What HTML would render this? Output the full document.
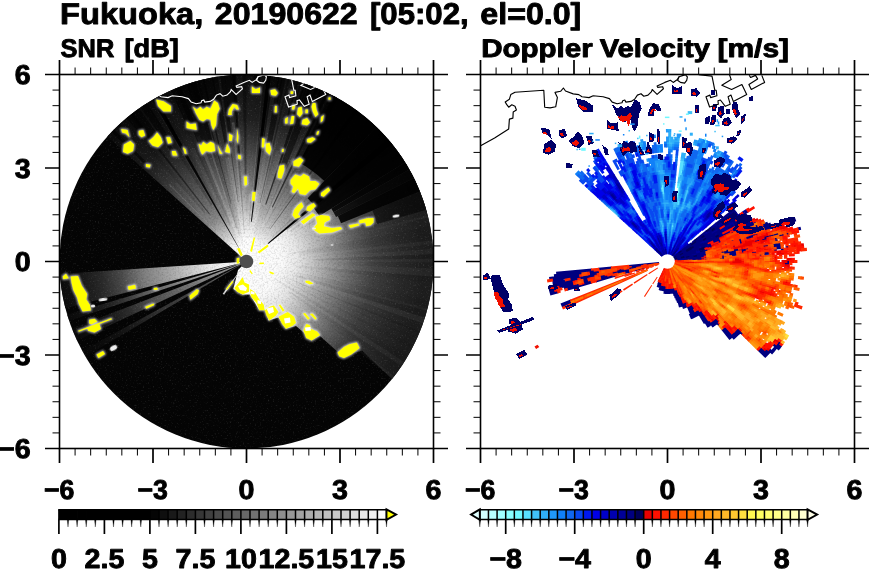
<!DOCTYPE html>
<html><head><meta charset="utf-8"><title>Fukuoka radar</title>
<style>
html,body{margin:0;padding:0;background:#fff;}
svg{display:block;will-change:transform}
text{font-family:"Liberation Sans",sans-serif;font-weight:bold;fill:#000;stroke:#000;stroke-width:0.9px;stroke-linejoin:round;text-rendering:geometricPrecision}
</style></head><body>
<svg width="870" height="570" viewBox="0 0 870 570">
<rect width="870" height="570" fill="#fff"/>
<defs>
<clipPath id="disc"><circle cx="246.5" cy="261.5" r="187.0"/></clipPath>
<radialGradient id="gN" gradientUnits="userSpaceOnUse" cx="246.5" cy="261.5" r="187.0">
<stop offset="0" stop-color="#fff"/><stop offset="0.12" stop-color="#fcfcfc"/><stop offset="0.2" stop-color="#e2e2e2"/><stop offset="0.28" stop-color="#c0c0c0"/><stop offset="0.36" stop-color="#9e9e9e"/><stop offset="0.44" stop-color="#808080"/><stop offset="0.52" stop-color="#666"/><stop offset="0.6" stop-color="#4c4c4c"/><stop offset="0.68" stop-color="#363636"/><stop offset="0.76" stop-color="#242424"/><stop offset="1" stop-color="#101010"/></radialGradient>
<radialGradient id="gE" gradientUnits="userSpaceOnUse" cx="246.5" cy="261.5" r="187.0">
<stop offset="0" stop-color="#fff"/><stop offset="0.19" stop-color="#fafafa"/><stop offset="0.27" stop-color="#e8e8e8"/><stop offset="0.37" stop-color="#bcbcbc"/><stop offset="0.475" stop-color="#8c8c8c"/><stop offset="0.58" stop-color="#606060"/><stop offset="0.68" stop-color="#404040"/><stop offset="0.82" stop-color="#2a2a2a"/><stop offset="0.95" stop-color="#1e1e1e"/></radialGradient>
<radialGradient id="gW" gradientUnits="userSpaceOnUse" cx="246.5" cy="261.5" r="187.0">
<stop offset="0" stop-color="#fff"/><stop offset="0.2" stop-color="#e8e8e8"/><stop offset="0.42" stop-color="#a4a4a4"/><stop offset="0.55" stop-color="#808080"/><stop offset="0.68" stop-color="#484848"/><stop offset="0.78" stop-color="#2a2a2a"/><stop offset="0.9" stop-color="#161616"/><stop offset="1" stop-color="#0c0c0c"/></radialGradient>
<radialGradient id="gD" gradientUnits="userSpaceOnUse" cx="246.5" cy="261.5" r="187.0">
<stop offset="0.15" stop-color="#000" stop-opacity="0"/><stop offset="0.45" stop-color="#000" stop-opacity="0.06"/><stop offset="1" stop-color="#000" stop-opacity="0.06"/></radialGradient>
<radialGradient id="gD2" gradientUnits="userSpaceOnUse" cx="246.5" cy="261.5" r="187.0">
<stop offset="0.08" stop-color="#000" stop-opacity="0"/><stop offset="0.28" stop-color="#000" stop-opacity="1"/><stop offset="1" stop-color="#000" stop-opacity="1"/></radialGradient>
<filter id="halo" x="-10%" y="-10%" width="120%" height="120%"><feGaussianBlur stdDeviation="0.9"/></filter>
<filter id="noise" x="0" y="0" width="100%" height="100%"><feTurbulence type="fractalNoise" baseFrequency="0.55" numOctaves="2" seed="4" result="t"/><feColorMatrix type="matrix" values="0 0 0 0 0  0 0 0 0 0  0 0 0 0 0  0 0 0 -2.4 1.35"/></filter>
<filter id="noisew" x="0" y="0" width="100%" height="100%"><feTurbulence type="fractalNoise" baseFrequency="0.6" numOctaves="2" seed="11" result="t"/><feColorMatrix type="matrix" values="0 0 0 0 1  0 0 0 0 1  0 0 0 0 1  0 0 0 3.2 -1.9"/></filter>
<filter id="blur1"><feGaussianBlur stdDeviation="0.7"/></filter>
</defs>
<g clip-path="url(#disc)">
<circle cx="246.5" cy="261.5" r="188.0" fill="#050505"/>
<polygon points="105.3,134.4 114.8,124.6 124.9,115.5 135.6,107.2 146.9,99.7 158.8,93.0 171.0,87.1 183.7,82.2 196.7,78.1 209.9,75.1 223.3,72.9 236.9,71.7 250.5,71.5 264.1,72.3 277.5,74.1 290.9,76.7 304.0,80.4 316.8,85.0 329.2,90.4 341.2,96.8 352.7,104.0 363.7,112.0 374.1,120.7 383.9,130.2 392.9,140.4 401.2,151.2 408.7,162.5 415.3,174.4 421.1,186.7 426.0,199.3 430.0,212.3 246.5,261.5" fill="url(#gN)"/>
<polygon points="246.5,261.5 392.0,139.4 400.2,149.8 407.6,160.8 414.3,172.3 420.1,184.2 425.0,196.5 429.1,209.1 432.3,222.0 434.7,235.1 436.0,248.2 436.5,261.5 436.0,274.8 434.7,287.9 432.3,301.0 429.1,313.9 425.0,326.5 420.1,338.8 414.3,350.7 407.6,362.2 400.2,373.2 396.2,378.5 397.0,384.0 362.0,350.5 351.0,354.0 343.9,358.1 338.4,352.6 320.0,336.0 310.8,340.6 303.4,332.3 296.0,325.9 285.9,328.7 278.5,317.6 268.4,320.4 266.6,310.2 258.3,308.4 250.0,294.6 242.6,294.6 233.4,289.1 238.0,270.0" fill="url(#gE)"/>
<polygon points="62.6,309.1 58.9,291.7 56.9,274.1 246.5,261.5" fill="url(#gW)" opacity="1"/>
<polygon points="66.3,321.8 64.3,315.5 246.5,261.5" fill="url(#gW)" opacity="0.75"/>
<polygon points="74.3,341.8 69.1,329.6 246.5,261.5" fill="url(#gW)" opacity="0.6"/>
<polygon points="82.8,357.9 79.5,352.2 246.5,261.5" fill="url(#gW)" opacity="0.35"/>
<polygon points="224.1,294.7 222.7,293.7 246.5,261.5" fill="#ddd"/>
<polygon points="105.3,134.4 115.3,124.1 126.1,114.5 137.5,105.9 149.6,98.1 162.2,91.2 175.3,85.3 246.5,261.5" fill="url(#gD2)" opacity="0.3"/><polygon points="175.3,85.3 187.8,80.8 200.5,77.1 213.5,74.4 246.5,261.5" fill="url(#gD2)" opacity="0.15"/><polygon points="292.5,77.1 305.2,80.8 317.7,85.3 329.8,90.7 341.5,97.0 352.7,104.0 363.5,111.8 373.6,120.3 383.2,129.5 392.0,139.4 246.5,261.5" fill="url(#gD2)" opacity="0.12"/>
<polygon points="105.3,134.4 107.5,132.0 208.3,225.9 207.7,226.6" fill="#000" opacity="0.08"/>
<polygon points="168.6,184.7 169.5,183.8 220.7,235.4 220.4,235.8" fill="#fff" opacity="0.12"/>
<polygon points="174.8,183.4 176.7,181.7 211.1,221.0 210.2,221.9" fill="#fff" opacity="0.04"/>
<polygon points="121.4,118.5 125.5,115.0 205.7,212.1 204.3,213.3" fill="#000" opacity="0.09"/>
<polygon points="129.2,112.0 131.1,110.6 210.6,214.5 210.0,215.0" fill="#000" opacity="0.13"/>
<polygon points="144.3,101.3 149.3,98.3 212.5,204.4 210.8,205.5" fill="#000" opacity="0.18"/>
<polygon points="152.8,96.2 158.9,92.9 216.7,204.2 214.7,205.3" fill="#000" opacity="0.09"/>
<polygon points="190.3,149.8 194.5,147.7 228.0,220.9 226.4,221.6" fill="#fff" opacity="0.03"/>
<polygon points="167.5,88.7 170.8,87.2 230.3,224.1 229.5,224.4" fill="#000" opacity="0.09"/>
<polygon points="196.3,137.0 199.7,135.7 223.2,198.9 221.5,199.5" fill="#fff" opacity="0.08"/>
<polygon points="180.3,83.4 187.1,81.0 229.2,209.1 227.3,209.8" fill="#000" opacity="0.08"/>
<polygon points="208.1,144.9 209.9,144.3 226.9,198.8 226.0,199.1" fill="#fff" opacity="0.10"/>
<polygon points="189.8,80.1 195.4,78.5 237.2,228.3 236.2,228.6" fill="#000" opacity="0.18"/>
<polygon points="195.4,78.5 201.6,76.9 239.9,234.4 239.0,234.7" fill="#000" opacity="0.07"/>
<polygon points="225.0,157.7 228.9,156.9 239.3,218.6 237.7,218.9" fill="#fff" opacity="0.10"/>
<polygon points="224.2,128.5 226.6,128.1 237.7,202.6 236.6,202.7" fill="#fff" opacity="0.06"/>
<polygon points="231.8,122.3 234.5,122.1 242.4,213.9 241.5,214.0" fill="#fff" opacity="0.13"/>
<polygon points="230.2,72.2 233.9,71.9 244.6,233.1 244.1,233.1" fill="#000" opacity="0.17"/>
<polygon points="238.2,137.4 241.6,137.2 244.8,218.2 243.6,218.2" fill="#fff" opacity="0.04"/>
<polygon points="243.2,125.7 244.7,125.6 245.6,193.4 244.8,193.4" fill="#fff" opacity="0.04"/>
<polygon points="244.1,71.5 248.0,71.5 246.9,215.8 245.9,215.8" fill="#000" opacity="0.06"/>
<polygon points="248.0,71.5 252.8,71.6 248.2,211.4 246.9,211.3" fill="#000" opacity="0.07"/>
<polygon points="252.8,71.6 258.1,71.9 250.6,194.3 248.7,194.2" fill="#000" opacity="0.10"/>
<polygon points="258.1,71.9 262.7,72.2 249.5,225.9 248.7,225.9" fill="#000" opacity="0.13"/>
<polygon points="256.8,141.1 259.1,141.3 253.7,192.9 252.4,192.8" fill="#fff" opacity="0.04"/>
<polygon points="257.0,161.2 259.6,161.6 253.1,210.8 251.8,210.7" fill="#fff" opacity="0.07"/>
<polygon points="266.5,135.9 270.0,136.5 255.0,216.3 253.7,216.1" fill="#fff" opacity="0.08"/>
<polygon points="270.5,134.2 273.0,134.7 258.1,205.9 257.0,205.7" fill="#fff" opacity="0.03"/>
<polygon points="269.0,153.8 270.2,154.0 261.2,194.8 260.5,194.6" fill="#fff" opacity="0.09"/>
<polygon points="270.8,151.4 273.4,151.9 258.8,211.3 257.6,211.0" fill="#fff" opacity="0.04"/>
<polygon points="276.2,150.3 279.2,151.2 257.5,224.6 256.4,224.3" fill="#fff" opacity="0.06"/>
<polygon points="278.5,153.7 281.9,154.8 264.8,206.4 263.0,205.8" fill="#fff" opacity="0.08"/>
<polygon points="284.1,164.5 286.3,165.3 268.1,209.4 266.9,208.9" fill="#fff" opacity="0.04"/>
<polygon points="319.2,86.0 322.6,87.4 264.4,220.5 263.6,220.2" fill="#000" opacity="0.09"/>
<polygon points="291.9,157.5 295.5,159.2 260.6,232.1 259.6,231.6" fill="#fff" opacity="0.10"/>
<polygon points="291.8,166.9 294.5,168.3 262.6,230.3 261.7,229.8" fill="#fff" opacity="0.05"/>
<polygon points="333.4,92.5 337.7,94.8 262.6,232.0 261.9,231.6" fill="#000" opacity="0.07"/>
<polygon points="343.1,97.9 346.1,99.7 278.6,209.3 277.7,208.7" fill="#000" opacity="0.05"/>
<polygon points="350.6,102.6 352.9,104.1 267.8,229.9 267.4,229.6" fill="#000" opacity="0.08"/>
<polygon points="314.8,167.2 316.8,168.8 273.0,226.5 272.2,226.0" fill="#fff" opacity="0.06"/>
<polygon points="337.1,158.6 340.6,161.8 293.0,212.2 291.3,210.6" fill="#fff" opacity="0.07"/>
<polygon points="324.4,181.7 326.9,184.2 281.4,228.0 280.3,226.9" fill="#fff" opacity="0.05"/>
<polygon points="383.4,129.8 386.0,132.6 272.4,237.6 271.9,237.1" fill="#000" opacity="0.11"/>
<polygon points="386.0,132.6 387.6,134.3 292.2,220.4 291.6,219.8" fill="#000" opacity="0.06"/>
<polygon points="389.1,136.0 393.5,141.1 297.1,220.1 295.5,218.3" fill="#000" opacity="0.07"/>
<polygon points="393.5,141.1 397.7,146.4 287.1,230.6 285.9,229.2" fill="#000" opacity="0.19"/>
<polygon points="398.9,148.1 401.0,151.0 291.1,229.6 290.5,228.8" fill="#000" opacity="0.03"/>
<polygon points="401.0,151.0 403.8,154.9 290.0,232.0 289.2,230.9" fill="#000" opacity="0.09"/>
<polygon points="357.8,186.1 359.3,188.3 277.0,241.7 276.6,241.1" fill="#fff" opacity="0.04"/>
<polygon points="408.3,161.9 409.9,164.5 288.7,236.4 288.3,235.8" fill="#000" opacity="0.04"/>
<polygon points="360.2,194.0 362.4,197.8 304.8,229.5 303.7,227.6" fill="#fff" opacity="0.03"/>
<polygon points="356.2,201.2 358.1,204.9 269.1,250.0 268.7,249.3" fill="#fff" opacity="0.05"/>
<polygon points="354.5,206.7 356.3,210.5 280.1,245.9 279.6,244.7" fill="#fff" opacity="0.02"/>
<polygon points="353.2,225.6 354.4,229.2 284.1,250.3 283.7,249.0" fill="#fff" opacity="0.03"/>
<polygon points="364.8,226.1 365.5,228.5 298.6,247.0 298.3,246.0" fill="#fff" opacity="0.02"/>
<polygon points="430.6,214.5 431.2,217.1 295.1,249.8 294.9,249.1" fill="#fff" opacity="0.03"/>
<polygon points="433.1,225.6 433.8,229.5 288.0,254.4 287.9,253.5" fill="#000" opacity="0.06"/>
<polygon points="433.8,229.5 434.7,235.7 299.0,254.3 298.8,252.6" fill="#000" opacity="0.05"/>
<polygon points="434.7,235.7 435.3,239.9 302.8,255.1 302.6,253.8" fill="#000" opacity="0.04"/>
<polygon points="435.3,239.9 435.7,244.1 302.5,256.4 302.4,255.1" fill="#fff" opacity="0.03"/>
<polygon points="436.1,248.6 436.4,254.2 274.7,260.4 274.7,259.6" fill="#fff" opacity="0.04"/>
<polygon points="436.4,254.2 436.5,258.5 313.6,260.4 313.6,258.9" fill="#000" opacity="0.08"/>
<polygon points="436.5,258.5 436.5,262.5 311.9,261.8 311.9,260.5" fill="#fff" opacity="0.03"/>
<polygon points="436.4,268.6 436.2,271.3 308.0,264.7 308.1,263.8" fill="#fff" opacity="0.04"/>
<polygon points="436.2,271.3 435.9,276.8 301.4,265.9 301.5,264.3" fill="#fff" opacity="0.04"/>
<polygon points="435.9,276.8 435.3,282.6 296.6,267.1 296.7,265.5" fill="#000" opacity="0.05"/>
<polygon points="430.4,309.2 429.7,311.7 306.9,278.1 307.1,277.2" fill="#fff" opacity="0.03"/>
<polygon points="429.7,311.7 427.8,318.5 295.2,276.8 295.7,275.0" fill="#000" opacity="0.06"/>
<polygon points="427.8,318.5 425.8,324.4 291.8,277.4 292.3,275.9" fill="#fff" opacity="0.05"/>
<polygon points="422.9,332.2 422.0,334.3 283.1,276.7 283.2,276.2" fill="#000" opacity="0.11"/>
<polygon points="420.0,338.9 418.8,341.6 279.4,276.8 279.6,276.3" fill="#000" opacity="0.03"/>
<polygon points="416.5,346.3 414.7,349.8 284.4,281.4 284.8,280.6" fill="#000" opacity="0.05"/>
<polygon points="410.6,357.3 406.9,363.4 273.7,278.8 274.3,277.7" fill="#000" opacity="0.06"/>
<polygon points="406.9,363.4 403.8,368.1 295.4,294.6 296.3,293.1" fill="#fff" opacity="0.03"/>
<polygon points="403.8,368.1 400.6,372.7 290.2,293.1 291.1,291.8" fill="#000" opacity="0.05"/>
<polygon points="396.5,378.1 394.8,380.2 298.2,302.9 298.8,302.1" fill="#fff" opacity="0.04"/>
<rect x="59.5" y="74.5" width="374.0" height="374.0" filter="url(#noise)" opacity="0.13"/>
<rect x="59.5" y="74.5" width="374.0" height="374.0" filter="url(#noisew)" opacity="0.12"/>
<polygon points="335.7,93.7 347.2,100.4 358.2,107.8 368.6,116.0 378.5,124.8 324.3,180.9 318.5,175.7 312.3,170.9 305.9,166.5 299.1,162.6" fill="#000" opacity="0.93"/>
<polygon points="378.5,124.8 393.1,140.6 314.4,205.5 307.6,198.2" fill="#000" opacity="0.93"/>
<polygon points="390.3,137.4 394.2,141.9 268.3,243.9 267.7,243.2" fill="#000" opacity="1"/>
<polygon points="393.1,140.6 407.6,160.8 319.4,215.9 312.9,206.8" fill="#000" opacity="0.93"/>
<polygon points="407.6,160.8 411.9,167.9 333.5,212.3 331.3,208.5" fill="#000" opacity="0.9"/>
<polygon points="411.9,167.9 416.5,176.7 336.0,216.9 333.5,212.3" fill="#000" opacity="0.82"/>
<polygon points="416.5,176.7 422.7,190.3 341.1,223.3 337.8,216.0" fill="#000" opacity="0.9"/>
<polygon points="422.7,190.3 429.1,209.1 377.2,224.0 372.6,210.6" fill="#000" opacity="0.55"/>
<polygon points="432.3,301.0 428.7,315.5 423.9,329.6 418.0,343.3 411.0,356.5 403.1,369.1 394.2,381.1 246.5,261.5" fill="url(#gD)"/>
<polygon points="150.8,97.4 154.5,95.2 242.1,253.6 242.0,253.7" fill="#000" opacity="0.9"/>
<polygon points="267.2,72.6 271.5,73.1 251.8,221.8 250.9,221.7" fill="#000" opacity="0.9"/>
<polygon points="305.8,81.0 309.0,82.1 266.2,204.8 265.2,204.5" fill="#000" opacity="0.6"/>
<polygon points="326.8,89.3 329.8,90.7 272.8,207.6 271.9,207.1" fill="#000" opacity="0.6"/>
<polygon points="196.4,78.2 198.3,77.7 231.3,203.5 230.7,203.6" fill="#000" opacity="0.4"/>
<polygon points="219.2,73.5 220.9,73.2 238.4,202.0 237.9,202.1" fill="#000" opacity="0.35"/>
<polygon points="288.3,76.1 290.2,76.6 260.3,203.1 259.7,203.0" fill="#000" opacity="0.35"/>
<polygon points="357.1,107.0 359.2,108.6 270.2,229.3 269.8,229.0" fill="#000" opacity="0.4"/>
<polygon points="128.5,112.6 130.6,111.0 209.9,214.0 209.2,214.5" fill="#000" opacity="0.4"/>
<polygon points="153.7,95.7 158.0,93.4 162.3,91.2 165.6,97.9 161.5,100.0 157.4,102.2" fill="#000" opacity="0.55"/>
<polygon points="185.6,81.5 198.9,77.6 212.4,74.6 217.5,102.8 206.1,105.3 194.8,108.7" fill="#000" opacity="0.55"/>
<polygon points="169.9,87.6 174.8,85.6 179.7,83.6 194.1,121.8 190.2,123.3 186.3,124.9" fill="#000" opacity="0.55"/>
<polygon points="224.0,72.8 229.9,72.2 235.9,71.8 237.8,106.7 233.0,107.0 228.1,107.5" fill="#000" opacity="0.55"/>
<polygon points="253.7,71.6 257.1,71.8 260.4,72.0 259.1,90.0 256.1,89.8 253.0,89.6" fill="#000" opacity="0.55"/>
<polygon points="115.5,123.9 116.8,122.6 118.2,121.4 125.3,129.2 124.1,130.3 122.8,131.5" fill="#000" opacity="0.55"/>
<polygon points="124.6,115.8 126.4,114.3 128.2,112.8 142.9,131.2 141.3,132.5 139.7,133.8" fill="#000" opacity="0.55"/>
<polygon points="127.9,113.1 132.7,109.4 137.5,105.9 158.3,135.5 154.3,138.3 150.5,141.3" fill="#000" opacity="0.55"/>
<polygon points="142.4,102.6 144.1,101.5 145.8,100.4 169.7,138.6 168.4,139.4 167.1,140.3" fill="#000" opacity="0.55"/>
<polygon points="139.0,104.9 140.8,103.6 142.7,102.4 175.3,152.3 174.0,153.2 172.7,154.0" fill="#000" opacity="0.55"/>
<polygon points="153.1,96.0 154.0,95.6 154.8,95.1 184.9,149.7 184.3,150.0 183.7,150.3" fill="#000" opacity="0.55"/>
<polygon points="109.2,130.1 110.5,128.8 111.8,127.5 149.3,164.9 148.4,165.8 147.5,166.7" fill="#000" opacity="0.55"/>
<polygon points="174.5,85.7 184.6,81.9 195.0,78.6 212.8,141.9 206.0,144.0 199.4,146.5" fill="#000" opacity="0.55"/>
<polygon points="201.9,76.8 202.9,76.6 203.8,76.4 220.3,148.0 219.8,148.1 219.2,148.3" fill="#000" opacity="0.55"/>
<polygon points="211.6,74.7 214.4,74.2 217.3,73.8 228.6,146.5 226.9,146.7 225.1,147.1" fill="#000" opacity="0.55"/>
<polygon points="220.4,73.3 222.4,73.0 224.4,72.8 231.8,136.2 230.5,136.4 229.2,136.5" fill="#000" opacity="0.55"/>
<polygon points="232.5,72.0 232.8,72.0 233.0,72.0 237.3,131.9 237.1,131.9 236.9,132.0" fill="#000" opacity="0.55"/>
<polygon points="232.4,72.0 233.8,71.9 235.1,71.8 240.3,157.6 239.5,157.6 238.8,157.7" fill="#000" opacity="0.55"/>
<polygon points="274.1,73.5 277.0,74.0 279.8,74.4 276.6,92.7 274.0,92.2 271.4,91.8" fill="#000" opacity="0.55"/>
<polygon points="282.0,74.9 282.5,75.0 283.1,75.1 276.4,108.9 276.0,108.8 275.6,108.7" fill="#000" opacity="0.55"/>
<polygon points="297.4,78.4 298.4,78.7 299.3,79.0 287.5,120.0 286.7,119.8 286.0,119.5" fill="#000" opacity="0.55"/>
<polygon points="304.0,80.4 305.2,80.8 306.4,81.2 293.8,119.0 292.9,118.7 291.9,118.4" fill="#000" opacity="0.55"/>
<polygon points="301.3,79.6 301.8,79.7 302.3,79.9 293.8,107.7 293.3,107.5 292.9,107.4" fill="#000" opacity="0.55"/>
<polygon points="308.1,81.8 310.3,82.5 312.5,83.3 302.5,110.3 300.7,109.6 298.8,109.0" fill="#000" opacity="0.55"/>
<polygon points="317.7,85.3 320.9,86.7 324.2,88.1 309.1,122.0 306.4,120.8 303.8,119.7" fill="#000" opacity="0.55"/>
<polygon points="321.0,86.7 324.8,88.4 328.5,90.1 319.8,108.4 316.5,106.9 313.1,105.4" fill="#000" opacity="0.55"/>
<polygon points="334.8,93.2 335.3,93.5 335.9,93.8 323.0,118.1 322.5,117.8 322.0,117.6" fill="#000" opacity="0.55"/>
<polygon points="332.6,92.1 332.8,92.2 333.0,92.3 329.2,99.9 329.0,99.8 328.8,99.7" fill="#000" opacity="0.55"/>
<polygon points="332.1,91.9 335.4,93.6 338.6,95.3 313.3,141.0 311.0,139.7 308.6,138.4" fill="#000" opacity="0.55"/>
<polygon points="338.3,95.2 338.6,95.3 338.8,95.4 317.7,133.4 317.5,133.3 317.3,133.2" fill="#000" opacity="0.55"/>
<polygon points="271.7,73.2 272.8,73.3 273.9,73.5 264.0,141.4 263.3,141.3 262.6,141.2" fill="#000" opacity="0.55"/>
<polygon points="278.5,74.2 282.3,74.9 286.2,75.7 271.1,146.1 268.8,145.7 266.4,145.2" fill="#000" opacity="0.55"/>
<polygon points="305.0,80.7 305.5,80.9 306.0,81.1 282.7,151.6 282.4,151.5 282.1,151.4" fill="#000" opacity="0.55"/>
<polygon points="328.2,89.9 333.4,92.5 338.6,95.3 301.7,161.9 298.6,160.2 295.5,158.7" fill="#000" opacity="0.55"/>
<polygon points="309.8,82.4 314.5,84.1 319.1,85.9 285.0,168.4 282.6,167.4 280.1,166.5" fill="#000" opacity="0.55"/>
<polygon points="295.5,77.9 295.8,78.0 296.1,78.1 291.8,93.9 291.5,93.8 291.2,93.7" fill="#000" opacity="0.55"/>
<polygon points="316.4,84.8 317.1,85.1 317.9,85.4 306.9,112.3 306.3,112.1 305.7,111.9" fill="#000" opacity="0.55"/>
<polygon points="242.4,71.5 244.4,71.5 246.4,71.5 246.5,179.4 245.6,179.4 244.7,179.4" fill="#000" opacity="0.35"/>
<polygon points="264.2,72.3 267.6,72.7 270.9,73.1 255.1,195.1 253.9,194.9 252.8,194.8" fill="#000" opacity="0.35"/>
<path d="M156.2 99.5L163.5 101.3L170.9 105.9L170.9 111.4L163.5 111.4L158.0 105.9ZM193.0 106.8L196.7 109.6L200.4 106.8L203.1 109.6L206.8 106.8L210.5 108.7L214.2 100.4L217.9 103.1L219.7 108.7L216.9 114.2L216.0 125.2L213.3 129.9L211.4 125.2L210.5 119.7L206.8 118.8L203.1 121.6L199.4 119.7L195.8 113.3ZM186.6 121.6L190.2 124.3L195.8 123.4L196.7 129.9L191.2 128.9L186.6 128.0ZM228.9 109.6L232.6 104.1L237.2 105.0L239.0 109.6L236.3 109.6L234.4 106.8L231.7 111.4L231.7 115.1L228.0 115.1ZM251.9 86.6L255.6 89.3L260.0 87.5L260.0 93.0L251.9 93.0ZM121.2 128.9L127.6 129.9L129.5 137.2L125.8 133.5L122.1 132.6ZM123.9 144.6L130.4 140.9L134.1 144.6L133.1 151.0L127.6 153.8L123.0 152.0ZM138.7 130.8L143.3 129.9L145.1 135.4L141.4 137.2L138.7 134.5ZM148.8 140.9L153.4 137.2L157.1 132.6L160.8 137.2L162.6 142.7L158.0 147.3L152.5 145.5ZM166.3 137.2L170.0 137.2L171.8 142.7L168.1 143.7ZM171.8 151.0L175.5 151.0L177.3 155.6L172.7 155.6ZM182.9 147.3L185.6 149.2L186.6 153.8L184.7 153.8ZM146.0 163.9L150.6 164.8L149.7 167.6L146.0 166.7ZM198.5 143.7L201.3 145.5L203.1 141.8L206.8 144.6L210.5 141.8L214.2 143.7L215.1 151.0L210.5 152.0L205.9 151.0L202.2 154.7L200.4 151.0ZM217.9 145.5L220.6 151.0L222.5 153.8L219.7 153.8ZM227.1 143.7L229.8 149.2L229.8 152.9L225.2 152.0ZM228.9 133.5L232.6 135.4L231.7 140.9L228.9 140.9ZM237.2 128.9L238.5 136.3L238.1 143.7L236.6 140.0ZM238.1 154.7L240.9 155.6L240.9 159.3L238.1 158.4ZM270.4 90.3L275.0 89.3L277.8 93.0L275.9 95.8L271.3 94.9ZM275.0 105.9L276.8 105.9L276.8 112.4L274.6 112.4ZM285.1 118.8L287.9 117.0L287.5 123.4L285.1 123.4ZM291.6 116.0L294.3 116.0L293.4 123.4L290.1 124.3ZM292.5 105.0L295.2 105.0L294.3 109.6L291.9 109.6ZM298.0 107.8L301.7 106.8L302.6 113.3L299.9 117.0L297.1 114.2ZM302.6 119.7L307.2 117.9L310.0 122.5L307.2 125.2L301.7 124.3ZM312.7 103.1L315.5 103.1L316.4 109.6L318.3 114.2L315.5 117.0L312.7 111.4L311.5 106.8ZM321.0 117.0L323.8 115.1L322.9 120.6L320.7 122.5ZM328.4 97.6L330.6 97.3L330.6 99.8L328.4 99.8ZM307.2 139.1L312.7 137.2L315.5 139.1L310.9 142.7L307.2 142.2ZM317.0 131.7L319.2 130.8L318.3 134.5L316.4 134.8ZM262.1 138.1L264.9 139.1L263.9 147.3L261.7 147.3ZM265.8 143.7L269.5 142.7L271.3 149.2L269.5 154.7L265.8 151.0ZM282.0 149.2L283.8 148.8L283.5 152.0L281.8 152.0ZM293.4 161.2L299.9 157.5L303.5 160.2L298.9 166.7L293.4 165.8ZM279.6 165.8L284.2 164.8L284.2 170.4L282.7 175.0L281.4 178.7L277.8 177.7L277.8 173.1ZM290.6 91.2L293.4 91.2L293.0 93.9L290.6 93.9ZM305.4 109.6L308.1 109.6L307.8 113.3L305.4 113.3ZM244.1 176.4L247.0 176.4L247.0 184.7L244.6 185.7ZM252.5 192.1L255.7 192.1L254.7 201.3L252.0 200.4ZM290.6 180.1L295.2 174.6L300.8 176.4L303.5 173.7L309.1 176.4L310.0 181.0L315.5 181.0L319.2 183.8L315.5 189.3L310.0 190.3L305.4 194.9L299.9 193.9L298.0 188.4L294.3 193.0L291.6 192.1L293.4 186.6L290.6 183.8ZM321.0 193.0L328.4 187.5L330.2 190.3L323.8 196.7L321.0 195.8ZM298.0 205.0L301.7 202.2L303.5 206.8L300.8 209.6L298.0 214.2L300.8 217.0L295.2 218.8L292.5 215.1L294.3 209.6ZM307.2 206.8L313.7 203.1L315.9 205.9L310.0 211.4L306.3 210.5ZM300.8 221.6L312.7 213.3L315.5 215.1L303.5 224.3ZM315.5 217.0L321.0 215.1L329.3 216.0L330.2 219.7L324.7 222.5L323.8 226.2L332.1 228.0L340.4 227.1L342.2 228.9L332.1 232.6L319.2 233.5L312.7 228.9L317.3 223.4ZM348.7 225.2L357.9 223.4L359.7 225.2L350.5 228.0ZM358.8 220.6L367.1 218.3L373.5 217.9L373.5 222.5L370.8 225.2L366.2 226.2L365.2 222.5L359.7 223.4ZM250.1 251.0L253.8 237.2L255.1 237.8L252.0 252.0ZM257.5 252.0L267.6 244.6L268.5 246.4L259.3 253.2ZM259.3 263.0L263.9 262.6L263.9 263.9L259.3 264.3ZM269.5 271.3L274.1 273.1L273.1 274.6L269.5 273.1ZM62.7 276.4L66.0 273.7L68.8 278.3L63.3 279.2ZM70.7 276.4L78.0 275.9L81.7 285.6L87.2 293.9L86.3 299.5L90.0 305.0L90.9 310.5L82.6 311.4L78.9 304.1L77.1 297.6L73.4 290.2L71.6 282.9ZM89.1 319.7L94.6 318.8L97.4 321.6L91.8 324.3L89.1 323.4ZM87.2 327.1L99.2 323.4L101.0 328.9L94.6 332.6L88.1 330.8ZM78.0 330.8L111.2 318.2L112.1 319.3L78.9 331.7ZM127.7 286.6L135.1 284.7L136.0 288.4L128.7 289.9ZM153.5 288.0L157.2 287.5L157.8 289.7L154.1 289.9ZM145.2 306.8L153.5 303.5L154.4 305.0L146.2 308.7ZM189.4 295.8L196.8 289.3L199.0 290.2L197.7 293.9L190.4 299.8ZM96.5 354.5L103.0 351.0L105.0 354.0L98.5 358.0ZM234.3 288.1L238.9 282.6L242.6 277.1L244.5 282.6L249.1 284.5L249.1 291.8L242.6 294.6L237.1 291.8ZM250.0 289.1L254.6 291.8L259.2 299.2L263.8 304.7L264.7 310.2L259.2 310.2L256.4 302.9L250.9 296.4ZM264.7 310.2L270.2 306.6L273.9 305.6L278.5 312.1L275.8 315.8L269.3 320.4L266.6 315.8ZM278.5 316.7L287.7 312.1L294.2 316.7L296.0 323.1L292.3 325.9L285.9 328.7L282.2 324.1ZM278.5 304.7L280.4 304.7L284.6 310.2L282.8 311.7ZM303.4 330.5L306.2 324.1L309.8 325.0L310.8 328.7L317.2 331.4L320.0 335.1L311.7 340.6L306.2 337.9ZM303.0 313.6L305.2 313.0L309.8 318.5L308.0 319.8ZM309.8 313.9L312.6 313.6L316.7 318.5L315.4 319.8ZM305.2 280.8L308.9 280.8L313.5 283.5L309.8 284.5L305.6 282.6ZM337.5 352.6L343.9 347.1L349.4 344.3L356.8 342.5L359.6 348.0L351.3 354.4L343.9 358.1L339.3 356.3ZM226.0 289.1L232.5 280.8L233.4 281.7L227.0 290.0ZM270.2 271.9L273.9 273.0L273.6 274.2L270.2 273.0ZM259.6 262.4L263.8 262.7L263.8 263.8L259.6 263.5ZM236.7 258.3L239.3 257.8L239.3 263.3L236.7 263.8ZM237.0 248.5L239.5 248.0L242.8 255.0L240.8 256.5ZM250.0 269.7L252.8 273.4L251.8 274.3L249.6 271.6Z" fill="#fff" stroke="#fff" stroke-width="1.7" stroke-linejoin="round" filter="url(#halo)" opacity="0.75"/>
<path d="M156.2 99.5L163.5 101.3L170.9 105.9L170.9 111.4L163.5 111.4L158.0 105.9ZM193.0 106.8L196.7 109.6L200.4 106.8L203.1 109.6L206.8 106.8L210.5 108.7L214.2 100.4L217.9 103.1L219.7 108.7L216.9 114.2L216.0 125.2L213.3 129.9L211.4 125.2L210.5 119.7L206.8 118.8L203.1 121.6L199.4 119.7L195.8 113.3ZM186.6 121.6L190.2 124.3L195.8 123.4L196.7 129.9L191.2 128.9L186.6 128.0ZM228.9 109.6L232.6 104.1L237.2 105.0L239.0 109.6L236.3 109.6L234.4 106.8L231.7 111.4L231.7 115.1L228.0 115.1ZM251.9 86.6L255.6 89.3L260.0 87.5L260.0 93.0L251.9 93.0ZM121.2 128.9L127.6 129.9L129.5 137.2L125.8 133.5L122.1 132.6ZM123.9 144.6L130.4 140.9L134.1 144.6L133.1 151.0L127.6 153.8L123.0 152.0ZM138.7 130.8L143.3 129.9L145.1 135.4L141.4 137.2L138.7 134.5ZM148.8 140.9L153.4 137.2L157.1 132.6L160.8 137.2L162.6 142.7L158.0 147.3L152.5 145.5ZM166.3 137.2L170.0 137.2L171.8 142.7L168.1 143.7ZM171.8 151.0L175.5 151.0L177.3 155.6L172.7 155.6ZM182.9 147.3L185.6 149.2L186.6 153.8L184.7 153.8ZM146.0 163.9L150.6 164.8L149.7 167.6L146.0 166.7ZM198.5 143.7L201.3 145.5L203.1 141.8L206.8 144.6L210.5 141.8L214.2 143.7L215.1 151.0L210.5 152.0L205.9 151.0L202.2 154.7L200.4 151.0ZM217.9 145.5L220.6 151.0L222.5 153.8L219.7 153.8ZM227.1 143.7L229.8 149.2L229.8 152.9L225.2 152.0ZM228.9 133.5L232.6 135.4L231.7 140.9L228.9 140.9ZM237.2 128.9L238.5 136.3L238.1 143.7L236.6 140.0ZM238.1 154.7L240.9 155.6L240.9 159.3L238.1 158.4ZM270.4 90.3L275.0 89.3L277.8 93.0L275.9 95.8L271.3 94.9ZM275.0 105.9L276.8 105.9L276.8 112.4L274.6 112.4ZM285.1 118.8L287.9 117.0L287.5 123.4L285.1 123.4ZM291.6 116.0L294.3 116.0L293.4 123.4L290.1 124.3ZM292.5 105.0L295.2 105.0L294.3 109.6L291.9 109.6ZM298.0 107.8L301.7 106.8L302.6 113.3L299.9 117.0L297.1 114.2ZM302.6 119.7L307.2 117.9L310.0 122.5L307.2 125.2L301.7 124.3ZM312.7 103.1L315.5 103.1L316.4 109.6L318.3 114.2L315.5 117.0L312.7 111.4L311.5 106.8ZM321.0 117.0L323.8 115.1L322.9 120.6L320.7 122.5ZM328.4 97.6L330.6 97.3L330.6 99.8L328.4 99.8ZM307.2 139.1L312.7 137.2L315.5 139.1L310.9 142.7L307.2 142.2ZM317.0 131.7L319.2 130.8L318.3 134.5L316.4 134.8ZM262.1 138.1L264.9 139.1L263.9 147.3L261.7 147.3ZM265.8 143.7L269.5 142.7L271.3 149.2L269.5 154.7L265.8 151.0ZM282.0 149.2L283.8 148.8L283.5 152.0L281.8 152.0ZM293.4 161.2L299.9 157.5L303.5 160.2L298.9 166.7L293.4 165.8ZM279.6 165.8L284.2 164.8L284.2 170.4L282.7 175.0L281.4 178.7L277.8 177.7L277.8 173.1ZM290.6 91.2L293.4 91.2L293.0 93.9L290.6 93.9ZM305.4 109.6L308.1 109.6L307.8 113.3L305.4 113.3ZM244.1 176.4L247.0 176.4L247.0 184.7L244.6 185.7ZM252.5 192.1L255.7 192.1L254.7 201.3L252.0 200.4ZM290.6 180.1L295.2 174.6L300.8 176.4L303.5 173.7L309.1 176.4L310.0 181.0L315.5 181.0L319.2 183.8L315.5 189.3L310.0 190.3L305.4 194.9L299.9 193.9L298.0 188.4L294.3 193.0L291.6 192.1L293.4 186.6L290.6 183.8ZM321.0 193.0L328.4 187.5L330.2 190.3L323.8 196.7L321.0 195.8ZM298.0 205.0L301.7 202.2L303.5 206.8L300.8 209.6L298.0 214.2L300.8 217.0L295.2 218.8L292.5 215.1L294.3 209.6ZM307.2 206.8L313.7 203.1L315.9 205.9L310.0 211.4L306.3 210.5ZM300.8 221.6L312.7 213.3L315.5 215.1L303.5 224.3ZM315.5 217.0L321.0 215.1L329.3 216.0L330.2 219.7L324.7 222.5L323.8 226.2L332.1 228.0L340.4 227.1L342.2 228.9L332.1 232.6L319.2 233.5L312.7 228.9L317.3 223.4ZM348.7 225.2L357.9 223.4L359.7 225.2L350.5 228.0ZM358.8 220.6L367.1 218.3L373.5 217.9L373.5 222.5L370.8 225.2L366.2 226.2L365.2 222.5L359.7 223.4ZM250.1 251.0L253.8 237.2L255.1 237.8L252.0 252.0ZM257.5 252.0L267.6 244.6L268.5 246.4L259.3 253.2ZM259.3 263.0L263.9 262.6L263.9 263.9L259.3 264.3ZM269.5 271.3L274.1 273.1L273.1 274.6L269.5 273.1ZM62.7 276.4L66.0 273.7L68.8 278.3L63.3 279.2ZM70.7 276.4L78.0 275.9L81.7 285.6L87.2 293.9L86.3 299.5L90.0 305.0L90.9 310.5L82.6 311.4L78.9 304.1L77.1 297.6L73.4 290.2L71.6 282.9ZM89.1 319.7L94.6 318.8L97.4 321.6L91.8 324.3L89.1 323.4ZM87.2 327.1L99.2 323.4L101.0 328.9L94.6 332.6L88.1 330.8ZM78.0 330.8L111.2 318.2L112.1 319.3L78.9 331.7ZM127.7 286.6L135.1 284.7L136.0 288.4L128.7 289.9ZM153.5 288.0L157.2 287.5L157.8 289.7L154.1 289.9ZM145.2 306.8L153.5 303.5L154.4 305.0L146.2 308.7ZM189.4 295.8L196.8 289.3L199.0 290.2L197.7 293.9L190.4 299.8ZM96.5 354.5L103.0 351.0L105.0 354.0L98.5 358.0ZM234.3 288.1L238.9 282.6L242.6 277.1L244.5 282.6L249.1 284.5L249.1 291.8L242.6 294.6L237.1 291.8ZM250.0 289.1L254.6 291.8L259.2 299.2L263.8 304.7L264.7 310.2L259.2 310.2L256.4 302.9L250.9 296.4ZM264.7 310.2L270.2 306.6L273.9 305.6L278.5 312.1L275.8 315.8L269.3 320.4L266.6 315.8ZM278.5 316.7L287.7 312.1L294.2 316.7L296.0 323.1L292.3 325.9L285.9 328.7L282.2 324.1ZM278.5 304.7L280.4 304.7L284.6 310.2L282.8 311.7ZM303.4 330.5L306.2 324.1L309.8 325.0L310.8 328.7L317.2 331.4L320.0 335.1L311.7 340.6L306.2 337.9ZM303.0 313.6L305.2 313.0L309.8 318.5L308.0 319.8ZM309.8 313.9L312.6 313.6L316.7 318.5L315.4 319.8ZM305.2 280.8L308.9 280.8L313.5 283.5L309.8 284.5L305.6 282.6ZM337.5 352.6L343.9 347.1L349.4 344.3L356.8 342.5L359.6 348.0L351.3 354.4L343.9 358.1L339.3 356.3ZM226.0 289.1L232.5 280.8L233.4 281.7L227.0 290.0ZM270.2 271.9L273.9 273.0L273.6 274.2L270.2 273.0ZM259.6 262.4L263.8 262.7L263.8 263.8L259.6 263.5ZM236.7 258.3L239.3 257.8L239.3 263.3L236.7 263.8ZM237.0 248.5L239.5 248.0L242.8 255.0L240.8 256.5ZM250.0 269.7L252.8 273.4L251.8 274.3L249.6 271.6Z" fill="#ffff00"/>
<path d="M238.0 286.0L243.0 284.5L247.0 288.0L246.0 291.0L240.0 290.0ZM251.0 291.0L254.5 292.0L254.5 294.5L251.0 294.0ZM257.5 300.0L261.0 301.0L261.0 304.0L257.5 303.5ZM266.5 308.5L273.0 307.0L274.0 312.0L269.0 314.0ZM284.0 318.5L290.0 317.5L290.5 322.5L285.0 323.5ZM305.0 327.5L310.5 327.0L311.0 330.5L305.5 331.0Z" fill="#fff" filter="url(#blur1)"/>
<ellipse cx="103" cy="299.5" rx="4.5" ry="1.5" transform="rotate(-8 103 299.5)" fill="#eee" filter="url(#blur1)"/>
<ellipse cx="93" cy="306" rx="2.25" ry="1.5" transform="rotate(-5 93 306)" fill="#eee" filter="url(#blur1)"/>
<ellipse cx="113.5" cy="348" rx="4.0" ry="2.5" transform="rotate(-30 113.5 348)" fill="#eee" filter="url(#blur1)"/>
<ellipse cx="396" cy="216" rx="3.5" ry="1.5" transform="rotate(-10 396 216)" fill="#eee" filter="url(#blur1)"/>
<ellipse cx="314" cy="228.5" rx="2.0" ry="1.0" transform="rotate(0 314 228.5)" fill="#eee" filter="url(#blur1)"/>
<ellipse cx="332" cy="245" rx="1.5" ry="0.8" transform="rotate(-15 332 245)" fill="#eee" filter="url(#blur1)"/>
<circle cx="246.5" cy="261.5" r="6.8" fill="#4c4c4c"/>
<polyline points="59.6,145.8 73.6,138.1 87.7,128.9 88.4,119.1 91.9,118.1 92.2,112.1 95.4,110.0 94.0,106.2 90.8,104.8 87.7,107.2 85.6,104.4 84.2,102.0 88.4,99.2 89.8,94.6 94.0,92.2 122.8,90.3 123.7,107.2 129.1,107.9 134.7,106.8 136.4,97.4 134.0,92.4 139.6,91.3 142.4,88.0 144.5,91.0 152.2,93.9 157.8,94.6 161.0,96.8 168.0,97.6 172.2,95.8 182.1,96.8 188.4,98.6 191.2,102.1 196.1,103.8 201.0,102.8 201.7,100.7 203.8,100.0 204.8,102.1 210.1,101.4 213.6,99.3 216.4,95.1 220.0,93.7 222.8,96.2 227.0,95.1 230.5,91.6 231.2,89.5 233.3,91.6 236.1,94.4 242.4,88.8 241.7,86.7 236.8,87.4 236.1,86.0 243.8,82.4 249.4,80.3 252.2,82.4 256.4,79.6 258.0,76.8 262.2,75.4 264.0,75.0" fill="none" stroke="#fff" stroke-width="1.1"/>
<polyline points="258.0,76.8 256.6,80.3 259.4,82.4 263.6,83.1 265.7,80.3 266.4,76.8 264.5,75.0" fill="none" stroke="#fff" stroke-width="1.1"/>
<polyline points="277.7,74.7 291.0,76.1 293.8,90.2 295.2,90.2 295.9,95.8 289.6,97.6 288.9,95.1 285.0,96.8 288.6,107.0 297.3,104.2 297.0,100.7 299.4,100.0 304.3,106.3 309.2,104.2 307.1,96.8 310.0,95.1 312.3,101.4 325.7,94.4 320.9,84.6 310.6,89.5 300.8,85.3 310.2,79.6 308.5,74.7" fill="none" stroke="#fff" stroke-width="1.1"/>
<polyline points="328.2,75.2 329.6,77.5 334.5,75.4 336.6,78.9 327.9,84.6 330.3,89.5 343.6,82.4 340.8,75.4" fill="none" stroke="#fff" stroke-width="1.1"/>
</g>
<path fill="#88ffff" d="M661.7 192.7L661.2 186.8L663.3 186.7L663.7 192.6Z"/>
<path fill="#70f8ff" d="M661.9 195.2L661.6 191.8L663.6 191.7L663.8 195.1ZM661.3 187.7L661.0 184.3L663.2 184.2L663.4 187.6ZM671.6 227.7L672.0 224.3L673.4 224.5L672.9 227.9ZM676.8 188.0L677.2 184.7L679.3 185.0L678.8 188.3ZM676.6 198.1L679.3 179.9L681.5 180.2L678.5 198.4ZM680.3 173.4L680.8 170.0L683.2 170.4L682.6 173.7Z"/>
<path fill="#58e0ff" d="M662.3 232.9L661.3 227.1L662.7 226.9L663.6 232.7ZM660.2 190.3L659.9 186.9L662.0 186.8L662.3 190.1ZM661.1 185.2L660.8 181.8L663.0 181.7L663.2 185.1ZM663.0 195.1L662.4 184.2L664.5 184.1L665.0 195.0ZM671.0 227.6L671.3 224.2L672.8 224.4L672.3 227.8ZM670.6 235.1L671.0 231.8L672.3 231.9L671.8 235.3ZM671.2 230.2L671.7 226.8L673.1 227.0L672.6 230.4ZM671.9 225.2L672.3 221.8L673.8 222.1L673.3 225.4ZM677.1 185.6L677.5 182.2L679.7 182.5L679.2 185.9ZM678.1 178.1L680.5 159.9L683.0 160.2L680.3 178.4ZM672.1 227.8L672.6 224.4L674.1 224.6L673.5 228.0ZM676.2 200.6L676.7 197.2L678.6 197.5L678.1 200.9ZM679.9 175.8L680.4 172.5L682.7 172.9L682.2 176.2ZM680.6 170.9L682.2 160.1L684.8 160.5L683.0 171.3ZM676.4 205.7L677.4 199.8L679.3 200.2L678.2 206.0ZM677.4 205.8L678.5 200.0L680.3 200.4L679.2 206.2ZM683.6 202.1L687.1 189.2L689.2 189.8L685.4 202.6Z"/>
<path fill="#40c0f8" d="M618.2 216.8L610.1 209.5L611.6 207.9L619.5 215.4ZM639.9 148.3L639.1 145.0L641.9 144.3L642.7 147.6ZM660.0 223.2L659.4 219.8L660.9 219.6L661.4 222.9ZM662.7 235.4L662.2 232.0L663.5 231.8L664.0 235.2ZM661.5 228.0L659.7 217.2L661.3 217.0L662.9 227.8ZM659.4 215.7L658.9 212.3L660.5 212.0L661.0 215.4ZM663.2 235.3L660.8 219.6L662.4 219.4L664.4 235.1ZM662.7 227.8L662.2 224.4L663.7 224.2L664.0 227.6ZM663.3 227.7L662.9 224.3L664.3 224.2L664.6 227.6ZM660.5 192.8L660.2 189.4L662.2 189.2L662.5 192.6ZM658.6 172.9L658.2 169.5L660.6 169.3L660.9 172.7ZM662.1 197.7L661.8 194.3L663.8 194.2L664.0 197.5ZM663.2 197.6L663.0 194.2L665.0 194.1L665.1 197.5ZM662.4 185.1L662.2 181.7L664.4 181.6L664.6 185.0ZM666.1 222.5L666.0 219.1L667.5 219.1L667.6 222.5ZM666.8 227.5L666.8 224.1L668.2 224.1L668.2 227.5ZM667.4 227.5L667.4 224.1L668.9 224.1L668.8 227.5ZM668.1 145.0L668.2 136.6L671.2 136.6L670.9 145.0ZM670.2 145.0L670.2 141.6L673.1 141.7L673.0 145.1ZM668.8 222.5L669.3 211.6L671.0 211.7L670.3 222.5ZM669.5 222.5L670.1 211.6L671.8 211.7L671.0 222.6ZM672.0 210.2L673.1 199.3L675.0 199.5L673.7 210.3ZM670.1 235.1L670.5 231.7L671.8 231.9L671.4 235.2ZM670.7 230.1L671.1 226.7L672.5 226.9L672.0 230.3ZM671.2 225.1L671.6 221.8L673.1 221.9L672.7 225.3ZM673.2 207.8L674.2 199.4L676.1 199.6L674.9 208.0ZM670.2 237.6L670.7 234.2L672.0 234.4L671.4 237.8ZM670.9 232.6L671.3 229.3L672.7 229.5L672.2 232.8ZM674.2 207.9L675.3 199.5L677.1 199.8L675.9 208.1ZM677.4 183.1L678.2 177.2L680.5 177.5L679.6 183.4ZM680.4 160.8L680.8 157.4L683.4 157.8L682.9 161.1ZM671.8 230.2L672.3 226.9L673.7 227.1L673.1 230.5ZM672.5 225.3L673.0 221.9L674.5 222.2L673.9 225.5ZM675.5 205.5L676.3 199.7L678.2 200.0L677.2 205.8ZM679.2 180.8L679.7 177.4L681.9 177.8L681.4 181.1ZM682.1 161.0L682.6 157.6L685.2 158.1L684.7 161.4ZM672.7 227.9L673.3 224.5L674.7 224.8L674.1 228.1ZM677.3 200.7L678.2 194.9L680.2 195.3L679.1 201.1ZM678.5 193.3L679.5 187.5L681.6 187.9L680.5 193.7ZM683.0 166.2L683.6 162.9L686.1 163.3L685.5 166.6ZM678.3 200.9L678.9 197.6L680.8 197.9L680.2 201.3ZM675.4 220.7L676.6 214.9L678.2 215.3L676.9 221.0ZM674.5 228.2L676.3 220.0L677.8 220.3L675.8 228.5ZM677.2 216.0L678.5 210.2L680.1 210.6L678.8 216.3ZM680.0 211.5L686.5 186.4L688.6 187.0L681.7 211.9ZM680.9 211.7L682.5 206.0L684.2 206.5L682.5 212.2ZM682.9 204.5L683.8 201.2L685.6 201.7L684.7 205.0ZM685.1 207.7L686.1 204.5L687.9 205.1L686.8 208.3ZM686.8 205.7L688.0 202.5L689.7 203.1L688.6 206.3ZM696.8 196.2L698.2 193.1L700.1 194.0L698.7 197.1Z"/>
<path fill="#30b0f8" d="M610.8 210.1L608.3 207.8L609.8 206.2L612.2 208.5ZM615.3 212.5L612.9 210.2L614.3 208.7L616.7 211.1ZM637.9 148.8L637.1 145.5L639.9 144.8L640.7 148.1ZM640.5 150.7L639.7 147.4L642.5 146.7L643.2 150.1ZM639.3 145.8L638.5 142.5L641.4 141.9L642.1 145.2ZM660.3 230.8L659.5 227.5L660.9 227.2L661.6 230.5ZM641.3 145.4L640.6 142.0L643.5 141.4L644.2 144.8ZM659.3 223.3L658.6 220.0L660.2 219.7L660.8 223.0ZM661.8 233.0L660.7 227.2L662.1 227.0L663.1 232.8ZM660.5 225.6L659.8 222.3L661.3 222.0L661.9 225.4ZM663.1 237.8L662.6 234.5L663.8 234.3L664.3 237.7ZM659.8 218.1L659.3 214.8L660.9 214.5L661.4 217.9ZM659.0 213.2L658.0 207.4L659.8 207.1L660.6 212.9ZM663.6 237.8L663.0 234.4L664.3 234.2L664.8 237.6ZM663.0 230.3L662.5 226.9L663.9 226.7L664.3 230.1ZM662.3 225.3L661.9 221.9L663.4 221.8L663.8 225.1ZM665.8 250.1L665.4 246.7L666.5 246.6L666.8 250.0ZM663.0 225.2L662.6 221.9L664.1 221.7L664.4 225.1ZM657.0 173.1L656.6 169.7L659.0 169.4L659.4 172.8ZM656.5 168.1L655.8 162.2L658.3 162.0L658.9 167.8ZM660.0 187.8L659.2 179.5L661.4 179.3L662.1 187.6ZM658.8 175.4L658.5 172.0L660.8 171.8L661.1 175.2ZM663.6 217.6L663.2 211.7L664.9 211.6L665.2 217.5ZM662.7 205.2L662.4 201.8L664.2 201.6L664.4 205.0ZM662.3 200.2L662.0 196.8L663.9 196.6L664.1 200.0ZM660.9 182.7L660.6 179.3L662.9 179.2L663.1 182.6ZM660.3 175.2L659.5 164.4L662.0 164.2L662.6 175.1ZM659.1 160.3L658.9 156.9L661.5 156.7L661.7 160.1ZM664.4 217.6L663.1 196.7L665.1 196.6L666.0 217.5ZM662.3 182.6L662.1 179.2L664.3 179.1L664.4 182.5ZM661.8 175.1L661.5 169.2L663.9 169.1L664.1 175.0ZM661.2 165.2L661.0 161.8L663.5 161.6L663.7 165.0ZM664.9 210.0L664.5 201.6L666.3 201.6L666.5 210.0ZM663.3 175.1L663.2 171.7L665.5 171.6L665.6 175.0ZM666.3 232.5L666.2 226.6L667.6 226.6L667.6 232.5ZM666.1 225.0L666.0 221.6L667.6 221.6L667.6 225.0ZM665.6 205.0L665.5 201.6L667.4 201.6L667.4 205.0ZM664.9 177.5L664.8 174.1L667.1 174.1L667.2 177.5ZM666.9 235.0L666.8 226.6L668.2 226.6L668.1 235.0ZM666.8 225.0L666.7 221.6L668.3 221.6L668.2 225.0ZM666.6 205.0L666.6 201.6L668.4 201.6L668.4 205.0ZM666.1 145.0L666.1 141.6L668.9 141.6L668.9 145.0ZM667.3 237.5L667.4 231.6L668.7 231.6L668.5 237.5ZM667.4 230.0L667.4 226.6L668.8 226.6L668.7 230.0ZM667.4 225.0L667.4 221.6L669.0 221.6L668.9 225.0ZM667.6 205.0L667.6 201.6L669.5 201.6L669.4 205.0ZM668.1 147.5L668.1 144.1L671.0 144.1L670.9 147.5ZM668.2 137.5L668.3 129.1L671.4 129.1L671.1 137.5ZM668.0 227.5L668.2 219.1L669.8 219.1L669.4 227.5ZM670.1 147.5L670.2 144.1L673.0 144.2L672.9 147.6ZM670.2 142.5L670.4 136.6L673.4 136.7L673.1 142.6ZM668.7 225.0L668.8 221.6L670.3 221.7L670.1 225.0ZM669.2 212.5L669.5 206.6L671.3 206.7L670.9 212.6ZM672.2 145.0L672.4 139.1L675.4 139.3L675.0 145.2ZM669.3 225.0L669.5 221.6L671.0 221.7L670.8 225.1ZM670.1 212.5L670.5 206.6L672.2 206.8L671.7 212.6ZM674.4 142.6L674.6 139.3L677.5 139.5L677.2 142.8ZM670.2 222.5L670.4 219.2L672.0 219.3L671.6 222.7ZM670.8 215.1L671.2 209.2L672.9 209.3L672.4 215.2ZM671.5 205.1L672.4 194.2L674.4 194.4L673.3 205.2ZM676.4 142.8L676.9 136.9L679.9 137.2L679.3 143.0ZM669.7 235.0L670.7 224.2L672.1 224.3L670.9 235.2ZM671.3 217.6L672.1 209.3L673.8 209.4L672.9 217.8ZM669.8 237.6L670.2 234.2L671.5 234.3L671.0 237.7ZM670.4 232.6L670.8 229.2L672.1 229.4L671.7 232.8ZM672.9 210.2L673.3 206.9L675.1 207.1L674.6 210.4ZM669.9 240.1L670.4 236.7L671.6 236.9L671.1 240.2ZM672.2 222.7L672.6 219.4L674.2 219.6L673.7 222.9ZM673.8 210.3L674.3 207.0L676.0 207.2L675.5 210.6ZM680.7 158.3L681.5 152.4L684.1 152.8L683.3 158.7ZM670.3 240.1L671.9 229.3L673.3 229.6L671.4 240.3ZM674.7 210.5L675.6 204.6L677.4 204.9L676.4 210.7ZM679.5 178.3L680.0 175.0L682.3 175.3L681.8 178.7ZM682.5 158.5L683.4 152.7L686.0 153.1L685.1 158.9ZM672.3 230.3L672.9 227.0L674.3 227.2L673.6 230.6ZM676.0 208.1L676.6 204.8L678.4 205.1L677.7 208.4ZM678.1 195.8L678.6 192.4L680.6 192.8L680.0 196.1ZM679.3 188.4L681.9 172.7L684.3 173.1L681.4 188.8ZM682.2 171.1L683.2 165.3L685.7 165.8L684.6 171.6ZM683.5 163.7L684.0 160.4L686.6 160.8L685.9 164.2ZM677.0 208.3L677.6 204.9L679.3 205.3L678.7 208.6ZM678.8 198.5L679.4 195.1L681.3 195.5L680.7 198.8ZM673.9 228.1L675.6 219.8L677.1 220.1L675.3 228.3ZM676.4 215.8L677.1 212.5L678.7 212.8L678.0 216.1ZM678.4 206.0L679.6 200.2L681.4 200.6L680.1 206.4ZM679.9 198.7L681.1 192.9L683.0 193.3L681.8 199.1ZM673.9 230.6L674.7 227.3L676.1 227.6L675.2 230.9ZM676.1 220.9L676.8 217.5L678.4 217.9L677.6 221.2ZM678.3 211.1L679.0 207.8L680.7 208.2L679.9 211.5ZM692.9 145.2L693.6 141.9L696.5 142.5L695.7 145.8ZM678.6 213.7L680.5 205.5L682.3 206.0L680.2 214.1ZM686.3 187.3L687.1 184.0L689.3 184.6L688.3 187.8ZM682.2 206.9L683.1 203.6L684.9 204.1L683.9 207.4ZM686.9 190.0L689.1 181.9L691.3 182.6L688.9 190.6ZM682.5 209.6L684.1 203.9L685.9 204.4L684.1 210.1ZM689.6 185.6L691.2 179.9L693.4 180.6L691.6 186.2ZM693.8 171.2L694.8 167.9L697.2 168.7L696.2 171.9ZM685.9 205.4L686.9 202.2L688.7 202.8L687.6 206.0ZM686.0 208.1L687.1 204.9L688.9 205.5L687.7 208.7ZM687.7 203.3L688.8 200.1L690.6 200.8L689.4 204.0ZM686.9 208.4L689.9 200.5L691.7 201.2L688.6 209.0ZM687.9 208.7L690.0 203.2L691.8 204.0L689.5 209.4ZM688.8 209.1L690.1 206.0L691.8 206.7L690.4 209.8ZM681.3 230.4L682.7 227.3L684.0 227.9L682.5 230.9ZM692.7 205.3L697.2 195.4L699.1 196.3L694.4 206.1ZM697.8 194.0L700.3 188.6L702.3 189.5L699.7 194.8ZM715.5 155.3L716.9 152.2L719.5 153.4L718.0 156.5ZM695.8 201.3L697.3 198.2L699.1 199.1L697.5 202.1ZM699.0 194.5L700.5 191.4L702.4 192.4L700.9 195.4ZM717.3 156.1L719.9 150.8L722.5 152.1L719.9 157.4ZM715.7 195.7L717.7 193.0L719.5 194.4L717.5 197.0Z"/>
<path fill="#2098f8" d="M609.0 208.4L606.4 206.1L608.0 204.5L610.4 206.8ZM617.1 214.3L614.7 211.9L616.1 210.4L618.5 212.8ZM613.5 210.8L611.0 208.5L612.5 206.9L615.0 209.3ZM640.7 197.9L638.4 192.4L640.4 191.6L642.6 197.1ZM641.8 197.4L640.6 194.2L642.5 193.5L643.7 196.7ZM641.1 173.8L639.4 168.2L641.8 167.5L643.4 173.2ZM638.6 151.2L637.7 147.9L640.5 147.2L641.3 150.5ZM641.1 153.1L640.3 149.8L643.0 149.2L643.7 152.5ZM660.8 233.2L660.1 229.9L661.4 229.6L662.1 233.0ZM659.7 228.3L658.5 222.6L659.9 222.3L661.1 228.1ZM647.3 172.2L646.0 166.4L648.5 165.9L649.6 171.7ZM641.9 147.8L641.1 144.5L644.0 143.9L644.7 147.2ZM640.8 142.9L640.1 139.6L643.0 139.0L643.7 142.3ZM661.3 233.1L659.1 222.4L660.6 222.1L662.6 232.9ZM646.9 162.1L646.2 158.7L648.8 158.2L649.4 161.6ZM645.4 154.7L644.2 148.9L646.9 148.4L648.0 154.2ZM662.3 235.5L661.6 232.1L663.0 231.9L663.5 235.3ZM660.9 228.1L660.3 224.8L661.7 224.5L662.3 227.9ZM659.5 220.7L658.9 217.4L660.5 217.1L661.0 220.5ZM663.9 240.2L663.4 236.9L664.6 236.7L665.1 240.1ZM661.0 220.5L660.5 217.1L662.0 216.9L662.5 220.3ZM659.5 210.6L659.0 207.2L660.7 207.0L661.2 210.3ZM665.6 250.1L664.8 244.3L665.9 244.1L666.6 250.0ZM663.6 235.2L662.9 229.4L664.2 229.2L664.9 235.1ZM662.0 222.8L661.6 219.5L663.1 219.3L663.5 222.7ZM655.5 173.3L653.7 160.0L656.3 159.7L657.8 173.0ZM666.1 252.6L665.7 249.2L666.7 249.1L667.0 252.5ZM665.5 247.6L665.1 244.2L666.2 244.1L666.5 247.5ZM663.5 230.2L663.1 226.8L664.6 226.7L664.9 230.1ZM662.7 222.7L662.3 219.4L663.8 219.2L664.2 222.6ZM660.7 205.4L660.0 199.5L661.9 199.3L662.5 205.2ZM657.3 175.6L656.9 172.2L659.3 171.9L659.6 175.3ZM656.7 170.6L656.4 167.2L658.8 166.9L659.1 170.3ZM655.9 163.1L655.5 159.8L658.1 159.5L658.4 162.9ZM661.7 205.2L661.4 201.9L663.2 201.7L663.5 205.1ZM659.3 180.4L658.7 174.5L661.0 174.3L661.5 180.2ZM658.3 170.4L657.3 159.6L659.9 159.3L660.7 170.2ZM663.8 220.1L663.6 216.7L665.2 216.6L665.4 220.0ZM663.3 212.6L662.6 204.3L664.4 204.1L664.9 212.5ZM662.5 202.7L662.2 199.3L664.1 199.1L664.3 202.5ZM660.7 180.2L660.2 174.4L662.6 174.2L662.9 180.1ZM659.5 165.3L659.1 159.4L661.6 159.2L662.0 165.1ZM658.9 157.8L658.7 154.4L661.3 154.2L661.5 157.6ZM658.5 152.8L658.1 146.9L660.9 146.7L661.2 152.6ZM664.6 220.1L664.4 216.7L665.9 216.6L666.1 220.0ZM662.1 180.1L661.8 174.2L664.1 174.1L664.3 180.0ZM661.5 170.1L661.1 164.3L663.7 164.1L663.9 170.0ZM661.1 162.7L660.7 156.8L663.3 156.6L663.6 162.5ZM665.2 217.5L664.8 209.1L666.5 209.1L666.7 217.5ZM664.5 202.5L664.0 191.6L666.1 191.6L666.4 202.5ZM663.9 187.5L663.3 174.2L665.6 174.1L666.0 187.5ZM663.2 172.6L663.1 169.2L665.5 169.1L665.6 172.5ZM662.9 165.1L662.7 161.7L665.3 161.6L665.4 165.0ZM666.2 227.5L666.1 224.1L667.6 224.1L667.6 227.5ZM666.0 220.0L665.9 216.6L667.5 216.6L667.5 220.0ZM665.9 215.0L665.7 209.1L667.4 209.1L667.5 215.0ZM665.7 207.5L665.6 204.1L667.4 204.1L667.4 207.5ZM665.6 202.5L665.5 199.1L667.4 199.1L667.4 202.5ZM665.0 182.5L664.9 176.6L667.2 176.6L667.2 182.5ZM666.9 240.0L666.9 234.1L668.1 234.1L668.1 240.0ZM666.8 222.5L666.7 219.1L668.3 219.1L668.2 222.5ZM666.6 207.5L666.6 204.1L668.4 204.1L668.4 207.5ZM666.6 202.5L666.6 199.1L668.4 199.1L668.4 202.5ZM666.4 185.0L666.3 174.1L668.7 174.1L668.6 185.0ZM666.1 147.5L666.1 144.1L668.9 144.1L668.9 147.5ZM666.1 142.5L666.0 136.6L669.0 136.6L668.9 142.5ZM666.0 132.5L665.9 129.1L669.1 129.1L669.0 132.5ZM667.3 245.0L667.3 236.6L668.6 236.6L668.3 245.0ZM667.4 232.5L667.4 229.1L668.8 229.1L668.7 232.5ZM667.6 207.5L667.6 204.1L669.4 204.1L669.3 207.5ZM667.6 202.5L667.7 194.1L669.7 194.1L669.4 202.5ZM667.7 187.5L667.9 174.1L670.2 174.1L669.8 187.5ZM668.1 150.0L668.1 146.6L670.9 146.6L670.8 150.0ZM667.7 240.0L668.0 226.6L669.4 226.6L668.8 240.0ZM668.2 220.0L668.3 216.6L669.9 216.6L669.7 220.0ZM668.5 210.0L668.7 201.6L670.5 201.6L670.1 210.0ZM668.8 195.0L668.9 191.6L671.0 191.6L670.8 195.0ZM669.2 182.5L669.3 179.1L671.5 179.1L671.3 182.5ZM670.0 150.0L670.1 146.6L672.9 146.7L672.8 150.1ZM668.2 237.5L668.7 224.1L670.2 224.1L669.4 237.5ZM669.5 207.5L669.7 201.6L671.6 201.7L671.2 207.6ZM672.1 147.5L672.2 144.1L675.1 144.3L674.9 147.7ZM669.0 230.0L669.4 224.1L670.8 224.2L670.4 230.1ZM670.4 207.5L670.9 199.1L672.8 199.3L672.1 207.6ZM674.2 145.1L674.4 141.7L677.3 142.0L677.0 145.3ZM674.5 140.2L674.7 136.8L677.7 137.0L677.4 140.4ZM670.0 225.0L670.2 221.6L671.7 221.8L671.4 225.2ZM670.4 220.0L670.8 214.2L672.4 214.3L671.9 220.2ZM671.1 210.1L671.6 204.2L673.4 204.4L672.8 210.2ZM672.3 195.1L673.2 184.3L675.3 184.4L674.3 195.3ZM676.2 145.3L676.5 141.9L679.4 142.1L679.1 145.5ZM676.8 137.8L677.1 134.4L680.1 134.7L679.8 138.1ZM669.2 240.0L669.7 234.1L671.0 234.3L670.3 240.1ZM670.6 225.1L670.9 221.7L672.4 221.9L672.0 225.2ZM671.1 220.1L671.4 216.7L673.0 216.9L672.6 220.3ZM669.5 240.0L669.9 236.7L671.2 236.8L670.7 240.2ZM671.5 222.7L673.0 209.3L674.7 209.6L673.0 222.8ZM669.6 242.6L670.0 239.2L671.2 239.4L670.7 242.7ZM672.5 220.3L673.0 216.9L674.5 217.1L674.0 220.5ZM669.9 242.6L670.4 239.2L671.6 239.4L671.0 242.8ZM672.9 222.8L673.4 219.5L674.9 219.7L674.3 223.1ZM671.9 232.8L672.5 229.4L673.8 229.7L673.2 233.0ZM673.1 225.4L673.7 222.0L675.2 222.3L674.5 225.6ZM681.8 173.6L682.4 170.3L684.7 170.7L684.1 174.0ZM672.9 230.4L674.4 222.1L675.9 222.4L674.2 230.7ZM679.2 196.0L680.8 187.7L682.8 188.1L681.2 196.4ZM682.0 181.2L683.0 175.4L685.3 175.9L684.1 181.7ZM673.4 230.5L674.1 227.2L675.5 227.5L674.7 230.8ZM676.9 213.4L678.6 205.1L680.3 205.5L678.5 213.7ZM679.4 201.1L680.1 197.8L682.0 198.2L681.2 201.5ZM676.6 218.4L677.4 215.1L679.0 215.5L678.2 218.8ZM678.8 208.6L679.5 205.3L681.3 205.7L680.5 209.0ZM693.4 142.7L694.2 139.4L697.1 140.1L696.3 143.4ZM676.2 223.4L678.8 212.8L680.4 213.2L677.7 223.8ZM680.3 206.4L681.7 200.7L683.5 201.1L682.0 206.9ZM682.1 199.1L684.6 188.5L686.7 189.0L683.9 199.6ZM685.6 184.5L687.5 176.4L689.8 176.9L687.7 185.1ZM694.9 145.6L696.3 139.9L699.2 140.6L697.7 146.3ZM679.4 213.9L680.2 210.6L681.9 211.1L681.0 214.3ZM686.9 184.9L689.0 176.7L691.3 177.3L689.0 185.4ZM698.2 141.3L699.0 138.0L701.9 138.8L701.0 142.1ZM680.2 214.1L681.1 210.9L682.8 211.3L681.8 214.6ZM688.9 182.8L695.8 157.9L698.4 158.6L691.0 183.4ZM696.3 156.3L697.2 153.0L699.8 153.8L698.9 157.1ZM700.3 141.9L701.2 138.6L704.1 139.4L703.1 142.7ZM681.8 212.0L682.7 208.7L684.4 209.2L683.4 212.5ZM683.9 204.8L684.9 201.5L686.7 202.1L685.6 205.3ZM686.7 195.2L688.4 189.5L690.4 190.1L688.6 195.8ZM688.9 188.0L689.8 184.7L691.9 185.4L690.9 188.6ZM691.0 180.8L692.7 175.1L694.9 175.8L693.2 181.5ZM693.1 173.6L694.1 170.3L696.4 171.1L695.4 174.3ZM694.5 168.8L696.2 163.2L698.7 163.9L696.9 169.5ZM699.5 152.0L702.6 141.6L705.5 142.5L702.2 152.8ZM683.4 209.8L685.1 204.2L686.9 204.8L685.0 210.4ZM690.9 186.0L693.4 178.0L695.6 178.7L693.0 186.7ZM695.4 171.7L697.9 163.7L700.4 164.5L697.7 172.4ZM701.4 152.6L704.7 142.2L707.5 143.1L704.1 153.5ZM676.3 233.8L679.0 225.9L680.4 226.3L677.6 234.3ZM684.3 210.1L685.3 206.9L687.1 207.5L685.9 210.7ZM686.1 210.7L687.2 207.5L688.9 208.2L687.7 211.4ZM686.9 211.1L688.2 207.9L689.9 208.6L688.5 211.7ZM689.7 204.1L690.9 200.9L692.7 201.6L691.4 204.8ZM687.8 211.4L689.1 208.3L690.8 209.0L689.4 212.1ZM689.7 206.8L691.0 203.7L692.8 204.4L691.4 207.5ZM680.7 230.1L683.1 224.7L684.4 225.3L682.0 230.7ZM690.7 207.2L693.0 201.8L694.8 202.6L692.3 207.9ZM694.7 198.0L698.0 190.3L700.0 191.2L696.5 198.8ZM713.6 154.5L715.0 151.3L717.6 152.5L716.2 155.6ZM682.3 228.1L684.7 222.7L686.1 223.4L683.6 228.7ZM691.6 207.6L693.0 204.5L694.7 205.3L693.3 208.4ZM699.9 189.4L701.3 186.3L703.4 187.3L701.9 190.3ZM703.0 182.6L707.5 172.7L709.8 173.7L705.1 183.6ZM714.4 157.6L715.8 154.5L718.4 155.7L717.0 158.7ZM716.5 153.0L717.9 149.9L720.6 151.2L719.1 154.2ZM693.6 205.8L696.2 200.4L698.0 201.3L695.3 206.6ZM696.9 199.0L699.4 193.7L701.3 194.6L698.7 199.9ZM700.1 192.2L702.6 186.9L704.6 187.9L702.0 193.2ZM708.7 174.2L710.2 171.1L712.5 172.2L710.9 175.3ZM716.2 158.4L717.7 155.3L720.3 156.6L718.7 159.6ZM705.8 183.9L708.4 178.6L710.5 179.7L707.8 184.9ZM719.1 157.0L720.7 154.0L723.2 155.3L721.7 158.3ZM698.4 214.1L700.3 211.3L701.8 212.3L699.9 215.1ZM719.1 182.9L721.0 180.0L723.0 181.4L721.1 184.2ZM699.2 214.7L702.5 209.8L704.1 210.9L700.7 215.7ZM713.1 196.9L720.9 186.0L722.8 187.4L714.8 198.2ZM714.2 197.7L716.2 195.0L718.0 196.3L715.9 199.0ZM717.2 193.7L719.2 191.0L721.1 192.4L719.0 195.1ZM721.6 187.7L725.1 182.9L727.1 184.4L723.5 189.1ZM730.6 175.6L734.1 170.9L736.3 172.5L732.7 177.2ZM715.3 198.5L718.9 193.9L720.7 195.3L717.0 199.9ZM717.3 213.7L721.6 209.6L723.0 211.2L718.7 215.1Z"/>
<path fill="#1080f8" d="M620.0 218.5L617.5 216.2L618.9 214.8L621.3 217.1ZM607.1 206.7L604.6 204.4L606.2 202.7L608.6 205.1ZM619.0 216.0L616.5 213.6L617.9 212.2L620.3 214.6ZM611.7 209.1L609.2 206.8L610.8 205.2L613.2 207.6ZM577.2 176.4L574.8 174.1L576.9 171.9L579.3 174.3ZM580.5 176.6L576.3 172.5L578.5 170.3L582.6 174.5ZM649.5 238.7L647.4 236.0L648.5 235.2L650.5 237.9ZM632.9 213.7L629.5 208.9L631.0 207.7L634.4 212.6ZM630.6 191.6L626.8 184.1L628.8 183.1L632.6 190.6ZM630.8 188.7L627.0 181.2L629.1 180.1L632.8 187.7ZM639.6 198.3L636.2 190.6L638.2 189.8L641.4 197.6ZM630.6 177.7L627.3 170.0L629.6 169.0L632.8 176.8ZM641.7 200.2L640.4 197.0L642.2 196.3L643.5 199.4ZM638.8 193.2L637.5 190.1L639.5 189.3L640.7 192.5ZM630.2 172.5L628.9 169.3L631.2 168.4L632.5 171.5ZM651.0 220.7L649.7 217.5L651.3 216.9L652.4 220.1ZM648.2 213.7L647.0 210.5L648.6 209.9L649.8 213.1ZM642.7 199.7L641.5 196.6L643.4 195.8L644.6 199.0ZM640.9 195.1L639.7 191.9L641.6 191.2L642.8 194.3ZM643.8 199.3L640.9 191.4L642.9 190.7L645.7 198.6ZM640.7 187.1L639.6 183.9L641.7 183.2L642.8 186.4ZM625.7 144.7L624.6 141.5L627.4 140.5L628.5 143.7ZM642.0 186.7L639.4 178.7L641.6 178.0L644.1 186.0ZM658.9 233.8L656.5 225.7L657.9 225.3L660.1 233.4ZM654.6 219.4L653.6 216.1L655.2 215.7L656.1 218.9ZM652.5 212.2L651.5 208.9L653.2 208.4L654.1 211.7ZM650.3 205.0L648.7 199.3L650.5 198.8L652.1 204.5ZM639.7 169.0L638.7 165.8L641.2 165.1L642.1 168.4ZM658.0 228.8L657.1 225.5L658.5 225.1L659.4 228.4ZM655.3 219.2L654.4 215.9L656.0 215.5L656.9 218.8ZM642.0 171.0L639.7 162.9L642.2 162.2L644.3 170.3ZM639.2 153.6L638.3 150.3L641.1 149.6L641.8 152.9ZM660.3 233.3L658.9 227.6L660.3 227.3L661.6 233.1ZM648.1 182.3L646.7 176.6L649.0 176.0L650.2 181.8ZM641.7 155.6L640.9 152.3L643.6 151.6L644.3 154.9ZM661.4 235.7L660.6 232.4L661.9 232.1L662.6 235.4ZM658.7 223.5L656.8 215.3L658.4 214.9L660.1 223.2ZM653.8 201.5L653.0 198.2L654.9 197.8L655.6 201.1ZM648.9 179.5L647.6 173.8L650.0 173.3L651.1 179.1ZM642.4 150.2L641.7 146.9L644.5 146.3L645.2 149.7ZM661.8 235.6L661.1 232.2L662.4 232.0L663.0 235.3ZM658.8 220.9L658.1 217.5L659.7 217.2L660.3 220.6ZM654.8 201.3L654.2 197.9L656.1 197.6L656.7 200.9ZM653.3 193.9L652.2 188.1L654.2 187.7L655.3 193.5ZM649.4 174.3L647.7 166.1L650.1 165.6L651.7 173.9ZM644.4 149.8L642.7 141.6L645.6 141.0L647.1 149.3ZM662.7 237.9L662.1 234.6L663.4 234.4L663.9 237.7ZM659.1 218.3L657.1 207.5L658.8 207.2L660.6 218.0ZM650.9 174.0L649.3 165.8L651.8 165.3L653.2 173.6ZM649.1 164.2L648.0 158.4L650.6 157.9L651.5 163.7ZM647.2 154.3L646.2 148.5L648.9 148.1L649.9 153.9ZM663.6 240.3L663.0 237.0L664.2 236.8L664.7 240.1ZM658.2 208.3L657.6 204.9L659.4 204.6L659.9 208.0ZM652.4 173.7L651.8 170.4L654.2 170.0L654.7 173.4ZM651.6 168.8L649.8 158.1L652.4 157.6L654.0 168.4ZM664.3 242.7L663.8 239.4L665.0 239.2L665.4 242.6ZM660.6 218.0L659.3 209.7L661.1 209.4L662.1 217.8ZM659.1 208.1L658.6 204.7L660.4 204.5L660.8 207.9ZM653.9 173.5L651.6 157.8L654.2 157.4L656.3 173.2ZM665.0 245.1L664.5 241.8L665.6 241.6L666.0 245.0ZM664.0 237.7L663.5 234.3L664.8 234.2L665.2 237.6ZM661.7 220.4L661.2 217.0L662.8 216.8L663.2 220.2ZM659.4 203.0L658.6 197.2L660.5 196.9L661.2 202.8ZM655.8 175.7L655.4 172.4L657.7 172.1L658.1 175.5ZM653.9 160.9L653.4 157.5L656.0 157.2L656.4 160.6ZM650.9 138.6L650.5 135.2L653.5 134.8L653.9 138.2ZM665.2 245.1L664.8 241.7L666.0 241.6L666.3 245.0ZM663.8 232.7L663.4 229.3L664.8 229.2L665.1 232.5ZM661.0 207.8L660.6 204.5L662.4 204.3L662.7 207.7ZM660.1 200.4L659.7 197.0L661.7 196.8L662.0 200.2ZM659.3 192.9L657.2 174.7L659.5 174.4L661.3 192.7ZM655.6 160.6L655.2 157.3L657.8 157.0L658.2 160.4ZM653.1 138.3L652.7 134.9L655.7 134.6L656.0 138.0ZM664.1 230.1L663.3 221.8L664.8 221.6L665.4 230.0ZM663.1 220.2L662.8 216.8L664.4 216.7L664.6 220.0ZM662.6 215.2L662.1 209.3L663.8 209.2L664.2 215.1ZM661.9 207.7L661.6 204.4L663.4 204.2L663.7 207.6ZM661.4 202.8L660.4 191.9L662.4 191.7L663.3 202.6ZM656.7 153.0L655.8 144.6L658.7 144.4L659.3 152.8ZM664.0 222.6L663.8 219.2L665.3 219.1L665.5 222.5ZM658.2 147.8L657.9 144.4L660.7 144.2L660.9 147.6ZM664.7 222.5L664.5 219.2L666.1 219.1L666.2 222.5ZM660.4 152.7L659.9 144.3L662.8 144.1L663.1 152.5ZM665.7 230.0L665.1 216.6L666.7 216.6L667.1 230.0ZM664.1 192.5L663.8 186.6L665.9 186.6L666.1 192.5ZM662.8 162.6L662.6 159.2L665.2 159.1L665.3 162.5ZM666.5 237.5L666.3 231.6L667.6 231.6L667.7 237.5ZM666.0 217.5L665.9 214.1L667.5 214.1L667.5 217.5ZM665.8 210.0L665.7 206.6L667.4 206.6L667.4 210.0ZM665.5 200.0L665.0 181.6L667.2 181.6L667.4 200.0ZM664.8 175.0L664.7 171.6L667.1 171.6L667.1 175.0ZM664.7 170.0L664.5 161.6L667.0 161.6L667.1 170.0ZM664.1 145.0L664.0 141.6L666.9 141.6L666.9 145.0ZM667.0 247.5L666.9 239.1L668.1 239.1L668.0 247.5ZM666.7 212.5L666.6 206.6L668.4 206.6L668.3 212.5ZM666.6 200.0L666.4 184.1L668.6 184.1L668.4 200.0ZM666.3 175.0L666.3 171.6L668.7 171.6L668.7 175.0ZM667.2 247.5L667.2 244.1L668.4 244.1L668.3 247.5ZM667.4 222.5L667.5 219.1L669.0 219.1L668.9 222.5ZM667.6 210.0L667.6 206.6L669.3 206.6L669.2 210.0ZM667.7 195.0L667.8 186.6L669.9 186.6L669.6 195.0ZM667.9 175.0L667.9 171.6L670.3 171.6L670.2 175.0ZM668.1 152.5L668.1 149.1L670.8 149.1L670.8 152.5ZM667.5 247.5L667.7 239.1L668.9 239.1L668.5 247.5ZM668.3 217.5L668.5 209.1L670.2 209.1L669.8 217.5ZM668.6 202.5L668.9 194.1L670.8 194.1L670.5 202.5ZM668.9 192.5L669.1 186.6L671.2 186.6L670.9 192.5ZM669.1 185.0L669.2 181.6L671.4 181.6L671.2 185.0ZM669.2 180.0L669.5 171.6L671.8 171.7L671.5 180.0ZM669.8 160.0L669.8 156.6L672.5 156.7L672.3 160.1ZM670.0 152.5L670.0 149.1L672.8 149.2L672.7 152.6ZM667.4 255.0L668.0 241.6L669.1 241.6L668.3 255.0ZM669.7 202.5L669.9 196.6L671.9 196.7L671.5 202.6ZM672.0 150.0L672.1 146.6L674.9 146.8L674.7 150.2ZM668.0 247.5L668.2 244.1L669.3 244.1L669.0 247.5ZM668.7 235.0L669.1 229.1L670.5 229.2L670.0 235.1ZM670.9 200.0L671.2 194.2L673.2 194.3L672.7 200.2ZM671.3 192.6L671.7 186.7L673.8 186.8L673.3 192.7ZM674.1 147.6L674.3 144.2L677.1 144.4L676.8 147.8ZM668.6 242.5L669.1 236.6L670.3 236.7L669.7 242.6ZM669.4 232.5L670.0 224.1L671.5 224.3L670.7 232.6ZM673.1 185.2L673.4 181.8L675.6 182.0L675.2 185.3ZM675.1 160.2L675.3 156.8L678.0 157.1L677.6 160.5ZM676.1 147.8L676.3 144.4L679.2 144.6L678.8 148.0ZM668.9 242.5L669.2 239.1L670.4 239.2L670.0 242.6ZM670.8 222.6L671.2 219.2L672.7 219.4L672.3 222.7ZM669.0 245.0L669.6 239.2L670.8 239.3L670.0 245.1ZM669.3 245.0L669.7 241.7L670.9 241.8L670.3 245.2ZM672.9 217.8L673.9 209.4L675.7 209.7L674.4 218.0ZM673.2 220.3L674.9 209.6L676.6 209.8L674.7 220.6ZM671.1 237.7L672.0 231.9L673.4 232.1L672.3 237.9ZM673.6 222.9L674.1 219.6L675.6 219.8L675.0 223.2ZM675.2 213.1L676.2 207.2L677.9 207.5L676.8 213.3ZM683.9 161.3L684.4 157.9L687.0 158.4L686.4 161.7ZM672.0 235.3L673.0 229.5L674.4 229.8L673.2 235.6ZM674.2 223.0L677.1 207.4L678.9 207.7L675.7 223.3ZM680.6 188.6L682.1 180.4L684.3 180.8L682.7 189.0ZM682.9 176.3L685.8 160.7L688.3 161.2L685.1 176.8ZM672.9 233.0L673.6 229.6L674.9 229.9L674.2 233.2ZM680.9 193.8L682.0 188.0L684.1 188.4L682.8 194.2ZM682.4 186.4L684.5 175.7L686.8 176.2L684.5 186.9ZM687.4 161.9L688.0 158.6L690.6 159.1L689.9 162.4ZM673.4 233.1L674.1 229.7L675.5 230.0L674.7 233.3ZM679.4 206.2L680.1 202.9L681.9 203.3L681.1 206.6ZM681.0 198.9L682.2 193.1L684.2 193.6L682.8 199.3ZM684.2 184.2L686.6 173.6L688.9 174.1L686.3 184.7ZM691.3 152.5L692.0 149.2L694.7 149.8L693.9 153.1ZM674.5 230.7L676.4 222.6L677.9 222.9L675.8 231.1ZM681.5 201.6L682.3 198.3L684.2 198.7L683.3 202.0ZM684.4 189.4L685.8 183.7L687.9 184.2L686.4 189.9ZM687.3 177.2L688.1 173.9L690.4 174.5L689.6 177.8ZM677.5 221.2L679.6 213.0L681.2 213.5L679.0 221.6ZM688.8 177.6L690.3 171.9L692.6 172.5L691.0 178.2ZM692.5 163.1L694.0 157.4L696.6 158.1L695.0 163.8ZM697.5 143.7L698.4 140.4L701.3 141.2L700.4 144.5ZM673.5 238.2L676.4 227.7L677.8 228.1L674.7 238.6ZM678.2 221.4L680.5 213.3L682.1 213.7L679.7 221.8ZM695.6 158.7L696.5 155.4L699.1 156.2L698.1 159.5ZM696.9 153.9L700.5 141.0L703.4 141.8L699.6 154.7ZM669.7 252.7L671.3 247.1L672.4 247.4L670.6 253.0ZM679.6 219.2L680.6 215.9L682.2 216.4L681.1 219.6ZM681.1 214.4L682.0 211.1L683.7 211.6L682.6 214.8ZM684.6 202.4L687.0 194.3L688.9 194.9L686.4 202.9ZM688.1 190.4L689.1 187.1L691.2 187.8L690.1 191.0ZM692.4 176.0L693.4 172.7L695.7 173.5L694.7 176.7ZM696.0 164.0L699.8 151.2L702.4 152.0L698.4 164.8ZM702.3 142.4L703.3 139.2L706.2 140.1L705.2 143.3ZM669.9 252.8L671.6 247.1L672.6 247.5L670.7 253.0ZM675.9 233.7L679.1 223.3L680.6 223.7L677.1 234.1ZM679.6 221.8L681.4 216.1L682.9 216.6L681.1 222.2ZM682.6 212.2L683.6 209.0L685.3 209.5L684.2 212.7ZM684.9 205.1L685.9 201.8L687.7 202.4L686.6 205.6ZM690.1 188.4L691.2 185.1L693.2 185.8L692.2 189.0ZM693.1 178.8L695.7 170.8L698.0 171.6L695.3 179.5ZM697.7 164.5L701.7 151.8L704.4 152.6L700.1 165.3ZM704.4 143.1L705.4 139.8L708.3 140.8L707.2 144.0ZM678.7 226.7L682.2 216.4L683.7 216.9L680.1 227.2ZM686.7 203.0L688.5 197.4L690.4 198.1L688.4 203.6ZM692.2 186.4L694.1 180.8L696.2 181.6L694.3 187.1ZM697.8 169.8L699.6 164.2L702.1 165.1L700.1 170.6ZM703.3 153.2L707.6 140.5L710.4 141.5L705.9 154.1ZM676.8 234.0L678.8 228.4L680.1 228.9L678.0 234.4ZM682.7 217.5L684.6 211.9L686.2 212.5L684.2 218.0ZM685.2 210.4L686.3 207.2L688.0 207.8L686.8 211.0ZM688.5 201.0L689.6 197.8L691.5 198.5L690.3 201.6ZM675.6 238.8L677.6 233.3L678.9 233.8L676.7 239.3ZM684.3 215.4L686.4 209.9L688.0 210.5L685.8 216.0ZM689.6 201.4L690.7 198.2L692.6 198.9L691.3 202.1ZM675.9 239.0L678.1 233.5L679.3 234.0L677.1 239.4ZM681.4 225.0L682.7 221.9L684.1 222.4L682.8 225.6ZM686.0 213.4L687.3 210.2L688.9 210.9L687.6 214.0ZM690.6 201.8L691.8 198.6L693.7 199.3L692.4 202.5ZM686.9 213.7L688.2 210.6L689.8 211.3L688.4 214.4ZM712.7 151.4L714.0 148.2L716.7 149.4L715.3 152.5ZM682.7 225.5L684.1 222.4L685.5 223.0L684.1 226.1ZM688.7 211.8L691.0 206.4L692.7 207.1L690.3 212.5ZM692.7 202.6L695.0 197.2L696.9 198.0L694.4 203.4ZM697.7 191.1L706.0 172.0L708.3 173.0L699.6 192.0ZM712.6 156.8L714.0 153.6L716.6 154.8L715.2 157.9ZM680.2 232.6L681.6 229.5L682.9 230.1L681.4 233.2ZM684.4 223.5L685.8 220.4L687.2 221.1L685.7 224.2ZM689.6 212.2L692.0 206.8L693.7 207.6L691.1 212.9ZM701.0 187.1L703.4 181.8L705.5 182.7L703.0 188.1ZM707.2 173.5L708.6 170.4L710.9 171.5L709.4 174.5ZM681.8 230.6L684.3 225.3L685.7 225.9L683.0 231.2ZM702.2 187.7L703.7 184.7L705.8 185.7L704.2 188.7ZM704.4 183.2L709.1 173.4L711.3 174.5L706.5 184.2ZM709.8 171.9L711.2 168.9L713.6 170.0L712.1 173.0ZM686.8 221.9L690.5 214.4L692.1 215.2L688.2 222.6ZM696.8 201.8L700.6 194.2L702.5 195.2L698.6 202.7ZM702.4 190.6L706.2 183.1L708.2 184.1L704.4 191.6ZM708.0 179.4L711.7 171.9L714.0 173.0L710.1 180.5ZM718.0 159.3L719.5 156.2L722.1 157.5L720.5 160.5ZM720.3 154.8L721.8 151.7L724.4 153.1L722.8 156.1ZM688.6 220.0L690.2 217.0L691.7 217.8L690.1 220.8ZM697.9 202.3L701.8 194.8L703.6 195.8L699.6 203.2ZM702.5 193.4L707.5 183.7L709.6 184.8L704.4 194.4ZM709.4 180.1L714.4 170.4L716.7 171.7L711.5 181.2ZM719.8 160.2L722.5 154.9L725.1 156.3L722.3 161.5ZM706.1 189.6L708.9 184.5L710.9 185.6L708.0 190.7ZM710.8 180.9L714.8 173.5L717.1 174.7L712.9 182.0ZM695.0 212.1L696.7 209.1L698.3 210.1L696.5 213.0ZM712.2 181.6L715.1 176.5L717.3 177.7L714.3 182.8ZM715.9 175.1L718.8 170.0L721.1 171.3L718.1 176.4ZM718.7 173.8L720.4 170.9L722.7 172.2L720.9 175.1ZM687.6 228.0L689.3 225.1L690.6 225.9L688.8 228.8ZM691.5 221.6L694.6 216.6L696.0 217.5L692.8 222.5ZM717.6 179.0L722.0 171.8L724.2 173.2L719.7 180.3ZM693.5 219.9L695.3 217.0L696.8 218.0L694.9 220.8ZM719.0 179.9L722.2 174.9L724.4 176.3L721.1 181.2ZM724.4 171.4L726.2 168.6L728.5 170.0L726.6 172.9ZM697.0 216.2L698.9 213.4L700.4 214.4L698.4 217.2ZM699.8 212.0L701.6 209.2L703.2 210.3L701.3 213.1ZM717.7 184.9L719.6 182.1L721.6 183.5L719.7 186.3ZM720.5 180.8L722.3 177.9L724.4 179.4L722.5 182.2ZM702.0 210.6L704.0 207.7L705.5 208.9L703.6 211.6ZM711.9 196.1L726.6 174.8L728.8 176.3L713.7 197.4ZM702.9 211.2L704.9 208.4L706.5 209.5L704.4 212.3ZM720.3 186.7L728.1 175.8L730.2 177.4L722.3 188.1ZM693.4 225.9L698.4 219.1L699.7 220.1L694.6 226.8ZM712.7 199.7L714.7 197.0L716.5 198.3L714.4 201.0ZM718.7 191.7L722.2 186.9L724.1 188.4L720.5 193.1ZM729.1 177.6L731.1 174.9L733.2 176.5L731.2 179.2ZM733.5 171.6L735.6 168.9L737.8 170.5L735.7 173.2ZM718.4 194.6L721.9 189.9L723.8 191.4L720.1 196.0ZM686.8 236.6L693.6 228.0L694.8 229.0L687.9 237.4ZM716.4 199.4L721.6 192.8L723.4 194.3L718.1 200.8ZM685.7 238.8L689.4 234.3L690.5 235.2L686.7 239.7ZM719.1 198.3L722.8 193.8L724.6 195.3L720.8 199.7ZM694.2 229.6L699.6 223.3L700.9 224.4L695.3 230.6ZM723.4 195.4L725.6 192.8L727.4 194.4L725.1 196.9ZM696.4 228.2L700.3 223.8L701.5 224.9L697.6 229.3ZM719.6 202.0L725.1 195.7L726.9 197.3L721.2 203.5ZM727.9 192.7L731.8 188.2L733.6 189.9L729.6 194.3ZM714.7 214.6L722.5 206.9L724.0 208.5L716.0 216.0ZM715.5 215.4L718.0 213.1L719.3 214.5L716.8 216.8ZM720.9 210.2L723.4 207.9L724.9 209.5L722.4 211.8Z"/>
<path fill="#1068f0" d="M605.3 205.0L600.9 201.0L602.5 199.3L606.8 203.4ZM588.7 189.8L586.2 187.5L588.0 185.5L590.5 187.9ZM620.8 217.7L618.3 215.4L619.7 213.9L622.1 216.3ZM609.9 207.4L607.4 205.0L609.0 203.4L611.4 205.8ZM582.7 181.6L576.6 175.8L578.7 173.6L584.7 179.5ZM642.9 237.9L638.7 233.8L639.8 232.7L643.9 236.9ZM616.2 211.6L613.8 209.3L615.3 207.8L617.6 210.2ZM584.1 180.1L579.9 176.0L582.0 173.9L586.1 178.1ZM645.1 239.3L639.2 233.3L640.3 232.2L646.1 238.3ZM589.0 182.2L586.6 179.8L588.7 177.8L591.0 180.3ZM583.8 176.9L579.6 172.7L581.8 170.6L585.8 174.9ZM590.4 180.9L588.1 178.4L590.1 176.5L592.4 179.0ZM591.8 179.5L589.5 177.0L591.6 175.1L593.9 177.7ZM621.4 210.0L617.5 205.6L619.1 204.2L623.0 208.7ZM643.5 234.0L639.6 229.5L640.8 228.5L644.6 233.0ZM624.0 211.2L618.5 204.8L620.1 203.4L625.5 209.9ZM645.5 235.5L640.2 229.0L641.4 228.0L646.6 234.6ZM628.0 214.3L625.9 211.6L627.4 210.4L629.5 213.1ZM649.1 239.0L645.4 234.4L646.5 233.5L650.1 238.2ZM635.1 221.4L633.0 218.7L634.4 217.7L636.4 220.4ZM630.4 215.5L626.8 210.9L628.3 209.7L631.9 214.4ZM651.0 240.7L648.9 238.0L650.0 237.2L652.0 239.9ZM631.2 214.9L627.6 210.2L629.2 209.1L632.7 213.8ZM597.8 171.3L594.2 166.6L596.5 164.8L600.0 169.6ZM655.9 246.4L650.8 239.7L651.9 238.9L656.8 245.8ZM632.1 214.3L628.5 209.5L630.1 208.4L633.5 213.2ZM656.1 246.2L649.8 237.4L650.9 236.6L657.0 245.6ZM634.3 215.7L632.4 212.9L633.9 211.9L635.8 214.7ZM612.6 185.2L610.6 182.4L612.6 181.0L614.6 183.8ZM635.1 215.1L629.0 206.1L630.6 205.0L636.6 214.1ZM629.1 204.1L627.2 201.3L628.9 200.2L630.7 203.1ZM644.1 224.1L642.4 221.3L643.8 220.4L645.5 223.3ZM649.9 232.4L648.1 229.4L649.4 228.7L651.1 231.7ZM651.4 231.5L649.8 228.5L651.2 227.8L652.7 230.9ZM638.7 207.1L634.8 199.6L636.6 198.7L640.4 206.2ZM631.8 193.8L630.2 190.8L632.2 189.8L633.7 192.8ZM627.2 184.9L625.6 181.9L627.7 180.8L629.2 183.9ZM641.9 211.1L639.3 205.8L641.0 205.0L643.5 210.3ZM631.9 190.9L630.4 187.9L632.4 186.9L633.8 190.0ZM627.4 182.0L625.9 178.9L628.1 177.9L629.5 181.0ZM624.1 175.3L621.4 170.0L623.8 168.9L626.3 174.2ZM633.1 190.3L627.3 178.2L629.5 177.2L635.1 189.4ZM615.9 154.2L613.3 148.9L616.0 147.6L618.5 153.0ZM639.5 201.1L636.1 193.5L638.0 192.6L641.3 200.3ZM631.2 182.9L625.7 170.7L628.0 169.7L633.4 182.0ZM620.9 160.2L619.5 157.1L622.0 155.9L623.4 159.0ZM617.8 153.3L615.3 148.0L618.0 146.8L620.4 152.2ZM640.6 200.6L639.2 197.5L641.1 196.7L642.4 199.9ZM636.6 191.5L635.3 188.3L637.3 187.5L638.6 190.6ZM632.6 182.3L630.3 176.9L632.5 175.9L634.7 181.4ZM627.6 170.8L626.3 167.7L628.7 166.7L630.0 169.8ZM625.6 166.2L617.3 147.1L620.1 145.9L628.1 165.2ZM652.2 225.6L649.0 217.8L650.5 217.2L653.6 225.0ZM642.6 202.5L641.3 199.3L643.2 198.6L644.4 201.8ZM629.2 170.1L627.9 167.0L630.3 166.0L631.6 169.2ZM623.5 156.3L619.3 146.2L622.1 145.1L626.1 155.2ZM652.8 225.3L650.7 219.8L652.1 219.3L654.2 224.8ZM650.1 218.3L647.9 212.8L649.5 212.2L651.6 217.8ZM647.3 211.4L646.1 208.2L647.8 207.5L648.9 210.7ZM644.6 204.4L642.4 198.9L644.3 198.2L646.3 203.7ZM640.0 192.7L638.7 189.6L640.8 188.8L641.9 192.0ZM625.3 155.5L621.3 145.4L624.1 144.3L627.9 154.5ZM651.7 220.4L647.0 207.8L648.7 207.2L653.2 219.8ZM645.6 204.0L643.5 198.5L645.4 197.8L647.3 203.3ZM641.2 192.3L640.0 189.1L642.0 188.4L643.2 191.6ZM628.9 159.5L625.1 149.3L627.8 148.3L631.5 158.6ZM656.6 231.9L655.5 228.7L656.8 228.2L657.9 231.5ZM648.2 208.3L645.4 200.4L647.3 199.8L649.9 207.7ZM642.4 191.8L640.4 186.3L642.5 185.6L644.4 191.2ZM639.9 184.8L638.8 181.6L640.9 180.8L642.0 184.0ZM638.2 180.0L636.3 174.5L638.5 173.7L640.4 179.3ZM630.7 158.8L628.8 153.3L631.4 152.4L633.3 158.0ZM656.3 229.3L655.2 226.1L656.6 225.7L657.6 228.9ZM650.0 210.4L647.3 202.4L649.1 201.8L651.6 209.8ZM657.6 231.5L655.9 225.9L657.3 225.5L658.9 231.1ZM654.6 222.0L652.8 216.4L654.4 215.9L656.1 221.6ZM651.6 212.5L646.1 194.9L648.0 194.3L653.2 212.0ZM642.6 183.8L640.8 178.2L643.0 177.5L644.7 183.2ZM639.6 174.3L637.1 166.3L639.5 165.6L641.9 173.6ZM656.7 226.6L654.3 218.5L655.9 218.1L658.1 226.2ZM653.9 217.0L652.2 211.3L653.9 210.9L655.4 216.5ZM651.8 209.8L650.1 204.1L651.9 203.6L653.4 209.3ZM648.9 200.2L648.0 196.9L649.9 196.4L650.8 199.7ZM641.8 176.2L640.9 173.0L643.2 172.3L644.1 175.6ZM639.0 166.6L637.3 161.0L639.8 160.3L641.4 165.9ZM634.0 149.9L632.3 144.2L635.2 143.4L636.7 149.1ZM658.7 231.2L657.8 227.9L659.1 227.6L660.0 230.9ZM657.4 226.4L655.1 218.3L656.6 217.9L658.7 226.0ZM654.7 216.8L653.1 211.1L654.8 210.6L656.2 216.3ZM652.7 209.5L649.8 199.0L651.6 198.5L654.4 209.1ZM642.7 173.4L641.7 170.1L644.1 169.5L645.0 172.8ZM637.3 154.1L635.1 146.0L637.9 145.3L640.0 153.4ZM659.2 231.1L657.7 225.3L659.2 225.0L660.5 230.7ZM653.0 206.9L651.5 201.1L653.3 200.7L654.7 206.4ZM647.9 187.5L644.6 174.5L646.9 173.9L650.0 187.0ZM644.2 173.0L641.5 162.4L644.0 161.8L646.5 172.4ZM639.8 156.0L639.0 152.7L641.6 152.1L642.4 155.4ZM659.2 228.5L657.8 222.8L659.2 222.4L660.5 228.2ZM653.9 206.6L652.5 200.9L654.4 200.4L655.6 206.2ZM649.8 189.6L647.9 181.4L650.0 180.9L651.9 189.1ZM646.9 177.4L643.8 164.4L646.3 163.8L649.2 176.9ZM661.9 238.1L661.2 234.8L662.4 234.5L663.1 237.9ZM657.0 216.1L656.3 212.8L657.9 212.5L658.6 215.8ZM656.0 211.3L654.7 205.5L656.4 205.1L657.6 210.9ZM654.3 203.9L653.6 200.6L655.4 200.2L656.1 203.6ZM653.2 199.1L650.9 188.4L653.0 188.0L655.1 198.7ZM649.5 182.0L648.7 178.7L651.0 178.2L651.6 181.5ZM647.8 174.6L647.1 171.3L649.5 170.8L650.1 174.2ZM662.3 238.0L661.6 234.7L662.9 234.4L663.5 237.8ZM658.3 218.4L655.7 205.3L657.4 204.9L659.9 218.1ZM655.3 203.7L654.7 200.4L656.5 200.0L657.1 203.4ZM654.3 198.8L653.2 193.0L655.1 192.6L656.2 198.5ZM651.8 186.6L649.2 173.4L651.5 173.0L653.9 186.2ZM647.9 167.0L647.2 163.6L649.7 163.2L650.3 166.5ZM657.3 208.4L655.3 197.7L657.2 197.4L659.0 208.1ZM654.5 193.7L653.4 187.9L655.5 187.5L656.5 193.3ZM652.7 183.8L652.1 180.5L654.3 180.1L654.8 183.5ZM651.3 176.5L650.7 173.1L653.1 172.7L653.6 176.1ZM664.0 242.8L663.4 239.4L664.6 239.2L665.1 242.6ZM657.8 205.8L656.8 200.0L658.7 199.7L659.5 205.5ZM652.0 171.3L651.4 167.9L653.9 167.5L654.4 170.9ZM664.7 245.2L664.1 241.8L665.3 241.7L665.7 245.0ZM658.4 203.2L657.5 197.3L659.4 197.1L660.2 202.9ZM654.3 176.0L653.8 172.6L656.2 172.3L656.6 175.6ZM650.6 151.2L650.1 147.9L652.9 147.5L653.3 150.9ZM665.9 252.6L665.5 249.2L666.5 249.1L666.9 252.5ZM664.6 242.7L663.8 236.8L665.1 236.7L665.7 242.5ZM660.4 210.4L659.3 202.1L661.1 201.9L662.1 210.2ZM658.7 198.1L655.7 174.9L658.0 174.6L660.6 197.8ZM653.5 158.4L653.1 155.0L655.7 154.7L656.1 158.1ZM652.9 153.4L651.8 145.1L654.6 144.8L655.6 153.1ZM666.4 255.0L666.0 251.7L667.0 251.6L667.2 255.0ZM664.1 235.2L663.7 231.8L665.0 231.7L665.3 235.0ZM662.4 220.3L662.0 216.9L663.6 216.7L663.9 220.1ZM661.3 210.3L660.9 207.0L662.6 206.8L663.0 210.2ZM659.9 197.9L659.2 192.0L661.2 191.8L661.8 197.7ZM655.3 158.2L654.9 154.8L657.6 154.5L657.9 157.9ZM654.8 153.2L653.5 142.4L656.4 142.1L657.4 152.9ZM666.0 250.0L665.4 244.2L666.5 244.1L667.0 250.0ZM664.3 232.6L664.0 229.2L665.4 229.1L665.6 232.5ZM663.4 222.7L663.0 219.3L664.6 219.2L664.8 222.5ZM662.9 217.7L662.6 214.3L664.2 214.2L664.4 217.6ZM662.2 210.2L661.8 206.8L663.6 206.7L663.9 210.1ZM664.4 227.6L664.0 221.7L665.5 221.6L665.8 227.5ZM665.0 227.5L664.7 221.7L666.2 221.6L666.4 227.5ZM666.1 237.5L665.7 229.1L667.1 229.1L667.3 237.5ZM663.1 170.1L662.8 164.2L665.4 164.1L665.5 170.0ZM666.7 247.5L666.4 236.6L667.7 236.6L667.8 247.5ZM664.8 172.5L664.7 169.1L667.1 169.1L667.1 172.5ZM664.1 147.5L664.0 144.1L666.9 144.1L666.9 147.5ZM667.1 255.0L667.0 246.6L668.0 246.6L667.9 255.0ZM666.7 220.0L666.7 216.6L668.3 216.6L668.3 220.0ZM666.7 215.0L666.7 211.6L668.3 211.6L668.3 215.0ZM666.3 172.5L666.3 166.6L668.7 166.6L668.7 172.5ZM667.2 255.0L667.2 246.6L668.3 246.6L668.0 255.0ZM667.5 212.5L667.6 209.1L669.3 209.1L669.2 212.5ZM667.9 172.5L667.9 169.1L670.3 169.1L670.2 172.5ZM668.0 157.5L668.1 151.6L670.8 151.6L670.6 157.5ZM667.3 255.0L667.5 246.6L668.6 246.6L668.2 255.0ZM669.0 187.5L669.1 184.1L671.3 184.1L671.1 187.5ZM669.4 172.5L669.5 169.1L671.9 169.2L671.8 172.6ZM669.6 165.0L669.8 159.1L672.4 159.2L672.1 165.1ZM669.8 157.5L669.9 154.1L672.6 154.2L672.4 157.6ZM667.9 242.5L668.2 236.6L669.4 236.6L669.1 242.5ZM669.9 197.5L670.4 186.6L672.5 186.7L671.8 197.6ZM670.6 182.5L670.7 179.1L672.9 179.2L672.7 182.6ZM667.5 255.0L668.0 246.6L669.1 246.6L668.4 255.0ZM668.1 245.0L668.8 234.1L670.1 234.2L669.2 245.0ZM671.2 195.1L671.4 191.7L673.4 191.8L673.1 195.2ZM671.6 187.6L672.1 179.2L674.4 179.3L673.7 187.7ZM673.9 150.1L674.1 146.7L676.9 146.9L676.6 150.3ZM668.4 245.0L668.7 241.6L669.8 241.7L669.5 245.1ZM669.0 237.5L669.4 231.6L670.8 231.7L670.2 237.6ZM673.3 182.7L674.0 174.3L676.3 174.5L675.5 182.9ZM674.7 165.2L675.1 159.3L677.7 159.6L677.2 165.4ZM675.3 157.7L675.5 154.4L678.2 154.6L677.9 158.0ZM675.9 150.3L676.1 146.9L678.9 147.1L678.6 150.5ZM667.8 255.0L668.0 251.6L669.0 251.7L668.6 255.0ZM668.7 245.0L669.0 241.6L670.2 241.7L669.8 245.1ZM668.7 247.5L669.1 244.1L670.2 244.3L669.7 247.6ZM668.6 250.0L669.4 244.2L670.5 244.3L669.6 250.1ZM669.6 245.1L670.0 241.7L671.2 241.9L670.6 245.2ZM670.7 240.2L671.2 236.8L672.4 237.0L671.8 240.4ZM674.0 220.5L675.3 212.2L677.0 212.5L675.5 220.7ZM671.5 237.8L672.1 234.4L673.4 234.7L672.7 238.0ZM685.6 161.6L686.7 155.8L689.3 156.3L688.1 162.1ZM672.4 235.4L673.1 232.1L674.4 232.4L673.6 235.7ZM681.9 188.9L682.5 185.5L684.7 186.0L683.9 189.3ZM684.4 176.6L686.5 165.9L689.0 166.4L686.6 177.1ZM686.9 164.4L687.5 161.0L690.1 161.6L689.3 164.9ZM687.9 159.5L690.0 148.8L692.8 149.4L690.4 160.0ZM679.9 203.8L680.6 200.4L682.5 200.9L681.7 204.2ZM682.1 194.0L684.4 183.4L686.6 183.9L684.0 194.5ZM686.4 174.5L688.2 166.3L690.6 166.8L688.7 175.0ZM688.5 164.7L691.4 151.6L694.1 152.3L691.0 165.3ZM673.9 233.2L674.7 229.9L676.0 230.2L675.2 233.5ZM687.9 174.8L689.9 166.6L692.3 167.3L690.2 175.4ZM690.2 165.1L693.9 149.6L696.7 150.3L692.7 165.7ZM671.9 243.0L673.4 237.2L674.6 237.6L673.0 243.3ZM674.4 233.3L675.2 230.0L676.6 230.3L675.6 233.6ZM676.9 223.6L677.7 220.3L679.2 220.7L678.3 224.0ZM690.0 172.8L692.8 162.2L695.3 162.9L692.3 173.4ZM693.8 158.2L695.9 150.1L698.6 150.8L696.4 158.9ZM696.9 146.1L697.8 142.9L700.6 143.6L699.7 146.9ZM668.9 255.1L670.4 249.4L671.4 249.7L669.7 255.3ZM670.9 247.9L673.8 237.4L675.0 237.7L671.9 248.1ZM676.2 228.6L678.5 220.5L679.9 220.9L677.5 229.0ZM669.0 255.1L669.9 251.8L670.9 252.1L669.8 255.4ZM671.1 247.9L672.1 244.7L673.1 245.0L672.1 248.2ZM674.7 235.9L679.9 218.3L681.4 218.8L675.9 236.3ZM680.3 216.8L681.3 213.5L682.9 214.0L681.9 217.2ZM669.1 255.2L670.1 251.9L671.1 252.2L669.9 255.4ZM671.4 248.0L672.4 244.7L673.4 245.1L672.3 248.3ZM675.1 236.1L676.1 232.8L677.4 233.2L676.3 236.4ZM678.9 224.1L679.9 220.9L681.4 221.4L680.3 224.6ZM681.1 217.0L682.9 211.4L684.5 211.9L682.6 217.5ZM685.6 202.7L690.4 187.5L692.5 188.2L687.4 203.3ZM670.0 252.8L672.6 244.8L673.7 245.2L670.9 253.1ZM673.2 243.3L676.6 233.0L677.9 233.4L674.2 243.7ZM681.9 217.2L684.6 209.3L686.2 209.8L683.4 217.8ZM688.2 198.3L690.1 192.7L692.1 193.3L690.1 198.9ZM691.4 188.8L692.5 185.6L694.6 186.3L693.4 189.5ZM693.8 181.7L696.5 173.7L698.7 174.5L695.9 182.4ZM699.3 165.1L701.2 159.5L703.7 160.3L701.8 165.9ZM671.0 250.5L673.8 242.6L674.9 243.0L671.9 250.8ZM674.3 241.1L677.1 233.1L678.4 233.6L675.4 241.5ZM678.5 229.3L683.0 216.6L684.5 217.2L679.8 229.7ZM684.3 212.8L685.5 209.6L687.1 210.2L685.9 213.4ZM689.3 198.6L690.5 195.4L692.4 196.1L691.2 199.3ZM695.2 182.1L696.3 178.9L698.5 179.7L697.3 182.9ZM708.5 144.4L709.7 141.2L712.5 142.3L711.3 145.4ZM672.9 245.9L674.1 242.7L675.2 243.1L673.9 246.2ZM677.3 234.2L684.6 214.6L686.2 215.2L678.5 234.6ZM690.4 199.0L691.6 195.8L693.5 196.6L692.3 199.7ZM696.6 182.6L697.7 179.4L699.9 180.3L698.7 183.4ZM710.6 145.2L711.8 142.0L714.6 143.1L713.3 146.2ZM673.2 246.0L676.3 238.1L677.4 238.6L674.2 246.4ZM680.5 227.4L681.8 224.2L683.2 224.7L681.9 227.9ZM682.4 222.7L683.6 219.5L685.1 220.1L683.8 223.3ZM684.2 218.0L686.3 212.6L687.9 213.2L685.7 218.6ZM691.5 199.4L692.8 196.3L694.6 197.0L693.3 200.2ZM697.9 183.2L699.2 180.0L701.3 180.9L700.0 184.0ZM705.3 164.5L707.4 159.1L709.9 160.1L707.7 165.5ZM711.7 148.3L712.9 145.1L715.7 146.2L714.4 149.4ZM675.4 241.4L676.7 238.3L677.8 238.8L676.5 241.9ZM678.3 234.5L683.4 222.1L684.8 222.7L679.4 235.0ZM690.7 204.5L698.7 185.2L700.7 186.0L692.4 205.2ZM706.0 167.5L711.1 155.1L713.7 156.2L708.4 168.5ZM679.7 232.4L681.1 229.3L682.4 229.9L680.9 233.0ZM683.7 223.2L686.0 217.8L687.5 218.5L685.1 223.9ZM687.7 214.1L689.0 210.9L690.7 211.7L689.2 214.8ZM705.6 172.8L707.0 169.7L709.3 170.7L707.9 173.8ZM685.4 221.3L689.9 211.3L691.5 212.1L686.8 221.9ZM708.2 171.2L709.6 168.1L712.0 169.2L710.5 172.3ZM684.0 226.1L686.5 220.8L687.9 221.5L685.3 226.7ZM687.2 219.3L690.8 211.7L692.4 212.5L688.6 220.0ZM692.6 208.0L694.0 205.0L695.7 205.8L694.2 208.8ZM703.3 185.5L704.8 182.4L706.9 183.4L705.4 186.5ZM710.9 169.7L712.3 166.6L714.7 167.8L713.2 170.8ZM685.7 224.1L687.2 221.1L688.6 221.8L687.0 224.8ZM690.1 215.2L691.7 212.1L693.2 212.9L691.7 216.0ZM695.7 204.0L697.2 201.0L699.0 201.9L697.4 204.9ZM700.2 195.1L702.8 189.8L704.8 190.8L702.0 196.0ZM711.3 172.7L712.9 169.6L715.2 170.8L713.6 173.8ZM714.7 166.0L716.2 162.9L718.6 164.2L717.1 167.2ZM687.5 222.2L689.1 219.2L690.5 220.0L688.9 223.0ZM689.8 217.8L691.4 214.8L692.9 215.6L691.3 218.6ZM696.7 204.5L698.3 201.5L700.0 202.4L698.4 205.4ZM701.3 195.6L702.9 192.6L704.8 193.6L703.2 196.6ZM707.1 184.5L709.8 179.3L712.0 180.4L709.1 185.6ZM714.0 171.2L717.9 163.8L720.3 165.1L716.3 172.4ZM722.1 155.7L723.7 152.7L726.3 154.1L724.7 157.1ZM697.7 205.0L699.3 202.0L701.1 203.0L699.4 206.0ZM702.5 196.2L706.5 188.9L708.4 189.9L704.3 197.2ZM708.4 185.2L710.1 182.3L712.1 183.4L710.5 186.4ZM714.4 174.3L719.6 164.7L722.0 166.0L716.6 175.5ZM721.6 161.1L724.4 155.9L726.9 157.3L724.0 162.4ZM696.2 209.9L697.9 206.9L699.5 207.9L697.8 210.8ZM709.8 186.0L712.7 180.8L714.8 182.0L711.8 187.1ZM714.7 177.3L716.4 174.3L718.6 175.6L716.8 178.5ZM718.4 170.7L720.1 167.8L722.4 169.1L720.7 172.1ZM722.1 164.2L723.8 161.3L726.2 162.7L724.5 165.6ZM725.8 157.7L727.4 154.7L730.0 156.2L728.3 159.1ZM695.9 212.6L700.1 205.3L701.8 206.3L697.4 213.5ZM709.8 188.9L714.1 181.6L716.1 182.9L711.8 190.0ZM714.9 180.3L719.2 173.0L721.4 174.4L717.0 181.5ZM720.0 171.6L721.7 168.7L724.0 170.1L722.2 173.0ZM685.0 232.3L688.0 227.2L689.3 228.0L686.1 233.0ZM688.9 225.9L691.9 220.8L693.3 221.7L690.2 226.7ZM694.1 217.3L695.9 214.4L697.4 215.4L695.5 218.2ZM716.3 181.1L718.1 178.2L720.2 179.5L718.4 182.4ZM721.5 172.6L723.3 169.7L725.6 171.1L723.7 174.0ZM726.8 164.0L728.5 161.1L730.9 162.7L729.1 165.5ZM686.8 230.5L691.3 223.4L692.6 224.2L688.0 231.2ZM692.2 222.0L694.0 219.2L695.4 220.1L693.5 222.9ZM694.9 217.8L699.4 210.7L700.9 211.7L696.3 218.7ZM717.7 182.0L719.5 179.1L721.6 180.5L719.7 183.3ZM723.1 173.5L724.9 170.7L727.1 172.1L725.3 175.0ZM725.8 169.3L731.6 160.1L734.0 161.7L728.0 170.8ZM695.6 218.3L697.5 215.5L699.0 216.4L697.0 219.2ZM712.2 193.3L718.2 184.2L720.2 185.5L714.0 194.5ZM721.8 178.7L723.7 175.8L725.9 177.3L723.9 180.1ZM724.6 174.5L727.9 169.6L730.1 171.1L726.8 176.0ZM697.8 216.7L699.7 213.9L701.2 215.0L699.2 217.7ZM703.5 208.5L706.8 203.6L708.4 204.8L705.0 209.6ZM710.5 198.2L712.5 195.4L714.3 196.6L712.3 199.4ZM700.0 215.2L703.4 210.4L705.0 211.5L701.5 216.3ZM704.4 209.1L707.8 204.3L709.4 205.5L705.9 210.3ZM711.6 198.9L713.6 196.2L715.4 197.5L713.4 200.2ZM727.6 176.6L729.6 173.8L731.7 175.4L729.7 178.1ZM730.5 172.5L733.9 167.7L736.2 169.3L732.7 174.1ZM684.5 237.9L688.0 233.2L689.1 234.0L685.5 238.7ZM688.9 231.9L690.9 229.1L692.1 230.1L690.1 232.7ZM691.9 227.9L693.9 225.1L695.2 226.1L693.1 228.8ZM724.6 183.7L728.1 178.9L730.2 180.5L726.6 185.1ZM738.0 165.6L740.0 162.8L742.4 164.6L740.3 167.3ZM686.4 236.2L696.1 223.6L697.4 224.6L687.4 237.1ZM713.8 200.5L715.9 197.8L717.6 199.2L715.5 201.8ZM721.4 190.6L726.5 183.9L728.5 185.5L723.2 192.1ZM733.6 174.7L737.2 170.1L739.4 171.8L735.7 176.4ZM685.3 238.5L687.4 235.9L688.5 236.7L686.3 239.3ZM693.1 228.7L696.7 224.1L698.0 225.1L694.2 229.7ZM680.9 244.6L683.1 242.0L684.0 242.8L681.8 245.4ZM684.1 240.8L686.2 238.1L687.3 239.0L685.0 241.6ZM688.9 235.0L697.4 224.6L698.6 225.7L689.9 235.9ZM717.5 200.3L719.6 197.6L721.4 199.1L719.1 201.6ZM681.2 244.9L685.0 240.4L686.0 241.2L682.1 245.6ZM692.6 231.6L694.8 229.0L695.9 230.0L693.7 232.5ZM699.1 223.9L701.3 221.4L702.6 222.5L700.3 225.0ZM715.3 204.9L719.1 200.4L720.8 201.9L716.9 206.3ZM720.2 199.2L724.0 194.7L725.7 196.3L721.8 200.7ZM725.0 193.5L730.5 187.1L732.4 188.8L726.8 195.1ZM681.5 245.1L685.4 240.7L686.3 241.5L682.3 245.9ZM694.7 230.1L697.0 227.6L698.2 228.6L695.9 231.1ZM699.7 224.5L702.0 222.0L703.2 223.1L700.9 225.6ZM713.0 209.5L720.2 201.4L721.8 202.8L714.4 210.9ZM724.6 196.4L728.5 192.0L730.3 193.6L726.3 198.0ZM731.2 188.9L733.4 186.4L735.3 188.1L733.0 190.6ZM697.0 228.8L700.9 224.4L702.2 225.5L698.1 229.8ZM720.6 203.0L724.6 198.6L726.3 200.2L722.2 204.4ZM729.1 193.7L733.0 189.4L734.9 191.1L730.8 195.4ZM697.5 229.3L703.3 223.2L704.5 224.4L698.7 230.4ZM712.9 216.3L715.3 213.9L716.7 215.4L714.2 217.7ZM721.8 207.6L724.2 205.2L725.8 206.8L723.3 209.1ZM722.8 208.5L727.0 204.5L728.6 206.1L724.2 210.1Z"/>
<path fill="#0848f0" d="M651.3 247.2L648.8 244.9L649.7 244.0L652.1 246.4ZM632.9 230.3L628.6 226.4L629.7 225.1L634.0 229.2ZM601.6 201.6L599.1 199.3L600.7 197.6L603.2 199.9ZM590.5 191.5L588.0 189.2L589.8 187.2L592.3 189.6ZM583.1 184.7L578.8 180.8L580.8 178.6L585.0 182.7ZM649.8 245.2L645.5 241.2L646.4 240.2L650.6 244.4ZM642.5 238.3L632.8 229.1L633.9 228.0L643.5 237.4ZM622.6 219.4L620.1 217.1L621.5 215.7L623.9 218.1ZM608.1 205.7L602.0 199.9L603.6 198.2L609.6 204.1ZM591.8 190.2L585.7 184.4L587.6 182.4L593.6 188.3ZM584.5 183.3L582.0 180.9L584.0 178.9L586.4 181.3ZM650.1 244.9L642.3 237.3L643.3 236.3L650.9 244.1ZM639.4 234.4L633.4 228.5L634.5 227.4L640.4 233.4ZM618.0 213.4L615.5 211.0L617.0 209.5L619.4 212.0ZM614.4 209.9L610.2 205.7L611.7 204.2L615.9 208.4ZM591.2 187.1L583.4 179.5L585.5 177.4L593.1 185.2ZM646.9 241.1L644.5 238.6L645.5 237.7L647.8 240.2ZM639.8 233.9L637.5 231.5L638.6 230.4L640.9 232.9ZM592.5 185.8L588.4 181.6L590.4 179.7L594.4 183.9ZM587.3 180.4L583.1 176.2L585.2 174.2L589.3 178.5ZM647.2 240.7L641.4 234.6L642.5 233.6L648.2 239.8ZM628.3 220.8L613.9 205.6L615.5 204.1L629.6 219.5ZM592.1 182.7L589.8 180.2L591.8 178.3L594.1 180.8ZM644.2 236.7L641.9 234.2L643.0 233.2L645.2 235.7ZM629.0 220.1L625.0 215.7L626.4 214.5L630.3 218.9ZM623.9 214.5L608.1 197.3L609.9 195.7L625.4 213.3ZM593.5 181.4L591.2 178.9L593.3 177.0L595.5 179.6ZM590.2 177.7L586.2 173.3L588.3 171.4L592.2 175.8ZM644.6 236.3L640.7 231.8L641.9 230.9L645.7 235.4ZM623.1 211.9L620.8 209.4L622.4 208.0L624.6 210.6ZM618.1 206.3L615.9 203.8L617.5 202.3L619.7 204.9ZM594.9 180.1L592.7 177.5L594.8 175.7L597.0 178.3ZM646.7 237.8L642.9 233.3L644.0 232.3L647.7 236.9ZM633.7 222.6L631.5 220.0L632.9 218.8L635.0 221.5ZM625.6 213.1L623.4 210.5L624.9 209.2L627.1 211.8ZM601.2 184.5L595.8 178.2L597.9 176.4L603.2 182.9ZM648.7 239.3L645.0 234.8L646.1 233.9L649.7 238.5ZM636.0 223.9L630.6 217.4L632.1 216.3L637.3 222.9ZM629.6 216.2L627.5 213.6L628.9 212.4L631.1 215.0ZM626.5 212.3L619.5 203.9L621.2 202.6L627.9 211.1ZM602.6 183.4L595.7 175.0L597.8 173.2L604.6 181.8ZM652.2 242.9L648.5 238.3L649.6 237.5L653.2 242.2ZM646.0 235.1L634.5 220.7L635.9 219.6L647.1 234.2ZM633.5 219.4L629.9 214.8L631.3 213.7L634.9 218.4ZM627.3 211.6L625.2 209.0L626.8 207.7L628.8 210.4ZM604.0 182.3L592.5 167.9L594.8 166.1L606.0 180.7ZM654.1 244.6L650.5 240.0L651.5 239.2L655.0 243.9ZM648.0 236.7L645.9 234.0L647.0 233.2L649.1 235.9ZM634.3 218.9L630.7 214.2L632.2 213.1L635.7 217.8ZM628.2 210.9L626.1 208.2L627.7 207.0L629.7 209.8ZM657.3 248.4L655.3 245.7L656.3 245.0L658.2 247.8ZM651.4 240.4L647.9 235.7L649.0 234.8L652.4 239.7ZM636.5 220.3L631.5 213.5L633.0 212.5L637.9 219.3ZM629.1 210.3L627.1 207.5L628.7 206.4L630.6 209.1ZM612.7 188.1L607.7 181.4L609.8 179.9L614.7 186.7ZM594.9 164.0L592.9 161.3L595.3 159.5L597.2 162.3ZM657.6 248.3L655.6 245.5L656.5 244.8L658.4 247.6ZM650.3 238.1L648.3 235.3L649.5 234.5L651.4 237.3ZM635.8 217.7L633.8 215.0L635.3 213.9L637.2 216.7ZM630.0 209.6L628.0 206.8L629.6 205.7L631.5 208.5ZM614.0 187.2L612.0 184.4L614.1 183.0L616.0 185.8ZM611.1 183.1L609.1 180.4L611.2 178.9L613.1 181.7ZM595.1 160.7L593.2 158.0L595.6 156.2L597.6 159.0ZM655.0 244.0L648.8 235.0L649.9 234.2L655.9 243.3ZM636.6 217.2L634.6 214.4L636.1 213.4L638.0 216.2ZM629.5 206.9L624.7 200.0L626.5 198.8L631.1 205.8ZM595.5 157.4L593.6 154.6L596.1 152.9L598.0 155.8ZM636.0 214.6L632.7 209.6L634.3 208.6L637.5 213.6ZM631.8 208.3L628.6 203.4L630.3 202.3L633.4 207.3ZM627.7 202.1L625.8 199.2L627.6 198.1L629.4 200.9ZM598.7 158.3L595.4 153.4L598.0 151.7L601.2 156.7ZM643.5 224.6L641.7 221.7L643.1 220.8L644.8 223.7ZM645.5 226.3L643.7 223.4L645.0 222.6L646.8 225.5ZM651.1 234.5L649.4 231.6L650.6 230.9L652.3 233.8ZM648.6 230.2L643.1 220.8L644.5 220.0L649.8 229.5ZM650.4 232.1L645.0 222.6L646.4 221.8L651.6 231.4ZM655.7 240.6L652.9 235.4L654.0 234.7L656.7 240.0ZM652.1 234.0L648.1 226.6L649.4 225.9L653.3 233.3ZM647.3 225.2L644.5 220.0L645.9 219.2L648.7 224.5ZM621.1 176.8L618.3 171.7L620.6 170.4L623.3 175.7ZM617.5 170.2L612.3 160.7L614.8 159.4L619.8 169.0ZM656.0 240.4L651.0 230.7L652.3 230.0L657.1 239.8ZM650.3 229.3L648.7 226.3L650.0 225.6L651.5 228.6ZM648.0 224.8L645.2 219.6L646.7 218.9L649.3 224.1ZM643.3 216.0L638.3 206.3L640.0 205.4L644.9 215.2ZM635.3 200.4L631.4 193.0L633.3 192.0L637.0 199.5ZM626.0 182.7L624.5 179.7L626.6 178.6L628.1 181.6ZM622.6 176.0L619.8 170.8L622.1 169.6L624.8 174.9ZM615.6 162.7L614.1 159.7L616.6 158.4L618.1 161.5ZM654.2 235.7L650.4 228.2L651.7 227.5L655.4 235.1ZM643.0 213.3L641.5 210.3L643.1 209.5L644.6 212.5ZM639.7 206.6L637.0 201.3L638.8 200.4L641.4 205.8ZM633.0 193.2L631.5 190.1L633.4 189.2L634.9 192.2ZM626.3 179.7L623.7 174.5L625.9 173.4L628.4 178.7ZM619.6 166.3L618.1 163.3L620.5 162.1L622.0 165.2ZM627.7 179.0L624.1 171.5L626.4 170.4L629.9 178.0ZM619.1 161.0L615.5 153.4L618.1 152.2L621.6 159.8ZM640.6 203.4L639.2 200.3L641.0 199.5L642.3 202.6ZM636.4 194.3L630.9 182.1L633.0 181.1L638.3 193.4ZM626.1 171.5L622.6 163.9L625.0 162.8L628.4 170.5ZM621.9 162.4L620.5 159.3L623.0 158.2L624.4 161.3ZM619.8 157.9L617.4 152.5L620.0 151.3L622.4 156.8ZM641.6 202.9L640.2 199.8L642.1 199.0L643.4 202.2ZM634.6 186.9L632.3 181.5L634.4 180.6L636.7 186.0ZM626.6 168.5L625.3 165.4L627.7 164.4L629.0 167.5ZM654.1 230.2L651.8 224.7L653.2 224.2L655.4 229.7ZM649.3 218.6L644.2 206.3L645.9 205.6L650.8 218.0ZM637.8 190.9L636.5 187.8L638.6 187.0L639.8 190.1ZM633.1 179.4L629.8 171.6L632.2 170.7L635.2 178.5ZM628.3 167.8L625.1 160.1L627.6 159.1L630.7 166.9ZM655.6 232.3L652.5 224.5L653.9 223.9L656.8 231.8ZM646.4 209.0L644.2 203.5L646.0 202.9L648.1 208.4ZM631.7 171.8L629.6 166.3L632.0 165.4L634.1 170.9ZM629.0 164.8L625.0 154.7L627.6 153.7L631.4 163.9ZM657.0 234.4L651.4 219.5L652.9 219.0L658.2 234.0ZM647.3 208.7L645.3 203.1L647.0 202.5L649.0 208.1ZM640.3 189.9L639.1 186.8L641.2 186.0L642.3 189.2ZM630.7 164.2L628.6 158.7L631.2 157.7L633.1 163.3ZM657.4 234.3L656.3 231.0L657.6 230.6L658.7 233.8ZM655.8 229.5L654.6 226.3L656.0 225.9L657.1 229.1ZM653.3 222.5L647.9 207.5L649.7 206.9L654.7 222.0ZM645.7 201.3L644.6 198.1L646.5 197.4L647.6 200.6ZM643.2 194.2L642.1 191.0L644.1 190.3L645.2 193.5ZM639.1 182.4L637.9 179.2L640.1 178.4L641.2 181.7ZM636.6 175.3L635.4 172.1L637.8 171.3L638.8 174.6ZM633.2 165.9L630.4 158.0L633.0 157.1L635.7 165.1ZM657.9 234.1L656.0 228.5L657.4 228.0L659.1 233.7ZM655.5 227.0L654.4 223.7L655.9 223.3L656.9 226.5ZM653.9 222.2L649.7 209.5L651.4 209.0L655.4 221.8ZM647.6 203.3L644.9 195.3L646.8 194.7L649.4 202.7ZM642.8 189.0L641.8 185.8L643.8 185.1L644.9 188.4ZM639.7 179.5L638.6 176.3L640.8 175.6L641.9 178.8ZM638.1 174.8L634.6 164.5L637.1 163.7L640.4 174.1ZM632.5 158.2L631.4 155.0L634.1 154.1L635.1 157.4ZM658.4 233.9L657.4 230.7L658.7 230.3L659.6 233.5ZM656.1 226.8L654.4 221.1L655.8 220.7L657.5 226.3ZM653.1 217.2L651.3 211.6L653.0 211.1L654.7 216.8ZM644.1 188.6L642.3 183.0L644.5 182.3L646.1 188.0ZM641.1 179.1L639.3 173.5L641.6 172.7L643.3 178.4ZM637.3 167.2L635.6 161.5L638.1 160.8L639.8 166.4ZM631.3 148.1L629.5 142.5L632.4 141.6L634.1 147.2ZM648.2 197.8L647.2 194.5L649.2 194.0L650.1 197.3ZM642.5 178.6L641.6 175.4L643.8 174.7L644.8 178.0ZM637.6 161.8L636.6 158.6L639.2 157.9L640.1 161.1ZM635.4 154.7L633.8 149.0L636.5 148.2L638.1 153.9ZM632.6 145.1L631.6 141.8L634.5 141.0L635.4 144.3ZM659.4 233.6L658.4 230.3L659.8 230.0L660.6 233.3ZM653.3 211.9L652.4 208.7L654.1 208.2L655.0 211.5ZM650.0 199.9L649.1 196.6L651.0 196.1L651.8 199.4ZM648.7 195.1L647.1 189.4L649.1 188.8L650.6 194.6ZM646.0 185.4L642.4 172.5L644.7 171.9L648.1 184.9ZM640.0 163.8L637.1 153.2L639.7 152.5L642.5 163.1ZM664.2 250.4L663.4 247.1L664.4 246.9L665.2 250.2ZM659.8 233.5L659.0 230.2L660.3 229.9L661.1 233.2ZM658.0 226.2L652.7 206.0L654.5 205.5L659.4 225.9ZM651.7 202.0L650.2 196.3L652.1 195.8L653.5 201.6ZM648.6 189.9L647.7 186.6L649.8 186.1L650.6 189.4ZM644.8 175.4L644.0 172.1L646.3 171.5L647.1 174.8ZM641.7 163.3L640.8 160.0L643.4 159.4L644.2 162.7ZM664.4 250.4L663.0 244.6L664.1 244.4L665.4 250.1ZM660.9 235.8L660.1 232.5L661.4 232.2L662.1 235.5ZM658.0 223.6L653.7 205.7L655.5 205.3L659.4 223.3ZM652.7 201.7L650.8 193.6L652.8 193.1L654.6 201.3ZM662.5 240.5L661.7 237.2L662.9 237.0L663.6 240.3ZM656.5 213.7L655.8 210.4L657.4 210.0L658.1 213.4ZM654.9 206.4L654.1 203.1L655.9 202.7L656.6 206.0ZM651.1 189.3L649.3 181.1L651.5 180.6L653.1 188.9ZM646.2 167.3L645.5 164.0L648.0 163.5L648.6 166.8ZM655.8 206.2L655.2 202.8L657.0 202.5L657.6 205.8ZM652.3 189.0L651.7 185.7L653.8 185.3L654.4 188.6ZM664.1 245.3L662.6 237.0L663.8 236.8L665.2 245.1ZM655.4 198.6L654.4 192.8L656.4 192.4L657.3 198.3ZM653.6 188.8L652.5 183.0L654.7 182.6L655.7 188.4ZM652.2 181.4L651.2 175.6L653.5 175.2L654.4 181.0ZM664.4 245.2L663.8 241.9L665.0 241.7L665.4 245.1ZM656.9 200.9L656.4 197.5L658.3 197.2L658.8 200.6ZM655.7 193.5L653.9 182.7L656.1 182.4L657.7 193.2ZM652.8 176.2L652.3 172.9L654.6 172.5L655.1 175.8ZM665.0 247.7L664.5 244.3L665.6 244.2L666.1 247.5ZM658.7 205.6L658.2 202.3L660.1 202.0L660.5 205.4ZM657.6 198.2L655.3 182.5L657.5 182.2L659.5 197.9ZM651.7 158.7L651.2 155.3L653.9 154.9L654.3 158.3ZM651.0 153.7L650.5 150.3L653.2 150.0L653.7 153.3ZM661.4 217.9L660.3 209.6L662.0 209.3L662.9 217.7ZM665.0 242.6L664.0 234.3L665.3 234.1L666.1 242.5ZM662.1 217.8L661.2 209.4L662.9 209.3L663.7 217.6ZM666.3 252.5L665.9 249.2L666.9 249.1L667.2 252.5ZM665.5 245.1L665.2 241.7L666.3 241.6L666.6 245.0ZM664.6 230.1L664.4 226.7L665.8 226.6L666.0 230.0ZM665.2 230.0L665.0 226.6L666.4 226.6L666.5 230.0ZM666.2 240.0L666.0 236.6L667.3 236.6L667.3 240.0ZM667.0 255.0L666.7 246.6L667.8 246.6L667.8 255.0ZM664.5 162.5L664.4 159.1L667.0 159.1L667.0 162.5ZM666.7 217.5L666.7 214.1L668.3 214.1L668.3 217.5ZM666.3 167.5L666.2 159.1L668.8 159.1L668.7 167.5ZM666.2 157.5L666.2 154.1L668.8 154.1L668.8 157.5ZM667.5 220.0L667.5 216.6L669.1 216.6L669.0 220.0ZM667.5 215.0L667.5 211.6L669.2 211.6L669.1 215.0ZM667.9 170.0L667.9 166.6L670.4 166.6L670.3 170.0ZM668.0 162.5L668.0 156.6L670.6 156.6L670.5 162.5ZM669.5 170.0L669.6 164.1L672.2 164.2L671.9 170.1ZM670.3 187.5L670.6 181.6L672.8 181.7L672.4 187.6ZM670.7 180.0L670.8 176.6L673.1 176.7L672.9 180.1ZM670.9 175.0L671.3 164.1L673.9 164.3L673.2 175.1ZM672.1 180.1L672.3 176.7L674.6 176.8L674.3 180.2ZM672.4 175.1L672.7 169.2L675.2 169.4L674.7 175.2ZM667.6 255.0L667.9 251.6L668.9 251.6L668.5 255.0ZM668.0 250.0L668.5 244.1L669.6 244.2L669.0 250.0ZM673.9 175.2L674.7 164.3L677.2 164.5L676.2 175.4ZM675.5 155.2L675.9 149.4L678.7 149.6L678.1 155.5ZM668.0 252.5L668.3 249.1L669.3 249.2L668.9 252.6ZM668.5 247.5L668.8 244.1L669.9 244.2L669.5 247.6ZM667.9 255.0L668.8 246.6L669.9 246.7L668.7 255.1ZM668.3 252.5L668.7 249.1L669.7 249.3L669.2 252.6ZM668.8 250.0L669.7 244.2L670.8 244.4L669.8 250.2ZM669.8 245.1L670.8 239.3L672.0 239.5L670.9 245.3ZM671.0 240.2L671.6 236.9L672.9 237.1L672.2 240.5ZM671.9 237.9L672.6 234.5L673.8 234.8L673.1 238.1ZM686.4 166.8L687.0 163.5L689.5 164.0L688.8 167.3ZM672.9 235.5L673.6 232.2L674.9 232.5L674.1 235.8ZM680.4 201.3L681.2 198.0L683.1 198.4L682.3 201.7ZM688.0 167.2L688.7 163.8L691.2 164.4L690.4 167.7ZM689.7 167.5L690.4 164.2L692.9 164.8L692.1 168.1ZM670.6 247.8L672.1 242.1L673.2 242.4L671.6 248.1ZM673.1 238.1L674.6 232.4L675.9 232.8L674.3 238.4ZM675.0 230.9L677.1 222.7L678.6 223.1L676.3 231.2ZM670.2 250.3L671.1 247.0L672.1 247.3L671.1 250.5ZM671.8 245.5L673.5 239.9L674.6 240.2L672.8 245.8ZM674.0 238.3L674.9 235.1L676.1 235.4L675.1 238.7ZM672.1 245.6L673.9 240.0L675.0 240.3L673.1 245.9ZM674.4 238.4L675.4 235.2L676.6 235.6L675.5 238.8ZM669.2 255.2L670.3 251.9L671.2 252.3L670.0 255.5ZM672.4 245.7L673.4 242.5L674.5 242.8L673.4 246.0ZM689.8 193.5L691.7 187.9L693.7 188.6L691.8 194.2ZM700.9 160.3L702.0 157.1L704.6 158.0L703.4 161.2ZM673.5 243.4L674.6 240.2L675.7 240.6L674.5 243.8ZM690.2 196.3L691.3 193.1L693.2 193.8L692.1 197.0ZM692.7 189.2L695.5 181.3L697.6 182.1L694.7 189.9ZM696.0 179.8L697.1 176.6L699.4 177.4L698.2 180.6ZM702.7 160.9L703.8 157.7L706.4 158.7L705.2 161.8ZM707.7 146.8L708.8 143.6L711.6 144.6L710.4 147.8ZM672.1 248.2L673.2 245.0L674.3 245.4L673.0 248.6ZM673.8 243.5L675.9 238.0L677.0 238.4L674.8 243.9ZM691.3 196.7L696.9 181.8L699.0 182.6L693.2 197.4ZM697.4 180.3L698.6 177.1L700.8 178.0L699.6 181.1ZM703.6 163.9L705.6 158.4L708.2 159.3L706.0 164.8ZM672.3 248.3L673.5 245.1L674.6 245.5L673.2 248.7ZM677.8 234.3L680.8 226.5L682.2 227.1L679.0 234.8ZM683.3 220.4L684.5 217.2L686.0 217.8L684.7 221.0ZM692.4 197.1L698.3 182.3L700.4 183.2L694.3 197.9ZM698.9 180.8L701.0 175.3L703.3 176.2L701.0 181.7ZM703.4 169.2L705.6 163.7L708.0 164.7L705.8 170.1ZM707.1 159.9L708.3 156.7L710.9 157.8L709.6 160.9ZM671.6 250.7L673.8 245.2L674.8 245.7L672.5 251.1ZM674.4 243.8L675.7 240.6L676.8 241.1L675.5 244.2ZM676.3 239.1L678.6 233.7L679.8 234.2L677.4 239.6ZM683.0 223.0L684.3 219.8L685.8 220.4L684.4 223.6ZM684.9 218.3L687.2 212.9L688.8 213.6L686.4 219.0ZM698.3 186.0L701.6 178.2L703.7 179.2L700.4 186.9ZM704.1 172.1L706.3 166.7L708.7 167.7L706.4 173.1ZM678.7 234.7L680.1 231.6L681.3 232.1L679.9 235.2ZM685.7 218.7L688.0 213.2L689.6 213.9L687.2 219.3ZM709.6 163.6L711.0 160.5L713.5 161.6L712.0 164.7ZM680.7 232.9L682.2 229.8L683.5 230.4L681.9 233.4ZM686.1 221.6L687.6 218.5L689.0 219.2L687.5 222.3ZM690.4 212.5L692.9 207.2L694.6 208.0L692.0 213.3ZM675.6 244.3L680.5 234.5L681.7 235.1L676.6 244.8ZM684.6 226.4L686.1 223.3L687.5 224.0L685.9 227.0ZM691.3 213.0L692.8 209.9L694.4 210.7L692.8 213.7ZM694.6 206.2L696.1 203.2L697.8 204.1L696.3 207.1ZM686.3 224.5L687.9 221.4L689.3 222.2L687.7 225.2ZM691.0 215.6L692.5 212.6L694.1 213.4L692.4 216.4ZM695.6 206.7L697.1 203.7L698.8 204.6L697.2 207.6ZM723.3 153.5L724.8 150.5L727.5 151.9L725.8 154.9ZM689.4 220.4L692.2 215.2L693.7 216.0L690.8 221.2ZM692.9 213.8L698.1 204.2L699.8 205.2L694.5 214.7ZM698.9 202.8L702.9 195.4L704.8 196.5L700.6 203.8ZM709.6 183.1L711.3 180.1L713.4 181.2L711.7 184.2ZM719.2 165.5L720.8 162.5L723.2 163.8L721.5 166.8ZM724.0 156.7L725.6 153.7L728.1 155.1L726.5 158.1ZM693.8 214.3L695.4 211.3L697.0 212.2L695.3 215.1ZM697.5 207.7L699.1 204.8L700.8 205.7L699.1 208.7ZM703.6 196.9L706.5 191.7L708.4 192.8L705.4 197.9ZM707.3 190.3L710.2 185.2L712.2 186.4L709.2 191.4ZM720.9 166.4L722.5 163.4L724.9 164.8L723.2 167.7ZM723.3 162.0L726.2 156.9L728.7 158.4L725.7 163.4ZM685.7 229.8L690.0 222.6L691.3 223.4L686.9 230.5ZM690.8 221.2L696.3 211.8L697.9 212.7L692.2 222.0ZM704.7 197.5L706.5 194.6L708.3 195.7L706.5 198.6ZM708.5 191.0L710.3 188.1L712.2 189.3L710.4 192.2ZM713.6 182.4L715.3 179.5L717.5 180.8L715.7 183.6ZM725.0 163.0L728.0 157.9L730.5 159.4L727.4 164.5ZM683.6 234.4L685.4 231.5L686.6 232.2L684.8 235.1ZM695.4 215.2L703.7 201.6L705.4 202.7L696.9 216.1ZM713.7 185.4L716.8 180.3L718.9 181.6L715.7 186.6ZM728.1 161.9L729.8 159.0L732.3 160.6L730.5 163.4ZM685.5 232.6L687.3 229.7L688.5 230.5L686.6 233.3ZM690.8 224.1L692.7 221.3L694.0 222.2L692.1 225.0ZM698.9 211.5L704.7 202.3L706.4 203.4L700.4 212.5ZM715.0 186.2L718.2 181.2L720.2 182.5L717.0 187.5ZM694.2 220.4L696.1 217.5L697.5 218.5L695.6 221.3ZM701.1 210.0L705.8 202.9L707.5 204.1L702.7 211.0ZM709.4 197.4L712.7 192.5L714.5 193.8L711.2 198.6ZM727.4 170.3L729.2 167.5L731.5 169.1L729.6 171.9ZM696.4 218.8L698.3 216.0L699.7 217.0L697.8 219.8ZM706.3 204.4L708.2 201.6L709.9 202.8L707.9 205.5ZM709.1 200.2L711.0 197.4L712.8 198.7L710.8 201.4ZM726.1 175.5L728.0 172.7L730.2 174.3L728.2 177.0ZM728.9 171.4L732.3 166.5L734.6 168.2L731.1 173.0ZM684.0 237.6L687.5 232.8L688.6 233.6L685.1 238.4ZM688.4 231.5L697.6 218.6L699.0 219.6L689.6 232.4ZM698.6 217.3L700.5 214.5L702.0 215.6L700.0 218.3ZM707.3 205.1L712.1 198.2L713.9 199.5L708.9 206.2ZM733.4 168.4L736.8 163.6L739.2 165.3L735.7 170.1ZM687.4 233.9L689.4 231.2L690.6 232.0L688.5 234.7ZM690.4 229.9L692.4 227.1L693.7 228.1L691.6 230.8ZM702.3 213.8L713.2 199.0L715.0 200.3L703.8 214.9ZM684.9 238.2L686.9 235.5L688.0 236.4L685.9 239.0ZM695.5 224.3L700.6 217.7L702.0 218.7L696.8 225.3ZM706.2 210.4L711.3 203.8L712.9 205.1L707.7 211.6ZM726.0 184.7L729.5 180.0L731.6 181.6L727.9 186.2ZM732.0 176.7L734.1 174.0L736.3 175.7L734.1 178.4ZM736.6 170.8L740.2 166.1L742.5 167.9L738.8 172.5ZM680.6 244.4L685.8 237.8L686.9 238.7L681.5 245.1ZM699.3 220.9L701.4 218.2L702.8 219.4L700.6 222.0ZM714.8 201.3L717.0 198.7L718.7 200.1L716.5 202.7ZM721.1 193.5L723.2 190.9L725.0 192.3L722.9 195.0ZM682.5 242.7L684.6 240.1L685.6 240.9L683.4 243.5ZM696.8 225.3L702.1 218.8L703.5 220.0L698.0 226.4ZM712.7 206.0L718.0 199.6L719.7 201.0L714.3 207.4ZM722.2 194.5L724.4 191.8L726.2 193.4L724.0 195.9ZM679.6 246.8L681.8 244.2L682.7 245.0L680.4 247.5ZM684.4 241.1L689.9 234.7L691.0 235.6L685.4 241.9ZM690.9 233.5L693.1 230.9L694.3 231.8L692.0 234.4ZM710.4 210.6L715.9 204.2L717.5 205.6L711.9 211.9ZM718.5 201.1L720.7 198.5L722.4 200.0L720.2 202.6ZM679.8 247.0L682.1 244.4L683.0 245.2L680.7 247.7ZM684.8 241.4L688.7 236.9L689.7 237.9L685.7 242.2ZM693.1 232.0L695.3 229.4L696.5 230.5L694.2 233.0ZM695.3 230.6L697.6 228.1L698.7 229.2L696.4 231.6ZM700.3 225.1L702.6 222.6L703.9 223.7L701.6 226.2ZM715.5 208.5L717.8 206.0L719.4 207.4L717.0 209.9ZM718.9 204.8L721.2 202.3L722.8 203.8L720.5 206.2ZM724.0 199.3L726.3 196.8L728.0 198.3L725.6 200.8ZM695.8 231.1L698.1 228.6L699.3 229.7L696.9 232.1ZM702.7 223.8L708.5 217.7L709.8 219.0L703.9 225.0ZM730.2 194.8L734.3 190.5L736.1 192.3L732.0 196.5ZM687.9 240.9L692.1 236.7L693.1 237.7L688.8 241.8ZM723.6 205.8L726.0 203.4L727.6 205.0L725.1 207.4ZM690.1 239.5L698.0 232.0L699.1 233.1L691.0 240.5ZM713.7 217.1L716.1 214.8L717.5 216.2L715.0 218.5ZM720.0 212.9L722.5 210.6L723.9 212.1L721.4 214.4ZM725.5 207.8L728.0 205.5L729.5 207.2L727.0 209.4Z"/>
<path fill="#0018f0" d="M655.0 250.6L650.7 246.6L651.5 245.8L655.8 249.8ZM649.5 245.5L635.9 233.1L637.0 232.0L650.3 244.7ZM629.2 227.0L623.0 221.3L624.3 219.9L630.4 225.7ZM621.9 220.2L619.3 217.9L620.7 216.5L623.1 218.8ZM599.7 199.9L597.2 197.6L598.9 195.8L601.4 198.2ZM592.4 193.2L589.9 190.9L591.6 189.0L594.1 191.3ZM586.8 188.1L584.3 185.8L586.2 183.8L588.7 186.1ZM651.6 247.0L649.1 244.6L650.0 243.7L652.4 246.1ZM646.2 241.8L641.9 237.7L642.9 236.7L647.1 240.9ZM633.5 229.7L629.2 225.7L630.4 224.5L634.6 228.6ZM624.4 221.1L621.9 218.8L623.2 217.4L625.7 219.8ZM602.6 200.5L600.2 198.2L601.8 196.4L604.3 198.8ZM595.4 193.6L591.1 189.5L592.9 187.7L597.1 191.8ZM651.9 246.7L649.4 244.3L650.3 243.4L652.7 245.9ZM634.0 229.2L629.8 225.0L631.0 223.8L635.2 228.0ZM625.1 220.4L617.3 212.8L618.8 211.3L626.4 219.1ZM594.8 190.6L590.6 186.5L592.5 184.6L596.6 188.8ZM652.1 246.4L646.2 240.4L647.2 239.5L653.0 245.6ZM638.1 232.1L635.7 229.7L636.9 228.6L639.2 231.1ZM631.1 225.0L621.7 215.5L623.1 214.1L632.3 223.8ZM618.8 212.5L611.2 204.8L612.8 203.2L620.3 211.1ZM642.1 235.3L639.7 232.8L640.8 231.8L643.1 234.3ZM630.0 222.6L627.7 220.1L629.0 218.9L631.3 221.4ZM614.5 206.2L612.2 203.8L613.8 202.3L616.1 204.8ZM611.1 202.6L605.3 196.5L607.0 194.9L612.7 201.1ZM600.8 191.7L595.0 185.6L596.9 183.9L602.6 190.0ZM647.6 240.4L643.6 236.0L644.6 235.1L648.5 239.5ZM642.5 234.8L640.2 232.3L641.3 231.3L643.6 233.9ZM630.7 221.9L628.4 219.4L629.7 218.2L632.0 220.8ZM625.6 216.4L623.3 213.9L624.8 212.6L627.0 215.1ZM608.7 198.0L606.4 195.5L608.2 193.9L610.4 196.4ZM602.0 190.6L596.3 184.4L598.3 182.6L603.8 188.9ZM648.0 240.0L644.0 235.6L645.1 234.7L648.9 239.2ZM641.3 232.5L639.1 230.0L640.2 229.0L642.4 231.6ZM631.4 221.3L622.5 211.3L624.0 210.0L632.7 220.1ZM616.5 204.4L612.6 200.0L614.3 198.5L618.1 203.0ZM603.2 189.5L596.0 181.3L598.0 179.5L605.1 187.8ZM593.3 178.2L591.0 175.7L593.2 173.8L595.4 176.4ZM588.3 172.6L586.1 170.1L588.3 168.1L590.5 170.7ZM635.3 224.5L633.1 221.9L634.5 220.8L636.6 223.4ZM632.1 220.7L629.9 218.1L631.3 216.9L633.4 219.5ZM627.2 215.0L625.0 212.4L626.5 211.1L628.7 213.8ZM619.1 205.5L616.9 202.9L618.5 201.5L620.7 204.1ZM607.7 192.1L600.7 183.9L602.6 182.2L609.6 190.6ZM596.4 178.8L594.2 176.3L596.3 174.5L598.4 177.1ZM640.8 229.7L635.4 223.2L636.7 222.2L641.9 228.7ZM631.2 218.1L629.1 215.5L630.5 214.3L632.6 217.0ZM604.2 185.3L602.0 182.7L604.0 181.1L606.2 183.7ZM596.2 175.7L594.1 173.1L596.3 171.3L598.4 174.0ZM653.8 244.9L651.7 242.2L652.6 241.5L654.7 244.2ZM625.8 209.7L623.6 207.0L625.2 205.8L627.3 208.5ZM611.8 192.1L609.6 189.4L611.5 187.9L613.6 190.6ZM605.5 184.2L603.4 181.6L605.5 180.0L607.5 182.7ZM655.6 246.6L653.5 243.9L654.5 243.2L656.5 246.0ZM641.9 228.8L633.7 218.2L635.1 217.1L643.1 227.9ZM626.7 208.9L624.6 206.3L626.2 205.0L628.2 207.8ZM614.5 193.1L610.9 188.4L612.8 186.9L616.3 191.7ZM605.4 181.2L601.8 176.5L603.9 174.9L607.4 179.6ZM648.4 236.4L646.4 233.6L647.5 232.8L649.5 235.6ZM639.5 224.3L636.0 219.6L637.4 218.6L640.8 223.4ZM627.6 208.2L625.6 205.5L627.2 204.3L629.2 207.1ZM623.1 202.2L619.6 197.5L621.4 196.2L624.8 201.0ZM618.7 196.2L612.2 187.4L614.1 186.0L620.5 194.9ZM608.3 182.1L606.2 179.4L608.3 177.9L610.3 180.6ZM602.3 174.1L594.3 163.3L596.7 161.6L604.5 172.5ZM659.0 250.3L657.0 247.5L658.0 246.9L659.9 249.7ZM648.9 236.0L646.9 233.3L648.0 232.5L650.0 235.3ZM637.2 219.8L635.3 217.0L636.7 216.0L638.6 218.8ZM628.5 207.6L623.6 200.7L625.4 199.5L630.1 206.4ZM615.5 189.2L613.5 186.5L615.5 185.1L617.4 187.9ZM609.7 181.1L607.7 178.3L609.8 176.8L611.7 179.6ZM599.5 166.8L597.5 164.1L599.9 162.4L601.8 165.2ZM596.6 162.8L594.6 160.0L597.1 158.3L599.0 161.1ZM656.4 246.0L654.4 243.2L655.5 242.6L657.3 245.4ZM649.3 235.7L647.4 232.9L648.5 232.1L650.4 235.0ZM615.3 186.3L610.6 179.4L612.7 177.9L617.3 184.9ZM602.6 167.7L599.2 162.9L601.6 161.3L604.9 166.2ZM598.3 161.6L595.0 156.7L597.5 155.0L600.7 159.9ZM638.7 218.7L635.5 213.8L637.0 212.8L640.1 217.8ZM633.2 210.4L631.3 207.6L632.9 206.5L634.8 209.4ZM602.8 164.5L598.2 157.5L600.7 155.9L605.2 163.0ZM595.9 154.1L594.1 151.3L596.7 149.6L598.5 152.4ZM644.8 226.7L643.0 223.8L644.4 223.0L646.1 225.9ZM628.7 201.4L625.5 196.4L627.4 195.3L630.5 200.3ZM605.9 165.5L602.7 160.6L605.2 159.0L608.2 164.0ZM597.8 152.9L596.0 150.0L598.6 148.4L600.4 151.3ZM649.4 232.7L645.0 225.5L646.3 224.7L650.6 232.0ZM661.3 251.7L659.6 248.8L660.5 248.3L662.2 251.3ZM651.6 234.2L649.9 231.3L651.2 230.6L652.8 233.6ZM645.5 223.4L643.8 220.4L645.2 219.6L646.8 222.6ZM653.3 236.2L651.7 233.2L652.9 232.5L654.4 235.6ZM648.5 227.4L646.9 224.4L648.3 223.7L649.8 226.7ZM660.7 249.2L655.6 239.6L656.7 239.0L661.6 248.8ZM649.1 227.0L647.5 224.0L648.9 223.3L650.4 226.4ZM624.9 180.5L622.1 175.2L624.4 174.1L627.0 179.4ZM659.8 246.9L657.1 241.6L658.2 241.1L660.7 246.4ZM650.8 229.0L649.3 225.9L650.7 225.3L652.1 228.3ZM647.5 222.3L642.6 212.5L644.2 211.7L648.9 221.6ZM637.5 202.1L632.6 192.4L634.5 191.4L639.2 201.3ZM621.8 170.8L619.2 165.5L621.6 164.3L624.1 169.7ZM618.5 164.1L617.0 161.0L619.5 159.8L620.9 162.9ZM657.9 242.2L653.2 232.4L654.4 231.8L658.9 241.7ZM652.5 230.9L648.9 223.4L650.3 222.7L653.7 230.4ZM647.1 219.7L635.9 196.3L637.8 195.4L648.6 219.0ZM634.2 192.6L632.7 189.5L634.7 188.6L636.1 191.7ZM624.5 172.3L622.0 166.9L624.3 165.8L626.8 171.2ZM620.2 163.2L618.7 160.2L621.2 159.0L622.6 162.1ZM653.0 230.7L649.5 223.0L650.9 222.4L654.3 230.1ZM647.8 219.3L644.3 211.7L646.0 210.9L649.3 218.7ZM641.6 205.7L640.2 202.6L642.0 201.8L643.3 204.9ZM623.0 164.7L621.5 161.6L624.0 160.5L625.4 163.6ZM653.6 230.4L648.2 218.1L649.7 217.5L654.8 229.9ZM642.6 205.2L641.2 202.1L643.0 201.3L644.3 204.5ZM635.6 189.2L634.3 186.0L636.3 185.2L637.6 188.3ZM655.1 232.5L653.8 229.4L655.1 228.8L656.3 232.0ZM644.5 207.1L642.3 201.6L644.1 200.9L646.2 206.4ZM634.0 181.7L632.7 178.6L634.9 177.7L636.1 180.8ZM656.5 234.6L655.2 231.5L656.5 231.0L657.7 234.2ZM639.1 190.4L637.8 187.3L639.9 186.5L641.1 189.7ZM629.9 167.2L628.7 164.0L631.1 163.1L632.3 166.2ZM639.4 187.6L634.7 175.0L637.0 174.2L641.5 186.9ZM633.3 171.2L630.4 163.3L632.8 162.4L635.6 170.4ZM658.3 236.6L657.1 233.4L658.4 233.0L659.4 236.2ZM654.9 227.2L652.9 221.6L654.4 221.1L656.3 226.7ZM644.9 198.9L642.9 193.3L644.9 192.7L646.8 198.3ZM635.7 173.0L632.9 165.1L635.4 164.2L638.0 172.2ZM654.7 224.6L653.6 221.4L655.1 220.9L656.1 224.1ZM645.2 196.1L642.5 188.2L644.6 187.5L647.1 195.5ZM638.9 177.2L637.8 174.0L640.1 173.2L641.1 176.5ZM646.4 195.8L643.8 187.8L645.9 187.1L648.3 195.2ZM659.6 236.2L658.6 232.9L659.9 232.5L660.8 235.8ZM647.5 195.4L642.3 177.8L644.5 177.1L649.4 194.9ZM636.1 157.1L635.2 153.8L637.8 153.0L638.7 156.3ZM664.0 250.5L663.1 247.2L664.2 246.9L665.0 250.2ZM660.0 236.0L659.1 232.8L660.4 232.4L661.2 235.7ZM649.3 197.5L648.4 194.2L650.4 193.7L651.2 197.0ZM647.3 190.3L645.7 184.6L647.9 184.0L649.3 189.7ZM664.9 252.8L664.0 249.6L665.0 249.3L665.8 252.6ZM663.6 248.0L662.7 244.7L663.8 244.4L664.6 247.8ZM660.5 235.9L659.6 232.6L660.9 232.3L661.7 235.6ZM650.5 197.2L648.3 189.0L650.4 188.5L652.4 196.7ZM665.0 252.8L664.2 249.5L665.2 249.3L665.9 252.6ZM663.3 245.5L660.7 234.9L662.0 234.6L664.3 245.3ZM651.0 194.5L649.6 188.7L651.7 188.2L652.9 194.0ZM664.6 250.3L662.2 239.7L663.4 239.4L665.6 250.1ZM663.8 245.4L662.1 237.1L663.4 236.9L664.9 245.2ZM656.5 198.4L656.0 195.0L657.9 194.7L658.4 198.1ZM654.1 183.6L652.7 175.3L655.0 175.0L656.2 183.3ZM665.4 250.1L664.9 246.8L666.0 246.6L666.4 250.0ZM655.4 183.4L654.2 175.1L656.5 174.7L657.6 183.1ZM666.3 255.1L665.8 251.7L666.8 251.6L667.1 255.0ZM666.5 255.0L666.1 251.6L667.1 251.6L667.4 255.0ZM665.3 242.6L664.7 236.7L665.9 236.6L666.4 242.5ZM664.6 235.1L664.2 231.7L665.6 231.6L665.8 235.0ZM666.2 250.0L665.9 246.6L667.0 246.6L667.2 250.0ZM664.8 232.6L664.5 229.2L665.9 229.1L666.1 232.5ZM665.3 232.5L665.1 229.1L666.5 229.1L666.6 232.5ZM666.8 255.0L666.1 239.1L667.3 239.1L667.7 255.0ZM664.4 160.0L664.4 156.6L667.0 156.6L667.0 160.0ZM666.2 160.0L666.2 156.6L668.8 156.6L668.8 160.0ZM667.5 217.5L667.5 214.1L669.1 214.1L669.0 217.5ZM667.9 167.5L668.0 161.6L670.5 161.6L670.4 167.5ZM670.8 177.5L670.9 174.1L673.2 174.2L673.0 177.6ZM672.2 177.6L672.4 174.2L674.8 174.4L674.5 177.7ZM672.7 170.1L673.2 161.7L675.7 161.9L675.1 170.3ZM667.8 252.5L668.1 249.1L669.1 249.2L668.7 252.5ZM668.2 250.0L668.5 246.6L669.6 246.7L669.2 250.1ZM668.0 255.0L668.4 251.6L669.4 251.7L668.8 255.1ZM668.5 252.5L668.9 249.1L670.0 249.3L669.4 252.6ZM669.4 247.6L670.0 244.2L671.1 244.4L670.4 247.8ZM670.6 242.7L671.2 239.4L672.4 239.6L671.7 242.9ZM671.4 240.3L672.1 237.0L673.3 237.2L672.5 240.5ZM671.0 245.3L674.1 232.3L675.4 232.6L672.0 245.6ZM669.4 252.7L670.8 246.9L671.9 247.2L670.3 252.9ZM673.2 240.7L674.2 237.5L675.4 237.8L674.4 241.1ZM673.6 240.8L674.6 237.6L675.8 238.0L674.7 241.2ZM696.2 174.6L698.0 169.0L700.4 169.8L698.4 175.3ZM670.2 252.8L671.3 249.6L672.2 250.0L671.0 253.2ZM691.0 193.9L693.0 188.4L695.0 189.1L692.9 194.6ZM696.9 177.4L698.0 174.2L700.3 175.0L699.1 178.2ZM701.0 165.6L703.0 160.1L705.5 161.0L703.4 166.5ZM671.2 250.6L672.3 247.4L673.4 247.7L672.1 250.9ZM698.3 178.0L699.5 174.8L701.8 175.6L700.5 178.8ZM702.7 166.2L703.9 163.1L706.3 164.0L705.1 167.2ZM671.4 250.6L672.6 247.4L673.6 247.9L672.3 251.0ZM700.7 176.2L703.8 168.4L706.1 169.3L702.9 177.1ZM670.6 253.0L671.9 249.8L672.8 250.3L671.5 253.4ZM673.5 246.1L674.8 242.9L675.8 243.4L674.5 246.5ZM684.0 220.7L685.3 217.5L686.8 218.1L685.4 221.3ZM701.2 179.1L704.4 171.3L706.7 172.3L703.4 180.0ZM677.7 237.0L679.1 233.9L680.3 234.4L678.9 237.5ZM679.2 234.9L680.6 231.8L681.8 232.4L680.4 235.5ZM671.2 253.2L676.0 243.5L677.1 244.0L672.0 253.7ZM680.1 235.3L682.7 230.0L684.0 230.7L681.3 235.9ZM683.5 228.6L685.0 225.6L686.3 226.3L684.7 229.3ZM692.4 210.7L695.0 205.4L696.7 206.3L694.0 211.5ZM671.3 253.3L683.3 230.3L684.5 231.0L672.1 253.7ZM684.0 228.9L686.7 223.7L688.1 224.4L685.3 229.6ZM692.1 213.4L696.0 205.9L697.7 206.8L693.6 214.2ZM671.5 253.4L675.5 246.0L676.4 246.5L672.3 253.8ZM687.0 224.8L689.8 219.6L691.2 220.4L688.3 225.5ZM691.7 216.0L693.4 213.0L694.9 213.9L693.2 216.8ZM672.8 251.3L677.0 243.9L678.0 244.5L673.7 251.7ZM691.3 218.6L694.2 213.5L695.7 214.4L692.7 219.4ZM698.7 205.6L701.6 200.4L703.3 201.4L700.3 206.5ZM706.1 192.5L707.7 189.5L709.7 190.7L708.0 193.6ZM681.9 236.3L686.2 229.0L687.4 229.8L683.0 236.9ZM689.5 223.3L691.2 220.4L692.6 221.3L690.9 224.1ZM699.7 206.1L705.2 196.7L707.0 197.8L701.3 207.1ZM706.0 195.3L709.0 190.3L710.9 191.4L707.8 196.4ZM679.7 240.8L684.1 233.6L685.3 234.4L680.8 241.4ZM703.2 202.4L707.6 195.3L709.5 196.4L704.9 203.5ZM711.1 189.6L714.2 184.6L716.2 185.9L713.0 190.8ZM680.1 241.0L685.9 231.8L687.1 232.6L681.1 241.7ZM704.3 203.1L706.1 200.2L707.8 201.3L705.9 204.1ZM713.7 188.3L715.5 185.4L717.5 186.7L715.6 189.5ZM683.2 237.1L689.2 228.0L690.5 228.8L684.3 237.8ZM690.1 226.6L694.7 219.6L696.1 220.6L691.4 227.5ZM705.3 203.7L707.2 200.9L708.9 202.0L706.9 204.8ZM708.0 199.5L709.9 196.7L711.7 197.9L709.8 200.7ZM683.6 237.3L687.0 232.5L688.1 233.3L684.7 238.1ZM695.0 220.9L696.9 218.0L698.3 219.0L696.3 221.8ZM707.7 202.3L709.6 199.5L711.4 200.7L709.4 203.5ZM737.4 159.0L739.4 156.2L741.8 158.0L739.9 160.7ZM687.0 233.6L688.9 230.8L690.1 231.6L688.1 234.4ZM697.1 219.3L699.1 216.5L700.5 217.6L698.5 220.3ZM739.2 160.3L741.2 157.5L743.6 159.3L741.6 162.0ZM697.8 219.8L699.9 217.1L701.3 218.2L699.2 220.8ZM700.8 215.8L702.8 213.1L704.3 214.2L702.2 216.9ZM683.3 240.2L685.4 237.5L686.5 238.3L684.3 241.0ZM700.1 218.4L702.2 215.7L703.6 216.8L701.5 219.4ZM710.7 204.5L714.3 199.8L716.0 201.1L712.4 205.8ZM679.1 246.4L681.2 243.7L682.1 244.4L679.9 247.1ZM696.2 224.8L699.8 220.2L701.2 221.3L697.4 225.8ZM700.8 219.0L702.9 216.3L704.4 217.4L702.2 220.0ZM708.6 209.2L715.4 200.6L717.1 202.0L710.1 210.4ZM722.6 191.6L724.7 188.9L726.6 190.4L724.4 193.0ZM735.1 175.9L740.3 169.3L742.5 171.1L737.2 177.6ZM679.3 246.6L681.5 243.9L682.4 244.7L680.2 247.3ZM701.6 219.5L703.7 216.9L705.1 218.1L702.9 220.7ZM711.1 208.0L713.3 205.3L714.9 206.7L712.6 209.3ZM689.3 235.4L691.5 232.8L692.6 233.7L690.4 236.3ZM700.7 222.0L702.9 219.5L704.2 220.6L702.0 223.2ZM678.2 248.9L680.4 246.3L681.3 247.1L679.0 249.6ZM688.1 237.6L693.7 231.3L694.8 232.3L689.1 238.5ZM701.4 222.6L703.6 220.1L704.9 221.3L702.6 223.8ZM711.3 211.4L713.5 208.8L715.1 210.2L712.8 212.7ZM676.7 250.9L690.8 235.5L691.9 236.4L677.4 251.6ZM691.9 234.3L695.9 229.9L697.0 231.0L692.9 235.3ZM702.0 223.2L704.3 220.7L705.6 221.9L703.3 224.4ZM713.9 210.3L716.1 207.8L717.7 209.2L715.3 211.7ZM717.2 206.6L719.5 204.1L721.1 205.6L718.8 208.1ZM725.7 197.4L729.7 193.1L731.4 194.7L727.4 199.0ZM732.4 190.0L734.7 187.5L736.6 189.3L734.2 191.7ZM673.4 254.7L677.5 250.4L678.3 251.1L674.1 255.3ZM694.1 232.9L696.4 230.4L697.5 231.5L695.2 233.9ZM707.9 218.4L710.2 215.9L711.6 217.2L709.2 219.7ZM718.2 207.5L722.2 203.2L723.8 204.8L719.7 209.0ZM671.8 256.6L679.4 248.8L680.2 249.6L672.4 257.2ZM687.6 240.5L691.7 236.3L692.7 237.3L688.5 241.4ZM696.3 231.6L709.2 218.5L710.5 219.8L697.4 232.7ZM712.1 215.5L716.2 211.3L717.7 212.8L713.5 216.9ZM719.1 208.4L723.3 204.2L724.8 205.7L720.6 209.9ZM686.2 242.6L688.6 240.2L689.5 241.2L687.0 243.5ZM691.5 237.4L695.7 233.2L696.8 234.3L692.5 238.3ZM711.1 218.1L713.5 215.7L714.9 217.1L712.4 219.4ZM725.4 204.1L727.8 201.7L729.4 203.3L726.9 205.7ZM677.4 251.6L681.7 247.5L682.5 248.3L678.1 252.3ZM697.4 232.6L699.8 230.3L700.9 231.4L698.4 233.7ZM726.4 205.1L728.8 202.7L730.4 204.4L727.9 206.7ZM718.1 214.6L720.6 212.3L722.0 213.8L719.5 216.0ZM721.8 211.2L726.2 207.2L727.6 208.8L723.2 212.7ZM727.4 206.1L729.9 203.8L731.4 205.5L728.8 207.8Z"/>
<path fill="#0000e8" d="M662.4 257.4L659.9 255.1L660.6 254.4L663.0 256.7ZM656.9 252.3L654.4 250.0L655.1 249.2L657.6 251.6ZM636.6 233.7L632.2 229.7L633.4 228.5L637.6 232.6ZM623.7 221.9L621.2 219.6L622.5 218.2L624.9 220.6ZM597.9 198.3L591.7 192.6L593.5 190.7L599.6 196.5ZM655.2 250.4L650.9 246.3L651.8 245.5L656.0 249.6ZM629.8 226.3L623.7 220.5L625.0 219.2L631.0 225.1ZM600.8 198.8L594.7 193.0L596.5 191.2L602.5 197.0ZM653.6 248.4L651.2 246.1L652.1 245.2L654.4 247.6ZM630.5 225.7L624.5 219.8L625.8 218.5L631.7 224.5ZM610.8 206.4L603.1 198.7L604.7 197.1L612.4 204.8ZM601.9 197.6L594.1 190.0L596.0 188.1L603.6 195.9ZM653.9 248.2L651.5 245.8L652.3 244.9L654.7 247.4ZM636.3 230.4L630.5 224.4L631.7 223.2L637.5 229.3ZM622.3 216.1L618.2 211.9L619.6 210.5L623.7 214.8ZM611.8 205.4L605.9 199.4L607.6 197.8L613.4 203.9ZM603.0 196.5L595.4 188.7L597.3 186.9L604.8 194.8ZM648.9 242.5L646.6 240.1L647.6 239.1L649.9 241.7ZM640.3 233.4L638.0 231.0L639.1 229.9L641.4 232.4ZM612.8 204.4L610.5 202.0L612.1 200.4L614.4 203.0ZM605.9 197.2L600.1 191.1L602.0 189.4L607.6 195.6ZM649.3 242.2L647.0 239.7L648.0 238.8L650.2 241.4ZM640.8 233.0L638.5 230.5L639.7 229.4L641.9 232.0ZM607.0 196.1L604.7 193.6L606.5 192.0L608.8 194.5ZM649.6 241.9L647.4 239.3L648.4 238.5L650.6 241.1ZM639.7 230.6L635.8 226.2L637.0 225.2L640.8 229.6ZM633.0 223.2L630.8 220.6L632.1 219.5L634.3 222.0ZM613.2 200.7L607.6 194.4L609.4 192.8L614.8 199.2ZM606.5 193.2L602.6 188.8L604.5 187.1L608.3 191.6ZM648.3 239.7L646.1 237.1L647.2 236.2L649.3 238.8ZM640.2 230.2L638.0 227.6L639.2 226.6L641.4 229.2ZM637.0 226.4L634.8 223.8L636.0 222.7L638.2 225.3ZM630.5 218.8L626.6 214.3L628.1 213.1L631.8 217.6ZM650.3 241.3L648.1 238.7L649.2 237.8L651.3 240.5ZM620.1 204.6L617.9 202.0L619.6 200.6L621.7 203.3ZM616.9 200.8L614.7 198.1L616.5 196.7L618.6 199.4ZM610.6 193.0L603.6 184.6L605.6 183.0L612.4 191.6ZM658.5 250.7L653.2 244.2L654.2 243.4L659.3 250.1ZM624.2 207.7L620.5 203.1L622.2 201.8L625.8 206.5ZM619.5 201.8L611.2 191.4L613.1 189.9L621.2 200.5ZM610.2 190.1L605.0 183.5L607.0 182.0L612.1 188.6ZM660.2 252.6L655.0 245.9L656.0 245.2L660.9 252.0ZM646.5 234.7L641.3 228.1L642.6 227.1L647.6 233.9ZM625.2 207.0L623.1 204.3L624.7 203.0L626.7 205.8ZM619.1 199.0L613.9 192.4L615.8 191.0L620.8 197.7ZM611.5 189.1L607.9 184.4L609.9 182.9L613.4 187.7ZM658.8 250.4L656.8 247.7L657.7 247.1L659.7 249.8ZM646.9 234.4L640.4 225.6L641.7 224.7L648.0 233.6ZM626.1 206.2L622.6 201.5L624.3 200.2L627.7 205.1ZM620.2 198.2L618.1 195.5L619.9 194.1L621.9 196.9ZM606.8 180.1L604.8 177.4L606.9 175.8L608.9 178.6ZM660.5 252.3L658.5 249.6L659.4 249.0L661.3 251.8ZM644.5 229.9L642.5 227.2L643.8 226.3L645.7 229.1ZM638.7 221.8L636.7 219.0L638.1 218.0L640.0 220.9ZM624.2 201.4L620.7 196.6L622.5 195.4L625.9 200.2ZM619.8 195.3L614.9 188.5L616.9 187.1L621.6 194.1ZM608.2 179.1L606.2 176.3L608.4 174.8L610.3 177.6ZM602.4 170.9L599.0 166.1L601.3 164.5L604.6 169.3ZM660.6 252.2L655.9 245.3L656.8 244.6L661.4 251.7ZM646.5 231.6L640.3 222.6L641.6 221.7L647.7 230.8ZM638.0 219.2L636.0 216.4L637.5 215.5L639.4 218.3ZM625.2 200.7L623.3 197.9L625.1 196.7L627.0 199.5ZM616.7 188.3L614.8 185.5L616.8 184.2L618.7 187.0ZM611.1 180.1L609.1 177.3L611.3 175.8L613.2 178.7ZM604.0 169.8L602.1 167.0L604.4 165.4L606.3 168.3ZM599.7 163.6L597.8 160.8L600.3 159.2L602.1 162.0ZM655.3 243.7L649.3 234.7L650.4 233.9L656.3 243.1ZM642.9 225.0L638.2 218.0L639.7 217.0L644.2 224.1ZM626.3 200.0L623.0 195.1L624.9 193.9L628.0 198.8ZM609.7 175.0L606.5 170.0L608.8 168.6L611.9 173.5ZM604.2 166.6L602.3 163.8L604.7 162.2L606.6 165.1ZM663.7 256.2L661.8 253.3L662.7 252.8L664.4 255.7ZM655.6 243.5L652.4 238.6L653.5 237.9L656.6 242.9ZM648.9 233.0L644.4 225.9L645.7 225.1L650.0 232.3ZM626.0 197.2L622.9 192.2L624.8 191.0L627.8 196.0ZM607.2 167.6L605.4 164.8L607.8 163.3L609.6 166.2ZM603.2 161.3L597.3 152.1L599.9 150.5L605.6 159.8ZM663.8 256.1L659.3 249.0L660.3 248.4L664.5 255.7ZM650.7 234.8L648.9 231.9L650.1 231.2L651.8 234.1ZM663.9 256.1L660.8 251.0L661.7 250.5L664.6 255.6ZM660.0 249.6L658.3 246.7L659.3 246.1L660.9 249.1ZM652.4 236.7L650.7 233.7L651.9 233.1L653.5 236.0ZM662.7 253.8L661.0 250.9L661.9 250.4L663.5 253.4ZM655.3 240.8L651.2 233.5L652.4 232.8L656.4 240.2ZM661.7 251.5L655.2 239.8L656.3 239.2L662.5 251.1ZM661.8 251.4L660.2 248.4L661.2 247.9L662.7 251.0ZM660.9 249.1L659.3 246.1L660.4 245.6L661.8 248.7ZM657.5 242.4L653.8 234.9L655.0 234.3L658.6 241.9ZM649.7 226.7L647.1 221.5L648.5 220.8L651.0 226.1ZM660.0 246.7L657.5 241.4L658.6 240.9L661.0 246.3ZM653.6 233.2L652.1 230.1L653.4 229.5L654.8 232.6ZM649.3 224.2L646.7 218.8L648.2 218.2L650.6 223.5ZM636.3 197.1L633.8 191.8L635.7 190.9L638.2 196.2ZM657.2 239.8L652.6 229.9L653.9 229.3L658.3 239.3ZM649.9 223.9L647.5 218.5L649.0 217.8L651.3 223.2ZM644.7 212.5L641.2 204.8L643.0 204.1L646.3 211.8ZM662.5 251.1L661.2 248.0L662.2 247.5L663.4 250.7ZM656.6 237.3L653.2 229.6L654.5 229.1L657.7 236.8ZM648.6 219.0L642.2 204.4L644.0 203.7L650.1 218.3ZM656.0 234.8L654.7 231.7L656.0 231.2L657.2 234.3ZM636.9 188.6L633.7 180.9L635.8 180.0L638.9 187.8ZM657.4 236.9L656.1 233.8L657.4 233.3L658.6 236.5ZM638.2 188.1L636.9 184.9L639.0 184.1L640.2 187.3ZM636.3 183.4L631.4 171.0L633.7 170.1L638.4 182.6ZM661.3 246.1L660.1 243.0L661.2 242.6L662.3 245.8ZM659.6 241.5L656.6 233.6L657.9 233.1L660.7 241.1ZM635.1 175.9L633.0 170.4L635.3 169.5L637.3 175.1ZM659.9 241.3L658.0 235.8L659.2 235.3L661.0 240.9ZM659.1 236.3L658.1 233.1L659.4 232.7L660.3 235.9ZM663.9 250.5L662.9 247.3L663.9 247.0L664.8 250.3ZM665.4 255.3L663.8 249.6L664.8 249.3L666.2 255.1ZM663.4 248.1L662.4 244.8L663.5 244.5L664.4 247.8ZM660.7 238.4L659.8 235.2L661.0 234.8L661.9 238.1ZM665.5 255.3L664.6 252.0L665.6 251.7L666.3 255.1ZM663.0 245.6L660.2 235.0L661.5 234.7L664.0 245.3ZM665.6 255.2L664.8 251.9L665.8 251.7L666.4 255.0ZM664.3 247.8L663.6 244.5L664.7 244.3L665.3 247.6ZM664.6 247.8L663.9 244.4L665.0 244.2L665.6 247.6ZM664.8 247.7L664.2 244.4L665.3 244.2L665.8 247.6ZM656.1 195.9L655.6 192.6L657.6 192.3L658.1 195.6ZM664.8 237.6L664.5 234.2L665.8 234.1L666.0 237.5ZM666.6 255.0L666.1 249.1L667.2 249.1L667.5 255.0ZM666.0 247.5L665.5 241.6L666.7 241.6L667.0 247.5ZM666.7 255.0L665.9 241.6L667.0 241.6L667.6 255.0ZM665.5 235.0L665.3 231.6L666.6 231.6L666.7 235.0ZM668.1 255.0L668.6 251.6L669.6 251.8L668.9 255.1ZM669.0 250.1L669.6 246.7L670.6 246.9L670.0 250.2ZM670.1 245.2L670.7 241.8L671.9 242.0L671.2 245.4ZM670.9 242.8L671.6 239.4L672.8 239.7L672.0 243.0ZM670.7 245.3L673.0 234.6L674.3 234.9L671.7 245.5ZM669.2 252.6L670.0 249.3L671.0 249.6L670.1 252.8ZM670.4 247.8L671.2 244.4L672.3 244.7L671.4 248.0ZM668.8 255.1L669.6 251.8L670.6 252.0L669.6 255.3ZM697.7 175.1L699.7 169.5L702.0 170.4L699.9 175.9ZM700.2 168.0L701.3 164.8L703.8 165.7L702.6 168.9ZM670.3 252.9L671.5 249.7L672.4 250.1L671.2 253.2ZM699.2 175.6L703.0 165.4L705.4 166.3L701.4 176.5ZM669.5 255.3L671.7 249.8L672.6 250.2L670.3 255.6ZM669.7 255.3L670.9 252.2L671.8 252.6L670.5 255.7ZM669.8 255.4L671.1 252.2L672.0 252.6L670.6 255.7ZM673.7 246.2L678.1 236.2L679.3 236.7L674.7 246.6ZM678.2 237.2L679.5 234.1L680.8 234.6L679.3 237.7ZM670.0 255.4L673.6 247.8L674.5 248.3L670.8 255.8ZM678.6 237.4L681.1 232.0L682.3 232.6L679.7 237.9ZM670.1 255.5L671.6 252.4L672.5 252.9L670.9 255.9ZM682.3 230.9L683.8 227.8L685.2 228.5L683.6 231.5ZM670.2 255.5L671.7 252.5L672.6 253.0L670.9 255.9ZM682.9 231.1L684.4 228.1L685.7 228.8L684.1 231.8ZM670.3 255.6L671.9 252.6L672.8 253.1L671.0 256.0ZM675.1 246.8L677.9 241.6L678.9 242.2L676.0 247.3ZM681.0 235.8L687.4 224.0L688.8 224.8L682.1 236.4ZM671.6 253.4L673.3 250.5L674.2 251.0L672.4 253.9ZM676.5 244.7L678.2 241.8L679.2 242.4L677.5 245.3ZM686.4 227.3L691.7 217.8L693.2 218.7L687.7 228.1ZM701.2 201.2L704.1 196.1L705.9 197.1L702.9 202.2ZM674.3 249.2L677.3 244.1L678.3 244.7L675.2 249.7ZM679.4 240.6L682.3 235.5L683.5 236.2L680.4 241.2ZM678.4 242.9L680.2 240.0L681.2 240.7L679.4 243.5ZM707.2 196.0L708.9 193.1L710.8 194.3L709.0 197.2ZM709.8 191.8L711.5 188.9L713.5 190.1L711.7 192.9ZM678.7 243.1L680.6 240.2L681.6 240.9L679.7 243.7ZM705.6 200.9L710.1 193.9L712.0 195.1L707.3 202.1ZM712.3 190.4L714.1 187.5L716.1 188.8L714.2 191.6ZM681.8 239.1L683.7 236.3L684.8 237.0L682.9 239.8ZM688.7 228.7L690.6 225.9L691.9 226.7L689.9 229.5ZM706.7 201.6L708.5 198.8L710.3 200.0L708.4 202.8ZM686.5 233.2L695.5 220.1L696.8 221.1L687.6 234.0ZM683.0 239.9L685.0 237.2L686.1 238.0L684.0 240.7ZM699.3 217.8L701.3 215.1L702.8 216.2L700.7 218.9ZM678.8 246.2L683.9 239.5L684.9 240.3L679.7 246.8ZM701.6 216.4L706.7 209.7L708.2 210.9L703.0 217.5ZM707.1 211.1L709.2 208.5L710.7 209.7L708.5 212.3ZM724.2 189.6L726.3 186.9L728.2 188.5L726.0 191.1ZM727.3 185.7L729.4 183.0L731.4 184.6L729.2 187.3ZM703.2 217.6L705.3 215.0L706.7 216.2L704.5 218.8ZM709.5 209.9L711.7 207.3L713.2 208.6L711.0 211.2ZM723.8 192.5L726.0 189.9L727.8 191.5L725.6 194.0ZM728.6 186.7L735.5 178.3L737.6 180.1L730.5 188.3ZM677.9 248.7L680.1 246.1L681.0 246.8L678.8 249.4ZM702.3 220.1L704.5 217.6L705.9 218.7L703.6 221.3ZM708.8 212.5L711.0 210.0L712.5 211.3L710.2 213.8ZM676.5 250.7L678.8 248.2L679.6 248.9L677.3 251.4ZM675.0 252.7L677.3 250.2L678.1 250.9L675.7 253.4ZM690.2 236.1L692.5 233.6L693.6 234.6L691.2 237.1ZM703.7 221.4L706.0 218.9L707.3 220.1L705.0 222.6ZM708.8 215.9L711.1 213.3L712.5 214.7L710.2 217.1ZM671.7 256.5L674.0 254.0L674.8 254.7L672.4 257.1ZM676.9 251.0L691.3 235.9L692.3 236.9L677.6 251.8ZM692.4 234.7L694.7 232.2L695.8 233.3L693.4 235.7ZM709.6 216.6L713.6 212.3L715.1 213.7L710.9 217.9ZM721.6 203.9L725.7 199.6L727.3 201.2L723.2 205.4ZM678.8 249.4L684.7 243.4L685.6 244.3L679.6 250.2ZM685.8 242.3L688.2 239.9L689.1 240.8L686.7 243.2ZM691.1 236.9L697.0 230.9L698.1 232.0L692.1 237.9ZM708.6 219.1L712.7 214.9L714.1 216.3L709.9 220.4ZM715.6 212.0L718.0 209.5L719.5 211.0L717.0 213.4ZM722.6 204.8L728.5 198.8L730.2 200.5L724.2 206.4ZM671.9 256.6L686.8 242.0L687.7 242.9L672.5 257.3ZM695.1 233.8L711.8 217.4L713.1 218.8L696.1 234.9ZM672.0 256.7L678.1 250.9L678.8 251.7L672.6 257.4ZM681.0 248.1L683.5 245.8L684.3 246.6L681.8 248.9ZM684.7 244.7L687.1 242.3L688.0 243.3L685.5 245.5ZM699.2 230.9L714.3 216.5L715.7 217.9L700.2 232.0ZM731.8 199.9L736.1 195.8L737.8 197.6L733.4 201.6ZM672.1 256.8L680.1 249.4L680.8 250.2L672.6 257.4ZM701.6 229.8L705.9 225.8L707.0 227.0L702.6 231.0ZM708.9 223.0L715.1 217.3L716.4 218.8L710.1 224.3ZM716.3 216.2L718.8 213.9L720.2 215.5L717.6 217.7ZM729.2 204.4L735.4 198.7L737.0 200.5L730.7 206.1ZM674.0 255.2L682.2 248.0L682.9 248.9L674.6 255.9ZM728.3 207.2L732.7 203.3L734.3 205.0L729.8 208.8ZM679.8 250.5L682.4 248.2L683.2 249.1L680.5 251.3ZM681.9 249.1L686.5 245.3L687.3 246.3L682.6 249.9Z"/>
<path fill="#0000c8" d="M660.6 255.7L656.2 251.7L656.9 250.9L661.2 255.0ZM662.5 257.3L658.2 253.2L658.9 252.5L663.1 256.6ZM657.0 252.1L654.6 249.8L655.3 249.0L657.8 251.4ZM655.4 250.2L653.0 247.8L653.8 247.0L656.2 249.4ZM603.7 199.4L601.3 197.0L603.0 195.3L605.4 197.7ZM655.6 250.0L653.2 247.6L654.1 246.8L656.4 249.2ZM606.6 200.0L602.4 195.8L604.2 194.2L608.2 198.4ZM654.1 248.0L648.3 241.9L649.3 241.0L654.9 247.2ZM638.6 231.6L634.5 227.4L635.7 226.2L639.7 230.6ZM631.7 224.4L629.4 221.9L630.7 220.7L633.0 223.2ZM651.0 244.0L648.7 241.5L649.6 240.7L651.9 243.2ZM639.1 231.1L636.8 228.6L638.0 227.6L640.3 230.1ZM632.4 223.8L630.1 221.3L631.4 220.1L633.6 222.6ZM605.4 194.3L601.4 189.9L603.2 188.2L607.1 192.7ZM651.3 243.8L649.0 241.2L650.0 240.4L652.2 243.0ZM636.4 226.9L632.4 222.5L633.7 221.4L637.6 225.8ZM608.2 195.1L605.9 192.5L607.8 190.9L610.0 193.5ZM653.2 245.4L651.0 242.8L651.9 242.0L654.1 244.6ZM650.0 241.6L647.7 239.0L648.8 238.1L650.9 240.8ZM638.6 228.3L636.4 225.7L637.6 224.6L639.8 227.3ZM617.5 203.5L615.3 201.0L617.0 199.6L619.1 202.2ZM609.4 194.0L607.2 191.5L609.0 189.9L611.2 192.5ZM656.7 249.0L649.7 240.6L650.7 239.8L657.5 248.3ZM618.5 202.7L616.3 200.1L618.0 198.7L620.2 201.3ZM612.1 195.0L610.0 192.3L611.8 190.9L613.9 193.5ZM660.0 252.7L657.9 250.1L658.7 249.4L660.8 252.1ZM621.1 203.8L619.0 201.1L620.7 199.8L622.7 202.5ZM661.7 254.6L659.6 251.9L660.4 251.3L662.4 254.0ZM623.6 205.0L618.5 198.3L620.3 197.0L625.3 203.7ZM661.8 254.5L658.3 249.7L659.2 249.1L662.6 253.9ZM641.0 226.3L639.0 223.6L640.3 222.6L642.2 225.4ZM663.4 256.4L659.9 251.6L660.8 251.0L664.1 255.9ZM647.4 234.0L644.0 229.2L645.2 228.3L648.5 233.2ZM643.1 227.9L638.2 221.1L639.5 220.1L644.3 227.0ZM621.3 197.4L619.3 194.6L621.1 193.3L623.1 196.1ZM663.5 256.3L660.1 251.5L661.0 250.9L664.2 255.8ZM647.9 233.7L646.0 230.9L647.2 230.0L649.0 232.9ZM640.8 223.4L637.5 218.5L638.9 217.5L642.1 222.5ZM623.8 198.6L616.2 187.6L618.2 186.3L625.6 197.4ZM609.7 178.0L607.7 175.2L609.9 173.8L611.8 176.6ZM660.8 252.1L658.9 249.3L659.8 248.7L661.6 251.6ZM656.7 245.8L654.8 243.0L655.8 242.3L657.6 245.2ZM649.8 235.4L642.4 224.2L643.7 223.4L650.9 234.7ZM623.5 195.8L621.7 193.0L623.5 191.7L625.4 194.6ZM615.3 183.3L609.2 174.2L611.4 172.8L617.3 182.0ZM607.0 170.8L605.1 168.0L607.4 166.4L609.2 169.3ZM662.3 254.1L659.1 249.1L660.0 248.5L663.1 253.6ZM656.9 245.6L655.1 242.8L656.1 242.1L657.9 245.1ZM652.9 239.3L648.4 232.2L649.6 231.5L654.0 238.7ZM623.3 192.9L621.5 190.1L623.5 188.9L625.2 191.8ZM618.0 184.5L616.1 181.6L618.2 180.3L620.0 183.2ZM612.6 176.1L606.7 166.9L609.1 165.4L614.8 174.7ZM659.8 249.7L658.0 246.8L659.0 246.3L660.7 249.2ZM655.9 243.3L650.2 234.0L651.4 233.3L656.9 242.7ZM655.0 241.0L652.0 235.9L653.1 235.2L656.0 240.4ZM664.0 256.0L662.2 253.1L663.1 252.6L664.7 255.6ZM661.5 251.6L658.6 246.5L659.5 246.0L662.3 251.2ZM657.8 245.1L654.9 240.0L656.0 239.4L658.8 244.6ZM662.9 253.7L661.2 250.8L662.1 250.3L663.7 253.3ZM663.0 253.7L661.4 250.7L662.3 250.2L663.8 253.2ZM661.1 249.0L659.6 245.9L660.6 245.5L662.0 248.6ZM662.4 251.2L659.9 245.8L660.9 245.3L663.3 250.8ZM659.2 244.3L656.8 239.0L657.9 238.5L660.3 243.9ZM663.5 253.4L662.2 250.3L663.1 249.8L664.4 253.0ZM661.5 248.8L660.2 245.7L661.2 245.2L662.5 248.4ZM658.5 241.9L656.2 236.5L657.4 236.0L659.6 241.4ZM657.0 237.1L655.7 234.0L656.9 233.5L658.1 236.7ZM663.8 253.2L657.1 236.1L658.3 235.6L664.7 252.9ZM637.2 185.8L636.0 182.6L638.1 181.8L639.3 185.0ZM664.9 255.5L661.0 245.3L662.1 244.9L665.7 255.2ZM660.5 243.8L659.3 240.6L660.4 240.2L661.5 243.4ZM665.0 255.5L663.8 252.3L664.7 251.9L665.8 255.2ZM663.3 250.7L662.1 247.6L663.1 247.2L664.2 250.4ZM660.8 243.7L659.6 240.5L660.8 240.1L661.8 243.3ZM661.9 245.9L660.8 242.7L661.9 242.4L662.9 245.6ZM658.7 236.4L657.6 233.2L658.9 232.8L659.9 236.1ZM663.7 250.6L661.1 242.6L662.2 242.3L664.6 250.3ZM665.3 255.3L663.6 249.7L664.6 249.4L666.1 255.1ZM663.1 248.1L659.3 235.3L660.6 234.9L664.1 247.9ZM662.7 245.7L660.4 237.6L661.6 237.2L663.7 245.4ZM665.2 252.8L664.4 249.4L665.4 249.2L666.1 252.6ZM664.8 250.3L664.1 246.9L665.2 246.7L665.8 250.1ZM665.6 242.5L665.3 239.2L666.5 239.1L666.7 242.5ZM665.0 235.1L664.7 231.7L666.1 231.6L666.3 235.0ZM665.9 242.5L665.4 234.1L666.7 234.1L667.1 242.5ZM668.6 252.5L669.1 249.2L670.2 249.3L669.5 252.7ZM669.2 250.1L670.3 244.3L671.4 244.5L670.2 250.3ZM669.4 250.1L671.1 241.9L672.2 242.1L670.4 250.3ZM668.6 255.0L670.9 244.4L672.0 244.6L669.4 255.2ZM668.7 255.1L669.4 251.7L670.4 252.0L669.5 255.3ZM669.8 250.2L670.6 246.9L671.6 247.1L670.8 250.4ZM669.3 255.2L670.4 252.0L671.4 252.3L670.1 255.5ZM699.4 170.4L700.5 167.1L702.9 168.0L701.7 171.2ZM669.4 255.2L670.6 252.0L671.5 252.4L670.2 255.6ZM670.8 253.1L674.1 245.3L675.1 245.8L671.6 253.4ZM669.9 255.4L671.2 252.3L672.2 252.7L670.7 255.8ZM673.2 248.7L675.7 243.3L676.8 243.8L674.1 249.1ZM677.5 239.6L678.9 236.6L680.1 237.1L678.6 240.2ZM677.4 242.4L681.4 235.0L682.6 235.6L678.5 242.9ZM670.4 255.6L672.0 252.6L672.9 253.1L671.1 256.1ZM677.8 242.6L686.8 226.5L688.1 227.3L678.8 243.1ZM670.5 255.7L674.7 248.4L675.7 249.0L671.2 256.1ZM676.8 244.9L679.8 239.8L680.9 240.4L677.8 245.5ZM675.8 247.2L678.9 242.1L679.9 242.8L676.7 247.8ZM708.5 193.9L710.2 191.0L712.1 192.2L710.3 195.0ZM670.7 255.8L672.5 252.9L673.3 253.4L671.4 256.3ZM677.4 245.2L679.2 242.3L680.2 243.0L678.3 245.8ZM709.6 194.6L712.8 189.6L714.7 190.9L711.5 195.8ZM680.4 241.2L682.3 238.4L683.4 239.1L681.4 241.9ZM672.3 253.8L677.0 246.9L678.0 247.5L673.1 254.4ZM682.2 239.4L684.1 236.6L685.2 237.4L683.2 240.1ZM673.9 251.9L675.8 249.1L676.7 249.7L674.7 252.4ZM682.6 239.7L684.6 236.9L685.6 237.7L683.6 240.4ZM674.1 252.0L676.1 249.2L676.9 249.9L674.8 252.6ZM680.0 243.9L682.0 241.2L683.0 242.0L680.9 244.6ZM677.3 248.1L679.3 245.4L680.2 246.1L678.1 248.8ZM677.5 248.3L679.6 245.6L680.5 246.4L678.3 249.0ZM702.4 217.0L707.6 210.4L709.1 211.6L703.8 218.1ZM677.7 248.5L679.9 245.8L680.8 246.6L678.5 249.2ZM704.8 215.7L710.1 209.2L711.6 210.5L706.2 216.9ZM703.9 218.2L706.1 215.7L707.5 216.9L705.3 219.4ZM674.9 252.6L677.1 250.0L677.9 250.8L675.6 253.2ZM703.0 220.8L705.3 218.2L706.6 219.4L704.3 221.9ZM709.6 213.3L711.9 210.7L713.4 212.0L711.1 214.5ZM673.3 254.6L675.6 252.0L676.4 252.8L674.0 255.2ZM705.4 219.5L709.4 215.2L710.8 216.5L706.7 220.8ZM710.5 214.0L714.5 209.7L715.9 211.0L711.9 215.3ZM690.7 236.5L693.0 234.1L694.0 235.1L691.6 237.5ZM713.0 213.0L718.8 206.9L720.3 208.3L714.4 214.3ZM684.1 244.1L686.4 241.6L687.4 242.6L684.9 244.9ZM682.9 246.4L685.3 244.0L686.2 244.9L683.7 247.2ZM735.4 196.5L737.9 194.1L739.6 196.0L737.1 198.3ZM679.4 250.0L683.8 246.0L684.6 246.9L680.1 250.8ZM685.0 245.0L687.5 242.7L688.3 243.6L685.8 245.9ZM705.2 226.4L709.6 222.4L710.8 223.7L706.4 227.6ZM714.5 217.9L717.0 215.6L718.3 217.1L715.7 219.4ZM672.1 256.9L674.7 254.6L675.3 255.4L672.7 257.5ZM685.2 245.3L687.8 243.0L688.6 244.0L686.0 246.2ZM732.1 203.9L734.6 201.6L736.2 203.4L733.6 205.6ZM672.2 257.0L680.5 249.9L681.2 250.7L672.8 257.6ZM681.7 248.8L684.3 246.6L685.1 247.5L682.4 249.7ZM685.5 245.6L688.1 243.4L688.9 244.4L686.3 246.5ZM680.0 250.7L682.6 248.5L683.4 249.4L680.7 251.5Z"/>
<path fill="#0000b0" d="M658.9 253.8L656.4 251.5L657.1 250.7L659.5 253.1ZM655.8 249.8L653.5 247.3L654.3 246.5L656.6 249.0ZM635.2 228.0L631.1 223.7L632.4 222.6L636.3 226.9ZM656.0 249.6L653.7 247.1L654.6 246.3L656.8 248.9ZM652.7 245.9L650.3 243.4L651.3 242.5L653.5 245.1ZM637.4 229.3L635.1 226.8L636.4 225.7L638.6 228.2ZM656.2 249.4L654.0 246.8L654.9 246.1L657.1 248.7ZM656.5 249.2L652.6 244.7L653.5 243.9L657.3 248.5ZM651.6 243.5L649.4 240.9L650.4 240.1L652.5 242.7ZM615.9 201.6L613.6 199.1L615.4 197.6L617.5 200.3ZM611.0 195.9L608.8 193.4L610.6 191.8L612.8 194.5ZM659.9 252.8L656.1 248.3L657.0 247.6L660.6 252.2ZM615.3 198.8L611.6 194.3L613.4 192.8L617.0 197.4ZM661.6 254.7L659.4 252.0L660.3 251.4L662.3 254.1ZM663.2 256.5L661.1 253.9L661.9 253.3L663.9 256.0ZM663.3 256.5L661.3 253.8L662.1 253.2L664.0 256.0ZM663.6 256.3L660.3 251.4L661.2 250.8L664.3 255.8ZM659.4 250.0L656.1 245.1L657.1 244.5L660.3 249.4ZM622.2 193.7L618.9 188.8L620.9 187.5L624.0 192.5ZM616.6 185.4L614.8 182.5L616.8 181.2L618.6 184.1ZM659.6 249.9L656.4 244.9L657.4 244.3L660.5 249.3ZM622.0 190.8L617.5 183.7L619.5 182.5L623.9 189.6ZM616.6 182.4L612.1 175.3L614.3 173.9L618.7 181.1ZM658.5 247.6L655.4 242.6L656.5 242.0L659.4 247.0ZM658.8 247.4L654.5 240.2L655.6 239.6L659.7 246.9ZM659.0 247.3L657.3 244.3L658.3 243.8L659.9 246.8ZM664.1 255.9L662.4 253.0L663.3 252.5L664.8 255.5ZM664.1 255.9L662.5 252.9L663.4 252.4L664.9 255.5ZM663.1 253.6L660.5 248.3L661.4 247.8L664.0 253.2ZM662.2 251.2L660.7 248.2L661.7 247.7L663.1 250.8ZM663.4 253.4L662.0 250.3L662.9 249.9L664.2 253.1ZM660.3 246.6L658.9 243.5L659.9 243.0L661.3 246.2ZM664.5 255.7L663.2 252.6L664.1 252.2L665.3 255.3ZM660.5 246.5L658.2 241.1L659.3 240.6L661.5 246.1ZM664.7 255.6L659.5 243.2L660.6 242.8L665.5 255.3ZM657.9 239.4L656.6 236.3L657.8 235.8L659.1 239.0ZM664.8 255.6L663.5 252.4L664.4 252.0L665.6 255.2ZM664.1 253.1L663.0 249.9L663.9 249.6L665.0 252.8ZM662.4 248.4L661.3 245.2L662.4 244.8L663.4 248.1ZM665.1 255.4L663.9 252.2L664.9 251.9L665.9 255.2ZM663.5 250.7L661.6 245.1L662.6 244.7L664.4 250.4ZM661.1 243.6L658.4 235.6L659.6 235.2L662.1 243.2ZM665.2 255.4L663.4 249.8L664.4 249.5L666.0 255.1ZM661.4 243.5L658.9 235.4L660.1 235.1L662.5 243.1ZM665.7 255.2L664.9 251.9L665.9 251.7L666.6 255.0ZM665.8 255.2L664.6 249.4L665.6 249.2L666.7 255.0ZM665.5 252.7L664.4 246.9L665.4 246.7L666.4 252.5ZM665.2 250.2L664.6 246.8L665.7 246.7L666.2 250.0ZM665.8 252.6L665.3 249.3L666.3 249.1L666.7 252.5ZM665.4 240.1L664.9 234.2L666.2 234.1L666.6 240.0ZM668.2 255.0L668.7 251.6L669.7 251.8L669.1 255.1ZM668.8 252.5L669.4 249.2L670.4 249.4L669.7 252.7ZM668.9 252.6L669.6 249.2L670.6 249.4L669.8 252.8ZM674.0 246.3L678.5 236.4L679.7 236.9L675.0 246.7ZM675.3 244.1L677.9 238.8L679.0 239.4L676.3 244.6ZM670.6 255.7L676.3 246.4L677.2 247.0L671.3 256.2ZM672.0 253.7L677.9 244.5L678.9 245.1L672.8 254.2ZM670.8 255.8L680.9 240.5L682.0 241.2L671.5 256.3ZM670.9 255.9L672.8 253.1L673.6 253.6L671.6 256.4ZM676.6 247.6L682.7 238.6L683.8 239.4L677.4 248.3ZM672.4 253.9L674.4 251.1L675.2 251.7L673.2 254.5ZM675.3 249.8L683.1 238.9L684.2 239.7L676.2 250.4ZM675.5 250.0L680.5 243.2L681.5 243.9L676.4 250.6ZM681.5 241.9L683.5 239.2L684.5 240.0L682.5 242.7ZM674.2 252.1L677.8 247.4L678.7 248.1L675.0 252.7ZM676.3 250.6L678.5 248.0L679.4 248.7L677.1 251.2ZM705.5 216.3L707.8 213.8L709.2 215.0L706.9 217.5ZM704.7 218.9L706.9 216.3L708.3 217.6L706.0 220.1ZM708.0 215.1L710.2 212.6L711.7 213.9L709.4 216.4ZM671.6 256.4L673.9 253.9L674.6 254.6L672.3 257.0ZM683.1 246.7L685.6 244.3L686.5 245.3L683.9 247.5ZM681.5 248.6L685.9 244.7L686.7 245.6L682.2 249.4ZM683.6 247.2L686.2 245.0L687.0 245.9L684.4 248.1ZM674.2 255.5L676.8 253.3L677.5 254.1L674.8 256.2ZM678.1 252.3L680.7 250.1L681.4 251.0L678.7 253.1ZM685.8 245.9L688.4 243.7L689.2 244.7L686.6 246.8ZM682.2 249.3L686.8 245.7L687.5 246.6L682.8 250.2ZM704.2 232.8L706.9 230.8L707.9 232.1L705.2 234.1ZM704.7 233.5L707.4 231.5L708.4 232.8L705.6 234.8ZM698.6 247.6L701.7 246.2L702.3 247.5L699.1 248.8ZM704.6 249.4L707.9 248.4L708.3 249.8L705.1 250.8ZM681.3 258.8L684.6 258.2L684.8 259.3L681.4 259.8Z"/>
<path fill="#000098" d="M662.6 257.2L660.1 254.8L660.8 254.1L663.2 256.6ZM657.2 251.9L654.8 249.6L655.6 248.8L657.9 251.2ZM659.3 253.4L655.2 249.1L656.0 248.4L660.0 252.7ZM659.4 253.2L655.4 248.9L656.2 248.2L660.1 252.6ZM654.3 247.7L652.0 245.2L652.9 244.4L655.2 247.0ZM635.8 227.4L631.8 223.1L633.0 222.0L637.0 226.4ZM657.9 251.2L655.6 248.7L656.5 248.0L658.7 250.6ZM654.6 247.5L650.7 243.1L651.6 242.3L655.4 246.8ZM659.7 253.0L655.9 248.5L656.7 247.8L660.5 252.3ZM614.2 199.7L610.4 195.3L612.2 193.8L615.9 198.3ZM619.4 189.5L616.1 184.6L618.2 183.3L621.3 188.3ZM664.2 255.8L662.7 252.8L663.6 252.3L665.0 255.4ZM664.3 255.8L661.8 250.4L662.7 250.0L665.1 255.4ZM664.4 255.7L663.0 252.6L663.9 252.2L665.2 255.4ZM659.9 244.1L657.6 238.6L658.7 238.1L660.9 243.6ZM661.6 246.0L660.5 242.8L661.6 242.5L662.6 245.7ZM664.3 253.0L663.2 249.8L664.2 249.5L665.1 252.8ZM665.9 255.1L665.3 251.8L666.3 251.6L666.8 255.0ZM666.2 255.1L665.6 251.7L666.6 251.6L667.0 255.0ZM668.3 255.0L668.9 251.6L669.9 251.8L669.2 255.2ZM668.4 255.0L669.1 251.7L670.1 251.9L669.3 255.2ZM670.9 253.1L674.4 245.5L675.4 245.9L671.7 253.5ZM671.0 256.0L672.9 253.2L673.7 253.8L671.7 256.5ZM671.1 256.0L674.6 251.3L675.4 251.9L671.8 256.5ZM671.2 256.1L674.7 251.4L675.6 252.0L671.9 256.6ZM675.9 250.3L678.0 247.6L678.9 248.3L676.7 250.9ZM676.1 250.4L678.3 247.8L679.1 248.5L676.9 251.1ZM674.7 252.5L676.9 249.9L677.7 250.6L675.4 253.1ZM707.2 214.4L709.4 211.9L710.8 213.1L708.6 215.7ZM673.2 254.5L675.4 251.9L676.2 252.6L673.9 255.1ZM706.3 217.0L708.6 214.5L710.0 215.7L707.7 218.2ZM672.3 257.1L674.9 254.9L675.5 255.6L672.9 257.7ZM676.2 253.9L678.8 251.7L679.5 252.5L676.8 254.6ZM676.3 254.0L682.9 248.8L683.6 249.7L676.9 254.8ZM686.1 246.2L688.7 244.1L689.5 245.1L686.8 247.2ZM684.1 247.8L688.7 244.1L689.5 245.1L684.8 248.7ZM691.9 241.6L694.6 239.4L695.5 240.5L692.8 242.6ZM709.6 227.5L716.1 222.3L717.3 223.8L710.6 228.9ZM682.4 249.6L685.1 247.5L685.8 248.5L683.0 250.5ZM700.2 235.9L704.9 232.3L705.9 233.6L701.1 237.1ZM712.1 226.8L716.8 223.2L717.9 224.7L713.2 228.2ZM720.1 220.7L724.7 217.1L726.0 218.7L721.2 222.2ZM680.6 251.3L685.3 247.8L686.0 248.8L681.2 252.2ZM702.7 235.0L705.4 233.0L706.4 234.3L703.6 236.2ZM706.7 232.0L709.4 230.0L710.4 231.4L707.7 233.3ZM714.7 226.1L717.5 224.0L718.6 225.6L715.8 227.5ZM718.7 223.1L725.5 218.1L726.7 219.8L719.9 224.6ZM678.7 253.0L683.5 249.6L684.2 250.5L679.3 253.9ZM684.8 248.7L689.6 245.2L690.4 246.3L685.5 249.6ZM705.2 234.1L710.0 230.7L711.0 232.1L706.1 235.5ZM717.4 225.4L726.2 219.1L727.4 220.8L718.4 227.0ZM733.7 213.8L736.4 211.8L737.7 213.7L734.9 215.6ZM693.3 243.3L698.1 240.0L699.0 241.2L694.0 244.4ZM718.0 226.3L722.9 223.0L724.0 224.6L719.0 227.9ZM724.2 222.1L733.2 215.9L734.4 217.7L725.3 223.7ZM734.5 215.0L737.3 213.1L738.6 214.9L735.7 216.8ZM672.7 257.6L675.6 255.7L676.1 256.5L673.2 258.3ZM710.3 232.7L717.3 228.1L718.3 229.6L711.2 234.1ZM726.9 221.7L731.9 218.4L733.0 220.2L728.1 223.4ZM735.3 216.2L740.2 212.9L741.5 214.9L736.5 218.0ZM741.5 212.0L746.5 208.8L747.8 210.8L742.8 214.0ZM672.8 257.7L675.7 255.8L676.2 256.7L673.3 258.4ZM708.7 234.8L717.8 228.9L718.8 230.5L709.5 236.2ZM727.6 222.7L730.5 220.9L731.6 222.7L728.7 224.5ZM736.1 217.3L741.0 214.2L742.3 216.2L737.2 219.2ZM742.4 213.3L745.3 211.5L746.5 213.5L743.6 215.3ZM683.5 251.2L686.4 249.4L687.0 250.5L684.1 252.2ZM689.9 247.3L692.8 245.5L693.5 246.7L690.6 248.4ZM707.0 236.8L709.9 235.1L710.7 236.5L707.8 238.2ZM719.8 229.0L733.3 220.7L734.4 222.5L720.7 230.6ZM675.1 256.6L682.3 252.3L682.9 253.3L675.6 257.4ZM694.5 245.1L697.4 243.4L698.1 244.6L695.2 246.3ZM698.8 242.6L703.9 239.6L704.6 240.9L699.5 243.8ZM713.9 233.7L716.8 232.0L717.7 233.6L714.7 235.2ZM720.3 229.9L734.0 221.8L735.1 223.7L721.3 231.5ZM675.2 256.7L680.3 253.8L680.8 254.7L675.6 257.5ZM699.1 243.2L706.4 239.0L707.2 240.4L699.8 244.4ZM714.3 234.5L717.3 232.9L718.2 234.4L715.2 236.1ZM720.9 230.8L728.2 226.7L729.2 228.5L721.8 232.5ZM731.8 224.7L734.7 223.0L735.8 224.9L732.8 226.5ZM675.3 256.9L680.4 254.0L680.9 255.0L675.7 257.7ZM684.1 252.1L687.0 250.4L687.6 251.5L684.6 253.1ZM699.4 243.7L709.0 238.5L709.8 239.9L700.1 245.0ZM710.4 237.7L713.4 236.1L714.2 237.6L711.2 239.2ZM719.2 233.0L722.2 231.3L723.1 233.0L720.1 234.6ZM723.6 230.6L728.8 227.8L729.7 229.6L724.5 232.3ZM732.4 225.8L735.4 224.2L736.4 226.1L733.4 227.7ZM673.1 258.1L676.1 256.5L676.6 257.4L673.5 258.9ZM702.0 243.1L709.4 239.2L710.1 240.7L702.6 244.4ZM719.7 233.9L722.7 232.3L723.6 234.0L720.5 235.5ZM746.3 220.0L751.5 217.3L752.7 219.5L747.4 222.1ZM673.2 258.2L676.2 256.7L676.7 257.6L673.6 259.0ZM684.4 252.7L687.4 251.1L687.9 252.2L684.9 253.7ZM691.1 249.3L694.1 247.8L694.7 249.0L691.6 250.4ZM704.5 242.6L707.5 241.1L708.2 242.5L705.2 244.0ZM724.6 232.6L734.4 227.7L735.3 229.6L725.5 234.3ZM747.0 221.4L750.1 219.9L751.1 222.1L748.0 223.5ZM684.5 252.9L687.6 251.5L688.1 252.6L685.0 254.0ZM691.3 249.7L694.4 248.2L694.9 249.5L691.8 250.8ZM698.1 246.5L701.1 245.0L701.7 246.3L698.6 247.7ZM722.9 234.6L730.5 231.0L731.3 232.9L723.7 236.3ZM731.9 230.3L735.0 228.9L735.9 230.8L732.8 232.2ZM675.6 257.4L685.5 252.9L686.0 253.9L675.9 258.2ZM698.3 247.0L701.4 245.6L702.0 246.9L698.9 248.3ZM714.2 239.8L719.6 237.3L720.3 239.0L714.9 241.3ZM752.9 222.1L756.0 220.7L757.0 223.0L753.9 224.4ZM673.3 258.5L676.4 257.2L676.8 258.1L673.7 259.3ZM680.2 255.5L683.3 254.2L683.8 255.2L680.6 256.5ZM691.7 250.6L694.8 249.2L695.3 250.4L692.2 251.7ZM700.9 246.6L704.0 245.2L704.6 246.6L701.4 247.9ZM705.4 244.6L708.6 243.2L709.2 244.7L706.0 246.0ZM714.6 240.6L717.7 239.2L718.4 240.8L715.3 242.1ZM746.7 226.6L752.1 224.3L753.1 226.5L747.6 228.7ZM680.3 255.8L683.5 254.4L683.9 255.5L680.7 256.7ZM691.9 251.0L695.0 249.7L695.5 250.9L692.3 252.1ZM698.8 248.1L701.9 246.8L702.5 248.2L699.3 249.4ZM705.7 245.2L711.2 243.0L711.8 244.5L706.3 246.6ZM717.3 240.5L720.4 239.1L721.1 240.8L717.9 242.1ZM680.4 256.0L683.6 254.7L684.0 255.8L680.8 256.9ZM706.0 245.9L709.2 244.7L709.7 246.1L706.6 247.3ZM717.6 241.3L720.8 240.1L721.5 241.8L718.3 242.9ZM685.2 254.5L688.4 253.3L688.8 254.4L685.6 255.5ZM694.6 251.0L697.8 249.8L698.2 251.1L695.0 252.2ZM706.3 246.6L714.1 243.6L714.7 245.2L706.8 248.0ZM718.0 242.2L721.2 241.0L721.8 242.7L718.6 243.8ZM694.7 251.4L700.3 249.5L700.8 250.8L695.2 252.7ZM708.9 246.4L712.1 245.3L712.6 246.8L709.4 247.9ZM694.9 251.9L700.5 250.0L701.0 251.4L695.3 253.1ZM685.5 255.4L688.8 254.4L689.1 255.5L685.9 256.5ZM695.1 252.4L700.7 250.6L701.1 252.0L695.5 253.6ZM702.2 250.1L705.5 249.1L705.9 250.5L702.7 251.5ZM690.4 254.3L700.9 251.2L701.3 252.6L690.8 255.5ZM688.2 255.4L701.1 251.8L701.4 253.1L688.5 256.5ZM685.8 256.4L696.4 253.6L696.7 254.9L686.1 257.4ZM693.2 254.9L696.5 254.1L696.8 255.4L693.5 256.1ZM700.5 253.2L703.8 252.4L704.1 253.8L700.8 254.5ZM676.2 259.2L684.4 257.3L684.7 258.4L676.4 260.1ZM676.3 259.3L691.9 256.1L692.1 257.4L676.5 260.2ZM676.3 259.5L687.0 257.5L687.2 258.6L676.5 260.4ZM700.9 254.9L704.2 254.3L704.5 255.7L701.1 256.3ZM678.8 259.2L682.2 258.6L682.3 259.7L679.0 260.2ZM683.8 258.4L687.1 257.8L687.3 259.0L683.9 259.4ZM688.7 257.6L697.0 256.2L697.2 257.5L688.9 258.7ZM678.9 259.4L687.2 258.1L687.3 259.3L679.0 260.4ZM688.8 257.9L697.1 256.7L697.2 258.0L688.9 259.1ZM676.4 259.9L687.2 258.5L687.4 259.6L676.5 260.9ZM678.9 259.8L684.8 259.1L684.9 260.2L679.0 260.8ZM688.9 258.7L699.7 257.4L699.8 258.8L689.0 259.8ZM681.4 259.8L684.8 259.4L684.9 260.5L681.5 260.8ZM688.9 259.0L697.3 258.2L697.4 259.6L689.0 260.2ZM703.8 257.6L707.2 257.3L707.4 258.8L704.0 259.0ZM681.5 260.0L684.9 259.7L684.9 260.8L681.5 261.0ZM688.9 259.4L694.8 258.9L694.9 260.2L689.0 260.6ZM701.4 258.4L704.8 258.2L704.9 259.6L701.5 259.8ZM691.5 259.6L702.4 259.0L702.4 260.4L691.5 260.8ZM704.0 258.9L707.3 258.7L707.4 260.2L704.0 260.3ZM689.0 261.7L692.4 261.7L692.4 263.0L689.0 262.8Z"/>
<path fill="#000080" d="M660.8 255.4L656.6 251.3L657.3 250.6L661.4 254.8ZM662.6 257.1L655.0 249.3L655.8 248.6L663.3 256.5ZM662.7 257.0L658.6 252.8L659.4 252.0L663.4 256.4ZM662.8 256.9L658.8 252.6L659.6 251.9L663.4 256.4ZM662.9 256.9L657.3 250.6L658.1 249.9L663.5 256.3ZM663.0 256.8L659.1 252.3L659.9 251.6L663.6 256.2ZM663.1 256.7L659.3 252.2L660.1 251.5L663.7 256.1ZM663.1 256.6L661.0 254.0L661.8 253.4L663.8 256.1ZM666.1 255.1L665.0 249.3L666.1 249.1L666.9 255.0ZM671.3 256.1L676.5 249.5L677.3 250.2L671.9 256.7ZM671.4 256.2L676.7 249.7L677.5 250.4L672.0 256.8ZM671.5 256.3L675.3 251.8L676.1 252.5L672.1 256.9ZM671.6 256.4L673.8 253.8L674.5 254.5L672.2 256.9ZM672.4 257.1L677.0 253.4L677.6 254.3L672.9 257.8ZM672.4 257.1L684.8 247.2L685.6 248.2L672.9 257.8ZM688.0 244.7L690.7 242.5L691.5 243.6L688.8 245.7ZM695.9 238.4L706.3 230.1L707.4 231.4L696.7 239.6ZM715.4 222.9L733.7 208.3L735.1 210.1L716.6 224.3ZM672.5 257.2L679.1 252.1L679.8 252.9L673.0 257.9ZM680.4 251.1L683.1 249.0L683.8 250.0L681.0 252.0ZM684.4 248.1L700.9 235.3L701.9 236.6L685.1 249.0ZM706.2 231.3L712.8 226.2L713.9 227.7L707.2 232.6ZM716.1 223.7L720.8 220.1L722.0 221.7L717.2 225.2ZM724.0 217.6L734.6 209.5L736.0 211.3L725.3 219.3ZM672.5 257.3L681.3 250.8L681.9 251.7L673.0 258.0ZM684.6 248.4L703.4 234.4L704.3 235.7L685.3 249.3ZM708.7 230.5L715.5 225.5L716.5 227.0L709.7 231.9ZM716.7 224.6L719.5 222.5L720.6 224.1L717.8 226.1ZM724.8 218.6L735.5 210.6L736.9 212.5L726.0 220.3ZM672.6 257.4L679.4 252.5L680.0 253.4L673.1 258.1ZM682.8 250.1L685.5 248.1L686.2 249.1L683.4 251.0ZM688.9 245.8L691.6 243.8L692.4 244.9L689.6 246.8ZM695.0 241.4L701.8 236.5L702.7 237.8L695.8 242.5ZM703.1 235.6L705.9 233.6L706.8 235.0L704.0 236.9ZM709.2 231.2L712.0 229.3L713.0 230.7L710.2 232.6ZM713.3 228.3L718.1 224.9L719.2 226.5L714.3 229.8ZM725.5 219.6L734.4 213.3L735.7 215.1L726.7 221.3ZM672.7 257.5L694.0 242.8L694.8 243.9L673.2 258.2ZM697.4 240.5L718.7 225.8L719.8 227.4L698.2 241.7ZM722.1 223.5L724.9 221.5L726.1 223.2L723.2 225.1ZM732.4 216.4L735.2 214.5L736.5 216.3L733.6 218.2ZM674.8 256.2L711.0 232.2L712.0 233.7L675.3 257.0ZM716.5 228.6L727.7 221.2L728.8 222.9L717.5 230.1ZM731.1 218.9L736.0 215.7L737.3 217.5L732.3 220.7ZM674.9 256.3L709.4 234.3L710.3 235.7L675.4 257.1ZM717.1 229.4L720.0 227.6L721.0 229.2L718.1 231.0ZM723.4 225.4L728.4 222.2L729.5 224.0L724.4 227.1ZM729.7 221.4L734.7 218.2L735.9 220.1L730.8 223.1ZM744.5 212.0L747.4 210.1L748.7 212.2L745.8 214.0ZM675.0 256.5L684.3 250.7L684.9 251.7L675.5 257.2ZM692.1 246.0L703.5 239.0L704.3 240.3L692.7 247.1ZM704.9 238.1L707.7 236.4L708.6 237.8L705.7 239.5ZM709.1 235.5L720.5 228.5L721.5 230.2L710.0 236.9ZM732.6 221.2L735.5 219.4L736.6 221.3L733.7 223.0ZM736.8 218.6L739.7 216.8L740.9 218.7L738.0 220.5ZM743.2 214.6L746.1 212.9L747.4 214.9L744.4 216.6ZM672.9 257.9L675.9 256.1L676.4 257.0L673.4 258.6ZM681.6 252.8L690.9 247.2L691.6 248.3L682.1 253.7ZM692.3 246.4L695.3 244.7L695.9 245.9L693.0 247.5ZM696.6 243.9L699.6 242.1L700.3 243.4L697.3 245.1ZM703.1 240.1L714.6 233.3L715.5 234.8L703.9 241.4ZM716.0 232.5L721.1 229.5L722.1 231.1L716.9 234.0ZM733.3 222.3L740.5 218.0L741.6 220.0L734.3 224.2ZM673.0 258.0L675.9 256.2L676.4 257.1L673.4 258.7ZM679.5 254.2L691.2 247.6L691.8 248.8L680.0 255.1ZM692.6 246.9L699.9 242.7L700.6 244.0L693.2 248.0ZM705.6 239.5L715.1 234.1L716.0 235.6L706.4 240.8ZM716.5 233.3L721.7 230.4L722.6 232.1L717.4 234.9ZM727.4 227.2L732.5 224.2L733.6 226.1L728.4 228.9ZM733.9 223.5L745.6 216.9L746.7 218.9L735.0 225.3ZM673.1 258.1L676.0 256.4L676.5 257.3L673.5 258.8ZM681.9 253.3L684.8 251.6L685.4 252.7L682.4 254.2ZM690.6 248.5L700.2 243.3L700.9 244.6L691.2 249.6ZM708.2 238.9L711.2 237.3L712.0 238.8L709.0 240.4ZM712.6 236.6L720.0 232.5L720.9 234.2L713.4 238.0ZM721.4 231.8L724.4 230.2L725.3 231.9L722.3 233.4ZM728.0 228.2L733.2 225.4L734.2 227.2L728.9 230.0ZM734.6 224.6L737.6 223.0L738.6 224.9L735.6 226.5ZM739.0 222.2L742.0 220.6L743.0 222.6L740.0 224.2ZM675.3 257.0L702.7 242.7L703.4 244.0L675.8 257.8ZM708.6 239.7L716.1 235.8L716.9 237.3L709.3 241.1ZM717.5 235.0L720.5 233.5L721.3 235.1L718.3 236.6ZM737.4 224.6L747.1 219.6L748.2 221.7L738.4 226.6ZM675.4 257.1L685.2 252.2L685.7 253.3L675.8 258.0ZM686.6 251.5L691.9 248.9L692.4 250.1L687.1 252.6ZM693.3 248.2L705.3 242.2L706.0 243.6L693.9 249.4ZM706.7 241.5L725.4 232.2L726.3 233.9L707.4 242.9ZM733.6 228.1L747.8 221.0L748.9 223.1L734.5 230.0ZM673.2 258.3L685.3 252.5L685.8 253.6L673.6 259.1ZM686.8 251.9L692.1 249.3L692.6 250.5L687.3 252.9ZM693.5 248.6L698.9 246.1L699.5 247.4L694.1 249.8ZM700.3 245.4L723.7 234.3L724.5 236.0L700.9 246.7ZM734.2 229.3L753.0 220.3L754.1 222.5L735.0 231.2ZM673.3 258.4L676.4 257.0L676.8 257.9L673.6 259.2ZM684.7 253.2L699.1 246.6L699.7 247.9L685.1 254.3ZM700.6 246.0L708.2 242.5L708.9 243.9L701.2 247.3ZM712.0 240.8L715.1 239.4L715.8 241.0L712.6 242.3ZM730.2 232.5L733.3 231.1L734.1 233.0L731.0 234.3ZM734.7 230.4L753.7 221.8L754.7 224.0L735.6 232.3ZM675.6 257.5L681.0 255.2L681.5 256.2L676.0 258.4ZM682.5 254.5L692.5 250.2L693.0 251.4L682.9 255.5ZM694.0 249.6L699.4 247.2L699.9 248.5L694.5 250.7ZM703.2 245.6L706.3 244.2L706.9 245.6L703.7 246.9ZM707.7 243.6L710.9 242.2L711.5 243.7L708.3 245.0ZM712.3 241.6L715.4 240.2L716.1 241.8L713.0 243.1ZM716.9 239.6L720.0 238.2L720.7 239.9L717.6 241.2ZM735.2 231.6L747.5 226.3L748.4 228.4L736.1 233.5ZM751.3 224.6L754.4 223.3L755.4 225.5L752.2 226.8ZM673.4 258.7L681.1 255.4L681.6 256.4L673.7 259.5ZM682.6 254.8L692.7 250.6L693.2 251.8L683.0 255.8ZM694.2 250.0L699.6 247.8L700.2 249.1L694.7 251.2ZM701.1 247.1L706.6 244.9L707.1 246.3L701.6 248.5ZM712.7 242.4L718.1 240.1L718.8 241.7L713.3 243.9ZM740.4 230.9L745.8 228.6L746.7 230.7L741.2 232.9ZM754.2 225.1L757.4 223.8L758.3 226.2L755.2 227.4ZM675.8 257.8L681.3 255.6L681.6 256.7L676.1 258.7ZM682.8 255.1L699.9 248.3L700.4 249.6L683.1 256.1ZM703.7 246.8L706.8 245.6L707.4 247.0L704.2 248.2ZM708.3 245.0L711.5 243.7L712.1 245.3L708.9 246.4ZM740.9 232.2L748.7 229.1L749.6 231.3L741.7 234.2ZM754.9 226.7L758.0 225.4L758.9 227.7L755.7 228.9ZM761.8 223.9L767.3 221.7L768.3 224.2L762.8 226.3ZM673.5 258.9L686.0 254.1L686.4 255.2L673.8 259.7ZM687.5 253.6L695.4 250.6L695.9 251.9L687.9 254.7ZM696.9 250.1L700.1 248.9L700.6 250.2L697.4 251.3ZM701.6 248.3L707.1 246.3L707.6 247.7L702.1 249.7ZM713.3 244.0L718.8 241.9L719.4 243.5L713.9 245.5ZM741.4 233.4L744.6 232.2L745.4 234.4L742.1 235.5ZM757.8 227.3L770.3 222.6L771.3 225.2L758.6 229.6ZM673.5 259.0L695.6 251.1L696.0 252.4L673.8 259.8ZM699.5 249.8L702.7 248.6L703.1 250.0L699.9 251.1ZM706.5 247.3L709.7 246.1L710.3 247.6L707.0 248.7ZM763.1 227.2L771.0 224.4L771.9 227.0L763.9 229.7ZM676.0 258.3L695.8 251.6L696.2 252.9L676.2 259.1ZM699.7 250.3L705.3 248.4L705.7 249.9L700.1 251.6ZM709.1 247.1L712.4 246.1L712.9 247.6L709.6 248.6ZM730.5 240.0L733.7 238.9L734.3 240.8L731.1 241.9ZM763.7 228.9L771.6 226.2L772.5 228.8L764.5 231.3ZM789.8 220.2L795.3 218.3L796.3 221.3L790.7 223.1ZM673.6 259.2L681.6 256.6L681.9 257.7L673.9 260.0ZM683.2 256.2L686.4 255.1L686.7 256.2L683.5 257.2ZM687.9 254.6L695.9 252.1L696.3 253.4L688.3 255.8ZM738.0 238.9L741.2 237.8L741.9 239.9L738.6 240.9ZM745.2 236.6L757.9 232.6L758.7 234.9L745.8 238.7ZM676.1 258.6L691.3 254.0L691.6 255.2L676.3 259.5ZM700.0 251.5L710.5 248.3L710.9 249.9L700.4 252.8ZM724.0 244.3L727.3 243.4L727.8 245.2L724.5 246.1ZM738.4 240.1L741.6 239.1L742.2 241.2L739.0 242.1ZM745.6 238.0L753.6 235.6L754.3 237.8L746.2 240.1ZM673.7 259.4L689.0 255.1L689.3 256.3L673.9 260.2ZM700.2 252.0L708.3 249.8L708.7 251.3L700.6 253.4ZM738.7 241.3L742.0 240.4L742.6 242.5L739.3 243.3ZM673.7 259.5L681.9 257.4L682.1 258.4L673.9 260.3ZM683.4 257.0L686.7 256.1L687.0 257.2L683.7 258.0ZM695.5 253.8L706.1 251.1L706.4 252.6L695.8 255.1ZM739.1 242.6L742.4 241.7L742.9 243.8L739.6 244.6ZM763.3 236.3L778.7 232.3L779.4 235.1L763.9 238.8ZM797.2 227.6L800.5 226.7L801.2 229.8L797.9 230.6ZM673.8 259.6L686.8 256.4L687.1 257.6L674.0 260.4ZM688.4 256.1L694.1 254.7L694.4 256.0L688.6 257.2ZM695.7 254.3L701.4 252.9L701.7 254.3L695.9 255.6ZM702.9 252.6L706.2 251.8L706.6 253.2L703.3 254.0ZM720.0 248.5L723.3 247.7L723.7 249.5L720.4 250.2ZM732.1 245.6L735.4 244.8L735.9 246.8L732.6 247.5ZM754.0 240.3L759.7 238.9L760.3 241.3L754.5 242.6ZM761.3 238.6L767.0 237.2L767.6 239.7L761.8 241.0ZM778.3 234.5L784.0 233.1L784.7 235.9L778.9 237.2ZM785.6 232.7L788.9 231.9L789.6 234.8L786.3 235.6ZM673.8 259.7L677.1 258.9L677.3 259.9L674.0 260.6ZM683.6 257.5L706.4 252.5L706.7 253.9L683.8 258.6ZM773.9 237.5L777.2 236.8L777.8 239.5L774.4 240.1ZM673.8 259.8L677.2 259.1L677.4 260.1L674.0 260.7ZM691.0 256.3L694.3 255.6L694.6 256.9L691.2 257.5ZM695.9 255.3L706.6 253.1L706.9 254.6L696.1 256.6ZM725.3 249.3L728.6 248.7L729.0 250.5L725.6 251.1ZM774.3 239.4L777.6 238.7L778.1 241.4L774.8 242.0ZM673.9 259.9L677.2 259.3L677.4 260.3L674.0 260.8ZM686.2 257.6L701.8 254.7L702.0 256.1L686.3 258.7ZM703.4 254.5L706.7 253.8L707.0 255.3L703.6 255.9ZM720.6 251.3L728.8 249.7L729.2 251.6L720.9 253.0ZM732.9 249.0L738.7 247.9L739.0 249.9L733.2 250.9ZM673.9 260.1L679.7 259.0L679.9 260.1L674.0 260.9ZM686.2 258.0L689.6 257.4L689.8 258.6L686.4 259.1ZM696.1 256.3L706.8 254.5L707.1 256.0L696.3 257.6ZM720.7 252.2L748.8 247.5L749.1 249.7L721.0 253.9ZM762.7 245.2L768.5 244.2L768.9 246.8L763.0 247.6ZM772.5 243.5L780.8 242.1L781.2 244.9L772.9 246.1ZM676.4 259.8L679.7 259.3L679.9 260.3L676.5 260.7ZM686.3 258.3L689.6 257.8L689.8 259.0L686.4 259.4ZM696.2 256.8L704.5 255.6L704.7 257.0L696.4 258.1ZM723.4 252.7L736.6 250.8L736.9 252.8L723.6 254.5ZM740.7 250.2L746.5 249.3L746.8 251.5L741.0 252.2ZM772.8 245.4L781.1 244.1L781.5 246.9L773.2 248.0ZM686.3 258.6L704.6 256.2L704.8 257.7L686.5 259.7ZM728.5 253.1L736.8 252.0L737.0 254.0L728.7 254.9ZM740.9 251.4L744.2 251.0L744.5 253.1L741.1 253.5ZM775.6 246.9L781.4 246.1L781.8 248.9L775.9 249.6ZM785.5 245.6L788.8 245.1L789.2 248.0L785.8 248.4ZM676.4 260.1L679.8 259.7L679.9 260.7L676.5 261.0ZM683.9 259.2L689.8 258.6L689.9 259.8L684.0 260.3ZM698.8 257.5L702.2 257.1L702.3 258.6L698.9 258.9ZM703.8 257.0L707.1 256.6L707.3 258.1L703.9 258.4ZM721.2 255.0L724.5 254.6L724.7 256.4L721.3 256.7ZM728.6 254.1L737.0 253.2L737.2 255.2L728.8 256.0ZM751.0 251.6L756.8 250.9L757.1 253.3L751.2 253.8ZM773.3 249.0L776.7 248.7L777.0 251.4L773.6 251.7ZM780.8 248.2L784.1 247.8L784.4 250.6L781.1 251.0ZM676.5 260.3L682.3 259.7L682.4 260.7L676.5 261.2ZM683.9 259.5L689.8 258.9L689.9 260.1L684.0 260.6ZM696.4 258.3L704.7 257.5L704.9 259.0L696.5 259.6ZM721.3 255.9L727.1 255.4L727.3 257.2L721.4 257.7ZM731.2 255.0L737.1 254.4L737.3 256.4L731.4 256.9ZM763.6 251.8L769.4 251.3L769.7 253.9L763.8 254.3ZM676.5 260.4L682.4 259.9L682.4 261.0L676.5 261.3ZM684.0 259.8L689.8 259.3L689.9 260.5L684.0 260.9ZM693.9 259.0L702.3 258.4L702.4 259.8L694.0 260.3ZM721.4 256.9L724.7 256.6L724.9 258.4L721.5 258.6ZM758.7 253.9L762.1 253.6L762.3 256.1L758.9 256.3ZM763.7 253.5L769.6 253.1L769.8 255.6L763.9 256.0ZM718.9 258.0L724.8 257.6L724.9 259.4L719.0 259.6ZM704.0 259.5L707.4 259.4L707.4 260.9L704.0 260.9ZM786.5 260.1L789.9 260.0L789.9 263.0L786.5 262.9ZM784.0 262.1L789.9 262.2L789.9 265.1L784.0 264.9ZM684.0 261.5L689.9 261.7L689.9 262.9L684.0 262.6ZM684.0 261.8L692.4 262.2L692.4 263.4L684.0 262.9ZM685.6 267.5L688.8 268.6L688.4 269.7L685.2 268.5ZM778.9 340.5L781.7 342.4L779.8 345.1L777.0 343.0ZM777.5 342.4L782.2 345.9L780.3 348.5L775.6 344.9ZM774.1 342.8L780.8 347.9L778.7 350.5L772.2 345.3ZM774.6 346.2L777.3 348.3L775.2 350.8L772.6 348.7ZM773.1 348.0L775.7 350.2L773.7 352.7L771.1 350.5ZM769.7 348.3L774.2 352.1L772.1 354.5L767.6 350.6ZM766.3 348.4L770.7 352.3L768.6 354.7L764.2 350.7ZM761.1 346.7L769.1 354.1L766.9 356.4L759.0 348.9ZM737.8 327.7L743.9 333.5L742.1 335.3L736.1 329.5ZM759.6 348.3L767.5 355.8L765.3 358.1L757.5 350.5ZM736.6 328.9L740.9 333.0L739.0 334.9L734.9 330.6ZM735.5 330.1L739.6 334.3L737.7 336.1L733.7 331.8ZM734.2 331.3L738.3 335.5L736.4 337.3L732.4 333.0ZM733.0 332.4L737.0 336.8L735.1 338.5L731.2 334.1ZM725.1 326.1L735.7 338.0L733.7 339.7L723.4 327.6ZM715.9 317.5L719.7 322.0L718.0 323.4L714.3 318.9ZM724.0 327.1L732.7 337.2L730.8 338.9L722.2 328.5ZM714.9 318.4L720.3 324.9L718.5 326.3L713.3 319.7ZM722.9 328.0L731.4 338.4L729.4 340.0L721.1 329.5ZM713.9 319.2L717.6 323.8L715.9 325.2L712.3 320.5ZM712.9 320.0L716.5 324.7L714.7 326.0L711.2 321.3ZM711.9 320.8L715.4 325.5L713.6 326.8L710.2 322.0ZM709.4 319.5L714.3 326.4L712.5 327.6L707.7 320.7ZM701.3 309.9L711.7 325.1L709.9 326.3L699.8 311.0ZM700.4 310.5L710.6 325.9L708.8 327.0L698.9 311.5ZM698.2 309.0L709.5 326.6L707.6 327.7L696.7 309.9ZM697.4 309.5L705.7 323.1L703.9 324.1L695.9 310.4ZM696.5 310.0L699.5 315.1L697.9 316.1L695.0 310.9ZM692.0 304.0L694.9 309.1L693.4 310.0L690.6 304.8ZM695.7 310.5L698.6 315.7L696.9 316.6L694.1 311.4ZM691.3 304.4L697.7 316.2L696.0 317.1L689.8 305.2ZM690.5 304.8L696.7 316.7L695.0 317.6L689.0 305.6ZM689.7 305.2L695.7 317.2L694.0 318.0L688.3 305.9ZM689.0 305.6L694.7 317.7L693.0 318.5L687.5 306.3ZM686.1 301.4L687.5 304.5L686.0 305.2L684.7 302.1ZM688.2 306.0L693.8 318.2L692.0 318.9L686.7 306.6ZM685.4 301.7L687.8 307.1L686.2 307.8L684.0 302.3ZM690.4 313.2L692.8 318.6L691.0 319.3L688.8 313.9ZM684.7 302.0L687.0 307.5L685.4 308.1L683.3 302.6ZM684.0 302.3L686.2 307.8L684.6 308.4L682.6 302.9ZM680.7 295.6L685.4 308.1L683.8 308.7L679.3 296.1ZM679.2 293.5L684.6 308.4L683.0 309.0L677.9 293.9ZM677.1 288.9L682.9 306.4L681.4 306.9L675.9 289.3ZM676.6 289.1L682.2 306.6L680.6 307.1L675.4 289.5ZM676.1 289.2L681.4 306.9L679.8 307.3L674.9 289.6ZM675.6 289.4L680.6 307.1L679.0 307.5L674.4 289.7ZM674.5 287.1L678.5 302.5L677.0 302.9L673.3 287.4ZM674.1 287.2L677.2 300.2L675.8 300.6L672.9 287.5ZM673.6 287.3L676.0 298.0L674.6 298.3L672.4 287.6ZM673.2 287.4L674.9 295.7L673.5 295.9L672.0 287.7ZM672.7 287.5L673.8 293.3L672.5 293.6L671.5 287.7ZM672.3 287.6L673.3 293.4L671.9 293.7L671.0 287.8ZM671.8 287.7L672.7 293.5L671.3 293.7L670.6 287.9ZM671.4 287.8L672.1 293.6L670.8 293.8L670.1 287.9ZM670.9 287.8L671.6 293.7L670.2 293.8L669.7 288.0ZM670.4 287.9L671.0 293.8L669.6 293.9L669.2 288.0ZM670.0 287.9L670.5 293.8L669.1 293.9L668.7 288.0ZM669.5 288.0L669.9 293.9L668.5 293.9L668.3 288.0ZM669.1 288.0L669.3 293.9L667.9 293.9L667.8 288.0ZM668.6 288.0L668.8 293.9L667.4 293.9L667.3 288.0ZM668.1 288.0L668.2 293.9L666.8 293.9L666.9 288.0ZM667.7 288.0L667.6 293.9L666.2 293.9L666.4 288.0ZM667.2 288.0L667.1 293.9L665.7 293.9L665.9 288.0ZM666.7 288.0L666.5 293.9L665.1 293.9L665.5 288.0ZM666.4 285.5L665.9 293.9L664.5 293.8L665.2 285.4ZM666.0 285.5L665.4 293.9L664.0 293.8L664.8 285.4ZM665.6 285.5L664.8 293.8L663.4 293.7L664.4 285.3ZM665.2 285.4L664.5 291.3L663.2 291.1L664.0 285.3ZM664.8 285.4L664.0 291.2L662.7 291.1L663.6 285.2ZM664.3 285.3L663.5 291.2L662.2 291.0L663.1 285.2ZM663.9 285.3L663.0 291.1L661.6 290.9L662.7 285.1ZM663.5 285.2L662.4 291.0L661.1 290.8L662.3 285.0ZM663.1 285.1L661.9 290.9L660.6 290.6L661.9 284.9ZM662.7 285.1L661.4 290.8L660.1 290.5L661.5 284.8ZM662.3 285.0L660.9 290.7L659.6 290.4L661.1 284.7ZM662.5 282.5L660.4 290.6L659.1 290.2L661.4 282.2ZM662.1 282.4L659.9 290.5L658.6 290.1L661.0 282.0ZM661.8 282.3L660.1 287.9L658.9 287.6L660.6 281.9ZM665.1 270.2L664.2 273.5L663.2 273.2L664.3 270.0ZM661.4 282.2L659.6 287.8L658.4 287.4L660.3 281.8ZM661.0 282.1L659.2 287.7L658.0 287.2L659.9 281.7ZM660.7 281.9L658.7 287.5L657.5 287.1L659.6 281.5ZM660.3 281.8L658.3 287.4L657.1 286.9L659.2 281.4ZM660.0 281.7L657.8 287.2L656.6 286.7L658.9 281.3ZM659.6 281.6L658.3 284.7L657.2 284.2L658.5 281.1ZM645.0 268.4L634.5 271.4L634.1 270.0L644.6 267.2ZM630.6 272.5L624.9 274.1L624.5 272.6L630.2 271.1ZM616.1 276.6L596.0 282.4L595.5 280.3L615.7 274.9ZM592.1 283.5L567.2 290.7L566.5 288.1L591.5 281.4ZM558.5 293.2L550.4 295.5L549.6 292.6L557.7 290.4ZM630.4 271.8L624.7 273.4L624.3 271.8L630.0 270.4ZM613.5 276.3L600.5 279.8L600.0 277.8L613.0 274.6ZM591.7 282.1L583.6 284.3L583.0 282.0L591.2 280.0ZM579.6 285.4L564.3 289.5L563.6 286.8L579.0 283.0ZM555.5 291.8L549.8 293.3L549.0 290.4L554.8 289.0ZM630.2 271.1L617.2 274.4L616.8 272.7L629.8 269.7ZM608.3 276.6L600.2 278.6L599.7 276.6L607.9 274.7ZM588.9 281.4L583.2 282.8L582.6 280.4L588.4 279.1ZM574.4 285.0L558.9 288.8L558.3 286.0L573.8 282.5ZM554.9 289.8L549.2 291.2L548.5 288.2L554.3 286.9ZM630.0 270.5L612.1 274.6L611.7 272.8L629.7 269.0ZM605.6 276.0L599.9 277.3L599.4 275.3L605.2 274.1ZM588.6 279.9L582.8 281.2L582.3 278.9L588.1 277.7ZM573.9 283.2L548.7 289.0L548.0 286.0L573.4 280.8ZM637.2 268.2L611.8 273.5L611.5 271.7L636.9 266.9ZM595.6 276.9L580.0 280.2L579.5 277.8L595.2 274.8ZM578.5 280.5L553.1 285.8L552.5 282.9L578.0 278.1ZM659.2 263.5L655.8 264.1L655.7 263.1L659.0 262.6ZM646.9 265.8L628.8 269.3L628.5 267.7L646.7 264.7ZM624.8 270.0L616.5 271.6L616.2 269.9L624.5 268.4ZM597.8 275.1L569.9 280.4L569.4 277.9L597.4 273.1ZM565.8 281.2L552.7 283.7L552.2 280.8L565.4 278.6ZM659.1 263.3L645.9 265.6L645.7 264.4L659.0 262.4ZM641.9 266.3L628.7 268.5L628.4 267.0L641.7 265.0ZM622.2 269.6L618.8 270.2L618.6 268.5L621.9 268.0ZM600.0 273.4L589.3 275.3L588.9 273.1L599.7 271.4ZM580.3 276.8L552.3 281.6L551.8 278.7L579.9 274.4ZM659.1 263.2L645.9 265.2L645.7 264.0L659.0 262.3ZM644.3 265.4L631.0 267.5L630.8 266.0L644.1 264.2ZM599.8 272.2L589.0 273.8L588.7 271.6L599.5 270.2ZM582.5 274.8L549.5 279.9L549.0 276.9L582.2 272.5ZM659.1 263.0L628.5 267.1L628.3 265.6L659.0 262.1ZM621.9 268.0L618.5 268.4L618.3 266.7L621.7 266.4ZM612.0 269.3L598.7 271.1L598.5 269.0L611.8 267.5ZM594.6 271.6L554.1 277.0L553.8 274.2L594.4 269.5ZM659.1 262.9L628.4 266.4L628.2 264.9L659.0 261.9ZM611.9 268.3L598.6 269.8L598.3 267.8L611.7 266.5ZM592.0 270.6L556.3 274.7L556.0 271.8L591.8 268.4ZM572.2 303.3L562.2 307.6L561.2 305.2L571.2 301.0ZM571.5 301.7L561.5 305.9L560.5 303.4L570.6 299.4Z"/>
<path fill="#000058" d="M693.9 240.0L696.6 237.9L697.5 239.0L694.8 241.1ZM705.6 230.7L710.3 227.0L711.3 228.4L706.7 232.0ZM678.4 252.6L681.1 250.6L681.8 251.5L679.0 253.5ZM690.9 244.3L695.7 240.9L696.5 242.0L691.7 245.4ZM701.1 237.1L703.9 235.1L704.8 236.4L702.0 238.3ZM711.3 229.8L714.0 227.8L715.1 229.3L712.3 231.2ZM734.0 218.7L736.8 216.9L738.0 218.8L735.1 220.5ZM672.9 257.8L675.8 255.9L676.3 256.8L673.3 258.5ZM685.7 249.9L690.7 246.8L691.4 247.9L686.3 250.9ZM702.7 239.5L705.6 237.7L706.4 239.0L703.5 240.8ZM690.2 247.7L693.1 246.0L693.8 247.1L690.8 248.8ZM690.4 248.1L693.4 246.4L694.0 247.6L691.0 249.2ZM679.7 254.5L682.6 252.8L683.2 253.8L680.1 255.4ZM686.2 250.9L691.4 248.0L692.0 249.2L686.8 251.9ZM715.3 236.2L718.3 234.6L719.1 236.2L716.0 237.7ZM673.4 258.8L676.6 257.5L677.0 258.4L673.8 259.6ZM699.0 248.7L704.5 246.5L705.1 247.9L699.5 249.9ZM699.3 249.2L702.4 248.0L702.9 249.4L699.7 250.5ZM701.8 248.9L705.0 247.8L705.5 249.2L702.3 250.3ZM673.6 259.1L676.8 257.9L677.1 258.9L673.8 259.9ZM680.8 256.9L684.0 255.9L684.3 256.9L681.1 257.9ZM699.9 250.9L703.1 249.9L703.5 251.3L700.3 252.2ZM673.7 259.3L676.9 258.3L677.2 259.2L673.9 260.1ZM681.0 257.6L684.3 256.7L684.6 257.8L681.2 258.6ZM685.9 256.7L689.2 255.9L689.5 257.0L686.2 257.8ZM693.4 255.8L696.8 255.1L697.0 256.4L693.7 257.0Z"/>
<path fill="#e80000" d="M741.2 221.0L748.6 217.0L749.7 219.2L742.2 223.0ZM751.5 219.2L754.5 217.7L755.6 219.9L752.6 221.4ZM754.5 219.6L757.5 218.1L758.6 220.4L755.5 221.8ZM718.8 237.7L724.2 235.2L724.9 237.0L719.5 239.3ZM711.2 245.6L714.4 244.4L715.0 246.0L711.8 247.1ZM775.5 224.9L783.5 222.3L784.4 225.1L776.4 227.6ZM776.2 226.8L784.2 224.3L785.0 227.1L777.0 229.5ZM764.8 232.3L768.0 231.3L768.7 233.8L765.5 234.7ZM779.1 228.0L787.2 225.6L788.0 228.5L779.9 230.7ZM743.6 240.0L746.8 239.1L747.4 241.2L744.1 242.1ZM755.6 236.7L768.5 233.1L769.2 235.6L756.2 239.0ZM724.6 246.3L727.9 245.5L728.3 247.3L725.0 248.1ZM743.9 241.3L754.5 238.6L755.1 240.9L744.5 243.4ZM756.0 238.2L764.2 236.1L764.8 238.6L756.6 240.5ZM741.8 243.2L754.9 240.1L755.4 242.4L742.3 245.3ZM758.9 239.2L762.2 238.4L762.7 240.8L759.4 241.5ZM732.4 246.7L752.8 242.2L753.3 244.5L732.8 248.6ZM759.2 240.8L767.4 238.9L768.0 241.5L759.7 243.1ZM732.6 247.8L753.1 243.7L753.6 246.0L733.0 249.8ZM759.6 242.4L765.4 241.2L765.8 243.7L760.0 244.8ZM740.2 247.6L743.6 247.0L744.0 249.1L740.6 249.7ZM755.3 246.4L758.6 245.8L759.0 248.2L755.6 248.7ZM758.0 247.6L761.3 247.1L761.7 249.5L758.3 249.9ZM745.8 250.8L749.2 250.3L749.5 252.6L746.1 252.9ZM763.2 248.5L769.0 247.7L769.3 250.3L763.5 251.0ZM792.9 244.6L796.3 244.1L796.7 247.2L793.3 247.6ZM800.4 243.6L803.7 243.2L804.1 246.3L800.7 246.7ZM776.0 250.7L781.9 250.1L782.1 252.9L776.2 253.3ZM771.2 252.9L774.6 252.7L774.8 255.3L771.4 255.5ZM776.2 252.5L784.6 251.9L784.8 254.7L776.4 255.2ZM734.0 258.2L739.9 257.9L739.9 260.0L734.0 260.2ZM773.9 256.5L777.3 256.3L777.4 259.0L774.0 259.1ZM734.0 259.4L742.4 259.1L742.4 261.2L734.0 261.3ZM786.5 258.0L792.4 257.8L792.4 260.8L786.5 260.9ZM706.5 260.8L709.9 260.7L709.9 262.3L706.5 262.2ZM731.5 260.5L744.9 260.4L744.9 262.6L731.5 262.5ZM781.5 260.1L787.4 260.1L787.4 262.9L781.5 262.9ZM676.5 261.2L694.9 261.3L694.9 262.6L676.5 262.1ZM731.5 261.7L742.4 261.8L742.4 263.9L731.5 263.6ZM781.5 262.1L784.9 262.1L784.9 265.0L781.5 264.9ZM676.5 261.4L684.9 261.5L684.9 262.7L676.5 262.3ZM691.5 261.7L694.9 261.8L694.9 263.1L691.5 262.9ZM696.5 261.9L699.9 261.9L699.9 263.3L696.5 263.2ZM784.0 264.2L789.9 264.3L789.8 267.2L783.9 267.0ZM676.5 261.5L684.9 261.9L684.9 263.0L676.5 262.4ZM691.5 262.2L694.9 262.3L694.9 263.6L691.5 263.4ZM786.5 266.3L789.9 266.4L789.7 269.4L786.3 269.2ZM681.5 262.0L692.4 262.6L692.3 263.9L681.5 263.0ZM785.0 280.8L788.3 281.3L787.8 284.2L784.5 283.6ZM683.8 264.4L689.6 265.6L689.3 266.8L683.6 265.5ZM683.7 264.7L689.5 266.0L689.2 267.1L683.5 265.7ZM713.0 271.2L716.4 271.9L716.0 273.6L712.7 272.8ZM714.6 275.1L717.9 276.0L717.4 277.7L714.2 276.6ZM759.7 290.2L765.3 291.9L764.5 294.4L758.9 292.5ZM769.2 293.2L772.5 294.2L771.6 296.8L768.4 295.7ZM673.8 263.2L677.1 264.3L676.7 265.2L673.5 264.0ZM680.9 265.6L691.3 269.0L690.9 270.2L680.6 266.6ZM680.9 265.8L686.4 267.8L686.0 268.9L680.5 266.8ZM687.9 268.3L691.2 269.4L690.7 270.6L687.5 269.4ZM678.4 265.2L681.6 266.3L681.3 267.4L678.1 266.1ZM683.1 266.9L691.0 269.9L690.6 271.0L682.8 267.9ZM774.8 337.6L779.6 341.0L777.8 343.6L773.0 340.1ZM773.5 339.4L776.2 341.4L774.3 344.0L771.6 341.9ZM764.0 343.4L766.6 345.6L764.6 347.9L762.0 345.7ZM767.8 346.6L770.4 348.8L768.3 351.2L765.8 349.0ZM764.4 346.7L767.0 349.0L764.9 351.3L762.4 349.0ZM726.7 321.2L729.1 323.6L727.4 325.2L725.1 322.7ZM723.9 320.4L726.3 322.8L724.6 324.4L722.3 321.9ZM729.1 325.8L733.2 330.1L731.4 331.8L727.4 327.4ZM716.1 314.0L720.1 318.3L718.5 319.8L714.6 315.4ZM715.2 314.8L720.8 321.1L719.1 322.6L713.7 316.2ZM708.5 310.7L710.7 313.3L709.2 314.5L707.1 311.9ZM712.4 317.2L714.5 319.9L712.8 321.2L710.7 318.5ZM705.3 310.1L707.4 312.8L705.8 313.9L703.8 311.2ZM708.3 314.1L713.4 320.7L711.8 322.0L706.8 315.2ZM697.8 303.2L701.2 308.0L699.7 309.1L696.4 304.2ZM705.0 313.4L707.0 316.2L705.4 317.3L703.5 314.5ZM695.6 301.7L697.5 304.5L696.1 305.5L694.2 302.6ZM698.4 305.8L700.4 308.6L698.9 309.6L697.0 306.8ZM695.5 304.8L697.4 307.6L695.9 308.6L694.1 305.7ZM696.1 307.4L697.9 310.3L696.3 311.2L694.6 308.3ZM694.0 305.7L695.7 308.6L694.2 309.5L692.5 306.6ZM683.4 297.2L684.8 300.3L683.4 300.9L682.1 297.7ZM680.9 292.8L682.2 295.9L680.8 296.5L679.6 293.3ZM677.6 286.1L682.5 298.5L681.1 299.1L676.4 286.5ZM677.2 286.2L678.4 289.4L677.1 289.9L676.0 286.7ZM675.9 286.7L676.9 289.9L675.6 290.3L674.7 287.1ZM673.5 284.8L674.3 288.1L673.0 288.4L672.3 285.1ZM671.8 282.6L672.4 286.0L671.2 286.2L670.7 282.8ZM671.4 282.7L672.4 288.5L671.2 288.7L670.3 282.9ZM668.6 268.0L669.0 271.3L668.0 271.4L667.8 268.0ZM670.3 282.9L670.7 286.2L669.5 286.4L669.2 283.0ZM668.5 268.0L668.9 271.4L667.9 271.4L667.6 268.0ZM670.2 285.4L670.5 288.8L669.2 288.9L669.0 285.5ZM668.4 268.0L668.7 271.4L667.7 271.4L667.5 268.0ZM669.6 282.9L669.9 286.3L668.6 286.4L668.4 283.0ZM668.4 270.5L668.7 273.9L667.6 273.9L667.5 270.5ZM669.2 283.0L669.4 286.4L668.2 286.4L668.0 283.0ZM668.9 285.5L669.1 288.9L667.8 288.9L667.7 285.5ZM667.3 285.5L667.2 288.9L665.9 288.9L666.1 285.5ZM667.0 268.0L666.3 273.9L665.3 273.7L666.2 267.9ZM666.9 268.0L665.3 278.8L664.2 278.6L666.1 267.9ZM665.1 280.4L664.6 283.8L663.4 283.6L664.0 280.2ZM666.4 270.5L664.6 281.2L663.5 281.0L665.5 270.3ZM664.3 282.8L663.8 286.2L662.6 286.0L663.2 282.6ZM666.2 270.5L664.3 281.2L663.1 281.0L665.3 270.3ZM664.0 282.8L663.4 286.1L662.1 285.9L662.8 282.5ZM666.1 270.4L664.9 276.2L663.9 276.0L665.2 270.2ZM666.2 267.9L664.8 273.7L663.8 273.4L665.4 267.7ZM666.1 267.9L663.9 276.0L662.9 275.7L665.3 267.7ZM666.0 267.9L663.7 275.9L662.6 275.6L665.2 267.6ZM662.5 279.9L661.5 283.1L660.4 282.8L661.4 279.5ZM665.9 267.8L664.9 271.1L663.9 270.8L665.1 267.6ZM664.4 272.6L662.6 278.3L661.6 277.9L663.5 272.3ZM665.8 267.8L660.8 282.9L659.6 282.5L665.0 267.5ZM665.7 267.8L664.6 271.0L663.6 270.7L664.9 267.5ZM662.3 277.2L660.4 282.8L659.3 282.4L661.3 276.9ZM661.2 279.5L660.0 282.7L658.9 282.2L660.2 279.1ZM665.1 267.6L658.6 282.1L657.5 281.6L664.3 267.2Z"/>
<path fill="#ff1000" d="M739.5 213.4L742.3 211.5L743.6 213.5L740.7 215.3ZM745.7 209.3L748.5 207.4L749.9 209.5L747.0 211.3ZM719.2 228.1L724.2 224.9L725.2 226.6L720.2 229.7ZM740.3 214.7L743.1 212.8L744.4 214.8L741.5 216.6ZM746.6 210.6L753.7 206.1L755.1 208.3L747.9 212.7ZM734.7 219.9L737.6 218.1L738.7 220.0L735.8 221.7ZM739.0 217.2L744.0 214.2L745.2 216.2L740.1 219.2ZM736.8 223.4L739.8 221.8L740.8 223.8L737.8 225.4ZM721.9 232.7L738.2 224.2L739.2 226.2L722.8 234.4ZM749.3 220.3L752.3 218.8L753.4 221.0L750.3 222.4ZM729.7 231.4L732.7 229.9L733.6 231.8L730.5 233.2ZM752.2 220.7L755.3 219.2L756.3 221.5L753.2 222.9ZM707.4 242.9L712.8 240.4L713.5 242.0L708.1 244.3ZM723.3 235.6L726.4 234.2L727.2 236.0L724.1 237.3ZM732.4 231.5L735.5 230.1L736.4 232.0L733.3 233.3ZM710.0 242.6L713.1 241.2L713.8 242.8L710.7 244.1ZM719.2 238.6L724.6 236.2L725.3 238.0L719.9 240.2ZM710.4 243.3L713.5 242.0L714.1 243.6L711.0 244.8ZM710.7 244.1L718.5 241.0L719.1 242.6L711.2 245.6ZM724.6 238.6L732.4 235.5L733.2 237.4L725.3 240.3ZM733.9 234.9L739.4 232.7L740.2 234.8L734.7 236.8ZM725.0 239.6L730.5 237.5L731.2 239.4L725.7 241.3ZM748.4 230.8L751.6 229.6L752.4 231.9L749.2 233.0ZM704.2 248.1L707.4 246.9L707.9 248.4L704.7 249.5ZM713.6 244.8L719.2 242.8L719.7 244.4L714.1 246.3ZM749.0 232.2L752.2 231.1L752.9 233.3L749.7 234.4ZM704.4 248.7L710.0 246.9L710.5 248.4L704.9 250.1ZM711.5 246.4L719.5 243.7L720.0 245.4L712.0 247.9ZM773.2 225.7L776.4 224.6L777.2 227.3L774.0 228.3ZM782.6 222.6L785.9 221.5L786.8 224.3L783.5 225.3ZM707.0 248.6L712.6 246.8L713.1 248.4L707.4 250.1ZM718.9 244.9L722.2 243.8L722.7 245.6L719.4 246.5ZM773.8 227.6L777.0 226.6L777.8 229.2L774.6 230.2ZM714.4 247.2L717.7 246.2L718.1 247.9L714.9 248.8ZM755.2 235.1L758.4 234.1L759.1 236.5L755.8 237.4ZM760.0 233.7L765.6 232.0L766.3 234.5L760.6 236.1ZM767.2 231.6L772.8 229.9L773.6 232.5L767.9 234.1ZM774.3 229.4L780.0 227.8L780.8 230.5L775.1 232.1ZM741.2 240.7L744.4 239.7L745.0 241.9L741.7 242.7ZM746.0 239.3L751.7 237.7L752.3 240.0L746.6 241.5ZM753.2 237.3L756.5 236.4L757.1 238.7L753.8 239.6ZM782.1 229.3L792.6 226.4L793.4 229.4L782.9 232.1ZM722.1 247.0L725.4 246.1L725.9 247.9L722.6 248.7ZM731.8 244.5L735.1 243.6L735.6 245.6L732.3 246.4ZM741.5 241.9L744.8 241.1L745.3 243.2L742.0 244.0ZM753.6 238.8L756.9 238.0L757.5 240.3L754.2 241.1ZM787.5 230.1L795.6 227.9L796.4 231.0L788.2 232.9ZM724.8 247.3L728.1 246.5L728.6 248.4L725.2 249.1ZM737.0 244.4L742.7 243.0L743.2 245.1L737.4 246.4ZM766.2 237.4L769.5 236.6L770.0 239.2L766.7 239.9ZM790.5 231.6L798.6 229.6L799.3 232.7L791.1 234.5ZM729.9 247.2L733.3 246.5L733.7 248.4L730.3 249.1ZM751.9 242.4L760.1 240.6L760.6 243.0L752.4 244.6ZM766.6 239.1L769.9 238.4L770.4 241.0L767.1 241.6ZM781.2 235.9L787.0 234.6L787.6 237.5L781.8 238.7ZM730.2 248.3L733.5 247.7L733.9 249.6L730.5 250.2ZM757.1 242.9L760.5 242.2L760.9 244.6L757.6 245.2ZM764.5 241.4L770.3 240.2L770.8 242.8L765.0 243.8ZM781.6 237.9L787.4 236.7L788.0 239.6L782.2 240.7ZM742.7 247.2L746.0 246.5L746.4 248.7L743.1 249.3ZM747.6 246.2L753.4 245.2L753.8 247.5L748.0 248.4ZM767.3 242.6L770.6 242.0L771.1 244.6L767.7 245.1ZM784.5 239.4L787.8 238.8L788.3 241.7L785.0 242.2ZM757.7 246.0L761.1 245.4L761.5 247.9L758.1 248.4ZM782.4 241.9L788.2 240.9L788.7 243.8L782.8 244.7ZM792.2 240.2L795.6 239.7L796.1 242.7L792.7 243.2ZM673.9 260.2L677.3 259.6L677.4 260.6L674.0 261.0ZM703.6 255.7L706.9 255.2L707.2 256.7L703.8 257.1ZM748.1 249.1L753.9 248.2L754.3 250.5L748.4 251.3ZM755.5 247.9L758.9 247.4L759.2 249.8L755.8 250.3ZM760.5 247.2L766.3 246.3L766.6 248.9L760.8 249.6ZM790.1 242.8L798.4 241.5L798.9 244.6L790.5 245.7ZM673.9 260.3L677.3 259.8L677.4 260.8L674.0 261.1ZM703.7 256.3L707.1 255.9L707.2 257.4L703.9 257.8ZM713.6 255.0L719.4 254.3L719.7 256.0L713.8 256.6ZM738.4 251.8L741.8 251.3L742.0 253.4L738.6 253.8ZM743.3 251.1L746.7 250.7L747.0 252.8L743.6 253.2ZM748.3 250.5L754.1 249.7L754.4 252.0L748.6 252.7ZM755.7 249.5L764.1 248.4L764.4 250.9L756.0 251.8ZM768.1 247.9L771.5 247.4L771.8 250.0L768.4 250.4ZM790.4 244.9L793.8 244.5L794.2 247.5L790.8 247.9ZM795.4 244.3L801.2 243.5L801.6 246.6L795.8 247.3ZM674.0 260.4L677.3 260.0L677.4 261.0L674.0 261.2ZM701.3 257.3L704.7 256.9L704.8 258.3L701.4 258.6ZM713.7 255.8L717.1 255.4L717.3 257.1L713.9 257.4ZM746.0 252.2L749.4 251.8L749.6 254.0L746.2 254.3ZM755.9 251.0L761.8 250.4L762.1 252.8L756.2 253.4ZM768.4 249.6L771.7 249.2L772.0 251.8L768.6 252.2ZM785.7 247.6L789.1 247.2L789.4 250.2L786.0 250.5ZM795.7 246.5L804.0 245.5L804.4 248.7L796.0 249.5ZM674.0 260.5L677.4 260.1L677.4 261.1L674.0 261.4ZM771.0 251.1L776.9 250.6L777.1 253.3L771.3 253.7ZM781.0 250.2L789.3 249.4L789.6 252.3L781.2 252.9ZM795.9 248.7L801.8 248.2L802.1 251.3L796.2 251.8ZM674.0 260.6L677.4 260.3L677.4 261.3L674.0 261.5ZM753.8 254.3L757.1 254.0L757.3 256.4L753.9 256.6ZM783.7 252.0L789.5 251.5L789.7 254.4L783.9 254.8ZM796.1 251.0L799.5 250.7L799.7 253.8L796.3 254.0ZM701.5 259.0L704.9 258.8L704.9 260.3L701.5 260.4ZM733.9 257.0L739.8 256.7L739.9 258.7L734.0 259.0ZM773.8 254.6L777.2 254.4L777.4 257.1L774.0 257.3ZM778.8 254.3L782.2 254.1L782.4 256.9L779.0 257.0ZM788.8 253.7L794.7 253.3L794.8 256.3L789.0 256.6ZM676.5 260.7L679.9 260.5L679.9 261.6L676.5 261.6ZM696.5 259.8L704.9 259.5L704.9 260.9L696.5 261.1ZM739.0 258.0L742.4 257.8L742.4 259.9L739.0 260.0ZM751.5 257.4L759.8 257.1L759.9 259.5L751.5 259.7ZM676.5 260.9L682.4 260.7L682.4 261.8L676.5 261.8ZM774.0 258.3L777.4 258.2L777.4 260.9L774.0 261.0ZM791.5 257.9L794.9 257.8L794.9 260.8L791.5 260.8ZM674.0 261.1L687.4 260.9L687.4 262.1L674.0 261.9ZM689.0 260.9L692.4 260.9L692.4 262.1L689.0 262.1ZM699.0 260.8L702.4 260.8L702.4 262.2L699.0 262.2ZM704.0 260.8L707.4 260.7L707.4 262.3L704.0 262.2ZM709.0 260.7L714.9 260.7L714.9 262.3L709.0 262.3ZM724.0 260.6L732.4 260.5L732.4 262.5L724.0 262.4ZM774.0 260.2L777.4 260.1L777.4 262.9L774.0 262.8ZM789.0 260.0L794.9 260.0L794.9 263.0L789.0 263.0ZM674.0 261.2L677.4 261.2L677.4 262.2L674.0 262.0ZM694.0 261.3L697.4 261.4L697.4 262.7L694.0 262.6ZM701.5 261.4L709.9 261.5L709.9 263.0L701.5 262.8ZM716.5 261.5L722.4 261.6L722.4 263.3L716.5 263.2ZM724.0 261.6L732.4 261.7L732.4 263.6L724.0 263.4ZM741.5 261.7L744.9 261.8L744.9 263.9L741.5 263.8ZM779.0 262.1L782.4 262.1L782.4 264.9L779.0 264.8ZM674.0 261.3L677.4 261.3L677.4 262.4L674.0 262.2ZM694.0 261.8L697.4 261.9L697.4 263.2L694.0 263.1ZM699.0 261.9L702.4 262.0L702.4 263.4L699.0 263.3ZM729.0 262.7L749.9 263.3L749.9 265.5L729.0 264.6ZM781.5 264.1L784.9 264.2L784.8 267.0L781.4 266.9ZM674.0 261.4L677.4 261.5L677.4 262.5L674.0 262.3ZM694.0 262.3L702.4 262.6L702.4 264.0L694.0 263.5ZM744.0 264.4L752.4 264.8L752.3 267.1L743.9 266.6ZM784.0 266.2L787.4 266.3L787.2 269.2L783.8 269.0ZM789.0 266.4L792.3 266.5L792.2 269.5L788.8 269.3ZM676.5 261.7L682.4 262.0L682.4 263.1L676.5 262.6ZM691.5 262.6L694.9 262.8L694.8 264.1L691.4 263.8ZM753.9 266.4L757.3 266.6L757.1 269.0L753.8 268.7ZM781.4 268.1L784.8 268.3L784.6 271.1L781.2 270.8ZM674.0 261.6L679.9 262.1L679.8 263.1L674.0 262.5ZM761.3 268.5L769.7 269.1L769.4 271.7L761.1 270.9ZM746.1 270.1L749.5 270.4L749.2 272.7L745.8 272.2ZM782.5 280.3L785.9 280.9L785.4 283.8L782.0 283.1ZM787.4 281.2L790.8 281.7L790.3 284.7L786.9 284.0ZM782.2 282.3L790.4 283.9L789.9 286.8L781.6 285.1ZM681.3 263.9L684.7 264.6L684.4 265.7L681.1 264.9ZM688.7 265.4L692.0 266.1L691.8 267.3L688.5 266.5ZM710.7 269.9L716.5 271.1L716.2 272.7L710.4 271.4ZM681.3 264.2L684.6 264.9L684.4 266.0L681.1 265.2ZM688.6 265.8L691.9 266.5L691.7 267.7L688.4 266.9ZM715.5 271.7L718.8 272.5L718.4 274.1L715.1 273.3ZM676.4 263.2L682.1 264.6L681.9 265.6L676.2 264.1ZM693.4 267.3L696.7 268.1L696.4 269.4L693.1 268.5ZM768.8 285.4L776.9 287.4L776.3 290.0L768.1 287.9ZM673.9 262.8L677.2 263.6L677.0 264.6L673.7 263.6ZM770.8 287.8L774.0 288.6L773.3 291.3L770.1 290.4ZM673.9 262.9L677.2 263.8L676.9 264.7L673.7 263.7ZM770.3 289.6L773.6 290.5L772.8 293.1L769.5 292.1ZM673.9 263.0L677.2 263.9L676.9 264.9L673.6 263.8ZM712.2 274.3L715.5 275.3L715.0 276.9L711.8 275.9ZM755.4 287.1L758.7 288.1L757.9 290.4L754.7 289.4ZM760.2 288.5L775.4 293.1L774.6 295.7L759.5 290.9ZM673.8 263.1L681.9 265.6L681.5 266.6L673.6 263.9ZM683.4 266.1L689.0 267.9L688.7 269.0L683.1 267.1ZM757.3 289.4L760.6 290.4L759.8 292.8L756.6 291.7ZM764.5 291.7L770.1 293.4L769.3 296.0L763.7 294.1ZM771.6 293.9L774.9 294.9L774.0 297.6L770.8 296.5ZM676.2 264.0L681.8 265.9L681.4 266.9L675.9 264.9ZM759.2 291.8L764.8 293.6L763.9 296.1L758.4 294.1ZM673.8 263.3L681.7 266.1L681.4 267.1L673.5 264.1ZM690.3 269.2L693.5 270.3L693.1 271.5L689.9 270.3ZM673.8 263.4L679.3 265.5L678.9 266.4L673.4 264.2ZM680.8 266.1L684.0 267.2L683.6 268.3L680.4 267.0ZM690.2 269.6L693.4 270.7L692.9 271.9L689.7 270.7ZM753.4 293.2L758.9 295.3L758.0 297.6L752.5 295.4ZM687.7 269.0L690.9 270.3L690.4 271.4L687.3 270.1ZM745.8 291.9L760.6 297.8L759.7 300.1L745.0 294.0ZM766.8 300.2L772.3 302.3L771.2 304.9L765.8 302.6ZM778.2 337.1L781.0 339.0L779.2 341.6L776.4 339.7ZM780.9 341.9L783.7 343.9L781.8 346.6L779.0 344.5ZM775.5 340.9L778.2 342.9L776.3 345.5L773.6 343.4ZM770.1 339.7L772.8 341.8L770.9 344.3L768.2 342.1ZM721.8 304.2L724.4 306.3L723.1 307.9L720.5 305.7ZM768.7 341.5L773.4 345.2L771.4 347.6L766.8 343.9ZM765.4 341.7L771.9 347.0L769.9 349.4L763.5 344.0ZM765.9 345.0L768.5 347.2L766.4 349.6L763.9 347.3ZM762.5 345.1L765.1 347.3L763.0 349.6L760.5 347.3ZM739.0 326.4L743.3 330.4L741.5 332.3L737.3 328.2ZM748.2 334.9L750.7 337.2L748.8 339.2L746.3 336.9ZM759.2 345.0L761.7 347.3L759.7 349.5L757.2 347.2ZM734.2 324.2L738.5 328.3L736.7 330.1L732.5 326.0ZM757.8 346.6L760.2 348.9L758.1 351.1L755.7 348.7ZM733.1 325.4L737.3 329.5L735.5 331.3L731.4 327.1ZM724.9 319.4L727.3 321.8L725.7 323.4L723.3 320.9ZM728.4 323.0L734.3 328.9L732.6 330.7L726.8 324.6ZM717.0 313.1L719.4 315.6L717.8 317.0L715.5 314.5ZM727.4 324.0L729.7 326.5L728.0 328.1L725.7 325.6ZM732.5 329.4L734.9 331.9L733.0 333.6L730.7 331.1ZM724.6 323.2L733.6 333.1L731.8 334.8L722.9 324.7ZM713.6 313.0L715.8 315.5L714.2 316.9L712.0 314.3ZM723.5 324.2L725.7 326.7L724.0 328.3L721.8 325.7ZM691.5 289.0L695.4 293.5L694.2 294.5L690.4 290.0ZM719.1 321.4L721.4 323.9L719.6 325.4L717.5 322.7ZM722.4 325.2L724.6 327.7L722.8 329.2L720.7 326.6ZM691.1 289.4L694.8 294.0L693.6 295.0L689.9 290.3ZM707.0 308.7L709.1 311.4L707.6 312.6L705.5 309.9ZM710.1 312.6L715.5 319.1L713.8 320.4L708.6 313.8ZM706.1 309.4L712.9 317.9L711.3 319.2L704.7 310.6ZM679.4 276.4L681.5 279.1L680.5 279.8L678.5 277.0ZM706.8 312.1L708.9 314.8L707.3 316.0L705.3 313.2ZM704.4 310.7L710.9 319.5L709.2 320.7L702.9 311.8ZM676.0 272.7L678.0 275.5L677.0 276.1L675.1 273.3ZM696.3 301.2L698.3 304.0L696.9 305.0L695.0 302.1ZM700.7 307.3L704.1 312.1L702.5 313.2L699.2 308.3ZM675.8 272.9L677.7 275.6L676.8 276.3L674.9 273.4ZM697.0 303.8L699.0 306.6L697.5 307.5L695.6 304.7ZM699.9 307.9L701.8 310.7L700.3 311.7L698.4 308.9ZM696.3 304.3L700.9 311.3L699.4 312.3L694.9 305.2ZM693.5 303.1L696.6 308.1L695.0 309.0L692.1 304.0ZM691.5 301.4L694.5 306.5L693.0 307.3L690.1 302.2ZM695.3 307.9L697.0 310.8L695.4 311.7L693.8 308.7ZM690.8 301.8L692.4 304.8L691.0 305.6L689.4 302.6ZM690.1 302.2L691.7 305.2L690.2 306.0L688.6 303.0ZM689.3 302.6L690.9 305.6L689.4 306.4L687.9 303.3ZM687.5 300.7L690.1 306.0L688.6 306.8L686.1 301.4ZM680.4 287.5L681.8 290.6L680.6 291.2L679.2 288.1ZM685.7 298.8L689.4 306.4L687.8 307.1L684.4 299.5ZM685.1 299.1L686.5 302.2L685.1 302.9L683.7 299.8ZM687.2 303.7L688.6 306.8L687.0 307.5L685.7 304.3ZM676.5 281.1L677.8 284.2L676.7 284.7L675.4 281.6ZM682.4 294.9L683.8 298.0L682.4 298.6L681.1 295.4ZM684.4 299.4L685.8 302.6L684.3 303.2L683.0 300.0ZM679.9 290.5L681.2 293.6L679.9 294.2L678.7 291.0ZM682.8 297.4L685.1 302.9L683.6 303.5L681.4 298.0ZM682.2 297.7L684.3 303.2L682.9 303.7L680.8 298.2ZM676.3 283.9L677.5 287.1L676.3 287.5L675.2 284.3ZM678.9 290.9L681.0 296.4L679.6 296.9L677.7 291.4ZM678.4 291.1L679.5 294.3L678.2 294.8L677.1 291.5ZM676.3 286.6L677.4 289.8L676.1 290.2L675.1 286.9ZM675.4 286.8L676.4 290.1L675.1 290.5L674.2 287.2ZM673.6 282.2L674.6 285.4L673.4 285.8L672.5 282.5ZM675.0 287.0L675.9 290.2L674.6 290.6L673.8 287.3ZM673.3 282.3L674.1 285.6L672.9 285.9L672.1 282.5ZM672.9 282.4L673.7 285.7L672.5 285.9L671.8 282.6ZM671.5 277.6L673.8 288.2L672.6 288.5L670.4 277.8ZM670.7 275.2L673.4 288.3L672.1 288.6L669.7 275.4ZM670.4 275.2L672.0 283.5L670.8 283.7L669.4 275.4ZM670.6 277.8L671.6 283.6L670.4 283.8L669.6 277.9ZM671.1 282.8L672.0 288.6L670.7 288.8L669.9 282.9ZM668.7 267.9L669.2 271.3L668.2 271.4L667.9 268.0ZM670.7 282.8L671.5 288.7L670.2 288.8L669.5 283.0ZM668.9 270.4L669.9 278.8L668.8 278.9L668.0 270.5ZM670.6 285.3L671.0 288.7L669.7 288.9L669.4 285.5ZM668.7 270.5L669.3 276.3L668.3 276.4L667.8 270.5ZM670.0 282.9L670.3 286.3L669.1 286.4L668.8 283.0ZM668.6 270.5L669.3 278.9L668.2 278.9L667.7 270.5ZM669.8 285.4L670.1 288.8L668.8 288.9L668.6 285.5ZM668.3 268.0L668.5 271.4L667.5 271.4L667.4 268.0ZM668.6 273.0L669.3 283.9L668.1 283.9L667.6 273.0ZM669.4 285.5L669.6 288.9L668.3 288.9L668.2 285.5ZM668.2 268.0L668.6 276.4L667.5 276.4L667.3 268.0ZM668.6 278.0L669.0 286.4L667.7 286.4L667.5 278.0ZM668.3 278.0L668.5 283.9L667.3 283.9L667.3 278.0ZM668.5 285.5L668.6 288.9L667.3 288.9L667.3 285.5ZM668.0 278.0L668.1 283.9L666.9 283.9L667.0 278.0ZM667.8 268.0L667.8 271.4L666.8 271.4L667.0 268.0ZM667.7 278.0L667.7 288.9L666.4 288.9L666.7 278.0ZM667.6 270.5L667.5 276.4L666.4 276.4L666.7 270.5ZM667.5 278.0L667.3 286.4L666.0 286.4L666.4 278.0ZM667.5 270.5L666.7 288.9L665.4 288.9L666.6 270.5ZM667.3 270.5L666.5 283.9L665.3 283.8L666.4 270.5ZM667.2 270.5L666.7 276.4L665.7 276.3L666.3 270.5ZM666.4 280.5L665.9 286.4L664.7 286.3L665.3 280.4ZM666.1 280.5L665.5 286.4L664.3 286.2L665.0 280.4ZM665.7 280.5L665.1 286.3L663.8 286.2L664.6 280.3ZM666.4 273.0L666.0 276.4L664.9 276.2L665.4 272.9ZM665.4 280.4L664.6 286.3L663.4 286.1L664.3 280.3ZM665.4 277.9L665.0 281.3L663.8 281.1L664.4 277.8ZM664.7 282.9L664.2 286.2L663.0 286.0L663.6 282.7ZM666.8 268.0L666.3 271.4L665.3 271.2L665.9 267.9ZM664.7 280.3L664.2 283.7L663.0 283.5L663.6 280.2ZM666.7 268.0L666.1 271.4L665.1 271.2L665.8 267.8ZM664.4 280.3L663.8 283.6L662.6 283.4L663.3 280.1ZM666.6 268.0L665.9 271.3L664.9 271.1L665.7 267.8ZM665.1 275.3L662.9 286.0L661.7 285.8L664.1 275.1ZM664.8 275.3L662.5 285.9L661.3 285.7L663.8 275.1ZM666.3 267.9L665.6 271.3L664.6 271.0L665.5 267.7ZM664.6 275.2L662.1 285.9L660.9 285.6L663.6 275.0ZM665.0 272.8L664.2 276.1L663.1 275.8L664.0 272.5ZM663.7 277.6L662.9 280.9L661.8 280.6L662.7 277.3ZM663.5 277.5L662.6 280.8L661.4 280.5L662.4 277.3ZM663.9 275.1L662.2 280.7L661.1 280.4L662.9 274.8ZM662.9 277.4L661.1 283.0L660.0 282.7L661.9 277.1ZM664.8 270.2L662.1 278.1L661.0 277.7L664.0 269.8ZM665.6 267.8L664.4 271.0L663.5 270.6L664.8 267.4ZM663.8 272.4L661.8 278.0L660.7 277.6L662.9 272.1ZM665.5 267.7L659.7 282.5L658.5 282.1L664.7 267.4ZM665.3 267.7L659.3 282.4L658.2 281.9L664.5 267.3ZM665.2 267.6L659.9 280.0L658.9 279.5L664.4 267.3ZM647.4 267.7L644.1 268.6L643.8 267.4L647.1 266.6ZM635.4 271.1L629.7 272.8L629.3 271.3L635.0 269.8ZM596.9 282.2L593.6 283.1L593.1 281.0L596.3 280.1ZM644.9 268.0L641.6 268.8L641.2 267.6L644.5 266.8ZM584.5 284.1L581.2 285.0L580.6 282.6L583.9 281.8ZM557.9 291.2L554.6 292.1L553.9 289.2L557.2 288.4ZM559.8 288.6L554.1 290.0L553.4 287.1L559.1 285.8ZM608.1 275.5L604.8 276.2L604.3 274.3L607.7 273.6ZM591.0 279.4L587.7 280.1L587.2 277.9L590.5 277.2ZM576.4 282.7L573.1 283.5L572.5 280.9L575.8 280.2ZM580.9 280.0L577.6 280.7L577.1 278.3L580.4 277.6Z"/>
<path fill="#ff2800" d="M725.6 234.6L731.0 232.1L731.8 234.0L726.4 236.3ZM755.2 221.1L760.6 218.6L761.6 221.0L756.2 223.4ZM723.8 236.6L726.9 235.2L727.7 237.0L724.5 238.3ZM758.2 221.6L763.6 219.3L764.6 221.7L759.2 224.0ZM719.6 239.5L738.9 231.5L739.7 233.5L720.3 241.1ZM758.9 223.2L762.0 221.9L763.0 224.3L759.8 225.6ZM720.0 240.4L725.5 238.2L726.1 240.0L720.6 242.1ZM731.6 235.8L734.8 234.6L735.5 236.5L732.3 237.7ZM759.5 224.8L762.7 223.6L763.6 226.0L760.4 227.2ZM720.3 241.3L725.9 239.3L726.5 241.0L720.9 243.0ZM729.7 237.8L739.9 234.0L740.6 236.0L730.4 239.7ZM746.1 231.7L749.3 230.5L750.1 232.7L746.9 233.8ZM750.8 229.9L754.0 228.7L754.8 231.0L751.6 232.1ZM718.3 243.1L730.9 238.6L731.6 240.5L718.9 244.7ZM732.5 238.1L740.4 235.3L741.1 237.3L733.1 240.0ZM744.2 233.9L749.8 231.9L750.6 234.1L745.0 236.0ZM751.3 231.4L754.5 230.3L755.3 232.5L752.1 233.6ZM770.2 224.7L773.4 223.6L774.3 226.2L771.0 227.3ZM718.6 244.0L724.2 242.1L724.8 243.9L719.2 245.6ZM725.7 241.6L731.3 239.7L731.9 241.6L726.3 243.4ZM732.9 239.2L740.8 236.5L741.5 238.6L733.5 241.1ZM747.1 234.5L755.0 231.8L755.8 234.1L747.8 236.6ZM770.8 226.5L774.0 225.4L774.9 228.1L771.6 229.1ZM785.0 221.8L790.6 219.9L791.6 222.8L785.9 224.6ZM714.2 246.4L719.8 244.6L720.3 246.3L714.6 247.9ZM721.3 244.1L724.6 243.1L725.1 244.9L721.8 245.8ZM726.1 242.6L738.9 238.6L739.5 240.6L726.6 244.4ZM742.8 237.4L746.0 236.3L746.7 238.5L743.4 239.4ZM757.1 232.8L767.5 229.6L768.2 232.1L757.8 235.2ZM771.4 228.3L774.6 227.3L775.4 229.9L772.2 230.9ZM709.6 248.6L715.3 246.9L715.7 248.5L710.1 250.1ZM716.8 246.5L722.5 244.8L723.0 246.5L717.3 248.1ZM728.8 242.9L739.2 239.8L739.8 241.9L729.3 244.8ZM740.8 239.4L746.4 237.7L747.1 239.9L741.4 241.4ZM752.8 235.8L756.0 234.9L756.7 237.2L753.4 238.1ZM757.6 234.4L760.8 233.4L761.5 235.8L758.2 236.8ZM771.9 230.1L775.2 229.2L776.0 231.8L772.7 232.7ZM712.2 248.7L739.6 241.1L740.2 243.1L712.7 250.2ZM750.8 238.0L754.1 237.1L754.7 239.4L751.4 240.2ZM767.7 233.3L770.9 232.4L771.6 235.0L768.3 235.8ZM779.7 230.0L783.0 229.1L783.7 231.9L780.4 232.7ZM719.7 247.6L723.0 246.7L723.5 248.5L720.1 249.3ZM727.0 245.7L732.7 244.2L733.2 246.1L727.4 247.5ZM734.2 243.8L740.0 242.3L740.5 244.4L734.7 245.8ZM785.1 230.7L788.4 229.8L789.1 232.7L785.8 233.5ZM794.8 228.2L798.1 227.3L798.8 230.4L795.5 231.2ZM715.1 249.7L720.8 248.3L721.2 250.0L715.5 251.3ZM722.4 247.9L725.7 247.1L726.1 248.9L722.8 249.6ZM727.3 246.7L733.0 245.4L733.4 247.3L727.7 248.6ZM734.5 245.0L737.9 244.2L738.3 246.2L735.0 246.9ZM768.6 236.8L771.9 236.0L772.5 238.6L769.2 239.4ZM715.3 250.5L721.1 249.2L721.4 250.9L715.6 252.1ZM727.5 247.8L730.8 247.0L731.2 248.9L727.9 249.6ZM769.0 238.6L774.8 237.3L775.3 240.0L769.5 241.1ZM786.1 234.8L789.4 234.1L790.0 237.0L786.7 237.7ZM793.4 233.2L796.7 232.4L797.4 235.5L794.0 236.2ZM720.4 250.3L723.7 249.7L724.1 251.4L720.7 252.0ZM752.2 243.9L758.0 242.7L758.5 245.0L752.7 246.1ZM713.2 252.6L719.0 251.5L719.3 253.2L713.5 254.2ZM737.8 248.1L741.1 247.4L741.5 249.5L738.1 250.1ZM745.2 246.7L748.5 246.1L748.9 248.3L745.5 248.8ZM752.5 245.3L768.2 242.4L768.6 245.0L752.9 247.6ZM769.7 242.1L773.1 241.5L773.5 244.2L770.2 244.7ZM782.0 239.9L785.4 239.2L785.9 242.1L782.5 242.7ZM786.9 239.0L797.7 237.0L798.2 240.0L787.4 241.8ZM715.8 253.0L719.2 252.4L719.4 254.1L716.1 254.6ZM747.9 247.6L756.1 246.3L756.5 248.6L748.2 249.8ZM760.2 245.6L763.5 245.0L763.9 247.5L760.6 248.0ZM787.3 241.0L793.1 240.1L793.6 243.1L787.8 243.9ZM794.7 239.8L798.1 239.2L798.6 242.3L795.2 242.8ZM713.5 254.2L721.8 253.0L722.0 254.7L713.7 255.8ZM738.2 250.5L741.6 250.0L741.9 252.1L738.5 252.6ZM745.6 249.4L749.0 248.9L749.3 251.1L745.9 251.6ZM753.0 248.3L756.4 247.8L756.7 250.2L753.4 250.6ZM765.4 246.5L771.2 245.6L771.6 248.2L765.8 249.0ZM785.2 243.5L788.5 243.0L789.0 245.9L785.6 246.4ZM797.5 241.7L800.9 241.2L801.3 244.3L798.0 244.7ZM718.6 254.4L721.9 253.9L722.1 255.7L718.8 256.1ZM735.9 252.1L739.3 251.6L739.5 253.7L736.1 254.1ZM753.3 249.8L756.6 249.4L756.9 251.7L753.5 252.1ZM770.6 247.5L774.0 247.1L774.3 249.7L770.9 250.1ZM788.0 245.2L791.3 244.8L791.7 247.8L788.3 248.1ZM716.2 255.6L719.6 255.2L719.7 256.9L716.4 257.2ZM738.5 253.0L746.9 252.0L747.1 254.2L738.8 255.0ZM748.5 251.9L751.9 251.5L752.1 253.8L748.7 254.1ZM760.9 250.5L769.2 249.5L769.5 252.1L761.2 252.9ZM770.8 249.3L774.2 248.9L774.5 251.6L771.1 251.9ZM783.3 247.9L786.6 247.5L786.9 250.4L783.6 250.7ZM788.2 247.3L796.6 246.4L796.9 249.4L788.5 250.2ZM711.3 256.9L719.7 256.1L719.8 257.8L711.4 258.4ZM746.1 253.5L749.5 253.2L749.7 255.4L746.3 255.7ZM751.1 253.0L759.5 252.2L759.7 254.6L751.3 255.3ZM768.5 251.4L771.9 251.0L772.2 253.7L768.8 253.9ZM788.5 249.5L796.8 248.6L797.1 251.7L788.7 252.4ZM800.9 248.3L806.8 247.7L807.0 250.9L801.2 251.4ZM708.9 257.8L719.8 257.0L719.9 258.7L709.0 259.4ZM746.3 254.9L749.7 254.6L749.8 256.9L746.4 257.1ZM751.3 254.5L754.6 254.2L754.8 256.6L751.4 256.8ZM768.7 253.1L772.1 252.9L772.3 255.5L768.9 255.7ZM788.6 251.6L792.0 251.3L792.2 254.3L788.8 254.5ZM793.6 251.2L797.0 250.9L797.2 254.0L793.8 254.2ZM674.0 260.7L684.9 260.0L684.9 261.1L674.0 261.6ZM728.9 257.3L734.8 257.0L734.9 259.0L729.0 259.2ZM738.9 256.7L742.3 256.5L742.4 258.6L739.0 258.8ZM746.4 256.3L749.8 256.1L749.9 258.3L746.5 258.4ZM753.9 255.8L764.7 255.1L764.9 257.7L754.0 258.1ZM771.3 254.8L774.7 254.5L774.9 257.2L771.5 257.4ZM783.8 254.0L787.2 253.8L787.4 256.7L784.0 256.8ZM674.0 260.8L677.4 260.6L677.4 261.7L674.0 261.7ZM679.0 260.6L684.9 260.3L684.9 261.5L679.0 261.6ZM741.5 257.9L744.9 257.7L744.9 259.9L741.5 260.0ZM746.5 257.7L752.4 257.4L752.4 259.7L746.5 259.8ZM758.9 257.1L762.3 257.0L762.4 259.4L759.0 259.5ZM771.4 256.6L774.8 256.4L774.9 259.1L771.5 259.2ZM776.4 256.3L779.8 256.2L779.9 259.0L776.5 259.0ZM783.9 256.0L787.3 255.9L787.4 258.8L784.0 258.8ZM674.0 261.0L677.4 260.8L677.4 261.8L674.0 261.8ZM681.5 260.7L687.4 260.6L687.4 261.7L681.5 261.8ZM724.0 259.6L729.9 259.5L729.9 261.4L724.0 261.4ZM731.5 259.4L734.9 259.3L734.9 261.3L731.5 261.3ZM741.5 259.2L744.9 259.1L744.9 261.2L741.5 261.3ZM749.0 259.0L759.9 258.7L759.9 261.1L749.0 261.2ZM771.5 258.4L774.9 258.3L774.9 261.0L771.5 261.0ZM686.5 260.9L689.9 260.9L689.9 262.1L686.5 262.1ZM691.5 260.9L699.9 260.8L699.9 262.2L691.5 262.1ZM701.5 260.8L704.9 260.8L704.9 262.2L701.5 262.2ZM714.0 260.7L724.9 260.6L724.9 262.4L714.0 262.3ZM769.0 260.2L774.9 260.2L774.9 262.8L769.0 262.8ZM776.5 260.2L779.9 260.1L779.9 262.9L776.5 262.8ZM794.0 260.0L797.4 260.0L797.4 263.0L794.0 263.0ZM696.5 261.4L702.4 261.4L702.4 262.8L696.5 262.7ZM709.0 261.5L717.4 261.5L717.4 263.2L709.0 263.0ZM721.5 261.6L724.9 261.6L724.9 263.4L721.5 263.3ZM744.0 261.8L749.9 261.8L749.9 264.1L744.0 263.9ZM774.0 262.0L779.9 262.1L779.9 264.8L774.0 264.7ZM789.0 262.2L792.4 262.2L792.4 265.2L789.0 265.1ZM701.5 262.0L704.9 262.1L704.9 263.5L701.5 263.4ZM749.0 263.2L752.4 263.3L752.4 265.6L749.0 265.5ZM779.0 264.0L782.4 264.1L782.3 266.9L778.9 266.8ZM729.0 263.8L744.9 264.5L744.8 266.6L728.9 265.7ZM751.5 264.8L754.9 264.9L754.8 267.2L751.4 267.0ZM779.0 266.0L782.4 266.1L782.2 268.9L778.8 268.7ZM791.4 266.5L794.8 266.7L794.7 269.7L791.3 269.5ZM674.0 261.5L677.4 261.7L677.4 262.7L674.0 262.4ZM694.0 262.7L697.4 262.9L697.3 264.3L693.9 264.0ZM741.4 265.6L754.8 266.4L754.6 268.8L741.3 267.7ZM756.4 266.5L762.3 266.9L762.1 269.4L756.2 268.9ZM776.4 267.8L782.3 268.1L782.1 270.9L776.2 270.5ZM783.9 268.2L789.7 268.6L789.5 271.5L783.7 271.0ZM679.0 262.0L689.9 262.9L689.8 264.1L679.0 263.0ZM746.3 267.3L749.7 267.6L749.5 269.8L746.1 269.5ZM758.8 268.3L762.2 268.5L762.0 271.0L758.6 270.7ZM771.3 269.3L777.1 269.7L776.9 272.4L771.0 271.9ZM674.0 261.8L684.9 262.8L684.8 263.9L674.0 262.6ZM746.2 268.7L749.6 269.0L749.4 271.2L746.0 270.8ZM763.6 270.4L769.5 270.9L769.2 273.5L763.4 272.8ZM676.5 262.1L687.4 263.4L687.2 264.5L676.4 263.1ZM743.6 269.8L747.0 270.2L746.7 272.3L743.3 271.9ZM674.0 262.0L677.4 262.4L677.3 263.4L673.9 262.8ZM681.5 262.9L689.8 264.0L689.6 265.2L681.3 264.0ZM743.4 271.1L749.3 271.9L749.0 274.1L743.1 273.2ZM743.3 272.4L749.1 273.3L748.8 275.5L742.9 274.5ZM785.3 278.7L788.7 279.2L788.2 282.1L784.9 281.5ZM696.2 265.9L709.4 268.1L709.2 269.6L696.0 267.2ZM743.1 273.7L748.9 274.7L748.5 276.9L742.7 275.8ZM674.0 262.3L677.4 262.9L677.2 263.9L673.8 263.2ZM681.4 263.7L689.6 265.2L689.4 266.4L681.2 264.7ZM706.0 268.2L711.8 269.3L711.5 270.9L705.7 269.7ZM789.5 283.7L792.9 284.3L792.3 287.3L789.0 286.6ZM794.5 284.6L797.8 285.2L797.2 288.3L793.9 287.6ZM674.0 262.4L677.3 263.1L677.1 264.1L673.8 263.3ZM678.9 263.4L682.2 264.1L682.0 265.1L678.7 264.4ZM691.1 265.9L694.5 266.6L694.2 267.8L690.9 267.1ZM708.3 269.4L711.6 270.1L711.3 271.6L708.0 270.9ZM715.6 270.9L719.0 271.6L718.6 273.2L715.3 272.5ZM745.0 276.9L748.4 277.5L747.9 279.7L744.6 279.0ZM674.0 262.6L682.2 264.3L681.9 265.4L673.8 263.4ZM691.1 266.3L696.8 267.6L696.5 268.9L690.8 267.5ZM710.6 270.6L713.9 271.4L713.5 273.0L710.2 272.2ZM717.9 272.3L721.2 273.0L720.8 274.7L717.5 273.9ZM759.4 281.5L762.7 282.2L762.2 284.6L758.9 283.8ZM774.1 284.7L777.4 285.4L776.7 288.1L773.4 287.3ZM673.9 262.7L677.3 263.4L677.0 264.4L673.7 263.5ZM681.2 264.4L689.4 266.3L689.1 267.5L681.0 265.4ZM691.0 266.7L694.3 267.5L694.0 268.8L690.7 267.9ZM712.9 272.0L718.6 273.4L718.2 275.0L712.5 273.5ZM759.0 283.1L769.6 285.6L769.0 288.2L758.5 285.4ZM676.3 263.4L682.1 264.8L681.8 265.9L676.1 264.3ZM693.3 267.8L699.0 269.2L698.7 270.6L693.0 269.0ZM751.4 282.8L754.7 283.6L754.1 285.9L750.8 285.0ZM778.0 289.7L781.3 290.5L780.6 293.3L777.3 292.4ZM676.3 263.5L686.8 266.4L686.5 267.6L676.1 264.4ZM714.9 274.2L718.1 275.1L717.7 276.8L714.4 275.8ZM751.0 284.2L759.1 286.5L758.4 288.9L750.4 286.5ZM760.6 286.9L766.3 288.5L765.6 291.0L760.0 289.3ZM767.9 288.9L771.1 289.8L770.4 292.4L767.2 291.4ZM772.7 290.3L776.0 291.2L775.2 293.8L771.9 292.9ZM676.3 263.7L691.5 268.2L691.2 269.4L676.0 264.6ZM717.0 275.8L720.3 276.7L719.8 278.4L716.5 277.4ZM753.0 286.4L756.3 287.4L755.5 289.7L752.3 288.7ZM757.8 287.8L761.1 288.8L760.3 291.2L757.1 290.2ZM774.6 292.8L777.8 293.8L777.0 296.4L773.8 295.4ZM681.0 265.4L684.3 266.4L683.9 267.4L680.7 266.3ZM688.2 267.6L691.4 268.6L691.0 269.8L687.8 268.7ZM714.4 275.9L717.6 276.9L717.1 278.5L713.9 277.4ZM774.0 294.7L777.2 295.7L776.4 298.4L773.2 297.3ZM795.5 301.4L798.7 302.4L797.7 305.5L794.5 304.4ZM690.4 268.8L693.7 269.8L693.2 271.0L690.0 269.9ZM756.8 291.0L760.0 292.0L759.2 294.4L756.0 293.3ZM763.9 293.3L767.2 294.4L766.3 296.9L763.1 295.8ZM794.7 303.7L802.7 306.3L801.6 309.4L793.7 306.6ZM756.3 292.5L766.6 296.2L765.7 298.6L755.5 294.8ZM692.5 270.4L700.4 273.4L699.9 274.7L692.1 271.6ZM720.6 280.9L726.1 283.0L725.5 284.8L720.0 282.6ZM748.7 291.4L754.2 293.5L753.4 295.8L747.9 293.6ZM758.1 294.9L763.6 297.0L762.7 299.4L757.2 297.3ZM769.8 299.3L773.0 300.5L772.0 303.1L768.8 301.8ZM680.7 266.3L688.5 269.3L688.1 270.5L680.3 267.2ZM690.0 269.9L693.2 271.2L692.7 272.4L689.6 271.1ZM711.0 278.2L714.1 279.4L713.5 281.0L710.4 279.7ZM717.9 280.9L721.1 282.2L720.4 283.9L717.3 282.5ZM743.5 291.0L746.7 292.3L745.8 294.4L742.7 293.1ZM759.8 297.4L763.0 298.7L762.0 301.1L758.9 299.8ZM764.5 299.3L767.6 300.5L766.6 303.0L763.5 301.7ZM680.6 266.5L683.8 267.8L683.3 268.8L680.2 267.5ZM687.6 269.4L693.0 271.6L692.5 272.8L687.1 270.5ZM743.0 303.8L746.0 305.4L744.8 307.5L741.9 305.8ZM780.3 338.5L783.1 340.4L781.2 343.1L778.4 341.1ZM691.4 278.0L694.2 280.0L693.3 281.1L690.6 279.1ZM689.1 277.0L693.8 280.5L693.0 281.6L688.3 278.0ZM688.8 277.3L691.5 279.4L690.7 280.5L688.0 278.3ZM772.1 341.3L774.8 343.3L772.9 345.8L770.2 343.7ZM723.7 305.7L726.4 307.8L725.1 309.5L722.5 307.3ZM705.1 293.1L707.6 295.3L706.5 296.6L704.0 294.3ZM750.0 336.6L752.5 338.9L750.6 340.9L748.1 338.6ZM743.2 332.8L745.7 335.2L743.9 337.1L741.4 334.7ZM746.9 336.3L749.3 338.6L747.4 340.6L745.0 338.2ZM682.9 276.6L687.0 280.8L686.1 281.7L682.0 277.4ZM688.1 281.9L690.5 284.4L689.5 285.3L687.2 282.8ZM716.2 310.5L720.3 314.7L718.8 316.1L714.7 311.9ZM733.7 328.3L736.1 330.7L734.3 332.5L732.0 330.0ZM725.6 322.2L728.0 324.7L726.3 326.2L724.0 323.7ZM683.7 279.2L687.6 283.7L686.6 284.5L682.8 280.0ZM689.9 287.1L692.1 289.7L691.0 290.7L688.9 288.0ZM699.7 298.5L703.5 303.0L702.1 304.2L698.4 299.6ZM712.6 313.7L716.5 318.2L714.9 319.6L711.1 315.0ZM689.5 287.5L691.6 290.1L690.5 291.1L688.4 288.4ZM699.0 299.1L702.8 303.6L701.4 304.8L697.7 300.1ZM679.7 276.2L681.8 278.8L680.8 279.6L678.8 276.8ZM677.9 274.4L680.0 277.1L679.0 277.8L677.0 275.0ZM680.9 278.4L683.0 281.0L682.0 281.8L680.0 279.1ZM674.7 270.6L682.7 281.3L681.7 282.0L673.9 271.1ZM710.4 318.8L712.4 321.5L710.7 322.8L708.7 320.0ZM671.6 266.6L676.5 273.4L675.6 274.0L670.9 267.1ZM677.4 274.7L682.3 281.6L681.3 282.3L676.6 275.4ZM703.6 311.4L705.5 314.1L704.0 315.3L702.0 312.4ZM706.5 315.4L709.9 320.2L708.2 321.4L704.9 316.6ZM671.5 266.7L676.3 273.6L675.4 274.2L670.8 267.2ZM677.2 274.9L679.1 277.7L678.2 278.4L676.3 275.5ZM694.9 302.2L696.8 305.0L695.3 306.0L693.5 303.1ZM694.2 302.7L696.0 305.5L694.6 306.4L692.8 303.5ZM696.9 306.9L698.7 309.7L697.2 310.7L695.4 307.8ZM692.2 301.0L693.9 303.9L692.5 304.7L690.8 301.8ZM694.5 308.3L696.1 311.3L694.6 312.2L692.9 309.2ZM679.0 282.6L680.5 285.7L679.4 286.2L677.9 283.2ZM680.8 287.3L683.5 292.6L682.2 293.2L679.6 287.9ZM679.3 285.3L680.8 288.4L679.5 288.9L678.2 285.8ZM681.4 289.8L684.0 295.1L682.7 295.7L680.2 290.4ZM671.6 269.6L683.4 295.4L682.1 296.0L670.8 269.9ZM684.1 296.9L685.5 300.0L684.1 300.6L682.7 297.5ZM672.5 271.9L676.8 281.9L675.7 282.4L671.6 272.3ZM677.4 283.4L678.8 286.5L677.6 287.0L676.3 283.9ZM681.4 292.6L682.8 295.7L681.5 296.3L680.2 293.1ZM670.3 267.4L676.5 282.1L675.3 282.5L669.5 267.7ZM677.1 283.6L680.3 291.3L679.0 291.8L675.9 284.0ZM681.9 295.1L683.2 298.3L681.8 298.8L680.5 295.6ZM670.2 267.4L676.1 282.2L675.0 282.7L669.4 267.8ZM676.7 283.7L677.9 286.9L676.7 287.4L675.6 284.2ZM671.0 269.8L676.6 284.7L675.4 285.2L670.2 270.2ZM678.0 288.6L679.2 291.8L677.9 292.2L676.8 289.0ZM670.9 269.9L672.9 275.4L671.9 275.8L670.0 270.2ZM675.9 284.0L678.7 292.0L677.4 292.4L674.8 284.4ZM672.3 274.7L673.4 277.9L672.4 278.3L671.4 275.0ZM669.4 267.8L672.6 280.8L671.4 281.1L668.6 268.0ZM669.3 267.8L671.7 278.4L670.6 278.7L668.4 268.0ZM669.2 267.8L670.9 276.1L669.8 276.3L668.3 268.0ZM669.1 267.9L670.6 276.1L669.6 276.3L668.2 268.0ZM672.3 285.1L672.9 288.4L671.6 288.6L671.1 285.3ZM668.9 267.9L670.8 278.6L669.7 278.8L668.1 268.0ZM668.8 267.9L670.9 281.2L669.7 281.3L668.0 268.0ZM669.1 270.4L670.2 278.7L669.1 278.9L668.1 270.5ZM669.2 275.4L669.6 278.8L668.5 278.9L668.2 275.5ZM669.2 278.0L669.7 283.8L668.5 283.9L668.1 278.0ZM668.5 275.5L668.7 278.9L667.5 278.9L667.5 275.5ZM668.0 268.0L668.4 278.9L667.2 278.9L667.2 268.0ZM668.5 283.0L668.6 286.4L667.3 286.4L667.3 283.0ZM667.9 268.0L668.1 278.9L666.9 278.9L667.1 268.0ZM668.1 283.0L668.1 288.9L666.9 288.9L666.9 283.0ZM667.8 270.5L667.8 278.9L666.6 278.9L666.9 270.5ZM667.7 268.0L667.7 271.4L666.6 271.4L666.8 268.0ZM667.5 275.5L667.5 278.9L666.3 278.9L666.5 275.5ZM667.6 268.0L667.5 271.4L666.5 271.4L666.7 268.0ZM667.5 268.0L667.3 271.4L666.3 271.4L666.6 268.0ZM666.6 283.0L666.4 286.4L665.1 286.3L665.4 282.9ZM667.4 268.0L667.1 271.4L666.1 271.4L666.5 268.0ZM666.8 275.5L666.3 281.4L665.2 281.3L665.8 275.4ZM667.2 268.0L666.5 276.4L665.4 276.3L666.4 268.0ZM667.1 268.0L666.2 276.4L665.1 276.3L666.3 267.9ZM666.1 275.5L665.3 281.3L664.1 281.2L665.0 275.3ZM666.4 268.0L664.7 276.2L663.6 275.9L665.6 267.8ZM665.8 270.4L664.4 276.1L663.4 275.9L664.9 270.2ZM664.4 275.2L663.5 278.5L662.4 278.2L663.4 274.9ZM663.1 280.0L662.3 283.3L661.1 283.0L662.0 279.7ZM664.1 275.1L663.2 278.4L662.2 278.1L663.1 274.9ZM662.8 280.0L661.9 283.2L660.7 282.9L661.7 279.7ZM664.7 270.1L663.5 273.3L662.6 272.9L663.8 269.8ZM662.1 277.1L660.9 280.3L659.8 279.9L661.1 276.8ZM660.3 279.1L658.9 282.2L657.8 281.8L659.2 278.7ZM659.4 264.2L651.3 266.6L651.0 265.5L659.1 263.3ZM649.8 267.0L646.5 267.9L646.2 266.8L649.5 265.9ZM618.5 276.0L615.3 276.9L614.8 275.2L618.1 274.3ZM594.5 282.8L591.2 283.8L590.6 281.6L593.9 280.7ZM568.1 290.4L564.8 291.4L564.1 288.7L567.4 287.8ZM560.9 292.5L557.6 293.4L556.8 290.6L560.1 289.8ZM659.3 264.1L644.0 268.2L643.7 267.0L659.1 263.2ZM642.4 268.6L629.5 272.1L629.1 270.6L642.1 267.4ZM625.5 273.1L622.2 274.0L621.8 272.4L625.1 271.6ZM618.3 275.1L612.6 276.6L612.1 274.8L617.9 273.4ZM601.4 279.6L590.8 282.4L590.3 280.2L600.9 277.6ZM582.1 284.7L578.8 285.6L578.1 283.2L581.4 282.4ZM562.7 289.9L557.0 291.4L556.3 288.6L562.0 287.2ZM654.4 265.1L641.4 268.4L641.1 267.1L654.2 264.1ZM618.0 274.1L607.5 276.8L607.0 274.9L617.6 272.5ZM596.2 279.6L588.0 281.6L587.5 279.3L595.7 277.5ZM576.8 284.4L573.5 285.2L572.9 282.7L576.2 281.9ZM651.9 265.4L641.3 267.9L641.0 266.6L651.7 264.4ZM632.4 269.9L629.1 270.7L628.8 269.2L632.1 268.5ZM612.9 274.4L607.2 275.7L606.8 273.8L612.6 272.6ZM600.8 277.1L597.4 277.9L597.0 275.8L600.3 275.1ZM595.9 278.2L590.1 279.6L589.6 277.4L595.4 276.2ZM578.8 282.1L575.5 282.9L575.0 280.4L578.3 279.7ZM659.2 263.6L655.9 264.3L655.7 263.3L659.0 262.7ZM649.4 265.7L636.3 268.4L636.0 267.1L649.2 264.6ZM612.7 273.4L606.9 274.6L606.6 272.7L612.4 271.6ZM600.5 275.9L594.7 277.1L594.3 275.0L600.1 273.9ZM656.7 263.9L646.0 266.0L645.8 264.8L656.5 263.0ZM629.7 269.1L623.9 270.2L623.6 268.6L629.4 267.6ZM617.4 271.4L611.6 272.5L611.3 270.7L617.1 269.7ZM600.2 274.7L596.9 275.3L596.5 273.2L599.9 272.7ZM570.8 280.3L565.0 281.4L564.5 278.7L570.3 277.7ZM646.8 265.4L641.0 266.4L640.8 265.2L646.6 264.3ZM629.6 268.4L626.2 269.0L626.0 267.4L629.3 266.9ZM624.6 269.2L621.3 269.8L621.0 268.2L624.4 267.7ZM619.7 270.1L616.4 270.7L616.1 268.9L619.4 268.4ZM590.1 275.1L586.8 275.7L586.4 273.4L589.8 272.9ZM582.7 276.4L579.4 277.0L579.0 274.6L582.4 274.0ZM553.2 281.4L547.4 282.4L546.9 279.4L552.7 278.6ZM646.8 265.1L643.4 265.6L643.2 264.3L646.6 263.9ZM631.9 267.3L626.1 268.2L625.9 266.6L631.7 265.9ZM624.5 268.4L616.2 269.7L616.0 268.0L624.3 266.9ZM602.3 271.8L598.9 272.3L598.6 270.3L602.0 269.8ZM589.9 273.7L586.5 274.2L586.2 271.9L589.6 271.5ZM629.3 267.0L621.0 268.1L620.8 266.5L629.2 265.5ZM619.4 268.3L611.1 269.4L610.9 267.6L619.2 266.6ZM599.6 271.0L593.8 271.7L593.5 269.6L599.4 268.9ZM629.2 266.3L611.0 268.4L610.8 266.6L629.1 264.8ZM599.4 269.7L591.1 270.7L590.9 268.5L599.2 267.7ZM648.0 270.8L563.0 309.4L561.9 306.9L647.6 269.7ZM647.7 270.1L570.7 302.1L569.8 299.8L647.3 269.1ZM658.5 264.8L655.3 265.9L655.0 264.9L658.3 264.0ZM651.4 267.1L645.8 269.0L645.5 267.9L651.1 266.2ZM644.3 269.5L636.3 272.1L635.9 270.9L643.9 268.4ZM632.4 273.3L614.9 279.0L614.4 277.5L632.0 272.1ZM658.6 265.1L655.4 266.2L655.1 265.3L658.4 264.2ZM653.9 266.7L650.7 267.9L650.4 267.0L653.6 265.9ZM649.2 268.4L646.0 269.6L645.7 268.6L648.9 267.5ZM644.5 270.1L641.3 271.3L640.9 270.2L644.2 269.1ZM639.8 271.8L636.6 272.9L636.2 271.8L639.4 270.7ZM635.1 273.5L624.8 277.1L624.4 275.9L634.7 272.4ZM658.1 268.2L649.0 274.2L648.3 273.2L657.6 267.4ZM647.6 275.1L634.4 283.8L633.6 282.6L647.0 274.1ZM633.0 284.7L623.9 290.7L623.0 289.3L632.2 283.5ZM622.6 291.6L617.7 294.8L616.7 293.4L621.7 290.2ZM657.7 277.2L653.1 284.3L652.3 283.7L656.9 276.7ZM652.2 285.6L644.9 296.9L644.0 296.3L651.4 285.1Z"/>
<path fill="#ff4800" d="M726.1 235.6L736.1 231.2L736.9 233.2L726.8 237.4ZM755.9 222.6L759.0 221.3L760.0 223.6L756.9 224.9ZM738.1 231.8L741.2 230.5L742.0 232.6L738.9 233.8ZM747.3 228.0L750.4 226.7L751.3 228.9L748.2 230.1ZM756.5 224.2L759.7 222.9L760.6 225.2L757.5 226.5ZM738.6 233.1L741.7 231.8L742.5 233.9L739.3 235.1ZM747.9 229.4L755.7 226.3L756.6 228.6L748.7 231.6ZM757.2 225.7L760.3 224.5L761.3 226.9L758.1 228.1ZM739.1 234.3L742.2 233.1L743.0 235.2L739.8 236.3ZM743.7 232.6L746.9 231.4L747.7 233.5L744.5 234.7ZM753.1 229.1L756.3 227.9L757.1 230.2L753.9 231.3ZM730.1 238.9L733.3 237.8L734.0 239.7L730.7 240.8ZM739.5 235.6L745.1 233.6L745.8 235.7L740.2 237.6ZM753.7 230.6L756.9 229.4L757.7 231.8L754.4 232.8ZM723.4 242.4L726.6 241.3L727.2 243.1L723.9 244.1ZM740.0 236.8L747.9 234.2L748.6 236.3L740.6 238.9ZM754.2 232.1L764.5 228.6L765.3 231.1L754.9 234.4ZM711.8 247.1L715.0 246.1L715.5 247.7L712.2 248.7ZM723.7 243.4L726.9 242.3L727.5 244.1L724.2 245.1ZM740.4 238.1L743.6 237.1L744.3 239.2L741.0 240.1ZM766.6 229.8L769.9 228.8L770.6 231.4L767.4 232.3ZM721.6 245.1L724.9 244.1L725.4 245.9L722.1 246.8ZM726.4 243.6L729.7 242.7L730.2 244.5L726.9 245.4ZM707.4 250.0L713.1 248.4L713.5 250.0L707.8 251.5ZM770.1 232.6L773.3 231.7L774.0 234.4L770.8 235.2ZM777.3 230.6L780.6 229.7L781.3 232.5L778.0 233.3ZM712.5 249.5L720.6 247.4L721.0 249.1L712.9 251.0ZM780.2 231.9L785.9 230.5L786.7 233.3L780.9 234.7ZM707.8 251.4L713.5 250.0L713.9 251.6L708.1 252.9ZM771.0 236.2L774.3 235.4L774.9 238.1L771.6 238.8ZM783.2 233.3L786.5 232.5L787.1 235.4L783.8 236.1ZM788.0 232.2L791.3 231.4L792.0 234.3L788.7 235.0ZM705.5 252.7L716.2 250.3L716.5 251.9L705.8 254.1ZM720.2 249.4L728.4 247.6L728.8 249.4L720.5 251.1ZM778.8 236.4L782.1 235.7L782.7 238.5L779.3 239.2ZM710.6 252.3L721.3 250.1L721.6 251.9L710.9 253.9ZM727.7 248.8L731.1 248.2L731.4 250.1L728.1 250.7ZM769.4 240.4L775.2 239.2L775.7 241.9L769.9 242.9ZM779.2 238.4L782.5 237.7L783.1 240.5L779.7 241.1ZM793.9 235.4L799.7 234.2L800.3 237.3L794.5 238.4ZM705.8 254.0L714.1 252.5L714.4 254.1L706.1 255.4ZM718.1 251.7L721.5 251.1L721.8 252.8L718.4 253.4ZM730.4 249.4L733.7 248.8L734.1 250.8L730.7 251.3ZM777.1 240.8L780.5 240.2L780.9 242.9L777.6 243.5ZM708.4 254.3L716.7 252.9L717.0 254.5L708.7 255.8ZM718.3 252.6L721.6 252.0L721.9 253.8L718.5 254.3ZM767.6 244.3L770.9 243.8L771.4 246.4L768.0 246.9ZM779.9 242.3L783.3 241.7L783.7 244.5L780.4 245.0ZM711.0 254.6L714.4 254.1L714.6 255.7L711.2 256.1ZM735.7 250.9L739.1 250.4L739.4 252.4L736.0 252.9ZM770.3 245.7L773.7 245.2L774.1 247.9L770.7 248.3ZM780.2 244.2L783.6 243.7L784.0 246.6L780.6 247.0ZM711.1 255.4L714.5 254.9L714.7 256.5L711.3 256.9ZM721.0 254.1L729.4 252.9L729.6 254.8L721.2 255.8ZM773.1 247.2L776.5 246.8L776.8 249.5L773.4 249.8ZM780.5 246.2L783.9 245.8L784.2 248.6L780.9 249.0ZM706.3 256.7L709.6 256.3L709.8 257.8L706.4 258.2ZM711.2 256.1L714.6 255.7L714.8 257.4L711.4 257.7ZM718.7 255.3L722.0 254.9L722.2 256.6L718.8 257.0ZM726.1 254.4L729.5 254.0L729.7 255.9L726.3 256.2ZM736.1 253.3L739.4 252.9L739.7 255.0L736.3 255.3ZM706.3 257.4L712.2 256.8L712.3 258.4L706.5 258.8ZM718.8 256.2L722.2 255.8L722.3 257.6L718.9 257.9ZM736.2 254.5L742.1 253.9L742.2 256.0L736.4 256.5ZM743.7 253.8L747.0 253.4L747.2 255.6L743.8 255.9ZM748.6 253.3L752.0 253.0L752.2 255.2L748.8 255.5ZM758.6 252.3L764.5 251.8L764.7 254.3L758.8 254.7ZM703.9 258.2L709.8 257.8L709.9 259.3L704.0 259.7ZM718.9 257.1L722.2 256.8L722.4 258.5L719.0 258.7ZM728.8 256.3L742.2 255.2L742.3 257.3L729.0 258.1ZM743.8 255.1L747.2 254.8L747.3 257.0L743.9 257.2ZM748.8 254.7L752.2 254.4L752.3 256.7L748.9 256.9ZM756.2 254.1L759.6 253.8L759.8 256.3L756.4 256.5ZM761.2 253.7L764.6 253.5L764.8 256.0L761.4 256.2ZM684.0 260.1L692.4 259.6L692.4 260.8L684.0 261.2ZM706.5 258.7L709.8 258.5L709.9 260.1L706.5 260.2ZM726.4 257.5L729.8 257.3L729.9 259.2L726.5 259.3ZM741.4 256.6L747.3 256.2L747.4 258.4L741.5 258.7ZM748.9 256.1L754.8 255.8L754.9 258.1L749.0 258.3ZM763.8 255.2L772.2 254.7L772.4 257.3L764.0 257.7ZM684.0 260.4L689.9 260.1L689.9 261.3L684.0 261.5ZM724.0 258.6L729.9 258.4L729.9 260.3L724.0 260.4ZM731.5 258.3L734.9 258.2L734.9 260.1L731.5 260.2ZM744.0 257.8L747.4 257.6L747.4 259.8L744.0 259.9ZM761.4 257.0L764.8 256.8L764.9 259.4L761.5 259.4ZM768.9 256.7L772.3 256.5L772.4 259.2L769.0 259.2ZM778.9 256.2L782.3 256.1L782.4 258.9L779.0 259.0ZM686.5 260.6L692.4 260.4L692.4 261.7L686.5 261.7ZM706.5 260.1L714.9 259.9L714.9 261.5L706.5 261.6ZM721.5 259.7L724.9 259.6L724.9 261.4L721.5 261.4ZM744.0 259.1L749.9 258.9L749.9 261.2L744.0 261.2ZM759.0 258.7L764.9 258.5L764.9 261.1L759.0 261.1ZM769.0 258.4L772.4 258.4L772.4 261.0L769.0 261.0ZM744.0 260.4L747.4 260.4L747.4 262.6L744.0 262.6ZM749.0 260.4L752.4 260.4L752.4 262.6L749.0 262.6ZM759.0 260.3L762.4 260.3L762.4 262.7L759.0 262.7ZM764.0 260.3L769.9 260.2L769.9 262.8L764.0 262.7ZM749.0 261.8L752.4 261.8L752.4 264.1L749.0 264.0ZM756.5 261.9L762.4 261.9L762.4 264.4L756.5 264.2ZM704.0 262.1L709.9 262.2L709.9 263.8L704.0 263.5ZM716.5 262.4L729.9 262.7L729.9 264.6L716.5 264.0ZM751.5 263.3L754.9 263.4L754.8 265.7L751.5 265.6ZM771.5 263.8L774.9 263.9L774.8 266.6L771.4 266.4ZM776.5 264.0L779.9 264.0L779.8 266.8L776.4 266.7ZM769.0 265.5L774.9 265.8L774.7 268.5L768.8 268.1ZM776.5 265.9L779.9 266.0L779.7 268.8L776.3 268.6ZM733.9 265.2L742.3 265.7L742.2 267.8L733.8 267.1ZM761.4 266.8L767.3 267.2L767.1 269.7L761.2 269.3ZM788.8 268.5L792.2 268.7L792.0 271.7L788.6 271.4ZM689.0 262.8L692.4 263.1L692.3 264.3L688.9 264.0ZM733.9 266.3L739.8 266.8L739.6 268.8L733.7 268.3ZM743.8 267.1L747.2 267.4L747.0 269.6L743.7 269.2ZM748.8 267.5L759.7 268.4L759.5 270.8L748.6 269.7ZM776.2 269.7L782.1 270.1L781.9 272.9L776.0 272.3ZM684.0 262.7L689.9 263.2L689.8 264.4L683.9 263.8ZM733.8 267.5L737.2 267.8L737.0 269.8L733.6 269.4ZM743.7 268.4L747.1 268.8L746.9 271.0L743.5 270.6ZM758.7 269.9L764.5 270.4L764.3 272.9L758.4 272.3ZM768.6 270.8L774.5 271.4L774.2 274.1L768.4 273.4ZM674.0 261.9L677.4 262.2L677.3 263.2L673.9 262.7ZM686.5 263.3L689.8 263.6L689.7 264.8L686.3 264.4ZM696.4 264.4L699.8 264.8L699.6 266.1L696.2 265.7ZM800.7 276.3L804.1 276.7L803.7 279.8L800.4 279.4ZM676.5 262.3L682.4 263.0L682.2 264.1L676.4 263.2ZM688.9 263.9L694.8 264.7L694.6 266.0L688.8 265.1ZM741.0 270.8L744.3 271.2L744.0 273.3L740.7 272.8ZM674.0 262.1L687.3 264.0L687.1 265.2L673.9 262.9ZM688.9 264.3L694.7 265.2L694.5 266.4L688.7 265.4ZM696.3 265.4L704.6 266.6L704.4 268.1L696.1 266.7ZM740.8 272.1L744.2 272.5L743.8 274.7L740.5 274.1ZM748.2 273.2L751.6 273.7L751.2 275.9L747.9 275.4ZM782.8 278.3L786.2 278.8L785.7 281.7L782.4 281.1ZM787.8 279.1L791.1 279.6L790.7 282.5L787.3 282.0ZM674.0 262.2L682.3 263.6L682.1 264.6L673.9 263.1ZM693.7 265.5L697.1 266.0L696.9 267.4L693.5 266.7ZM708.5 268.0L711.9 268.5L711.6 270.1L708.3 269.5ZM740.6 273.3L744.0 273.9L743.6 276.0L740.2 275.4ZM748.0 274.6L751.4 275.1L751.0 277.4L747.6 276.8ZM780.1 279.9L783.4 280.5L782.9 283.3L779.6 282.7ZM676.5 262.8L682.3 263.8L682.1 264.9L676.3 263.7ZM688.8 265.0L701.9 267.5L701.7 268.9L688.5 266.2ZM703.5 267.8L706.9 268.4L706.6 269.9L703.2 269.2ZM710.9 269.1L714.2 269.7L713.9 271.4L710.6 270.7ZM742.8 275.1L748.6 276.1L748.2 278.3L742.4 277.2ZM772.3 280.5L775.7 281.1L775.2 283.8L771.8 283.1ZM779.7 281.9L783.1 282.5L782.5 285.3L779.2 284.6ZM792.0 284.2L795.3 284.8L794.8 287.8L791.4 287.1ZM676.4 262.9L679.8 263.6L679.6 264.6L676.2 263.8ZM693.6 266.4L701.8 268.1L701.5 269.5L693.3 267.6ZM705.8 268.9L709.2 269.6L708.9 271.1L705.5 270.3ZM718.1 271.4L721.4 272.1L721.1 273.8L717.7 273.0ZM740.1 275.9L745.9 277.0L745.5 279.2L739.7 277.9ZM759.7 279.9L763.1 280.5L762.6 283.0L759.2 282.2ZM774.4 282.9L780.2 284.0L779.6 286.8L773.9 285.5ZM695.9 267.4L701.7 268.7L701.4 270.1L695.7 268.7ZM708.1 270.1L711.5 270.8L711.1 272.4L707.8 271.6ZM742.3 277.7L748.1 279.0L747.6 281.1L741.8 279.8ZM752.1 279.8L760.3 281.7L759.7 284.1L751.6 282.1ZM761.8 282.0L774.9 284.9L774.3 287.6L761.3 284.4ZM776.5 285.3L779.8 286.0L779.2 288.7L775.9 287.9ZM688.5 266.1L691.9 266.9L691.6 268.1L688.3 267.3ZM695.8 267.9L699.1 268.7L698.8 270.0L695.5 269.2ZM717.7 273.1L721.0 273.9L720.6 275.6L717.3 274.8ZM754.2 281.9L759.9 283.3L759.3 285.7L753.6 284.2ZM776.1 287.2L779.4 287.9L778.7 290.7L775.4 289.8ZM783.4 288.9L786.7 289.7L785.9 292.5L782.7 291.7ZM788.2 290.1L791.5 290.9L790.8 293.8L787.5 292.9ZM681.2 264.6L686.9 266.1L686.6 267.2L680.9 265.6ZM690.9 267.1L694.2 268.0L693.8 269.2L690.6 268.3ZM698.1 269.0L701.4 269.9L701.1 271.2L697.8 270.3ZM749.0 282.2L752.3 283.0L751.7 285.3L748.4 284.3ZM753.8 283.4L759.5 284.9L758.9 287.3L753.2 285.7ZM761.1 285.3L766.8 286.8L766.1 289.3L760.4 287.7ZM768.3 287.2L771.6 288.0L770.9 290.6L767.7 289.7ZM686.0 266.2L701.3 270.4L700.9 271.8L685.7 267.3ZM712.5 273.6L715.7 274.5L715.3 276.1L712.0 275.1ZM717.3 274.9L720.6 275.8L720.1 277.5L716.8 276.5ZM758.2 286.2L761.5 287.2L760.8 289.6L757.6 288.6ZM765.5 288.3L768.7 289.2L768.0 291.7L764.8 290.7ZM690.7 268.0L696.3 269.6L695.9 270.9L690.3 269.1ZM709.8 273.6L713.1 274.6L712.6 276.2L709.4 275.1ZM750.6 285.7L753.9 286.7L753.2 288.9L749.9 287.9ZM690.6 268.4L701.0 271.6L700.5 273.0L690.2 269.5ZM712.0 275.1L715.3 276.1L714.7 277.7L711.5 276.6ZM754.9 288.6L758.2 289.7L757.4 292.0L754.2 290.9ZM692.8 269.6L696.0 270.6L695.6 271.9L692.4 270.7ZM754.4 290.2L757.7 291.2L756.9 293.6L753.7 292.4ZM766.3 294.1L769.5 295.2L768.7 297.7L765.4 296.6ZM787.6 301.3L790.9 302.4L789.9 305.3L786.7 304.1ZM692.7 270.0L705.3 274.5L704.8 275.9L692.2 271.2ZM753.9 291.7L757.1 292.8L756.3 295.1L753.1 293.9ZM786.9 303.4L792.5 305.3L791.4 308.3L785.9 306.2ZM699.5 273.1L702.7 274.2L702.2 275.6L699.0 274.3ZM746.4 290.6L749.6 291.7L748.7 293.9L745.6 292.7ZM762.8 296.7L770.6 299.6L769.7 302.2L761.8 299.1ZM673.7 263.5L681.6 266.6L681.1 267.6L673.4 264.3ZM692.3 270.9L695.5 272.1L695.0 273.3L691.9 272.0ZM720.3 281.9L728.1 284.9L727.4 286.7L719.6 283.5ZM738.9 289.2L744.4 291.3L743.5 293.4L738.1 291.2ZM771.4 302.0L774.6 303.3L773.5 305.9L770.4 304.6ZM673.7 263.7L681.5 266.8L681.0 267.8L673.3 264.5ZM682.9 267.5L688.4 269.7L687.9 270.8L682.5 268.5ZM694.5 272.3L697.6 273.5L697.1 274.8L694.0 273.4ZM724.5 284.7L727.7 286.0L726.9 287.8L723.8 286.4ZM740.7 291.4L755.4 297.5L754.4 299.7L739.8 293.4ZM768.4 302.9L771.5 304.2L770.5 306.7L767.3 305.3ZM680.5 266.7L686.0 269.1L685.5 270.1L680.1 267.7ZM687.4 269.7L692.8 272.1L692.3 273.3L686.9 270.8ZM717.4 288.1L722.6 290.9L721.7 292.6L716.5 289.7ZM724.0 291.7L729.2 294.5L728.2 296.3L723.0 293.4ZM743.8 302.4L746.7 304.1L745.6 306.1L742.6 304.5ZM714.7 287.8L724.2 293.1L723.3 294.8L713.9 289.3ZM740.8 302.5L743.8 304.2L742.6 306.2L739.7 304.5ZM745.2 305.0L748.2 306.7L747.0 308.8L744.0 307.0ZM684.1 270.8L687.0 272.5L686.4 273.6L683.5 271.8ZM714.3 288.6L719.4 291.6L718.4 293.2L713.4 290.1ZM740.1 303.8L747.4 308.1L746.1 310.1L739.0 305.8ZM683.9 271.1L686.9 272.9L686.2 273.9L683.4 272.1ZM715.9 290.7L721.0 293.8L720.0 295.4L715.0 292.2ZM689.6 276.2L694.5 279.5L693.7 280.7L688.9 277.2ZM673.0 265.0L675.8 266.9L675.2 267.7L672.5 265.7ZM685.3 273.7L692.1 278.6L691.3 279.6L684.6 274.6ZM693.4 279.5L696.2 281.5L695.4 282.6L692.6 280.6ZM715.8 295.5L718.6 297.4L717.5 299.0L714.7 296.9ZM764.7 330.3L767.4 332.3L765.7 334.7L763.0 332.6ZM673.0 265.1L677.7 268.6L677.1 269.4L672.5 265.8ZM687.1 275.5L689.8 277.5L689.0 278.5L686.3 276.5ZM693.1 279.9L695.8 282.0L695.0 283.1L692.3 281.0ZM686.8 275.8L689.5 277.9L688.7 278.9L686.1 276.8ZM690.8 278.9L693.5 280.9L692.6 282.0L690.0 279.9ZM672.9 265.3L675.5 267.4L674.9 268.1L672.3 265.9ZM719.8 302.6L722.5 304.7L721.2 306.3L718.6 304.1ZM735.5 315.1L738.1 317.2L736.7 319.0L734.0 316.9ZM682.4 273.3L688.9 278.6L688.1 279.6L681.7 274.2ZM690.2 279.7L692.8 281.8L691.9 282.9L689.3 280.7ZM759.6 336.9L762.2 339.1L760.4 341.3L757.8 339.1ZM684.1 275.2L686.7 277.4L685.9 278.3L683.4 276.1ZM703.2 291.4L705.7 293.6L704.6 294.9L702.1 292.6ZM748.8 330.4L751.4 332.6L749.6 334.7L747.0 332.4ZM758.3 338.5L760.9 340.7L758.9 342.9L756.4 340.7ZM678.3 270.5L680.8 272.8L680.1 273.6L677.6 271.3ZM683.9 275.5L686.5 277.7L685.6 278.7L683.1 276.3ZM702.6 292.0L707.0 296.0L705.9 297.2L701.6 293.2ZM747.6 331.8L750.1 334.1L748.3 336.1L745.8 333.8ZM680.0 272.4L684.3 276.4L683.5 277.2L679.2 273.2ZM689.2 280.8L693.5 284.8L692.6 285.9L688.3 281.8ZM702.1 292.7L704.6 294.9L703.5 296.2L701.0 293.8ZM746.3 333.2L748.8 335.5L747.0 337.5L744.5 335.1ZM679.8 272.6L684.1 276.7L683.2 277.5L679.0 273.4ZM688.8 281.2L693.1 285.3L692.1 286.3L687.9 282.1ZM745.1 334.6L747.5 336.9L745.6 338.9L743.2 336.5ZM748.7 338.0L751.2 340.3L749.2 342.4L746.8 340.0ZM679.6 272.8L692.7 285.7L691.7 286.7L678.8 273.6ZM679.4 273.0L683.5 277.2L682.7 278.1L678.6 273.8ZM686.4 280.2L688.8 282.6L687.8 283.5L685.5 281.0ZM689.9 283.7L692.3 286.1L691.3 287.1L688.9 284.7ZM714.4 308.7L716.8 311.1L715.4 312.5L713.0 310.0ZM719.7 314.0L722.1 316.5L720.5 318.0L718.2 315.5ZM680.9 275.0L691.9 286.6L690.8 287.5L680.1 275.8ZM682.3 277.1L689.7 285.1L688.7 286.1L681.5 277.9ZM680.4 275.5L684.3 279.9L683.4 280.7L679.6 276.2ZM687.0 283.0L692.6 289.3L691.5 290.2L686.1 283.8ZM676.9 271.9L679.1 274.5L678.3 275.2L676.1 272.6ZM681.8 277.6L687.3 284.0L686.2 284.9L680.9 278.4ZM694.8 292.8L700.2 299.2L699.0 300.3L693.6 293.8ZM702.9 302.3L705.1 304.9L703.7 306.1L701.6 303.5ZM681.5 277.9L685.3 282.4L684.3 283.2L680.6 278.6ZM694.2 293.3L698.0 297.9L696.7 298.9L693.1 294.3ZM676.5 272.3L680.2 276.9L679.3 277.6L675.7 272.9ZM681.2 278.1L684.9 282.7L683.9 283.5L680.3 278.8ZM698.3 299.6L702.0 304.3L700.6 305.3L697.0 300.7ZM704.6 307.5L706.7 310.1L705.2 311.3L703.1 308.6ZM671.8 266.5L673.9 269.1L673.1 269.7L671.1 267.0ZM676.4 272.4L678.4 275.1L677.5 275.8L675.5 273.0ZM682.5 280.3L684.5 283.0L683.5 283.8L681.5 281.1ZM685.5 284.3L687.6 287.0L686.5 287.8L684.5 285.1ZM703.8 308.1L705.8 310.8L704.3 311.9L702.3 309.2ZM671.7 266.5L675.2 271.3L674.4 271.9L671.0 267.0ZM682.1 280.6L685.6 285.3L684.6 286.1L681.1 281.3ZM701.5 306.7L705.0 311.5L703.4 312.6L700.0 307.8ZM681.8 280.8L683.8 283.6L682.7 284.4L680.8 281.5ZM689.0 291.0L692.5 295.8L691.2 296.7L687.9 291.8ZM678.6 277.0L682.0 281.8L680.9 282.5L677.7 277.6ZM687.1 289.3L690.5 294.2L689.2 295.0L686.0 290.1ZM671.4 266.7L676.1 273.7L675.2 274.3L670.7 267.2ZM677.0 275.1L680.2 280.0L679.2 280.7L676.1 275.7ZM671.3 266.8L675.9 273.9L675.0 274.5L670.6 267.3ZM692.8 300.5L694.7 303.4L693.3 304.3L691.5 301.4ZM672.5 269.0L675.7 274.0L674.7 274.6L671.8 269.5ZM672.4 269.1L674.2 272.0L673.3 272.5L671.6 269.6ZM682.6 286.3L684.3 289.3L683.1 289.9L681.5 287.0ZM671.0 267.0L675.2 274.3L674.3 274.8L670.3 267.4ZM670.9 267.1L675.0 274.4L674.0 274.9L670.2 267.5ZM678.1 280.2L679.8 283.2L678.7 283.8L677.1 280.8ZM670.9 267.1L672.5 270.1L671.6 270.6L670.1 267.5ZM677.8 280.4L679.4 283.4L678.3 284.0L676.8 281.0ZM680.1 284.9L682.8 290.1L681.6 290.7L679.0 285.4ZM683.6 291.5L685.2 294.5L683.8 295.2L682.3 292.1ZM670.8 267.2L673.4 272.5L672.5 272.9L670.0 267.6ZM677.5 280.6L681.2 288.1L680.0 288.7L676.4 281.1ZM683.0 291.8L684.6 294.8L683.3 295.5L681.8 292.4ZM670.7 267.2L674.3 274.8L673.3 275.3L669.9 267.6ZM677.1 280.8L679.7 286.1L678.5 286.6L676.1 281.3ZM670.6 267.3L672.0 270.4L671.1 270.8L669.8 267.6ZM683.0 294.6L684.4 297.7L683.1 298.3L681.7 295.2ZM670.5 267.3L672.8 272.7L671.9 273.2L669.7 267.7ZM678.4 285.7L681.8 293.4L680.5 293.9L677.3 286.2ZM676.1 281.3L677.4 284.4L676.3 284.9L675.0 281.7ZM675.8 281.4L677.0 284.6L675.9 285.0L674.7 281.8ZM670.1 267.5L671.4 270.7L670.4 271.0L669.3 267.8ZM670.0 267.5L671.2 270.7L670.3 271.1L669.2 267.8ZM672.6 274.6L676.2 284.9L675.0 285.3L671.6 274.9ZM669.9 267.6L672.6 275.5L671.6 275.9L669.1 267.8ZM673.1 277.1L675.0 282.7L673.9 283.0L672.1 277.4ZM669.8 267.6L670.9 270.9L669.9 271.2L669.0 267.9ZM672.1 274.8L673.1 278.0L672.1 278.3L671.1 275.1ZM669.7 267.7L670.7 270.9L669.8 271.2L668.9 267.9ZM669.6 267.7L670.6 271.0L669.6 271.2L668.8 267.9ZM669.5 267.7L673.5 283.1L672.3 283.4L668.7 267.9ZM672.3 279.9L673.1 283.2L672.0 283.5L671.2 280.2ZM670.7 280.3L671.2 283.6L670.0 283.8L669.6 280.4ZM670.0 277.9L670.8 283.7L669.6 283.8L669.0 278.0ZM669.8 277.9L670.4 283.8L669.2 283.9L668.7 278.0ZM669.5 277.9L669.8 281.3L668.7 281.4L668.4 278.0ZM666.5 275.5L666.0 281.4L664.8 281.3L665.5 275.4ZM666.3 275.5L665.6 281.4L664.5 281.2L665.3 275.4ZM652.2 266.3L648.9 267.3L648.6 266.1L651.9 265.3ZM625.7 273.9L622.5 274.8L622.0 273.2L625.3 272.4ZM623.1 273.8L617.4 275.3L617.0 273.6L622.7 272.2ZM659.3 263.9L653.6 265.4L653.3 264.3L659.1 263.0ZM642.3 268.1L639.0 269.0L638.7 267.7L642.0 266.9ZM632.6 270.5L629.3 271.4L629.0 269.9L632.3 269.1ZM601.1 278.4L595.3 279.8L594.8 277.7L600.6 276.4ZM584.1 282.6L580.8 283.4L580.2 281.0L583.5 280.2ZM579.2 283.8L575.9 284.6L575.3 282.1L578.6 281.4ZM659.3 263.8L651.1 265.7L650.8 264.6L659.1 262.9ZM642.2 267.7L631.6 270.1L631.3 268.7L641.9 266.4ZM598.3 277.7L595.0 278.4L594.5 276.3L597.9 275.6ZM583.7 281.0L577.9 282.3L577.4 279.9L583.2 278.7ZM656.8 264.1L648.5 265.9L648.3 264.7L656.6 263.2ZM607.8 274.4L599.6 276.1L599.2 274.1L607.4 272.5ZM612.5 272.3L599.3 274.8L599.0 272.8L612.2 270.6ZM627.1 268.8L623.8 269.4L623.5 267.8L626.9 267.3ZM617.2 270.5L604.0 272.8L603.7 270.8L617.0 268.8ZM602.5 273.0L599.1 273.6L598.8 271.5L602.1 271.0ZM587.7 275.5L581.9 276.5L581.5 274.2L587.3 273.3ZM627.0 268.1L623.6 268.6L623.4 267.0L626.8 266.5ZM617.1 269.6L601.4 272.0L601.1 270.0L616.8 267.9ZM587.4 274.1L581.6 275.0L581.3 272.6L587.1 271.8ZM636.4 275.4L621.8 281.8L621.2 280.3L635.9 274.2ZM586.0 297.3L582.9 298.7L582.0 296.6L585.1 295.3Z"/>
<path fill="#ff6000" d="M745.0 229.0L748.1 227.7L749.0 229.8L745.8 231.1ZM749.6 227.1L755.1 224.8L756.0 227.1L750.5 229.2ZM761.2 222.3L764.3 221.0L765.3 223.4L762.1 224.7ZM755.5 228.2L758.6 227.0L759.5 229.3L756.3 230.5ZM756.0 229.7L763.9 226.9L764.8 229.4L756.8 232.0ZM772.5 232.0L778.2 230.4L778.9 233.1L773.2 234.6ZM705.2 251.3L713.3 249.2L713.7 250.8L705.6 252.8ZM777.8 232.6L781.1 231.7L781.8 234.5L778.5 235.3ZM705.4 252.0L708.7 251.2L709.0 252.7L705.7 253.4ZM712.7 250.2L716.0 249.4L716.4 251.1L713.0 251.8ZM773.4 235.7L779.2 234.3L779.8 237.0L774.1 238.3ZM776.3 237.0L779.6 236.2L780.2 239.0L776.9 239.7ZM705.7 253.3L711.5 252.1L711.8 253.7L706.0 254.8ZM722.8 249.8L726.2 249.2L726.5 251.0L723.2 251.6ZM727.9 249.9L731.3 249.3L731.6 251.2L728.3 251.7ZM772.2 241.7L778.0 240.6L778.5 243.3L772.7 244.3ZM770.1 243.9L773.4 243.4L773.8 246.0L770.5 246.5ZM708.5 255.0L711.9 254.5L712.1 256.0L708.7 256.5ZM720.9 253.1L724.3 252.6L724.5 254.4L721.1 254.8ZM708.6 255.7L712.0 255.2L712.2 256.8L708.8 257.2ZM708.7 256.4L712.1 256.0L712.3 257.6L708.9 257.9ZM723.6 254.7L727.0 254.3L727.2 256.2L723.8 256.5ZM726.2 255.4L732.1 254.9L732.3 256.8L726.4 257.3ZM741.2 254.0L744.6 253.7L744.7 255.8L741.4 256.1ZM723.8 256.7L729.7 256.2L729.9 258.1L724.0 258.4ZM741.3 255.3L744.7 255.0L744.8 257.2L741.4 257.4ZM708.9 258.6L719.8 257.9L719.9 259.6L709.0 260.1ZM723.9 257.7L727.3 257.4L727.4 259.3L724.0 259.4ZM689.0 260.2L692.4 260.0L692.4 261.3L689.0 261.3ZM706.5 259.4L712.4 259.1L712.4 260.7L706.5 260.9ZM721.5 258.7L724.9 258.6L724.9 260.4L721.5 260.5ZM691.5 260.5L694.9 260.4L694.9 261.7L691.5 261.7ZM704.0 260.1L707.4 260.0L707.4 261.6L704.0 261.6ZM714.0 259.9L722.4 259.7L722.4 261.4L714.0 261.5ZM729.0 259.5L732.4 259.4L732.4 261.3L729.0 261.4ZM746.5 260.4L749.9 260.4L749.9 262.6L746.5 262.6ZM751.5 260.4L754.9 260.3L754.9 262.7L751.5 262.6ZM756.5 260.3L759.9 260.3L759.9 262.7L756.5 262.7ZM761.5 260.3L764.9 260.2L764.9 262.8L761.5 262.7ZM751.5 261.8L754.9 261.9L754.9 264.2L751.5 264.1ZM761.5 261.9L769.9 262.0L769.9 264.6L761.5 264.4ZM771.5 262.0L774.9 262.0L774.9 264.7L771.5 264.6ZM709.0 262.2L717.4 262.4L717.4 264.1L709.0 263.7ZM756.5 263.4L764.9 263.6L764.8 266.2L756.4 265.8ZM769.0 263.8L772.4 263.8L772.3 266.5L768.9 266.3ZM774.0 263.9L777.4 264.0L777.3 266.7L773.9 266.5ZM701.5 262.6L709.9 262.9L709.8 264.5L701.5 264.0ZM716.5 263.2L729.9 263.8L729.8 265.7L716.4 264.9ZM754.0 264.9L759.9 265.1L759.8 267.5L753.9 267.2ZM761.5 265.2L764.9 265.3L764.7 267.9L761.3 267.6ZM696.5 262.9L699.9 263.1L699.8 264.5L696.4 264.2ZM716.5 264.1L727.4 264.8L727.2 266.6L716.4 265.7ZM731.5 265.0L734.8 265.2L734.7 267.2L731.3 266.9ZM771.4 267.5L774.8 267.7L774.6 270.3L771.2 270.1ZM691.5 263.0L694.9 263.2L694.8 264.5L691.4 264.2ZM731.4 266.1L734.8 266.4L734.6 268.4L731.2 268.0ZM738.9 266.7L744.7 267.2L744.6 269.3L738.7 268.8ZM781.2 270.1L784.6 270.3L784.4 273.2L781.0 272.8ZM689.0 263.2L694.9 263.7L694.7 265.0L688.9 264.3ZM731.3 267.2L734.7 267.6L734.5 269.5L731.1 269.1ZM736.3 267.7L739.7 268.0L739.4 270.1L736.1 269.7ZM741.2 268.2L744.6 268.5L744.4 270.7L741.0 270.3ZM748.7 268.9L752.1 269.2L751.9 271.5L748.5 271.1ZM753.7 269.4L759.6 270.0L759.3 272.4L753.4 271.7ZM773.6 271.3L779.5 271.9L779.2 274.6L773.3 274.0ZM689.0 263.5L697.3 264.5L697.1 265.8L688.8 264.7ZM698.9 264.7L702.3 265.1L702.1 266.5L698.7 266.0ZM741.1 269.5L744.5 269.9L744.2 272.0L740.9 271.6ZM798.2 276.0L801.6 276.4L801.2 279.5L797.9 279.1ZM693.9 264.6L702.2 265.7L702.0 267.1L693.7 265.8ZM733.5 269.8L741.9 270.9L741.6 273.0L733.3 271.7ZM748.4 271.7L751.8 272.2L751.5 274.5L748.1 273.9ZM765.8 274.0L769.1 274.5L768.8 277.0L765.4 276.5ZM788.1 277.0L793.9 277.7L793.5 280.7L787.7 279.9ZM686.4 263.9L689.8 264.4L689.6 265.6L686.2 265.0ZM693.8 265.0L697.2 265.5L697.0 266.8L693.6 266.3ZM703.7 266.5L712.0 267.7L711.8 269.3L703.5 267.9ZM733.4 270.9L736.7 271.4L736.4 273.4L733.1 272.9ZM738.3 271.7L741.7 272.2L741.4 274.3L738.0 273.7ZM780.4 278.0L783.7 278.5L783.3 281.3L779.9 280.7ZM681.4 263.4L694.6 265.6L694.4 266.9L681.2 264.4ZM733.2 272.1L736.6 272.6L736.2 274.6L732.9 274.0ZM738.1 272.9L741.5 273.5L741.1 275.6L737.8 274.9ZM701.0 267.3L704.4 267.9L704.1 269.4L700.8 268.7ZM713.3 269.6L716.7 270.2L716.4 271.9L713.0 271.2ZM720.7 271.0L729.0 272.5L728.6 274.3L720.4 272.7ZM740.4 274.6L743.7 275.2L743.3 277.3L740.0 276.7ZM747.8 276.0L751.1 276.6L750.7 278.8L747.3 278.1ZM700.9 267.9L706.7 269.1L706.4 270.5L700.7 269.3ZM720.5 271.9L723.9 272.6L723.5 274.3L720.2 273.6ZM727.9 273.4L736.1 275.1L735.7 277.0L727.5 275.2ZM737.7 275.4L741.0 276.0L740.6 278.1L737.3 277.4ZM747.5 277.4L760.6 280.0L760.1 282.4L747.0 279.5ZM762.2 280.4L768.0 281.5L767.4 284.1L761.7 282.8ZM772.0 282.4L775.3 283.0L774.8 285.7L771.4 285.0ZM784.2 284.8L792.5 286.5L791.8 289.5L783.6 287.7ZM794.0 286.8L799.8 288.0L799.2 291.1L793.4 289.8ZM700.8 268.5L709.0 270.3L708.7 271.8L700.5 269.8ZM720.4 272.8L723.7 273.5L723.3 275.3L720.0 274.5ZM727.7 274.4L735.9 276.2L735.4 278.2L727.3 276.3ZM739.9 277.1L743.2 277.9L742.7 280.0L739.4 279.2ZM747.2 278.8L753.0 280.0L752.4 282.3L746.7 280.9ZM783.8 286.9L787.1 287.6L786.5 290.5L783.2 289.7ZM698.3 268.5L704.0 269.8L703.7 271.3L697.9 269.8ZM710.4 271.4L713.7 272.2L713.3 273.8L710.0 272.9ZM720.1 273.7L733.2 276.9L732.7 278.8L719.7 275.4ZM746.9 280.2L755.1 282.1L754.5 284.4L746.4 282.3ZM780.9 288.3L784.2 289.1L783.5 291.9L780.2 291.1ZM785.8 289.5L789.1 290.3L788.4 293.2L785.1 292.3ZM686.0 265.9L691.8 267.4L691.4 268.6L685.7 267.0ZM700.6 269.6L703.9 270.5L703.5 271.9L700.2 271.0ZM710.2 272.1L713.5 273.0L713.1 274.6L709.8 273.7ZM715.1 273.4L720.8 274.9L720.3 276.6L714.7 275.0ZM722.3 275.3L728.1 276.7L727.6 278.6L721.9 277.0ZM746.6 281.5L749.8 282.4L749.3 284.6L746.0 283.7ZM758.7 284.7L761.9 285.5L761.3 287.9L758.0 287.0ZM775.6 289.0L778.9 289.9L778.2 292.6L774.9 291.7ZM780.4 290.3L783.7 291.1L783.0 293.9L779.7 293.0ZM790.1 292.8L793.4 293.6L792.6 296.6L789.3 295.7ZM710.1 272.9L713.3 273.8L712.9 275.4L709.6 274.4ZM743.8 282.2L747.1 283.1L746.4 285.3L743.2 284.3ZM748.6 283.6L751.9 284.5L751.2 286.7L748.0 285.8ZM777.5 291.6L785.6 293.8L784.8 296.7L776.7 294.3ZM695.5 269.4L701.1 271.0L700.7 272.4L695.1 270.6ZM743.4 283.6L746.7 284.5L746.0 286.7L742.8 285.6ZM748.2 285.0L751.5 286.0L750.8 288.2L747.5 287.2ZM781.8 294.9L785.0 295.9L784.2 298.7L780.9 297.7ZM700.1 271.4L703.3 272.4L702.9 273.8L699.7 272.7ZM707.2 273.6L712.9 275.4L712.4 276.9L706.8 275.1ZM716.8 276.6L720.0 277.6L719.5 279.3L716.3 278.2ZM752.5 287.9L755.8 288.9L755.0 291.2L751.8 290.1ZM776.4 295.4L779.6 296.4L778.8 299.1L775.5 298.1ZM695.2 270.3L705.5 273.8L705.0 275.2L694.7 271.6ZM752.1 289.4L755.3 290.5L754.5 292.7L751.3 291.6ZM768.7 294.9L771.9 296.0L771.0 298.6L767.8 297.4ZM785.3 300.5L788.5 301.6L787.5 304.4L784.3 303.3ZM790.0 302.1L793.2 303.1L792.2 306.1L789.0 305.0ZM704.4 274.2L710.0 276.1L709.5 277.6L703.9 275.5ZM751.6 290.9L754.8 292.0L754.0 294.3L750.8 293.1ZM765.7 295.9L768.9 297.0L768.0 299.5L764.8 298.3ZM791.6 305.0L794.8 306.2L793.8 309.1L790.6 307.9ZM701.9 273.9L714.4 278.6L713.8 280.2L701.4 275.3ZM718.3 280.1L721.5 281.2L720.8 282.9L717.6 281.7ZM725.3 282.7L728.5 283.9L727.8 285.7L724.6 284.4ZM737.0 287.1L747.2 290.9L746.4 293.0L736.3 289.0ZM772.1 300.2L775.3 301.4L774.3 304.0L771.1 302.8ZM786.2 305.4L789.4 306.6L788.3 309.5L785.1 308.3ZM694.7 271.8L700.2 273.9L699.6 275.2L694.2 273.0ZM708.6 277.3L711.8 278.5L711.2 280.0L708.0 278.7ZM713.3 279.1L718.8 281.3L718.1 282.9L712.7 280.6ZM727.2 284.6L730.4 285.8L729.7 287.7L726.5 286.4ZM736.5 288.3L739.7 289.5L738.9 291.5L735.8 290.2ZM692.2 271.3L695.3 272.6L694.8 273.8L691.7 272.4ZM696.8 273.2L699.9 274.5L699.4 275.8L696.3 274.4ZM706.0 277.0L725.3 285.0L724.6 286.8L705.4 278.4ZM726.8 285.6L730.0 286.9L729.2 288.8L726.1 287.4ZM736.1 289.5L741.5 291.7L740.7 293.7L735.2 291.4ZM759.2 299.0L762.3 300.3L761.3 302.7L758.2 301.4ZM763.8 300.9L766.9 302.2L765.9 304.7L762.8 303.4ZM770.7 303.8L773.9 305.1L772.8 307.7L769.6 306.3ZM673.6 263.8L681.4 267.1L680.9 268.1L673.3 264.6ZM685.1 268.7L688.2 270.1L687.8 271.2L684.7 269.8ZM692.0 271.7L702.0 276.1L701.4 277.4L691.5 272.9ZM737.9 291.7L743.3 294.0L742.4 296.1L737.0 293.6ZM680.4 267.0L683.5 268.4L683.1 269.4L680.0 267.9ZM698.6 275.3L701.7 276.7L701.1 278.0L698.1 276.5ZM737.3 292.9L742.7 295.3L741.7 297.4L736.4 294.8ZM751.8 303.1L759.4 306.9L758.2 309.2L750.7 305.3ZM760.8 307.6L770.6 312.4L769.3 314.9L759.6 309.9ZM726.7 291.9L729.7 293.4L728.8 295.2L725.8 293.6ZM715.2 286.9L718.2 288.6L717.3 290.1L714.3 288.5ZM721.8 290.5L724.8 292.1L723.8 293.8L720.9 292.2ZM728.4 294.1L731.4 295.7L730.4 297.5L727.4 295.8ZM741.6 301.3L744.5 302.9L743.4 304.9L740.5 303.2ZM745.9 303.6L748.9 305.3L747.8 307.4L744.8 305.7ZM723.4 292.7L726.4 294.4L725.4 296.1L722.5 294.3ZM727.8 295.2L730.8 296.8L729.7 298.6L726.8 296.9ZM738.7 301.3L741.6 303.0L740.5 305.0L737.6 303.2ZM747.4 306.2L750.3 307.9L749.1 310.0L746.2 308.3ZM682.0 269.6L684.9 271.3L684.3 272.3L681.4 270.5ZM686.3 272.1L689.2 273.8L688.6 274.9L685.7 273.1ZM718.6 291.1L723.7 294.1L722.7 295.8L717.6 292.7ZM738.0 302.5L740.9 304.3L739.7 306.2L736.8 304.4ZM746.6 307.6L749.5 309.3L748.2 311.5L745.4 309.7ZM673.3 264.6L676.2 266.3L675.7 267.2L672.8 265.3ZM677.5 267.2L684.7 271.6L684.1 272.6L677.0 268.0ZM686.1 272.4L689.0 274.2L688.3 275.2L685.5 273.4ZM707.4 285.5L710.3 287.3L709.4 288.7L706.5 286.8ZM713.8 289.4L716.7 291.2L715.7 292.7L712.9 290.9ZM724.4 295.9L729.5 299.0L728.4 300.8L723.4 297.6ZM737.2 303.8L746.5 309.5L745.3 311.5L736.1 305.7ZM754.3 314.2L757.2 316.0L755.8 318.2L752.9 316.4ZM725.9 298.3L730.9 301.4L729.8 303.2L724.9 299.9ZM740.7 307.7L743.6 309.5L742.3 311.5L739.5 309.6ZM689.9 275.8L692.7 277.7L692.0 278.8L689.2 276.9ZM725.3 299.3L728.1 301.2L727.0 302.9L724.2 300.9ZM673.1 264.9L675.9 266.8L675.4 267.6L672.6 265.6ZM687.5 274.8L690.4 276.7L689.6 277.8L686.8 275.8ZM693.7 279.0L696.5 281.0L695.7 282.1L693.0 280.1ZM765.8 328.6L768.6 330.5L767.0 332.9L764.2 331.0ZM675.1 266.4L679.9 269.8L679.3 270.7L674.5 267.2ZM713.8 294.0L716.5 296.0L715.5 297.5L712.7 295.5ZM762.6 328.9L765.4 330.8L763.7 333.2L761.0 331.1ZM677.0 268.1L681.8 271.5L681.1 272.4L676.4 268.8ZM685.1 274.0L687.8 276.0L687.0 277.0L684.4 274.9ZM695.1 281.4L697.8 283.4L697.0 284.6L694.3 282.5ZM713.2 294.8L717.9 298.3L716.8 299.8L712.1 296.2ZM759.4 329.0L762.2 331.0L760.4 333.3L757.7 331.2ZM763.4 332.0L766.2 334.0L764.4 336.4L761.7 334.3ZM672.9 265.2L687.5 276.4L686.8 277.3L672.4 265.9ZM692.8 280.4L695.5 282.5L694.6 283.6L691.9 281.4ZM722.5 303.2L725.2 305.3L723.9 306.9L721.3 304.8ZM674.8 266.8L693.1 281.4L692.3 282.5L674.2 267.5ZM731.6 312.0L736.2 315.6L734.7 317.4L730.2 313.7ZM672.8 265.4L683.2 273.9L682.4 274.8L672.2 266.0ZM688.2 278.1L690.9 280.2L690.0 281.3L687.4 279.0ZM692.1 281.3L694.7 283.4L693.8 284.5L691.2 282.3ZM705.6 292.4L708.2 294.5L707.1 295.9L704.5 293.7ZM750.0 329.0L752.6 331.1L750.8 333.2L748.3 331.0ZM672.7 265.5L684.8 275.8L684.0 276.7L672.1 266.1ZM686.0 276.8L694.3 283.9L693.4 285.0L685.2 277.7ZM701.3 289.8L703.8 292.0L702.8 293.2L700.2 291.0ZM707.0 294.7L709.5 296.9L708.4 298.2L705.8 296.0ZM739.3 322.3L743.8 326.1L742.1 328.0L737.7 324.1ZM756.4 336.9L759.0 339.1L757.1 341.3L754.5 339.0ZM760.2 340.1L762.8 342.3L760.8 344.6L758.3 342.3ZM672.6 265.6L679.0 271.1L678.2 271.9L672.1 266.2ZM680.1 272.2L684.6 276.1L683.8 277.0L679.4 273.0ZM685.8 277.1L697.7 287.7L696.7 288.8L685.0 278.0ZM700.8 290.4L703.3 292.6L702.2 293.9L699.7 291.6ZM706.4 295.4L708.9 297.6L707.7 298.9L705.2 296.6ZM740.1 325.2L748.2 332.4L746.4 334.4L738.4 327.0ZM749.4 333.5L753.9 337.4L752.0 339.5L747.6 335.5ZM672.6 265.6L680.6 273.0L679.9 273.8L672.0 266.3ZM683.7 275.8L689.9 281.4L688.9 282.4L682.9 276.6ZM692.9 284.2L702.8 293.3L701.6 294.5L691.9 285.2ZM703.9 294.3L706.4 296.6L705.3 297.9L702.8 295.6ZM733.4 321.4L737.8 325.4L736.1 327.2L731.8 323.1ZM744.5 331.5L747.0 333.8L745.2 335.8L742.7 333.4ZM672.5 265.7L675.0 268.0L674.3 268.8L671.9 266.4ZM678.0 270.9L680.4 273.2L679.7 274.0L677.2 271.6ZM683.4 276.0L689.5 281.8L688.6 282.8L682.6 276.9ZM692.5 284.7L700.4 292.1L699.3 293.3L691.5 285.6ZM730.6 320.8L733.0 323.1L731.4 324.8L729.0 322.4ZM677.8 271.1L680.2 273.4L679.4 274.2L677.1 271.8ZM692.1 285.1L699.8 292.7L698.7 293.8L691.1 286.1ZM717.0 309.6L719.5 312.0L718.0 313.5L715.6 311.0ZM677.6 271.2L680.0 273.7L679.2 274.4L676.9 272.0ZM691.6 285.5L694.0 287.9L693.0 288.9L690.7 286.5ZM700.4 294.4L702.8 296.8L701.6 298.0L699.3 295.5ZM709.2 303.3L711.6 305.8L710.2 307.1L707.9 304.6ZM721.4 315.8L725.6 320.0L724.0 321.6L719.9 317.3ZM679.2 273.2L681.5 275.7L680.7 276.5L678.4 274.0ZM694.7 289.6L697.0 292.0L695.9 293.1L693.6 290.6ZM679.0 273.4L683.0 277.8L682.1 278.6L678.2 274.1ZM689.1 284.5L691.4 287.0L690.4 287.9L688.1 285.4ZM672.1 266.1L681.0 276.2L680.1 276.9L671.5 266.7ZM692.0 288.6L697.6 294.9L696.4 295.9L690.9 289.5ZM703.6 301.7L705.9 304.3L704.5 305.4L702.3 302.9ZM672.0 266.2L677.5 272.6L676.7 273.3L671.4 266.8ZM678.5 273.8L682.4 278.3L681.5 279.1L677.7 274.5ZM686.7 283.3L690.5 287.8L689.4 288.7L685.7 284.2ZM704.5 304.2L706.7 306.8L705.3 308.0L703.2 305.4ZM671.9 266.3L674.1 268.9L673.4 269.5L671.3 266.9ZM675.1 270.2L682.1 278.6L681.2 279.3L674.4 270.8ZM684.7 281.7L686.9 284.3L685.8 285.2L683.7 282.5ZM687.9 285.6L690.0 288.2L688.9 289.1L686.8 286.4ZM697.4 297.2L699.6 299.8L698.3 300.8L696.2 298.2ZM702.2 303.0L707.5 309.4L706.1 310.6L700.8 304.0ZM671.9 266.4L677.1 272.9L676.3 273.6L671.2 266.9ZM684.3 282.0L694.2 294.5L693.0 295.4L683.3 282.8ZM703.0 305.5L705.1 308.2L703.7 309.3L701.6 306.6ZM673.3 268.4L676.9 273.1L676.1 273.8L672.6 269.0ZM684.0 282.3L686.1 285.0L685.0 285.8L683.0 283.1ZM687.0 286.3L690.6 291.0L689.4 291.8L685.9 287.1ZM700.7 304.1L704.3 308.8L702.8 309.9L699.3 305.2ZM685.1 284.6L688.6 289.4L687.5 290.2L684.0 285.4ZM700.0 304.7L702.0 307.4L700.5 308.5L698.6 305.7ZM683.2 282.9L685.2 285.6L684.1 286.4L682.2 283.6ZM687.6 289.0L689.6 291.8L688.4 292.6L686.5 289.8ZM681.4 281.1L683.4 283.9L682.3 284.6L680.4 281.8ZM689.9 293.5L691.9 296.3L690.6 297.1L688.7 294.3ZM675.6 273.0L677.5 275.8L676.5 276.4L674.7 273.6ZM679.7 279.3L681.6 282.1L680.6 282.8L678.7 279.9ZM690.8 295.9L695.4 302.9L694.0 303.8L689.5 296.8ZM675.4 273.1L679.9 280.2L678.9 280.9L674.5 273.7ZM691.5 298.4L693.3 301.3L691.9 302.2L690.2 299.3ZM671.2 266.9L673.1 269.8L672.2 270.3L670.5 267.3ZM675.2 273.3L679.6 280.4L678.5 281.0L674.3 273.8ZM671.1 266.9L672.9 269.9L672.0 270.4L670.4 267.4ZM673.7 271.3L676.7 276.3L675.7 276.9L672.8 271.7ZM678.8 279.9L680.5 282.8L679.4 283.4L677.8 280.4ZM683.9 288.5L685.6 291.4L684.4 292.1L682.7 289.2ZM674.8 273.5L680.1 283.0L679.0 283.6L673.9 274.0ZM674.5 273.7L678.6 281.0L677.5 281.6L673.6 274.1ZM679.3 282.4L685.7 294.2L684.4 294.9L678.3 283.0ZM672.0 269.3L678.2 281.2L677.2 281.8L671.2 269.8ZM682.4 289.3L684.0 292.3L682.7 293.0L681.2 289.9ZM673.0 271.7L674.5 274.7L673.6 275.2L672.1 272.1ZM686.4 298.5L687.9 301.5L686.5 302.2L685.0 299.2ZM673.9 274.0L677.5 281.6L676.4 282.1L673.0 274.4ZM683.6 294.3L685.1 297.4L683.7 298.0L682.3 294.9ZM674.7 281.8L675.8 285.0L674.6 285.4L673.6 282.2ZM670.6 270.0L672.4 275.6L671.3 275.9L669.7 270.3ZM672.8 277.2L674.6 282.8L673.5 283.1L671.8 277.5ZM672.6 277.3L674.3 282.9L673.1 283.2L671.5 277.5ZM670.3 270.1L673.9 283.0L672.7 283.3L669.4 270.3ZM673.9 284.7L674.8 288.0L673.5 288.3L672.7 285.0ZM669.7 280.4L670.1 283.8L668.9 283.9L668.6 280.5ZM620.9 275.3L617.7 276.2L617.2 274.5L620.5 273.6ZM639.9 268.7L631.7 270.8L631.4 269.3L639.6 267.5ZM581.6 283.2L578.3 284.0L577.8 281.6L581.1 280.8ZM604.9 272.6L601.6 273.2L601.3 271.2L604.6 270.7ZM638.7 274.4L635.6 275.8L635.1 274.5L638.2 273.2ZM622.7 281.4L619.6 282.8L618.9 281.2L622.0 279.9ZM604.3 289.4L592.0 294.7L591.2 292.7L603.6 287.6ZM588.3 296.3L585.2 297.7L584.3 295.6L587.4 294.3ZM576.8 301.3L573.7 302.7L572.7 300.4L575.9 299.1Z"/>
<path fill="#ff7800" d="M753.6 223.6L756.7 222.3L757.7 224.6L754.5 225.9ZM705.9 254.7L709.3 254.1L709.5 255.6L706.2 256.1ZM706.1 255.3L709.4 254.8L709.6 256.4L706.3 256.8ZM706.2 256.0L709.5 255.6L709.7 257.1L706.3 257.5ZM691.5 260.1L694.9 259.9L694.9 261.2L691.5 261.3ZM711.5 259.2L722.4 258.7L722.4 260.5L711.5 260.7ZM729.0 258.4L732.4 258.3L732.4 260.2L729.0 260.3ZM763.9 256.9L767.3 256.7L767.4 259.3L764.0 259.4ZM694.0 260.4L704.9 260.1L704.9 261.6L694.0 261.7ZM764.0 258.6L769.9 258.4L769.9 261.0L764.0 261.1ZM754.0 260.3L757.4 260.3L757.4 262.7L754.0 262.7ZM754.0 261.9L757.4 261.9L757.4 264.3L754.0 264.2ZM769.0 262.0L772.4 262.0L772.4 264.6L769.0 264.6ZM754.0 263.4L757.4 263.5L757.3 265.8L753.9 265.7ZM764.0 263.6L769.9 263.8L769.8 266.4L763.9 266.1ZM714.0 263.1L717.4 263.3L717.3 265.0L713.9 264.7ZM759.0 265.1L762.4 265.2L762.2 267.7L758.9 267.5ZM764.0 265.3L769.9 265.6L769.7 268.2L763.8 267.8ZM699.0 263.0L702.4 263.2L702.3 264.6L698.9 264.4ZM726.5 264.7L732.4 265.1L732.2 267.0L726.3 266.5ZM768.9 267.3L772.3 267.5L772.1 270.1L768.7 269.9ZM694.0 263.2L699.9 263.6L699.8 265.0L693.9 264.4ZM713.9 264.8L732.3 266.2L732.1 268.1L713.8 266.4ZM786.2 270.4L789.6 270.7L789.3 273.6L786.0 273.3ZM694.0 263.7L699.8 264.2L699.7 265.6L693.8 264.9ZM726.3 266.8L732.2 267.3L732.0 269.3L726.1 268.6ZM738.8 268.0L742.1 268.3L741.9 270.4L738.5 270.0ZM751.2 269.2L754.6 269.5L754.3 271.8L751.0 271.4ZM788.5 272.8L791.9 273.1L791.6 276.0L788.2 275.7ZM706.3 265.5L709.7 265.9L709.5 267.4L706.2 267.0ZM731.2 268.4L742.0 269.6L741.8 271.7L730.9 270.3ZM748.6 270.3L751.9 270.7L751.7 273.0L748.3 272.5ZM756.0 271.2L761.9 271.8L761.6 274.3L755.7 273.5ZM763.5 272.0L774.3 273.3L774.0 275.9L763.2 274.5ZM788.3 274.9L794.2 275.5L793.8 278.5L788.0 277.8ZM723.6 268.5L734.4 269.9L734.1 271.9L723.4 270.3ZM750.9 272.1L754.3 272.5L753.9 274.8L750.6 274.3ZM763.3 273.7L766.6 274.1L766.3 276.7L762.9 276.2ZM768.2 274.4L774.1 275.1L773.7 277.8L767.9 276.9ZM723.5 269.5L734.3 271.1L734.0 273.0L723.2 271.2ZM735.8 271.3L739.2 271.8L738.9 273.9L735.5 273.3ZM750.7 273.5L754.0 274.0L753.7 276.3L750.3 275.8ZM763.0 275.4L776.3 277.4L775.9 280.0L762.7 277.8ZM711.0 268.4L714.4 268.9L714.1 270.5L710.7 269.9ZM723.3 270.4L729.2 271.4L728.8 273.3L723.0 272.2ZM730.7 271.7L734.1 272.2L733.7 274.2L730.4 273.6ZM735.7 272.5L739.0 273.1L738.7 275.1L735.3 274.5ZM750.5 275.0L753.8 275.5L753.4 277.8L750.1 277.2ZM760.3 276.6L768.6 278.0L768.2 280.6L759.9 279.0ZM770.2 278.3L776.0 279.3L775.5 281.9L769.7 280.9ZM715.8 270.0L721.6 271.1L721.3 272.9L715.5 271.7ZM730.5 272.8L736.4 273.9L736.0 275.8L730.2 274.7ZM737.9 274.1L741.3 274.8L740.9 276.8L737.5 276.2ZM750.2 276.4L756.0 277.5L755.6 279.8L749.8 278.6ZM760.0 278.2L768.3 279.8L767.8 282.3L759.6 280.6ZM769.9 280.1L773.2 280.7L772.7 283.3L769.4 282.6ZM774.8 281.0L780.6 282.1L780.1 284.8L774.3 283.6ZM723.0 272.4L728.8 273.6L728.4 275.4L722.6 274.1ZM735.2 274.9L738.6 275.5L738.1 277.6L734.8 276.8ZM767.1 281.4L772.9 282.5L772.3 285.1L766.6 283.9ZM779.3 283.8L785.1 285.0L784.5 287.9L778.8 286.6ZM722.8 273.4L728.6 274.6L728.1 276.5L722.4 275.1ZM735.0 276.1L740.8 277.3L740.3 279.4L734.5 278.0ZM778.9 285.8L784.7 287.1L784.0 289.9L778.3 288.5ZM786.3 287.4L792.0 288.7L791.3 291.6L785.6 290.3ZM732.3 276.6L747.8 280.4L747.2 282.5L731.8 278.5ZM707.8 271.5L711.1 272.4L710.7 273.9L707.4 273.0ZM712.7 272.8L716.0 273.6L715.5 275.2L712.2 274.3ZM719.9 274.6L723.2 275.5L722.8 277.2L719.5 276.3ZM727.2 276.5L730.5 277.4L730.0 279.2L726.7 278.3ZM734.4 278.4L740.2 279.9L739.6 281.9L733.9 280.3ZM744.1 280.9L747.4 281.8L746.8 283.9L743.6 283.0ZM765.9 286.5L769.2 287.4L768.5 289.9L765.2 289.0ZM782.9 290.9L786.1 291.8L785.4 294.6L782.1 293.7ZM700.4 270.2L703.7 271.1L703.3 272.5L700.0 271.5ZM707.6 272.2L710.9 273.1L710.5 274.7L707.2 273.7ZM741.4 281.6L744.6 282.5L744.0 284.6L740.8 283.6ZM746.2 282.9L749.5 283.8L748.8 286.0L745.6 285.0ZM784.7 293.6L788.0 294.5L787.2 297.4L783.9 296.4ZM700.3 270.8L705.9 272.5L705.5 273.9L699.9 272.1ZM707.4 272.9L710.7 273.9L710.2 275.4L707.0 274.4ZM741.0 282.9L744.3 283.8L743.6 285.9L740.4 284.9ZM745.8 284.3L749.1 285.2L748.4 287.4L745.2 286.4ZM779.4 294.2L782.6 295.2L781.8 298.0L778.5 296.9ZM784.2 295.6L787.4 296.6L786.5 299.5L783.3 298.4ZM702.5 272.1L705.7 273.1L705.3 274.6L702.0 273.5ZM750.2 287.1L753.4 288.2L752.7 290.4L749.5 289.3ZM778.8 296.2L784.4 297.9L783.5 300.7L777.9 298.9ZM788.3 299.2L791.6 300.2L790.6 303.1L787.4 302.0ZM704.7 273.5L710.3 275.4L709.7 276.9L704.2 274.9ZM771.0 295.7L783.7 300.0L782.8 302.8L770.2 298.3ZM723.3 280.8L726.5 282.0L725.9 283.7L722.7 282.6ZM749.2 290.0L752.4 291.1L751.6 293.4L748.4 292.2ZM768.1 296.7L773.6 298.7L772.7 301.3L767.2 299.2ZM784.6 302.5L787.8 303.7L786.7 306.5L783.6 305.3ZM713.6 278.3L719.1 280.4L718.5 282.0L713.0 279.8ZM727.6 283.6L730.8 284.7L730.1 286.6L726.9 285.3ZM699.3 273.6L709.5 277.6L708.9 279.1L698.8 274.9ZM729.6 285.5L737.4 288.6L736.6 290.6L728.8 287.3ZM699.1 274.2L706.9 277.4L706.3 278.8L698.6 275.4ZM729.1 286.6L736.9 289.8L736.1 291.8L728.4 288.4ZM761.5 300.0L764.6 301.3L763.6 303.7L760.5 302.4ZM701.2 275.7L704.3 277.1L703.7 278.4L700.6 277.0ZM705.8 277.7L711.2 280.0L710.5 281.5L705.1 279.1ZM724.1 285.7L729.5 288.0L728.7 289.8L723.3 287.4ZM735.6 290.7L738.7 292.0L737.8 294.0L734.7 292.6ZM742.4 293.7L745.6 295.0L744.6 297.1L741.5 295.7ZM673.6 263.9L681.3 267.3L680.8 268.3L673.2 264.7ZM682.7 268.0L692.6 272.5L692.1 273.7L682.3 269.0ZM735.0 291.8L738.1 293.3L737.2 295.2L734.2 293.7ZM773.7 309.5L776.8 310.9L775.6 313.5L772.5 312.0ZM778.3 311.5L783.6 314.0L782.4 316.7L777.0 314.2ZM673.6 264.0L681.2 267.6L680.7 268.5L673.2 264.8ZM752.6 301.6L760.1 305.2L759.0 307.6L751.5 303.8ZM763.8 307.0L775.9 312.8L774.7 315.4L762.7 309.4ZM673.5 264.1L678.8 266.7L678.3 267.6L673.1 264.9ZM718.3 286.4L723.6 289.0L722.7 290.7L717.5 288.0ZM769.7 312.0L777.3 315.8L775.9 318.4L768.5 314.5ZM706.8 281.5L712.0 284.2L711.2 285.7L706.0 282.9ZM717.8 287.3L727.5 292.3L726.6 294.0L717.0 288.8ZM728.9 293.0L731.9 294.6L731.0 296.4L728.0 294.8ZM742.2 300.0L751.9 305.0L750.8 307.2L741.2 302.0ZM691.0 273.8L696.2 276.6L695.5 277.8L690.4 274.9ZM713.0 285.7L716.0 287.4L715.1 288.9L712.2 287.2ZM730.6 295.3L733.6 296.9L732.5 298.8L729.6 297.1ZM739.4 300.1L742.3 301.7L741.2 303.7L738.3 302.0ZM748.1 304.8L751.1 306.5L749.9 308.6L747.0 306.9ZM684.3 270.5L687.2 272.2L686.6 273.2L683.7 271.5ZM688.6 273.0L693.8 275.9L693.1 277.0L688.0 274.0ZM712.6 286.5L715.5 288.2L714.6 289.7L711.7 288.0ZM725.6 293.9L728.6 295.6L727.6 297.3L724.6 295.6ZM730.0 296.4L732.9 298.1L731.9 299.9L728.9 298.2ZM736.5 300.1L739.5 301.7L738.3 303.7L735.4 302.0ZM749.6 307.5L752.5 309.1L751.3 311.3L748.3 309.6ZM673.3 264.5L682.7 270.0L682.2 271.0L672.9 265.2ZM688.4 273.4L691.4 275.1L690.7 276.2L687.8 274.4ZM712.1 287.3L715.0 289.0L714.1 290.6L711.2 288.8ZM722.9 293.7L725.8 295.4L724.8 297.1L721.9 295.3ZM727.2 296.2L732.3 299.2L731.2 301.0L726.2 297.9ZM735.8 301.3L738.7 303.0L737.6 304.9L734.7 303.1ZM748.7 308.9L758.1 314.4L756.8 316.7L747.5 311.0ZM675.4 265.9L678.3 267.6L677.8 268.5L674.9 266.7ZM688.2 273.7L691.1 275.5L690.4 276.6L687.6 274.8ZM709.5 286.8L714.6 289.9L713.6 291.4L708.7 288.2ZM720.2 293.3L725.2 296.4L724.2 298.1L719.2 294.9ZM728.7 298.5L733.7 301.6L732.6 303.5L727.6 300.3ZM745.8 309.0L748.7 310.8L747.4 312.9L744.5 311.0ZM756.4 315.5L759.3 317.3L757.9 319.6L755.0 317.7ZM673.2 264.7L686.7 273.2L686.0 274.2L672.7 265.4ZM690.1 275.4L693.0 277.2L692.2 278.4L689.4 276.5ZM696.4 279.5L699.3 281.3L698.5 282.5L695.7 280.6ZM707.0 286.2L709.8 288.0L708.9 289.4L706.1 287.5ZM715.4 291.5L726.7 298.7L725.6 300.4L714.4 293.0ZM738.6 306.3L741.5 308.1L740.2 310.1L737.4 308.2ZM759.7 319.8L764.7 322.9L763.1 325.3L758.2 322.0ZM768.1 325.1L771.0 327.0L769.4 329.4L766.6 327.5ZM673.2 264.8L678.1 268.0L677.5 268.9L672.7 265.5ZM691.9 277.2L696.9 280.5L696.1 281.6L691.2 278.3ZM717.0 293.8L719.8 295.6L718.7 297.2L715.9 295.3ZM721.1 296.5L726.1 299.8L724.9 301.5L720.1 298.1ZM727.4 300.7L730.2 302.5L729.0 304.3L726.2 302.4ZM739.9 308.9L742.7 310.8L741.4 312.8L738.6 310.8ZM758.7 321.4L763.6 324.6L762.0 326.9L757.1 323.6ZM764.9 325.5L769.8 328.7L768.2 331.2L763.3 327.8ZM675.2 266.3L682.1 271.0L681.5 272.0L674.6 267.1ZM702.0 284.7L704.8 286.6L703.9 287.9L701.1 285.9ZM708.1 289.0L713.0 292.3L712.0 293.7L707.2 290.3ZM714.3 293.2L719.2 296.5L718.1 298.1L713.3 294.7ZM722.6 298.9L727.4 302.2L726.2 303.9L721.4 300.5ZM755.5 321.5L762.5 326.3L760.8 328.6L754.0 323.7ZM763.8 327.2L766.6 329.1L764.9 331.5L762.2 329.5ZM767.9 330.0L770.7 331.9L769.0 334.4L766.2 332.4ZM679.2 269.3L681.9 271.3L681.3 272.2L678.6 270.2ZM695.4 281.0L702.3 285.8L701.4 287.1L694.6 282.1ZM711.7 292.6L714.5 294.5L713.4 296.0L710.7 294.0ZM717.8 296.9L720.6 298.9L719.5 300.5L716.7 298.4ZM758.5 326.0L763.4 329.4L761.7 331.7L756.9 328.2ZM681.0 271.0L685.8 274.5L685.1 275.5L680.4 271.9ZM697.1 282.9L699.9 284.9L698.9 286.1L696.3 284.1ZM757.4 327.5L760.1 329.6L758.5 331.8L755.8 329.7ZM765.4 333.5L768.2 335.5L766.4 337.9L763.7 335.8ZM694.8 281.9L697.5 284.0L696.6 285.1L693.9 283.0ZM714.6 297.1L717.3 299.2L716.1 300.7L713.5 298.6ZM718.6 300.2L723.2 303.8L722.0 305.4L717.4 301.7ZM724.5 304.7L727.2 306.8L725.9 308.5L723.2 306.4ZM758.2 330.6L760.9 332.7L759.2 334.9L756.5 332.8ZM692.4 280.8L695.1 282.9L694.2 284.0L691.6 281.9ZM714.0 297.9L716.6 300.1L715.4 301.5L712.8 299.4ZM717.9 301.1L720.5 303.2L719.3 304.7L716.7 302.5ZM725.7 307.3L728.4 309.4L727.0 311.1L724.4 308.9ZM747.2 324.4L749.9 326.5L748.2 328.6L745.6 326.4ZM703.7 290.8L706.3 293.0L705.2 294.2L702.6 292.0ZM707.5 294.0L710.2 296.1L709.0 297.5L706.4 295.3ZM719.1 303.5L723.7 307.3L722.3 308.9L717.8 305.0ZM730.7 313.1L737.2 318.4L735.6 320.2L729.3 314.8ZM740.3 321.0L744.9 324.8L743.2 326.7L738.8 322.9ZM751.9 330.6L754.5 332.7L752.7 334.8L750.2 332.6ZM757.7 335.3L760.3 337.5L758.4 339.7L755.9 337.5ZM761.5 338.5L764.2 340.7L762.3 343.0L759.7 340.7ZM693.6 283.3L701.9 290.4L700.9 291.6L692.7 284.4ZM731.7 315.8L736.2 319.6L734.6 321.4L730.2 317.5ZM737.4 320.7L740.0 322.9L738.3 324.7L735.8 322.5ZM743.1 325.5L749.5 331.0L747.7 333.0L741.4 327.4ZM750.7 332.0L755.2 335.8L753.3 338.0L748.9 334.1ZM762.1 341.8L764.7 344.0L762.7 346.3L760.1 344.0ZM697.0 287.1L701.4 291.0L700.4 292.2L696.0 288.2ZM732.6 318.6L740.8 325.8L739.1 327.6L731.0 320.3ZM753.2 336.8L763.2 345.6L761.2 347.9L751.3 338.8ZM705.8 296.0L708.3 298.3L707.1 299.6L704.6 297.3ZM729.7 318.0L734.1 322.0L732.5 323.7L728.2 319.6ZM737.1 324.7L739.6 327.0L737.9 328.9L735.4 326.5ZM742.6 329.8L745.1 332.1L743.4 334.0L740.9 331.7ZM751.9 338.3L754.4 340.6L752.4 342.6L750.0 340.3ZM674.3 267.4L678.6 271.5L677.9 272.3L673.7 268.1ZM699.7 291.5L702.2 293.9L701.1 295.0L698.6 292.7ZM703.4 295.0L705.8 297.3L704.6 298.5L702.2 296.2ZM728.7 319.1L731.2 321.4L729.6 323.1L727.2 320.7ZM732.4 322.5L734.8 324.8L733.2 326.6L730.7 324.2ZM672.4 265.8L674.9 268.2L674.2 268.9L671.8 266.4ZM699.2 292.1L701.6 294.5L700.5 295.6L698.1 293.2ZM708.1 300.9L712.3 305.0L711.0 306.3L706.9 302.1ZM713.5 306.1L717.7 310.2L716.2 311.7L712.1 307.5ZM718.8 311.4L721.2 313.7L719.7 315.2L717.4 312.8ZM725.9 318.4L731.9 324.3L730.3 325.9L724.4 319.9ZM672.4 265.9L674.8 268.3L674.0 269.0L671.7 266.5ZM693.4 287.3L701.0 295.1L699.9 296.2L692.4 288.3ZM707.4 301.6L709.8 304.0L708.5 305.3L706.1 302.8ZM712.7 306.9L715.1 309.3L713.6 310.7L711.3 308.2ZM677.4 271.4L679.8 273.9L679.0 274.6L676.7 272.1ZM691.2 285.9L695.3 290.2L694.2 291.2L690.2 286.9ZM696.4 291.4L714.2 310.1L712.8 311.5L695.3 292.4ZM718.8 314.9L724.5 321.0L722.9 322.6L717.2 316.4ZM672.2 266.1L679.6 274.1L678.8 274.8L671.6 266.6ZM690.8 286.3L696.5 292.5L695.3 293.6L689.8 287.3ZM697.6 293.7L699.9 296.2L698.6 297.3L696.4 294.8ZM700.9 297.4L708.3 305.4L706.9 306.7L699.7 298.5ZM697.0 294.2L704.2 302.4L702.9 303.5L695.8 295.3ZM705.3 303.6L709.2 308.0L707.8 309.2L703.9 304.8ZM706.2 306.1L710.0 310.6L708.5 311.9L704.8 307.3ZM673.5 268.2L675.7 270.8L674.9 271.5L672.8 268.8ZM686.3 283.7L688.5 286.3L687.4 287.1L685.3 284.5ZM721.3 326.1L723.4 328.7L721.6 330.2L719.5 327.5ZM693.7 293.8L698.9 300.3L697.6 301.4L692.5 294.7ZM701.5 303.6L703.6 306.2L702.2 307.3L700.1 304.6ZM696.2 298.2L701.3 304.8L699.9 305.9L694.9 299.2ZM688.1 288.6L693.1 295.4L691.8 296.3L687.0 289.4ZM695.5 298.7L697.5 301.4L696.2 302.4L694.2 299.6ZM698.5 302.7L700.5 305.4L699.1 306.5L697.1 303.7ZM684.7 284.9L688.1 289.7L687.0 290.5L683.6 285.7ZM691.9 295.1L696.8 301.9L695.5 302.9L690.7 296.0ZM682.9 283.2L684.8 286.0L683.7 286.7L681.8 283.9ZM691.4 295.5L696.1 302.4L694.7 303.4L690.1 296.4ZM681.1 281.3L684.4 286.2L683.2 287.0L680.1 282.0ZM686.6 289.7L691.3 296.7L690.0 297.5L685.5 290.4ZM679.4 279.5L683.9 286.5L682.8 287.2L678.4 280.1ZM687.5 292.1L692.0 299.2L690.6 300.0L686.3 292.9ZM679.1 279.7L686.1 291.1L684.9 291.8L678.1 280.3ZM686.9 292.5L692.6 301.7L691.2 302.6L685.7 293.2ZM676.2 275.6L679.2 280.6L678.2 281.2L675.3 276.1ZM680.0 282.0L683.0 287.1L681.9 287.8L679.0 282.6ZM686.4 292.8L690.7 300.0L689.3 300.8L685.2 293.5ZM679.7 282.2L688.8 298.2L687.4 299.0L678.6 282.8ZM685.3 293.4L688.1 298.6L686.7 299.3L684.0 294.1ZM684.7 293.7L686.3 296.7L685.0 297.4L683.5 294.4ZM687.0 298.2L688.6 301.2L687.2 301.9L685.7 298.9ZM674.1 273.9L677.9 281.4L676.8 281.9L673.2 274.3ZM684.2 294.0L685.7 297.1L684.3 297.7L682.9 294.7ZM684.7 296.6L686.1 299.6L684.7 300.3L683.3 297.2ZM675.5 284.2L676.6 287.4L675.4 287.8L674.4 284.6ZM674.4 281.9L675.4 285.2L674.2 285.5L673.2 282.3ZM670.4 270.1L672.8 278.1L671.8 278.4L669.5 270.3ZM674.0 282.0L675.0 285.3L673.8 285.6L672.9 282.4ZM674.3 284.6L675.2 287.8L674.0 288.2L673.1 284.9ZM623.3 274.6L620.1 275.5L619.6 273.9L622.9 273.0ZM647.9 270.4L637.9 274.8L637.4 273.6L647.4 269.4ZM620.4 282.4L603.5 289.7L602.7 287.9L619.7 280.9ZM592.9 294.3L587.4 296.7L586.6 294.6L592.0 292.4ZM583.7 298.3L576.0 301.7L575.0 299.4L582.8 296.2ZM574.5 302.3L571.4 303.7L570.4 301.3L573.6 300.0Z"/>
<path fill="#ff8808" d="M694.0 259.9L697.4 259.8L697.4 261.1L694.0 261.2ZM766.4 256.8L769.8 256.6L769.9 259.2L766.5 259.3ZM709.0 262.9L714.9 263.2L714.8 264.8L708.9 264.4ZM701.5 263.2L717.4 264.1L717.3 265.8L701.4 264.6ZM699.0 263.6L702.4 263.8L702.2 265.3L698.9 264.9ZM698.9 264.1L702.3 264.4L702.2 265.9L698.8 265.5ZM716.4 265.8L727.2 266.8L727.0 268.7L716.2 267.4ZM791.0 273.0L794.4 273.3L794.1 276.3L790.7 275.9ZM701.4 265.0L707.2 265.6L707.1 267.1L701.2 266.3ZM723.7 267.5L732.1 268.5L731.8 270.4L723.5 269.3ZM751.1 270.6L754.4 271.0L754.1 273.3L750.8 272.9ZM761.0 271.8L764.4 272.1L764.1 274.6L760.7 274.2ZM773.4 273.2L779.3 273.8L778.9 276.6L773.1 275.8ZM701.3 265.6L712.1 267.0L711.9 268.5L701.1 266.9ZM753.4 272.4L756.7 272.8L756.4 275.2L753.0 274.7ZM773.2 275.0L776.6 275.5L776.2 278.1L772.8 277.6ZM780.6 276.0L789.0 277.1L788.5 280.0L780.2 278.8ZM711.1 267.6L714.5 268.1L714.2 269.7L710.9 269.2ZM721.0 269.1L724.4 269.6L724.1 271.4L720.7 270.8ZM760.6 275.0L763.9 275.5L763.5 278.0L760.2 277.4ZM777.9 277.6L781.2 278.1L780.8 280.9L777.5 280.3ZM715.9 269.2L724.2 270.6L723.9 272.4L715.7 270.8ZM728.3 271.3L731.6 271.8L731.3 273.7L727.9 273.1ZM757.9 276.2L761.2 276.8L760.8 279.2L757.4 278.6ZM728.1 272.3L731.4 272.9L731.1 274.8L727.7 274.2ZM735.5 273.7L738.8 274.3L738.4 276.3L735.1 275.7ZM755.1 277.3L760.9 278.4L760.5 280.8L754.7 279.6ZM767.4 279.6L770.8 280.2L770.3 282.8L766.9 282.1ZM703.1 269.6L706.4 270.4L706.1 271.9L702.8 271.0ZM708.0 270.8L711.3 271.6L710.9 273.1L707.6 272.3ZM729.6 277.2L732.9 278.0L732.4 279.9L729.1 279.0ZM739.3 279.7L745.0 281.1L744.4 283.3L738.7 281.7ZM702.8 270.9L706.1 271.8L705.7 273.2L702.4 272.3ZM719.7 275.6L727.8 277.8L727.3 279.6L719.2 277.2ZM789.6 294.9L792.8 295.8L792.0 298.8L788.7 297.8ZM705.1 272.2L708.3 273.2L707.9 274.6L704.6 273.6ZM786.6 296.3L789.8 297.3L788.9 300.2L785.7 299.2ZM704.9 272.9L708.1 273.9L707.6 275.4L704.4 274.3ZM738.2 283.4L751.0 287.4L750.3 289.6L737.6 285.4ZM785.9 298.4L789.2 299.4L788.2 302.3L785.0 301.2ZM709.4 275.1L712.6 276.2L712.1 277.7L708.9 276.6ZM749.7 288.6L752.9 289.7L752.2 291.9L749.0 290.8ZM709.2 275.8L712.4 277.0L711.8 278.5L708.6 277.3ZM720.9 280.0L724.1 281.1L723.5 282.9L720.3 281.7ZM772.8 298.4L783.1 302.0L782.1 304.8L771.8 300.9ZM730.0 284.4L737.8 287.4L737.1 289.3L729.3 286.3ZM774.5 301.1L777.7 302.3L776.6 304.9L773.5 303.7ZM773.8 302.9L776.9 304.2L775.9 306.8L772.7 305.5ZM773.0 304.8L776.2 306.1L775.0 308.7L771.9 307.3ZM703.5 276.7L706.6 278.1L706.0 279.5L702.9 278.1ZM710.3 279.7L724.9 286.0L724.2 287.8L709.7 281.2ZM728.7 287.7L736.4 291.0L735.5 292.9L727.9 289.5ZM744.7 294.6L747.9 296.0L746.9 298.1L743.8 296.7ZM770.0 305.6L775.4 308.0L774.2 310.6L768.8 308.1ZM691.8 272.2L699.5 275.6L698.9 276.9L691.3 273.3ZM700.9 276.3L704.0 277.7L703.4 279.1L700.3 277.6ZM716.8 283.6L729.0 289.1L728.2 290.9L716.1 285.1ZM741.9 295.0L745.0 296.4L744.0 298.4L740.9 297.0ZM771.4 308.4L774.5 309.8L773.3 312.4L770.3 311.0ZM680.3 267.2L685.7 269.7L685.2 270.8L679.9 268.1ZM691.6 272.6L694.7 274.0L694.1 275.2L691.1 273.7ZM718.7 285.5L724.0 288.0L723.2 289.7L717.9 287.1ZM759.3 304.9L764.7 307.4L763.5 309.8L758.2 307.2ZM678.0 266.3L685.5 270.0L685.0 271.1L677.6 267.2ZM704.9 279.7L712.4 283.4L711.6 284.9L704.2 281.0ZM716.0 285.3L719.1 286.8L718.3 288.4L715.3 286.8ZM722.8 288.6L725.8 290.1L724.9 291.8L721.9 290.3ZM745.1 299.8L752.7 303.5L751.5 305.7L744.1 301.8ZM673.5 264.2L687.6 271.5L687.0 272.6L673.1 264.9ZM693.4 274.6L696.5 276.1L695.8 277.3L692.8 275.7ZM704.5 280.3L707.6 281.9L706.8 283.3L703.8 281.7ZM711.2 283.8L718.6 287.7L717.8 289.3L710.4 285.3ZM731.1 294.2L734.2 295.8L733.2 297.6L730.2 296.0ZM740.0 298.8L743.0 300.4L742.0 302.4L739.0 300.8ZM751.1 304.6L760.8 309.6L759.5 311.9L750.0 306.7ZM764.4 311.5L769.6 314.2L768.3 316.7L763.1 313.9ZM673.4 264.3L680.8 268.3L680.3 269.2L673.0 265.0ZM688.8 272.6L691.8 274.2L691.2 275.4L688.2 273.7ZM695.4 276.2L698.4 277.8L697.7 279.1L694.8 277.4ZM706.4 282.2L713.8 286.2L713.0 287.7L705.6 283.5ZM732.8 296.5L740.1 300.5L739.1 302.4L731.8 298.3ZM750.3 306.0L753.3 307.6L752.1 309.8L749.2 308.2ZM673.4 264.4L680.7 268.5L680.2 269.4L672.9 265.1ZM682.1 269.3L685.1 271.0L684.5 272.0L681.6 270.2ZM686.4 271.8L689.4 273.4L688.8 274.5L685.9 272.8ZM693.0 275.5L695.9 277.1L695.3 278.3L692.3 276.6ZM710.4 285.3L713.3 287.0L712.5 288.5L709.6 286.7ZM732.1 297.6L737.3 300.5L736.2 302.4L731.1 299.4ZM751.7 308.7L759.0 312.8L757.7 315.1L750.5 310.8ZM690.6 274.6L693.5 276.3L692.8 277.5L689.9 275.7ZM703.5 282.2L708.6 285.2L707.7 286.6L702.7 283.5ZM710.0 286.1L712.9 287.8L712.0 289.2L709.1 287.5ZM725.0 294.9L728.0 296.7L726.9 298.4L724.0 296.6ZM731.5 298.7L736.6 301.7L735.5 303.6L730.4 300.5ZM757.4 314.0L760.3 315.7L758.9 318.0L756.0 316.2ZM690.3 275.0L699.6 280.7L698.9 282.0L689.7 276.1ZM705.3 284.2L708.2 285.9L707.3 287.3L704.4 285.5ZM733.0 301.2L738.0 304.2L736.8 306.1L731.8 303.0ZM747.9 310.3L755.1 314.7L753.7 316.9L746.6 312.4ZM765.0 320.8L770.0 323.8L768.4 326.3L763.5 323.1ZM777.7 328.6L782.8 331.7L781.1 334.3L776.1 331.2ZM685.9 272.7L690.9 275.9L690.2 277.0L685.3 273.7ZM692.2 276.8L697.2 279.9L696.4 281.1L691.5 277.9ZM702.8 283.5L707.7 286.7L706.8 288.0L701.9 284.8ZM709.1 287.5L714.1 290.7L713.1 292.2L708.2 288.9ZM730.2 301.0L733.0 302.8L731.9 304.6L729.0 302.7ZM736.5 305.0L739.4 306.8L738.1 308.7L735.3 306.8ZM742.8 309.0L745.7 310.8L744.4 312.9L741.5 311.0ZM751.3 314.4L756.2 317.6L754.8 319.8L749.9 316.5ZM766.0 323.8L768.9 325.6L767.3 328.0L764.5 326.2ZM677.3 267.6L684.4 272.2L683.7 273.1L676.8 268.4ZM687.8 274.4L690.6 276.3L689.9 277.4L687.1 275.4ZM696.1 280.0L699.0 281.8L698.1 283.0L695.3 281.1ZM702.4 284.1L713.5 291.5L712.6 293.0L701.5 285.4ZM714.9 292.4L717.7 294.3L716.7 295.8L713.9 293.9ZM719.0 295.1L721.9 297.0L720.8 298.6L718.0 296.7ZM729.5 302.0L732.3 303.9L731.1 305.7L728.3 303.8ZM737.8 307.6L740.6 309.4L739.3 311.4L736.5 309.4ZM742.0 310.3L744.8 312.2L743.5 314.2L740.7 312.3ZM756.6 320.0L759.4 321.9L757.9 324.1L755.1 322.2ZM762.8 324.1L765.7 326.0L764.1 328.4L761.3 326.4ZM769.1 328.3L771.9 330.1L770.2 332.6L767.4 330.7ZM681.4 270.6L688.3 275.3L687.6 276.3L680.7 271.4ZM695.8 280.5L702.7 285.2L701.8 286.5L695.0 281.6ZM704.0 286.1L708.9 289.5L707.9 290.8L703.1 287.4ZM712.3 291.8L715.1 293.7L714.0 295.2L711.3 293.2ZM718.4 296.0L723.3 299.4L722.2 301.0L717.4 297.6ZM726.7 301.7L729.5 303.6L728.3 305.4L725.5 303.4ZM753.5 320.1L756.3 322.0L754.7 324.2L752.0 322.2ZM761.7 325.8L764.5 327.7L762.9 330.0L760.1 328.1ZM681.2 270.8L686.0 274.2L685.3 275.2L680.6 271.7ZM705.6 288.2L708.4 290.2L707.4 291.5L704.7 289.5ZM746.3 317.2L751.1 320.7L749.6 322.8L744.9 319.2ZM754.5 323.0L759.3 326.5L757.7 328.7L752.9 325.2ZM699.1 284.4L701.9 286.4L700.9 287.7L698.2 285.6ZM711.2 293.3L713.9 295.3L712.8 296.8L710.1 294.7ZM717.2 297.8L719.9 299.8L718.8 301.4L716.1 299.3ZM747.4 320.1L750.1 322.1L748.5 324.2L745.8 322.1ZM753.4 324.6L758.1 328.1L756.5 330.3L751.8 326.7ZM712.6 295.6L715.3 297.7L714.2 299.1L711.5 297.0ZM716.6 298.7L719.3 300.7L718.1 302.2L715.4 300.1ZM726.5 306.3L729.2 308.3L727.9 310.0L725.2 307.9ZM732.4 310.8L737.1 314.4L735.7 316.3L731.1 312.6ZM752.3 326.0L758.9 331.2L757.2 333.4L750.6 328.1ZM762.2 333.7L766.9 337.2L765.0 339.6L760.4 335.9ZM700.3 287.1L704.9 290.7L703.9 292.0L699.3 288.2ZM706.1 291.7L710.8 295.4L709.6 296.8L705.1 293.0ZM712.0 296.4L714.7 298.5L713.5 299.9L710.9 297.8ZM715.9 299.5L718.6 301.6L717.4 303.1L714.7 301.0ZM737.4 316.6L747.9 325.0L746.3 327.0L736.0 318.4ZM749.2 326.0L751.8 328.1L750.2 330.2L747.5 328.0ZM753.1 329.1L763.6 337.4L761.7 339.7L751.4 331.2ZM694.0 282.9L704.4 291.4L703.3 292.6L693.1 283.9ZM717.2 301.9L719.8 304.1L718.5 305.6L715.9 303.4ZM723.0 306.7L725.6 308.9L724.2 310.5L721.6 308.3ZM728.7 311.5L731.4 313.6L729.9 315.4L727.4 313.1ZM736.5 317.8L741.0 321.6L739.4 323.5L735.0 319.6ZM744.2 324.2L746.8 326.4L745.1 328.3L742.6 326.1ZM748.0 327.4L750.7 329.5L748.9 331.6L746.4 329.4ZM753.8 332.1L756.5 334.3L754.6 336.5L752.1 334.2ZM763.5 340.1L766.1 342.3L764.2 344.6L761.6 342.4ZM727.9 312.5L732.4 316.4L730.9 318.1L726.4 314.2ZM735.5 319.0L738.1 321.2L736.5 323.1L733.9 320.8ZM754.5 335.3L757.1 337.5L755.2 339.6L752.7 337.4ZM727.0 313.6L729.5 315.8L728.0 317.5L725.5 315.2ZM730.7 316.9L733.3 319.1L731.7 320.9L729.2 318.6ZM707.6 297.7L710.1 300.0L708.9 301.3L706.4 299.0ZM726.0 314.6L730.4 318.6L728.8 320.3L724.6 316.2ZM753.7 339.9L759.9 345.6L757.9 347.8L751.8 342.0ZM701.5 293.3L704.0 295.6L702.8 296.8L700.4 294.4ZM705.2 296.7L713.1 304.2L711.8 305.6L704.0 297.9ZM725.1 315.6L729.4 319.7L727.8 321.3L723.6 317.2ZM750.5 339.7L753.0 342.1L751.0 344.1L748.6 341.7ZM674.2 267.6L678.4 271.7L677.7 272.4L673.6 268.2ZM702.8 295.6L708.8 301.5L707.5 302.8L701.6 296.8ZM711.7 304.4L714.1 306.7L712.7 308.1L710.4 305.7ZM720.6 313.1L726.6 319.0L725.0 320.6L719.1 314.6ZM731.3 323.6L733.7 326.0L732.0 327.7L729.6 325.3ZM674.1 267.7L678.3 271.9L677.5 272.6L673.4 268.3ZM710.9 305.1L713.3 307.5L711.9 308.9L709.6 306.4ZM672.3 266.0L678.1 272.1L677.3 272.8L671.6 266.6ZM713.6 309.5L717.7 313.8L716.1 315.2L712.2 310.8ZM695.9 291.9L698.2 294.4L697.0 295.4L694.7 292.9ZM699.2 295.6L701.5 298.1L700.3 299.2L698.0 296.6ZM707.7 304.8L711.7 309.1L710.2 310.4L706.3 306.0ZM719.5 317.7L725.2 323.9L723.5 325.4L717.9 319.1ZM720.2 320.4L724.1 324.9L722.4 326.4L718.5 321.9ZM719.7 324.2L721.8 326.8L720.1 328.2L718.0 325.6ZM690.1 290.3L692.1 292.9L690.9 293.9L688.9 291.1ZM693.1 294.2L696.7 298.9L695.4 299.9L691.9 295.1ZM694.0 296.7L696.0 299.4L694.7 300.4L692.8 297.6ZM697.0 300.7L699.0 303.4L697.6 304.4L695.7 301.7ZM685.7 287.3L687.6 290.1L686.5 290.9L684.6 288.0ZM683.9 285.5L687.1 290.4L685.9 291.2L682.8 286.2ZM683.4 285.8L688.0 292.9L686.7 293.6L682.3 286.5ZM685.6 290.3L687.4 293.2L686.2 294.0L684.4 291.0ZM685.1 290.6L686.9 293.6L685.6 294.3L683.9 291.3ZM685.9 296.0L687.5 299.0L686.1 299.7L684.6 296.6ZM688.2 300.4L689.8 303.4L688.3 304.1L686.8 301.1ZM685.3 296.3L686.8 299.3L685.4 300.0L684.0 296.9ZM675.1 284.3L676.1 287.6L674.9 287.9L674.0 284.7ZM674.7 284.4L675.7 287.7L674.4 288.1L673.5 284.8Z"/>
<path fill="#ff9810" d="M701.5 263.8L707.4 264.2L707.2 265.7L701.4 265.2ZM711.4 264.6L714.8 264.8L714.7 266.4L711.3 266.1ZM701.4 264.4L707.3 264.9L707.1 266.4L701.3 265.7ZM711.4 265.3L717.3 265.9L717.1 267.6L711.2 266.9ZM781.1 272.0L786.9 272.6L786.6 275.5L780.8 274.8ZM708.8 265.8L712.2 266.2L712.0 267.8L708.6 267.3ZM721.2 267.2L724.6 267.6L724.4 269.4L721.0 268.9ZM753.5 270.9L756.9 271.3L756.6 273.6L753.3 273.2ZM778.4 273.7L781.8 274.1L781.4 276.9L778.0 276.5ZM785.8 274.6L789.2 275.0L788.8 277.9L785.5 277.4ZM711.2 266.9L714.6 267.3L714.4 268.9L711.0 268.4ZM721.1 268.2L724.5 268.6L724.3 270.4L720.9 269.9ZM755.8 272.7L764.2 273.8L763.8 276.3L755.5 275.1ZM775.7 275.3L779.0 275.8L778.7 278.5L775.3 278.0ZM716.1 268.4L721.9 269.2L721.6 271.0L715.8 270.0ZM753.2 273.9L761.5 275.1L761.1 277.6L752.8 276.2ZM713.5 268.8L716.8 269.3L716.5 271.0L713.2 270.4ZM752.9 275.4L758.7 276.4L758.3 278.7L752.5 277.7ZM705.6 270.2L708.9 271.0L708.5 272.5L705.2 271.7ZM703.0 270.3L706.3 271.1L705.9 272.6L702.6 271.6ZM732.0 277.8L735.3 278.6L734.8 280.6L731.5 279.7ZM705.2 271.6L708.5 272.5L708.1 273.9L704.8 273.0ZM731.7 278.9L742.2 281.8L741.6 283.9L731.2 280.8ZM719.4 276.5L722.7 277.4L722.2 279.2L718.9 278.1ZM738.6 282.1L741.9 283.1L741.2 285.2L738.0 284.1ZM789.0 297.1L792.2 298.0L791.3 301.0L788.1 299.9ZM793.7 298.5L797.0 299.4L796.1 302.5L792.8 301.4ZM735.9 282.6L739.1 283.7L738.4 285.7L735.2 284.6ZM783.5 297.7L786.8 298.7L785.9 301.5L782.6 300.4ZM711.8 275.9L717.4 277.8L716.8 279.4L711.2 277.4ZM723.6 279.9L726.8 280.9L726.2 282.7L723.0 281.6ZM747.3 287.8L750.6 288.9L749.8 291.1L746.6 289.9ZM711.5 276.7L714.7 277.8L714.1 279.4L711.0 278.2ZM716.2 278.3L721.8 280.3L721.2 282.0L715.6 279.9ZM725.7 281.7L733.6 284.5L732.9 286.4L725.0 283.4ZM737.4 285.8L740.6 287.0L739.9 289.0L736.7 287.8ZM742.1 287.5L745.4 288.6L744.6 290.8L741.4 289.6ZM746.9 289.2L750.1 290.3L749.3 292.5L746.1 291.3ZM776.8 301.9L780.0 303.1L779.0 305.8L775.8 304.6ZM747.0 295.6L754.7 299.0L753.7 301.2L746.1 297.8ZM756.2 299.6L759.3 301.0L758.3 303.3L755.2 301.9ZM767.7 304.6L770.8 306.0L769.7 308.5L766.6 307.1ZM705.5 278.4L710.8 280.8L710.2 282.3L704.8 279.7ZM728.2 288.7L731.3 290.1L730.5 292.0L727.4 290.5ZM732.8 290.8L735.9 292.2L735.0 294.1L731.9 292.7ZM757.8 302.2L763.2 304.7L762.1 307.0L756.7 304.5ZM684.9 269.3L692.4 272.9L691.9 274.1L684.4 270.3ZM693.9 273.6L712.8 282.6L712.0 284.1L693.3 274.8ZM716.5 284.4L719.5 285.9L718.7 287.5L715.7 286.0ZM723.2 287.6L728.6 290.2L727.7 292.0L722.4 289.3ZM748.0 299.5L753.4 302.0L752.3 304.2L747.0 301.6ZM684.7 269.6L699.0 276.7L698.3 278.0L684.2 270.6ZM700.4 277.5L705.7 280.1L705.0 281.5L699.7 278.7ZM711.6 283.0L716.9 285.7L716.1 287.2L710.8 284.5ZM725.0 289.7L734.8 294.6L733.8 296.5L724.1 291.4ZM742.9 298.6L745.9 300.2L744.9 302.2L741.9 300.7ZM686.8 271.1L694.3 275.0L693.6 276.1L686.2 272.1ZM695.7 275.7L705.3 280.7L704.6 282.1L695.0 276.9ZM737.8 297.6L740.8 299.2L739.8 301.2L736.8 299.6ZM760.0 309.2L765.2 311.9L763.9 314.3L758.8 311.5ZM771.1 315.0L776.3 317.7L774.9 320.3L769.7 317.5ZM779.9 319.6L783.0 321.1L781.5 323.9L778.5 322.2ZM680.0 267.9L689.6 273.0L689.0 274.1L679.5 268.8ZM702.0 279.8L707.2 282.6L706.4 284.0L701.3 281.1ZM752.5 307.2L755.5 308.8L754.3 311.1L751.3 309.4ZM756.9 309.6L762.1 312.4L760.8 314.8L755.7 311.9ZM767.9 315.6L777.5 320.8L776.1 323.4L766.6 318.0ZM679.9 268.1L682.9 269.7L682.3 270.7L679.4 269.0ZM695.2 276.7L698.1 278.4L697.4 279.6L694.5 277.9ZM701.7 280.4L711.2 285.7L710.3 287.2L700.9 281.7ZM758.3 312.4L763.4 315.3L762.0 317.6L756.9 314.7ZM767.0 317.3L769.9 319.0L768.5 321.5L765.6 319.7ZM773.5 321.0L776.4 322.7L775.0 325.3L772.0 323.5ZM692.7 275.9L704.3 282.7L703.5 284.0L692.1 277.0ZM707.8 284.8L710.7 286.5L709.9 287.9L707.0 286.2ZM759.5 315.2L762.4 317.0L761.0 319.3L758.1 317.5ZM698.9 280.3L706.0 284.6L705.2 286.0L698.1 281.5ZM758.6 316.8L765.7 321.2L764.2 323.6L757.1 319.1ZM769.2 323.4L772.1 325.1L770.6 327.6L767.7 325.8ZM698.5 280.8L703.5 284.0L702.7 285.3L697.8 282.0ZM713.3 290.2L716.2 292.0L715.2 293.5L712.4 291.7ZM732.3 302.3L737.3 305.5L736.0 307.3L731.1 304.1ZM744.9 310.4L747.8 312.2L746.5 314.2L743.6 312.4ZM749.1 313.0L752.0 314.9L750.6 317.0L747.8 315.1ZM755.5 317.1L758.3 318.9L756.9 321.1L754.0 319.3ZM763.9 322.4L766.8 324.3L765.2 326.7L762.4 324.8ZM770.2 326.5L777.3 331.0L775.6 333.6L768.6 328.9ZM683.6 271.7L688.5 274.9L687.8 276.0L683.0 272.6ZM698.2 281.3L703.1 284.6L702.3 285.9L697.4 282.5ZM712.8 291.0L715.6 292.9L714.6 294.4L711.8 292.4ZM731.6 303.4L734.4 305.3L733.2 307.1L730.4 305.2ZM735.7 306.2L738.6 308.1L737.3 309.9L734.5 308.0ZM744.1 311.7L746.9 313.6L745.5 315.6L742.7 313.7ZM750.3 315.8L757.3 320.5L755.8 322.7L748.9 317.9ZM771.2 329.6L776.1 332.9L774.4 335.4L769.5 332.1ZM728.8 303.1L731.6 305.0L730.3 306.8L727.6 304.8ZM741.1 311.6L746.0 314.9L744.6 317.0L739.8 313.5ZM770.0 331.4L772.8 333.4L771.0 335.8L768.3 333.9ZM701.6 285.3L706.4 288.7L705.4 290.0L700.7 286.5ZM707.7 289.7L712.5 293.1L711.4 294.5L706.7 291.0ZM719.9 298.4L726.7 303.2L725.5 304.9L718.7 299.9ZM744.3 315.8L747.1 317.8L745.6 319.8L742.9 317.8ZM752.4 321.6L755.2 323.6L753.6 325.7L750.9 323.7ZM768.7 333.2L771.5 335.2L769.7 337.6L767.0 335.6ZM703.1 287.4L711.9 293.9L710.8 295.3L702.2 288.6ZM719.2 299.3L722.0 301.3L720.8 302.9L718.1 300.8ZM745.3 318.6L748.1 320.6L746.6 322.7L743.9 320.6ZM767.5 335.0L770.2 337.0L768.4 339.4L765.7 337.3ZM696.7 283.4L699.4 285.5L698.5 286.7L695.9 284.6ZM704.7 289.5L713.3 296.2L712.2 297.6L703.7 290.8ZM728.5 307.8L733.2 311.4L731.8 313.1L727.2 309.5ZM736.4 313.9L739.1 315.9L737.6 317.8L735.0 315.7ZM742.4 318.4L749.0 323.5L747.4 325.6L740.9 320.4ZM766.2 336.7L768.9 338.8L767.0 341.2L764.3 339.0ZM694.4 282.4L697.1 284.5L696.1 285.6L693.5 283.5ZM704.2 290.2L706.8 292.3L705.8 293.6L703.2 291.4ZM710.0 294.8L712.7 296.9L711.6 298.4L709.0 296.2ZM727.7 308.8L732.3 312.5L730.9 314.3L726.3 310.5ZM764.8 338.4L767.5 340.5L765.6 342.9L763.0 340.7ZM709.5 295.6L712.1 297.7L710.9 299.1L708.3 296.9ZM715.2 300.3L717.9 302.5L716.6 304.0L714.0 301.8ZM724.9 308.3L729.4 312.0L728.0 313.7L723.5 309.9ZM746.1 325.8L748.7 327.9L747.0 330.0L744.5 327.8ZM708.9 296.3L711.4 298.5L710.3 299.9L707.7 297.6ZM726.0 310.9L728.6 313.1L727.1 314.8L724.6 312.5ZM708.2 297.0L714.5 302.6L713.3 304.0L707.1 298.3ZM725.1 311.9L727.6 314.2L726.2 315.8L723.7 313.5ZM728.8 315.2L731.4 317.5L729.9 319.2L727.4 316.9ZM709.5 299.4L715.7 305.1L714.3 306.5L708.2 300.7ZM724.2 312.9L726.7 315.2L725.2 316.8L722.8 314.5ZM712.4 303.6L722.1 312.8L720.7 314.3L711.1 304.9ZM723.3 313.9L725.8 316.2L724.2 317.8L721.8 315.4ZM752.3 341.4L758.4 347.2L756.3 349.4L750.3 343.5ZM701.0 293.8L703.4 296.2L702.2 297.4L699.8 295.0ZM702.2 296.2L708.1 302.2L706.8 303.4L701.0 297.4ZM711.1 308.5L713.4 311.0L711.9 312.3L709.6 309.7ZM708.6 307.3L712.5 311.7L711.0 313.0L707.2 308.6ZM709.4 309.9L713.2 314.4L711.7 315.7L707.9 311.2ZM720.8 323.3L723.0 325.8L721.2 327.3L719.1 324.7ZM692.5 294.7L694.6 297.4L693.3 298.3L691.3 295.6ZM684.3 285.2L686.2 288.0L685.1 288.8L683.2 285.9ZM690.2 299.3L691.9 302.2L690.5 303.0L688.8 300.0ZM688.3 297.5L690.0 300.4L688.6 301.2L687.0 298.2ZM687.7 297.8L690.5 303.0L689.1 303.8L686.3 298.5Z"/>
<path fill="#ffa820" d="M706.5 264.2L712.3 264.6L712.2 266.2L706.3 265.6ZM706.4 264.8L712.3 265.4L712.1 267.0L706.3 266.3ZM711.3 266.1L714.7 266.5L714.5 268.1L711.1 267.6ZM718.8 266.9L722.1 267.3L721.9 269.1L718.6 268.6ZM783.3 274.3L786.7 274.7L786.4 277.6L783.0 277.1ZM713.6 268.0L717.0 268.5L716.7 270.1L713.3 269.6ZM705.4 270.9L708.7 271.7L708.3 273.2L705.0 272.3ZM726.9 277.6L732.6 279.1L732.1 281.0L726.4 279.4ZM731.4 280.0L739.5 282.4L738.9 284.4L730.8 281.9ZM719.2 277.4L722.4 278.4L721.9 280.1L718.6 279.0ZM723.9 278.9L727.2 279.9L726.6 281.7L723.4 280.6ZM731.1 281.1L736.7 282.9L736.1 284.9L730.5 283.0ZM716.5 277.5L724.5 280.1L723.9 281.9L716.0 279.1ZM726.0 280.7L734.0 283.3L733.3 285.2L725.4 282.4ZM737.8 284.6L745.8 287.3L745.1 289.4L737.2 286.6ZM713.9 277.5L717.1 278.6L716.5 280.2L713.3 279.0ZM739.8 286.7L743.0 287.8L742.2 289.9L739.1 288.7ZM744.5 288.3L747.7 289.5L746.9 291.6L743.7 290.4ZM779.1 302.8L784.7 304.9L783.6 307.7L778.1 305.5ZM776.1 303.8L779.3 305.1L778.2 307.8L775.0 306.5ZM760.8 301.6L766.2 304.0L765.1 306.4L759.7 304.0ZM703.2 277.3L706.3 278.7L705.6 280.1L702.6 278.7ZM710.0 280.4L713.1 281.8L712.4 283.4L709.3 281.9ZM714.6 282.5L717.7 283.9L716.9 285.5L713.9 284.1ZM730.5 289.8L733.6 291.2L732.7 293.1L729.7 291.6ZM744.1 296.0L747.2 297.4L746.3 299.5L743.2 298.0ZM748.7 298.1L754.1 300.5L753.0 302.7L747.7 300.2ZM755.5 301.2L758.6 302.6L757.5 304.9L754.5 303.4ZM764.6 305.3L770.0 307.8L768.8 310.3L763.5 307.7ZM711.9 282.3L717.3 284.8L716.5 286.4L711.2 283.7ZM727.7 289.8L737.6 294.5L736.6 296.4L726.9 291.5ZM743.5 297.3L748.9 299.9L747.8 302.0L742.5 299.4ZM698.1 276.3L701.2 277.8L700.5 279.2L697.5 277.6ZM740.7 297.5L743.7 299.0L742.7 301.1L739.7 299.5ZM733.4 295.3L738.6 298.1L737.6 300.0L732.4 297.2ZM768.8 313.8L771.9 315.4L770.5 317.9L767.5 316.3ZM775.5 317.3L780.7 320.0L779.3 322.7L774.1 319.8ZM782.2 320.7L785.2 322.3L783.7 325.1L780.7 323.4ZM697.6 277.4L702.8 280.2L702.1 281.5L696.9 278.6ZM754.7 308.4L757.7 310.0L756.5 312.3L753.5 310.6ZM761.3 312.0L768.7 316.0L767.3 318.5L760.0 314.3ZM776.7 320.3L781.9 323.2L780.4 325.8L775.3 322.9ZM697.3 277.9L702.5 280.8L701.7 282.1L696.6 279.1ZM762.6 314.9L765.6 316.5L764.2 318.9L761.3 317.2ZM769.1 318.5L774.3 321.4L772.8 324.0L767.7 321.0ZM775.7 322.2L778.6 323.9L777.1 326.5L774.2 324.8ZM761.7 316.5L768.9 320.8L767.4 323.2L760.3 318.8ZM772.4 322.8L777.5 325.8L776.0 328.4L770.9 325.3ZM781.0 327.9L784.0 329.6L782.4 332.4L779.5 330.6ZM775.6 327.3L778.5 329.1L776.9 331.7L774.0 329.8ZM782.0 331.2L784.9 333.0L783.2 335.7L780.3 333.9ZM747.0 311.7L749.9 313.5L748.5 315.6L745.7 313.7ZM757.6 318.4L760.4 320.2L759.0 322.5L756.1 320.6ZM776.6 330.5L781.5 333.7L779.8 336.3L774.9 333.1ZM733.6 304.8L736.5 306.7L735.2 308.5L732.4 306.6ZM746.1 313.1L751.1 316.3L749.6 318.4L744.8 315.1ZM775.3 332.4L778.2 334.3L776.4 336.9L773.6 334.9ZM730.8 304.5L741.9 312.1L740.5 314.1L729.6 306.3ZM745.2 314.4L754.2 320.6L752.7 322.8L743.8 316.4ZM772.0 332.8L774.8 334.8L773.1 337.3L770.3 335.3ZM726.0 302.7L728.8 304.7L727.5 306.4L724.8 304.4ZM750.4 320.1L753.2 322.1L751.6 324.2L748.9 322.2ZM701.1 285.9L703.9 287.9L702.9 289.2L700.2 287.1ZM721.2 300.8L728.0 305.8L726.7 307.4L720.1 302.3ZM743.3 317.1L746.1 319.1L744.6 321.1L741.9 319.1ZM751.4 323.1L754.1 325.1L752.5 327.2L749.8 325.2ZM698.7 285.0L701.4 287.0L700.5 288.2L697.8 286.1ZM702.7 288.0L705.4 290.1L704.4 291.4L701.7 289.2ZM738.4 315.4L743.1 319.0L741.6 320.9L736.9 317.2ZM748.3 323.0L753.0 326.6L751.3 328.7L746.7 325.0ZM696.3 283.9L701.0 287.6L700.0 288.8L695.4 285.1ZM751.1 327.5L753.8 329.6L752.1 331.7L749.5 329.6ZM711.4 297.2L714.0 299.3L712.8 300.7L710.2 298.5ZM755.8 333.7L758.4 335.9L756.5 338.1L754.0 335.9ZM718.4 304.4L722.9 308.2L721.5 309.8L717.1 305.9ZM717.6 305.3L723.9 310.9L722.5 312.4L716.3 306.8ZM715.0 304.5L724.9 313.5L723.4 315.1L713.7 305.9ZM721.5 312.2L724.0 314.5L722.5 316.1L720.0 313.7ZM711.9 311.1L714.2 313.6L712.6 315.0L710.4 312.4ZM691.6 292.2L693.7 294.9L692.4 295.9L690.4 293.1ZM689.5 299.6L691.2 302.6L689.8 303.4L688.2 300.4Z"/>
<path fill="#ffb828" d="M713.8 266.4L719.7 267.0L719.4 268.7L713.6 268.0ZM780.9 274.0L784.2 274.4L783.9 277.2L780.5 276.8ZM713.7 267.2L717.1 267.6L716.8 269.3L713.5 268.8ZM718.7 267.8L722.0 268.3L721.8 270.0L718.4 269.5ZM721.8 277.2L727.5 278.9L726.9 280.7L721.3 278.9ZM729.0 279.3L732.3 280.3L731.7 282.2L728.5 281.1ZM721.6 278.1L724.8 279.1L724.2 280.9L721.0 279.8ZM726.3 279.6L731.9 281.4L731.3 283.3L725.7 281.4ZM745.0 287.0L748.2 288.1L747.4 290.2L744.2 289.1ZM732.7 284.2L738.3 286.1L737.6 288.1L732.0 286.1ZM778.4 304.8L781.6 306.0L780.5 308.7L777.3 307.4ZM712.3 281.5L715.4 282.9L714.7 284.4L711.6 283.0ZM746.4 297.0L749.5 298.4L748.5 300.6L745.4 299.1ZM753.2 300.1L756.3 301.5L755.3 303.8L752.2 302.3ZM736.8 294.1L744.3 297.7L743.3 299.8L735.8 296.0ZM733.9 294.2L737.0 295.7L736.0 297.6L733.0 296.0ZM768.1 320.3L773.2 323.3L771.7 325.8L766.7 322.7ZM776.7 325.4L779.7 327.1L778.1 329.7L775.2 328.0ZM783.2 329.2L786.1 330.9L784.5 333.7L781.6 331.9ZM771.3 324.7L776.4 327.7L774.8 330.3L769.8 327.1ZM780.8 333.2L785.7 336.4L784.0 339.1L779.1 335.8ZM777.4 333.8L784.4 338.4L782.6 341.1L775.7 336.3ZM774.1 334.3L778.9 337.6L777.1 340.2L772.3 336.8ZM782.3 339.9L785.1 341.9L783.2 344.5L780.5 342.6ZM734.1 308.5L745.0 316.3L743.6 318.3L732.8 310.3ZM727.3 305.2L730.0 307.2L728.7 309.0L726.0 306.9ZM733.3 309.7L744.1 317.7L742.6 319.6L732.0 311.5ZM749.4 321.6L752.1 323.6L750.5 325.7L747.8 323.6ZM700.7 286.5L703.4 288.5L702.4 289.8L699.8 287.7ZM768.1 338.2L770.8 340.3L768.9 342.7L766.3 340.6ZM713.3 298.8L715.9 300.9L714.7 302.4L712.1 300.2ZM710.8 297.9L713.3 300.1L712.1 301.5L709.6 299.3ZM716.5 302.8L719.0 305.0L717.7 306.5L715.2 304.2ZM722.2 307.7L726.7 311.5L725.2 313.1L720.8 309.2ZM715.7 303.6L718.3 305.9L717.0 307.4L714.5 305.1ZM723.2 310.3L725.8 312.5L724.3 314.1L721.8 311.8ZM712.8 310.3L716.7 314.6L715.2 316.0L711.3 311.6Z"/>
<path fill="#ffc830" d="M716.2 267.5L719.6 267.9L719.3 269.7L716.0 269.1ZM726.6 278.6L729.9 279.6L729.3 281.4L726.1 280.4ZM733.1 283.0L738.7 284.9L738.0 286.9L732.5 284.9ZM736.2 295.3L741.5 297.9L740.4 299.9L735.2 297.2ZM784.1 332.5L787.0 334.3L785.3 337.0L782.5 335.2ZM785.0 335.9L787.9 337.7L786.1 340.5L783.2 338.6ZM770.8 334.7L775.6 338.1L773.7 340.6L769.0 337.1ZM729.3 306.7L734.0 310.2L732.7 312.0L728.0 308.4ZM769.5 336.5L774.2 340.0L772.3 342.4L767.7 338.9ZM712.7 299.5L717.1 303.4L715.9 304.8L711.5 300.9ZM713.9 302.0L716.4 304.2L715.1 305.7L712.6 303.4Z"/>
<path fill="#ffe040" d="M786.3 333.8L789.2 335.6L787.4 338.4L784.6 336.5ZM728.0 304.2L734.9 309.1L733.5 310.9L726.8 305.9Z"/>
<path d="M577.2 99.5L584.5 101.3L591.9 105.9L591.9 111.4L584.5 111.4L579.0 105.9ZM614.0 106.8L617.7 109.6L621.4 106.8L624.1 109.6L627.8 106.8L631.5 108.7L635.2 100.4L638.9 103.1L640.7 108.7L637.9 114.2L637.0 125.2L634.3 129.9L632.4 125.2L631.5 119.7L627.8 118.8L624.1 121.6L620.4 119.7L616.8 113.3ZM607.6 121.6L611.2 124.3L616.8 123.4L617.7 129.9L612.2 128.9L607.6 128.0ZM649.9 109.6L653.6 104.1L658.2 105.0L660.0 109.6L657.3 109.6L655.4 106.8L652.7 111.4L652.7 115.1L649.0 115.1ZM672.9 86.6L676.6 89.3L681.0 87.5L681.0 93.0L672.9 93.0ZM542.2 128.9L548.6 129.9L550.5 137.2L546.8 133.5L543.1 132.6ZM544.9 144.6L551.4 140.9L555.1 144.6L554.1 151.0L548.6 153.8L544.0 152.0ZM559.7 130.8L564.3 129.9L566.1 135.4L562.4 137.2L559.7 134.5ZM569.8 140.9L574.4 137.2L578.1 132.6L581.8 137.2L583.6 142.7L579.0 147.3L573.5 145.5ZM587.3 137.2L591.0 137.2L592.8 142.7L589.1 143.7ZM592.8 151.0L596.5 151.0L598.3 155.6L593.7 155.6ZM603.9 147.3L606.6 149.2L607.6 153.8L605.7 153.8ZM567.0 163.9L571.6 164.8L570.7 167.6L567.0 166.7ZM619.5 143.7L622.3 145.5L624.1 141.8L627.8 144.6L631.5 141.8L635.2 143.7L636.1 151.0L631.5 152.0L626.9 151.0L623.2 154.7L621.4 151.0ZM638.9 145.5L641.6 151.0L643.5 153.8L640.7 153.8ZM648.1 143.7L650.8 149.2L650.8 152.9L646.2 152.0ZM649.9 133.5L653.6 135.4L652.7 140.9L649.9 140.9ZM658.2 128.9L659.5 136.3L659.1 143.7L657.6 140.0ZM659.1 154.7L661.9 155.6L661.9 159.3L659.1 158.4ZM691.4 90.3L696.0 89.3L698.8 93.0L696.9 95.8L692.3 94.9ZM696.0 105.9L697.8 105.9L697.8 112.4L695.6 112.4ZM706.1 118.8L708.9 117.0L708.5 123.4L706.1 123.4ZM712.6 116.0L715.3 116.0L714.4 123.4L711.1 124.3ZM713.5 105.0L716.2 105.0L715.3 109.6L712.9 109.6ZM719.0 107.8L722.7 106.8L723.6 113.3L720.9 117.0L718.1 114.2ZM723.6 119.7L728.2 117.9L731.0 122.5L728.2 125.2L722.7 124.3ZM733.7 103.1L736.5 103.1L737.4 109.6L739.3 114.2L736.5 117.0L733.7 111.4L732.5 106.8ZM742.0 117.0L744.8 115.1L743.9 120.6L741.7 122.5ZM749.4 97.6L751.6 97.3L751.6 99.8L749.4 99.8ZM728.2 139.1L733.7 137.2L736.5 139.1L731.9 142.7L728.2 142.2ZM738.0 131.7L740.2 130.8L739.3 134.5L737.4 134.8ZM683.1 138.1L685.9 139.1L684.9 147.3L682.7 147.3ZM686.8 143.7L690.5 142.7L692.3 149.2L690.5 154.7L686.8 151.0ZM703.0 149.2L704.8 148.8L704.5 152.0L702.8 152.0ZM714.4 161.2L720.9 157.5L724.5 160.2L719.9 166.7L714.4 165.8ZM700.6 165.8L705.2 164.8L705.2 170.4L703.7 175.0L702.4 178.7L698.8 177.7L698.8 173.1ZM711.6 91.2L714.4 91.2L714.0 93.9L711.6 93.9ZM726.4 109.6L729.1 109.6L728.8 113.3L726.4 113.3ZM665.1 176.4L668.0 176.4L668.0 184.7L665.6 185.7ZM673.5 192.1L676.7 192.1L675.7 201.3L673.0 200.4ZM711.6 180.1L716.2 174.6L721.8 176.4L724.5 173.7L730.1 176.4L731.0 181.0L736.5 181.0L740.2 183.8L736.5 189.3L731.0 190.3L726.4 194.9L720.9 193.9L719.0 188.4L715.3 193.0L712.6 192.1L714.4 186.6L711.6 183.8ZM742.0 193.0L749.4 187.5L751.2 190.3L744.8 196.7L742.0 195.8ZM719.0 205.0L722.7 202.2L724.5 206.8L721.8 209.6L719.0 214.2L721.8 217.0L716.2 218.8L713.5 215.1L715.3 209.6ZM728.2 206.8L734.7 203.1L736.9 205.9L731.0 211.4L727.3 210.5ZM721.8 221.6L733.7 213.3L736.5 215.1L724.5 224.3ZM736.5 217.0L742.0 215.1L750.3 216.0L751.2 219.7L745.7 222.5L744.8 226.2L753.1 228.0L761.4 227.1L763.2 228.9L753.1 232.6L740.2 233.5L733.7 228.9L738.3 223.4ZM769.7 225.2L778.9 223.4L780.7 225.2L771.5 228.0ZM779.8 220.6L788.1 218.3L794.5 217.9L794.5 222.5L791.8 225.2L787.2 226.2L786.2 222.5L780.7 223.4ZM483.7 276.4L487.0 273.7L489.8 278.3L484.3 279.2ZM491.7 276.4L499.0 275.9L502.7 285.6L508.2 293.9L507.3 299.5L511.0 305.0L511.9 310.5L503.6 311.4L499.9 304.1L498.1 297.6L494.4 290.2L492.6 282.9ZM510.1 319.7L515.6 318.8L518.4 321.6L512.8 324.3L510.1 323.4ZM508.2 327.1L520.2 323.4L522.0 328.9L515.6 332.6L509.1 330.8ZM499.0 330.8L532.2 318.2L533.1 319.3L499.9 331.7ZM548.7 286.6L556.1 284.7L557.0 288.4L549.7 289.9ZM574.5 288.0L578.2 287.5L578.8 289.7L575.1 289.9ZM566.2 306.8L574.5 303.5L575.4 305.0L567.2 308.7ZM610.4 295.8L617.8 289.3L620.0 290.2L618.7 293.9L611.4 299.8ZM517.5 354.5L524.0 351.0L526.0 354.0L519.5 358.0Z" fill="#000068" stroke="#000068" stroke-width="1.8" stroke-linejoin="miter" shape-rendering="crispEdges"/>
<path d="M578.9 105.0L582.9 105.8L587.0 107.8L587.0 110.3L582.9 110.3L579.9 107.8ZM617.3 115.4L619.4 116.7L621.4 115.4L622.9 116.7L624.9 115.4L627.0 116.3L629.0 112.6L631.0 113.8L632.0 116.3L630.5 118.7L630.0 123.5L628.5 125.6L627.5 123.5L627.0 121.1L624.9 120.7L622.9 121.9L620.9 121.1L618.9 118.3ZM608.4 125.4L610.4 126.6L613.5 126.2L614.0 129.0L610.9 128.6L608.4 128.2ZM650.6 111.4L652.6 108.9L655.1 109.3L656.1 111.4L654.6 111.4L653.6 110.1L652.1 112.2L652.1 113.8L650.1 113.8ZM673.8 89.5L675.8 90.7L678.2 89.9L678.2 92.3L673.8 92.3ZM543.0 132.2L546.6 132.6L547.6 135.9L545.5 134.2L543.5 133.8ZM545.8 148.5L549.3 146.8L551.3 148.5L550.8 151.3L547.8 152.5L545.2 151.7ZM560.1 133.5L562.7 133.1L563.7 135.5L561.7 136.3L560.1 135.1ZM571.5 143.0L574.0 141.4L576.0 139.4L578.0 141.4L579.1 143.8L576.5 145.9L573.5 145.1ZM587.9 139.9L589.9 139.9L590.9 142.4L588.9 142.8ZM593.3 153.1L595.3 153.1L596.3 155.1L593.8 155.1ZM621.0 147.8L622.5 148.6L623.5 147.0L625.6 148.2L627.6 147.0L629.6 147.8L630.1 151.0L627.6 151.4L625.1 151.0L623.0 152.7L622.0 151.0ZM639.3 149.9L640.9 152.4L641.9 153.6L640.4 153.6ZM647.9 148.4L649.5 150.8L649.5 152.4L646.9 152.0ZM650.2 137.0L652.2 137.8L651.7 140.3L650.2 140.3ZM658.2 135.9L658.9 139.2L658.7 142.4L657.9 140.8ZM692.2 92.6L694.7 92.2L696.2 93.8L695.2 95.1L692.7 94.7ZM696.1 108.7L697.1 108.7L697.1 111.6L695.9 111.6ZM712.4 119.6L713.9 119.6L713.4 122.8L711.6 123.2ZM713.5 107.0L715.1 107.0L714.6 109.0L713.2 109.0ZM719.2 111.6L721.2 111.2L721.7 114.1L720.2 115.7L718.7 114.5ZM724.0 122.1L726.6 121.3L728.1 123.4L726.6 124.6L723.5 124.2ZM733.8 108.8L735.3 108.8L735.8 111.7L736.8 113.7L735.3 114.9L733.8 112.5L733.1 110.4ZM742.1 119.2L743.7 118.4L743.1 120.8L741.9 121.6ZM728.8 140.5L731.8 139.7L733.4 140.5L730.8 142.1L728.8 141.9ZM738.0 133.0L739.2 132.6L738.7 134.3L737.7 134.4ZM683.2 142.3L684.7 142.7L684.2 146.4L683.0 146.4ZM687.3 148.2L689.3 147.8L690.3 150.6L689.3 153.0L687.3 151.4ZM703.1 150.4L704.1 150.3L703.9 151.6L703.0 151.6ZM715.2 163.3L718.7 161.6L720.8 162.8L718.2 165.7L715.2 165.3ZM700.5 171.6L703.0 171.2L703.0 173.6L702.2 175.6L701.5 177.3L699.5 176.9L699.5 174.8ZM665.4 180.4L667.0 180.4L667.0 184.0L665.7 184.4ZM673.6 196.0L675.3 196.0L674.8 200.1L673.3 199.7ZM713.6 186.1L716.1 183.6L719.1 184.4L720.6 183.2L723.7 184.4L724.2 186.5L727.2 186.5L729.3 187.7L727.2 190.1L724.2 190.5L721.7 192.5L718.6 192.1L717.6 189.7L715.6 191.7L714.1 191.3L715.1 188.9L713.6 187.7ZM742.7 194.3L746.7 191.9L747.7 193.1L744.2 195.9L742.7 195.5ZM717.8 211.0L719.8 209.8L720.9 211.8L719.3 213.0L717.8 215.0L719.3 216.2L716.3 217.0L714.8 215.4L715.8 213.0ZM728.6 208.6L732.1 207.0L733.4 208.2L730.1 210.6L728.1 210.2ZM723.3 221.7L729.9 218.0L731.4 218.8L724.8 222.9ZM737.8 224.2L740.8 223.3L745.4 223.7L745.9 225.4L742.8 226.6L742.3 228.2L746.9 229.0L751.5 228.6L752.5 229.4L746.9 231.0L739.8 231.4L736.3 229.4L738.8 227.0ZM770.8 226.1L775.9 225.3L776.9 226.1L771.8 227.3ZM781.6 222.8L786.2 221.7L789.7 221.6L789.7 223.6L788.2 224.8L785.7 225.2L785.2 223.6L782.1 224.0ZM484.1 277.6L485.9 276.4L487.5 278.4L484.4 278.8ZM493.7 292.2L497.8 292.0L499.8 296.2L502.9 299.9L502.4 302.3L504.4 304.8L504.9 307.2L500.3 307.6L498.3 304.4L497.3 301.5L495.3 298.3L494.3 295.0ZM510.6 321.6L513.6 321.2L515.1 322.4L512.1 323.7L510.6 323.3ZM509.6 329.4L516.2 327.8L517.2 330.2L513.7 331.8L510.1 331.0ZM502.6 329.7L520.8 324.2L521.3 324.7L503.1 330.1ZM549.6 287.9L553.7 287.0L554.2 288.7L550.1 289.3ZM575.0 288.8L577.0 288.6L577.3 289.6L575.3 289.6ZM567.2 307.2L571.8 305.7L572.3 306.4L567.7 308.0ZM611.6 296.4L615.7 293.5L616.9 293.9L616.2 295.5L612.1 298.1ZM518.4 355.6L522.0 354.0L523.1 355.3L519.5 357.1Z" fill="#f01000" shape-rendering="crispEdges"/>
<rect x="687.7" y="111.1" width="4.5" height="3" fill="#40c0f8"/><rect x="705.8" y="141.5" width="1.5" height="1.5" fill="#1080f8"/><rect x="715.8" y="146.3" width="3" height="3" fill="#30b0f8"/><rect x="637.1" y="137.7" width="1.5" height="1.5" fill="#40c0f8"/><rect x="628.5" y="130.0" width="1.5" height="1.5" fill="#40c0f8"/><rect x="617.6" y="144.2" width="4.5" height="3" fill="#30b0f8"/><rect x="589.1" y="132.8" width="4.5" height="1.5" fill="#30b0f8"/><rect x="712.3" y="145.8" width="1.5" height="3" fill="#2098f8"/><rect x="638.9" y="135.6" width="1.5" height="3" fill="#70f8ff"/><rect x="673.4" y="134.7" width="1.5" height="1.5" fill="#30b0f8"/><rect x="685.3" y="127.3" width="1.5" height="3" fill="#2098f8"/><rect x="673.9" y="133.1" width="1.5" height="1.5" fill="#30b0f8"/><rect x="592.1" y="140.6" width="1.5" height="1.5" fill="#40c0f8"/><rect x="664.9" y="116.6" width="4.5" height="1.5" fill="#70f8ff"/><rect x="685.9" y="113.5" width="3" height="1.5" fill="#70f8ff"/><rect x="594.1" y="156.8" width="3" height="1.5" fill="#1080f8"/><rect x="595.3" y="139.2" width="4.5" height="1.5" fill="#1080f8"/><rect x="622.9" y="134.0" width="1.5" height="1.5" fill="#1080f8"/><rect x="667.4" y="129.0" width="3" height="1.5" fill="#30b0f8"/><rect x="684.3" y="118.6" width="1.5" height="3" fill="#1080f8"/><rect x="721.7" y="135.7" width="1.5" height="1.5" fill="#2098f8"/><rect x="576.4" y="148.8" width="1.5" height="1.5" fill="#40c0f8"/><rect x="716.6" y="119.2" width="1.5" height="3" fill="#2098f8"/><rect x="578.9" y="148.5" width="1.5" height="1.5" fill="#2098f8"/><rect x="705.0" y="140.2" width="1.5" height="3" fill="#58e0ff"/><rect x="630.2" y="123.4" width="4.5" height="1.5" fill="#2098f8"/><rect x="698.3" y="140.2" width="3" height="3" fill="#2098f8"/><rect x="705.0" y="133.7" width="1.5" height="3" fill="#1080f8"/><rect x="679.5" y="116.2" width="3" height="1.5" fill="#30b0f8"/><rect x="646.1" y="134.8" width="1.5" height="1.5" fill="#30b0f8"/><rect x="715.2" y="124.8" width="4.5" height="1.5" fill="#40c0f8"/><rect x="669.5" y="130.2" width="1.5" height="1.5" fill="#2098f8"/><rect x="689.8" y="132.7" width="3" height="3" fill="#30b0f8"/><rect x="581.2" y="147.8" width="4.5" height="3" fill="#70f8ff"/><rect x="588.4" y="165.3" width="1.5" height="1.5" fill="#2098f8"/><rect x="677.0" y="135.2" width="3" height="1.5" fill="#30b0f8"/><rect x="714.3" y="130.8" width="1.5" height="1.5" fill="#40c0f8"/><rect x="717.8" y="121.5" width="1.5" height="3" fill="#2098f8"/><rect x="676.7" y="133.6" width="4.5" height="3" fill="#2098f8"/><rect x="678.7" y="130.4" width="3" height="1.5" fill="#70f8ff"/><rect x="663.0" y="123.2" width="1.5" height="1.5" fill="#70f8ff"/><rect x="704.5" y="138.5" width="1.5" height="1.5" fill="#70f8ff"/><rect x="713.3" y="143.9" width="1.5" height="1.5" fill="#2098f8"/><rect x="673.9" y="137.1" width="3" height="1.5" fill="#30b0f8"/><rect x="614.8" y="142.6" width="1.5" height="1.5" fill="#30b0f8"/>
<path d="M534.5 346.5l3-1.8l1.8 2.2l-3.2 2z" fill="#f01000"/><path d="M524.5 353l1.2 2.8" stroke="#000068" stroke-width="1"/>
<circle cx="667.5" cy="261.5" r="7.3" fill="#fff"/>
<polyline points="480.6,145.8 494.6,138.1 508.7,128.9 509.4,119.1 512.9,118.1 513.2,112.1 516.4,110.0 515.0,106.2 511.8,104.8 508.7,107.2 506.6,104.4 505.2,102.0 509.4,99.2 510.8,94.6 515.0,92.2 543.8,90.3 544.7,107.2 550.1,107.9 555.7,106.8 557.4,97.4 555.0,92.4 560.6,91.3 563.4,88.0 565.5,91.0 573.2,93.9 578.8,94.6 582.0,96.8 589.0,97.6 593.2,95.8 603.1,96.8 609.4,98.6 612.2,102.1 617.1,103.8 622.0,102.8 622.7,100.7 624.8,100.0 625.8,102.1 631.1,101.4 634.6,99.3 637.4,95.1 641.0,93.7 643.8,96.2 648.0,95.1 651.5,91.6 652.2,89.5 654.3,91.6 657.1,94.4 663.4,88.8 662.7,86.7 657.8,87.4 657.1,86.0 664.8,82.4 670.4,80.3 673.2,82.4 677.4,79.6 679.0,76.8 683.2,75.4 685.0,75.0" fill="none" stroke="#000" stroke-width="1.15" stroke-linejoin="round"/>
<polyline points="679.0,76.8 677.6,80.3 680.4,82.4 684.6,83.1 686.7,80.3 687.4,76.8 685.5,75.0" fill="none" stroke="#000" stroke-width="1.15" stroke-linejoin="round"/>
<polyline points="698.7,74.7 712.0,76.1 714.8,90.2 716.2,90.2 716.9,95.8 710.6,97.6 709.9,95.1 706.0,96.8 709.6,107.0 718.3,104.2 718.0,100.7 720.4,100.0 725.3,106.3 730.2,104.2 728.1,96.8 731.0,95.1 733.3,101.4 746.7,94.4 741.9,84.6 731.6,89.5 721.8,85.3 731.2,79.6 729.5,74.7" fill="none" stroke="#000" stroke-width="1.15" stroke-linejoin="round"/>
<polyline points="749.2,75.2 750.6,77.5 755.5,75.4 757.6,78.9 748.9,84.6 751.3,89.5 764.6,82.4 761.8,75.4" fill="none" stroke="#000" stroke-width="1.15" stroke-linejoin="round"/>
<rect x="59.5" y="74.5" width="374.0" height="374.0" fill="none" stroke="#000" stroke-width="1.6"/>
<path d="M59.50 74.50L59.50 60.00M59.50 448.50L59.50 463.00M59.50 448.50L45.00 448.50M433.50 448.50L448.00 448.50M153.00 74.50L153.00 60.00M153.00 448.50L153.00 463.00M59.50 355.00L45.00 355.00M433.50 355.00L448.00 355.00M246.50 74.50L246.50 60.00M246.50 448.50L246.50 463.00M59.50 261.50L45.00 261.50M433.50 261.50L448.00 261.50M340.00 74.50L340.00 60.00M340.00 448.50L340.00 463.00M59.50 168.00L45.00 168.00M433.50 168.00L448.00 168.00M433.50 74.50L433.50 60.00M433.50 448.50L433.50 463.00M59.50 74.50L45.00 74.50M433.50 74.50L448.00 74.50" stroke="#000" stroke-width="1.7" fill="none"/>
<path d="M75.08 74.50L75.08 67.50M75.08 448.50L75.08 455.50M59.50 432.92L52.50 432.92M433.50 432.92L440.50 432.92M90.67 74.50L90.67 67.50M90.67 448.50L90.67 455.50M59.50 417.33L52.50 417.33M433.50 417.33L440.50 417.33M106.25 74.50L106.25 67.50M106.25 448.50L106.25 455.50M59.50 401.75L52.50 401.75M433.50 401.75L440.50 401.75M121.83 74.50L121.83 67.50M121.83 448.50L121.83 455.50M59.50 386.17L52.50 386.17M433.50 386.17L440.50 386.17M137.42 74.50L137.42 67.50M137.42 448.50L137.42 455.50M59.50 370.58L52.50 370.58M433.50 370.58L440.50 370.58M168.58 74.50L168.58 67.50M168.58 448.50L168.58 455.50M59.50 339.42L52.50 339.42M433.50 339.42L440.50 339.42M184.17 74.50L184.17 67.50M184.17 448.50L184.17 455.50M59.50 323.83L52.50 323.83M433.50 323.83L440.50 323.83M199.75 74.50L199.75 67.50M199.75 448.50L199.75 455.50M59.50 308.25L52.50 308.25M433.50 308.25L440.50 308.25M215.33 74.50L215.33 67.50M215.33 448.50L215.33 455.50M59.50 292.67L52.50 292.67M433.50 292.67L440.50 292.67M230.92 74.50L230.92 67.50M230.92 448.50L230.92 455.50M59.50 277.08L52.50 277.08M433.50 277.08L440.50 277.08M262.08 74.50L262.08 67.50M262.08 448.50L262.08 455.50M59.50 245.92L52.50 245.92M433.50 245.92L440.50 245.92M277.67 74.50L277.67 67.50M277.67 448.50L277.67 455.50M59.50 230.33L52.50 230.33M433.50 230.33L440.50 230.33M293.25 74.50L293.25 67.50M293.25 448.50L293.25 455.50M59.50 214.75L52.50 214.75M433.50 214.75L440.50 214.75M308.83 74.50L308.83 67.50M308.83 448.50L308.83 455.50M59.50 199.17L52.50 199.17M433.50 199.17L440.50 199.17M324.42 74.50L324.42 67.50M324.42 448.50L324.42 455.50M59.50 183.58L52.50 183.58M433.50 183.58L440.50 183.58M355.58 74.50L355.58 67.50M355.58 448.50L355.58 455.50M59.50 152.42L52.50 152.42M433.50 152.42L440.50 152.42M371.17 74.50L371.17 67.50M371.17 448.50L371.17 455.50M59.50 136.83L52.50 136.83M433.50 136.83L440.50 136.83M386.75 74.50L386.75 67.50M386.75 448.50L386.75 455.50M59.50 121.25L52.50 121.25M433.50 121.25L440.50 121.25M402.33 74.50L402.33 67.50M402.33 448.50L402.33 455.50M59.50 105.67L52.50 105.67M433.50 105.67L440.50 105.67M417.92 74.50L417.92 67.50M417.92 448.50L417.92 455.50M59.50 90.08L52.50 90.08M433.50 90.08L440.50 90.08" stroke="#000" stroke-width="1.0" fill="none"/>
<rect x="480.5" y="74.5" width="374.0" height="374.0" fill="none" stroke="#000" stroke-width="1.6"/>
<path d="M480.50 74.50L480.50 60.00M480.50 448.50L480.50 463.00M480.50 448.50L466.00 448.50M854.50 448.50L869.00 448.50M574.00 74.50L574.00 60.00M574.00 448.50L574.00 463.00M480.50 355.00L466.00 355.00M854.50 355.00L869.00 355.00M667.50 74.50L667.50 60.00M667.50 448.50L667.50 463.00M480.50 261.50L466.00 261.50M854.50 261.50L869.00 261.50M761.00 74.50L761.00 60.00M761.00 448.50L761.00 463.00M480.50 168.00L466.00 168.00M854.50 168.00L869.00 168.00M854.50 74.50L854.50 60.00M854.50 448.50L854.50 463.00M480.50 74.50L466.00 74.50M854.50 74.50L869.00 74.50" stroke="#000" stroke-width="1.7" fill="none"/>
<path d="M496.08 74.50L496.08 67.50M496.08 448.50L496.08 455.50M480.50 432.92L473.50 432.92M854.50 432.92L861.50 432.92M511.67 74.50L511.67 67.50M511.67 448.50L511.67 455.50M480.50 417.33L473.50 417.33M854.50 417.33L861.50 417.33M527.25 74.50L527.25 67.50M527.25 448.50L527.25 455.50M480.50 401.75L473.50 401.75M854.50 401.75L861.50 401.75M542.83 74.50L542.83 67.50M542.83 448.50L542.83 455.50M480.50 386.17L473.50 386.17M854.50 386.17L861.50 386.17M558.42 74.50L558.42 67.50M558.42 448.50L558.42 455.50M480.50 370.58L473.50 370.58M854.50 370.58L861.50 370.58M589.58 74.50L589.58 67.50M589.58 448.50L589.58 455.50M480.50 339.42L473.50 339.42M854.50 339.42L861.50 339.42M605.17 74.50L605.17 67.50M605.17 448.50L605.17 455.50M480.50 323.83L473.50 323.83M854.50 323.83L861.50 323.83M620.75 74.50L620.75 67.50M620.75 448.50L620.75 455.50M480.50 308.25L473.50 308.25M854.50 308.25L861.50 308.25M636.33 74.50L636.33 67.50M636.33 448.50L636.33 455.50M480.50 292.67L473.50 292.67M854.50 292.67L861.50 292.67M651.92 74.50L651.92 67.50M651.92 448.50L651.92 455.50M480.50 277.08L473.50 277.08M854.50 277.08L861.50 277.08M683.08 74.50L683.08 67.50M683.08 448.50L683.08 455.50M480.50 245.92L473.50 245.92M854.50 245.92L861.50 245.92M698.67 74.50L698.67 67.50M698.67 448.50L698.67 455.50M480.50 230.33L473.50 230.33M854.50 230.33L861.50 230.33M714.25 74.50L714.25 67.50M714.25 448.50L714.25 455.50M480.50 214.75L473.50 214.75M854.50 214.75L861.50 214.75M729.83 74.50L729.83 67.50M729.83 448.50L729.83 455.50M480.50 199.17L473.50 199.17M854.50 199.17L861.50 199.17M745.42 74.50L745.42 67.50M745.42 448.50L745.42 455.50M480.50 183.58L473.50 183.58M854.50 183.58L861.50 183.58M776.58 74.50L776.58 67.50M776.58 448.50L776.58 455.50M480.50 152.42L473.50 152.42M854.50 152.42L861.50 152.42M792.17 74.50L792.17 67.50M792.17 448.50L792.17 455.50M480.50 136.83L473.50 136.83M854.50 136.83L861.50 136.83M807.75 74.50L807.75 67.50M807.75 448.50L807.75 455.50M480.50 121.25L473.50 121.25M854.50 121.25L861.50 121.25M823.33 74.50L823.33 67.50M823.33 448.50L823.33 455.50M480.50 105.67L473.50 105.67M854.50 105.67L861.50 105.67M838.92 74.50L838.92 67.50M838.92 448.50L838.92 455.50M480.50 90.08L473.50 90.08M854.50 90.08L861.50 90.08" stroke="#000" stroke-width="1.0" fill="none"/>
<text y="24.2" font-size="30"><tspan x="60.02" textLength="143.33" lengthAdjust="spacingAndGlyphs">Fukuoka,</tspan> <tspan x="214.83" textLength="142.89" lengthAdjust="spacingAndGlyphs">20190622</tspan> <tspan x="369.96" textLength="98.74" lengthAdjust="spacingAndGlyphs">[05:02,</tspan> <tspan x="480.33" textLength="100.99" lengthAdjust="spacingAndGlyphs">el=0.0]</tspan></text>
<text y="57.3" font-size="25.5"><tspan x="60.6" textLength="53.64" lengthAdjust="spacingAndGlyphs">SNR</tspan> <tspan x="124.53" textLength="54.31" lengthAdjust="spacingAndGlyphs">[dB]</tspan></text>
<text y="57.3" font-size="25.5"><tspan x="481.24" textLength="111.45" lengthAdjust="spacingAndGlyphs">Doppler</tspan> <tspan x="599.7" textLength="110.3" lengthAdjust="spacingAndGlyphs">Velocity</tspan> <tspan x="717.53" textLength="71.58" lengthAdjust="spacingAndGlyphs">[m/s]</tspan></text>
<text transform="translate(30.6 84.30) scale(1.045 1)" font-size="27.4" text-anchor="end">6</text>
<text transform="translate(30.6 177.80) scale(1.045 1)" font-size="27.4" text-anchor="end">3</text>
<text transform="translate(30.6 271.30) scale(1.045 1)" font-size="27.4" text-anchor="end">0</text>
<text transform="translate(30.6 364.80) scale(1.045 1)" font-size="27.4" text-anchor="end">−3</text>
<text transform="translate(30.6 458.30) scale(1.045 1)" font-size="27.4" text-anchor="end">−6</text>
<text transform="translate(433.50 499) scale(1.045 1)" font-size="27.4" text-anchor="middle">6</text>
<text transform="translate(340.00 499) scale(1.045 1)" font-size="27.4" text-anchor="middle">3</text>
<text transform="translate(246.50 499) scale(1.045 1)" font-size="27.4" text-anchor="middle">0</text>
<text transform="translate(152.60 499) scale(0.975 1)" font-size="27.4" text-anchor="middle">−3</text>
<text transform="translate(59.10 499) scale(0.975 1)" font-size="27.4" text-anchor="middle">−6</text>
<text transform="translate(854.50 499) scale(1.045 1)" font-size="27.4" text-anchor="middle">6</text>
<text transform="translate(761.00 499) scale(1.045 1)" font-size="27.4" text-anchor="middle">3</text>
<text transform="translate(667.50 499) scale(1.045 1)" font-size="27.4" text-anchor="middle">0</text>
<text transform="translate(573.60 499) scale(0.975 1)" font-size="27.4" text-anchor="middle">−3</text>
<text transform="translate(480.10 499) scale(0.975 1)" font-size="27.4" text-anchor="middle">−6</text>
<rect x="58.90" y="509.8" width="9.20" height="9.60" fill="#000000"/>
<rect x="68.00" y="509.8" width="9.20" height="9.60" fill="#000000"/>
<rect x="77.10" y="509.8" width="9.20" height="9.60" fill="#000000"/>
<rect x="86.20" y="509.8" width="9.20" height="9.60" fill="#000000"/>
<rect x="95.30" y="509.8" width="9.20" height="9.60" fill="#000000"/>
<rect x="104.40" y="509.8" width="9.20" height="9.60" fill="#000000"/>
<rect x="113.50" y="509.8" width="9.20" height="9.60" fill="#000000"/>
<rect x="122.60" y="509.8" width="9.20" height="9.60" fill="#000000"/>
<rect x="131.70" y="509.8" width="9.20" height="9.60" fill="#000000"/>
<rect x="140.80" y="509.8" width="9.20" height="9.60" fill="#000000"/>
<rect x="149.90" y="509.8" width="9.20" height="9.60" fill="#050505"/>
<rect x="159.00" y="509.8" width="9.20" height="9.60" fill="#0f0f0f"/>
<rect x="168.10" y="509.8" width="9.20" height="9.60" fill="#191919"/>
<rect x="177.20" y="509.8" width="9.20" height="9.60" fill="#222222"/>
<rect x="186.30" y="509.8" width="9.20" height="9.60" fill="#2c2c2c"/>
<rect x="195.40" y="509.8" width="9.20" height="9.60" fill="#363636"/>
<rect x="204.50" y="509.8" width="9.20" height="9.60" fill="#404040"/>
<rect x="213.60" y="509.8" width="9.20" height="9.60" fill="#4a4a4a"/>
<rect x="222.70" y="509.8" width="9.20" height="9.60" fill="#535353"/>
<rect x="231.80" y="509.8" width="9.20" height="9.60" fill="#5d5d5d"/>
<rect x="240.90" y="509.8" width="9.20" height="9.60" fill="#676767"/>
<rect x="250.00" y="509.8" width="9.20" height="9.60" fill="#717171"/>
<rect x="259.10" y="509.8" width="9.20" height="9.60" fill="#7b7b7b"/>
<rect x="268.20" y="509.8" width="9.20" height="9.60" fill="#848484"/>
<rect x="277.30" y="509.8" width="9.20" height="9.60" fill="#8e8e8e"/>
<rect x="286.40" y="509.8" width="9.20" height="9.60" fill="#989898"/>
<rect x="295.50" y="509.8" width="9.20" height="9.60" fill="#a2a2a2"/>
<rect x="304.60" y="509.8" width="9.20" height="9.60" fill="#acacac"/>
<rect x="313.70" y="509.8" width="9.20" height="9.60" fill="#b5b5b5"/>
<rect x="322.80" y="509.8" width="9.20" height="9.60" fill="#bfbfbf"/>
<rect x="331.90" y="509.8" width="9.20" height="9.60" fill="#c9c9c9"/>
<rect x="341.00" y="509.8" width="9.20" height="9.60" fill="#d3d3d3"/>
<rect x="350.10" y="509.8" width="9.20" height="9.60" fill="#dddddd"/>
<rect x="359.20" y="509.8" width="9.20" height="9.60" fill="#e6e6e6"/>
<rect x="368.30" y="509.8" width="9.20" height="9.60" fill="#f0f0f0"/>
<rect x="377.40" y="509.8" width="9.20" height="9.60" fill="#fafafa"/>
<path d="M58.90 509.8V519.4M68.00 509.8V519.4M77.10 509.8V519.4M86.20 509.8V519.4M95.30 509.8V519.4M104.40 509.8V519.4M113.50 509.8V519.4M122.60 509.8V519.4M131.70 509.8V519.4M140.80 509.8V519.4M149.90 509.8V519.4M159.00 509.8V519.4M168.10 509.8V519.4M177.20 509.8V519.4M186.30 509.8V519.4M195.40 509.8V519.4M204.50 509.8V519.4M213.60 509.8V519.4M222.70 509.8V519.4M231.80 509.8V519.4M240.90 509.8V519.4M250.00 509.8V519.4M259.10 509.8V519.4M268.20 509.8V519.4M277.30 509.8V519.4M286.40 509.8V519.4M295.50 509.8V519.4M304.60 509.8V519.4M313.70 509.8V519.4M322.80 509.8V519.4M331.90 509.8V519.4M341.00 509.8V519.4M350.10 509.8V519.4M359.20 509.8V519.4M368.30 509.8V519.4M377.40 509.8V519.4M386.50 509.8V519.4" stroke="#000" stroke-width="1.5" fill="none"/>
<path d="M386.49999999999994 509.40000000000003L396.09999999999997 514.6L386.49999999999994 519.8Z" fill="#ffff00" stroke="#000" stroke-width="1.9" stroke-linejoin="miter"/>
<path d="M58.199999999999996 509.8H387.19999999999993M58.199999999999996 519.4H387.19999999999993" stroke="#000" stroke-width="1.5" fill="none"/>
<path d="M58.90 519.4V534.0" stroke="#000" stroke-width="1.7"/>
<path d="M67.20 519.4L68.80 519.4L68.00 527.0Z" fill="#000" stroke="#000" stroke-width="0.3"/>
<path d="M76.30 519.4L77.90 519.4L77.10 527.0Z" fill="#000" stroke="#000" stroke-width="0.3"/>
<path d="M85.40 519.4L87.00 519.4L86.20 527.0Z" fill="#000" stroke="#000" stroke-width="0.3"/>
<path d="M94.50 519.4L96.10 519.4L95.30 527.0Z" fill="#000" stroke="#000" stroke-width="0.3"/>
<path d="M104.40 519.4V534.0" stroke="#000" stroke-width="1.7"/>
<path d="M112.70 519.4L114.30 519.4L113.50 527.0Z" fill="#000" stroke="#000" stroke-width="0.3"/>
<path d="M121.80 519.4L123.40 519.4L122.60 527.0Z" fill="#000" stroke="#000" stroke-width="0.3"/>
<path d="M130.90 519.4L132.50 519.4L131.70 527.0Z" fill="#000" stroke="#000" stroke-width="0.3"/>
<path d="M140.00 519.4L141.60 519.4L140.80 527.0Z" fill="#000" stroke="#000" stroke-width="0.3"/>
<path d="M149.90 519.4V534.0" stroke="#000" stroke-width="1.7"/>
<path d="M158.20 519.4L159.80 519.4L159.00 527.0Z" fill="#000" stroke="#000" stroke-width="0.3"/>
<path d="M167.30 519.4L168.90 519.4L168.10 527.0Z" fill="#000" stroke="#000" stroke-width="0.3"/>
<path d="M176.40 519.4L178.00 519.4L177.20 527.0Z" fill="#000" stroke="#000" stroke-width="0.3"/>
<path d="M185.50 519.4L187.10 519.4L186.30 527.0Z" fill="#000" stroke="#000" stroke-width="0.3"/>
<path d="M195.40 519.4V534.0" stroke="#000" stroke-width="1.7"/>
<path d="M203.70 519.4L205.30 519.4L204.50 527.0Z" fill="#000" stroke="#000" stroke-width="0.3"/>
<path d="M212.80 519.4L214.40 519.4L213.60 527.0Z" fill="#000" stroke="#000" stroke-width="0.3"/>
<path d="M221.90 519.4L223.50 519.4L222.70 527.0Z" fill="#000" stroke="#000" stroke-width="0.3"/>
<path d="M231.00 519.4L232.60 519.4L231.80 527.0Z" fill="#000" stroke="#000" stroke-width="0.3"/>
<path d="M240.90 519.4V534.0" stroke="#000" stroke-width="1.7"/>
<path d="M249.20 519.4L250.80 519.4L250.00 527.0Z" fill="#000" stroke="#000" stroke-width="0.3"/>
<path d="M258.30 519.4L259.90 519.4L259.10 527.0Z" fill="#000" stroke="#000" stroke-width="0.3"/>
<path d="M267.40 519.4L269.00 519.4L268.20 527.0Z" fill="#000" stroke="#000" stroke-width="0.3"/>
<path d="M276.50 519.4L278.10 519.4L277.30 527.0Z" fill="#000" stroke="#000" stroke-width="0.3"/>
<path d="M286.40 519.4V534.0" stroke="#000" stroke-width="1.7"/>
<path d="M294.70 519.4L296.30 519.4L295.50 527.0Z" fill="#000" stroke="#000" stroke-width="0.3"/>
<path d="M303.80 519.4L305.40 519.4L304.60 527.0Z" fill="#000" stroke="#000" stroke-width="0.3"/>
<path d="M312.90 519.4L314.50 519.4L313.70 527.0Z" fill="#000" stroke="#000" stroke-width="0.3"/>
<path d="M322.00 519.4L323.60 519.4L322.80 527.0Z" fill="#000" stroke="#000" stroke-width="0.3"/>
<path d="M331.90 519.4V534.0" stroke="#000" stroke-width="1.7"/>
<path d="M340.20 519.4L341.80 519.4L341.00 527.0Z" fill="#000" stroke="#000" stroke-width="0.3"/>
<path d="M349.30 519.4L350.90 519.4L350.10 527.0Z" fill="#000" stroke="#000" stroke-width="0.3"/>
<path d="M358.40 519.4L360.00 519.4L359.20 527.0Z" fill="#000" stroke="#000" stroke-width="0.3"/>
<path d="M367.50 519.4L369.10 519.4L368.30 527.0Z" fill="#000" stroke="#000" stroke-width="0.3"/>
<path d="M377.40 519.4V534.0" stroke="#000" stroke-width="1.7"/>
<path d="M385.70 519.4L387.30 519.4L386.50 527.0Z" fill="#000" stroke="#000" stroke-width="0.3"/>
<text transform="translate(58.90 568.2) scale(1.045 1)" font-size="27.4" text-anchor="middle">0</text>
<text transform="translate(104.40 568.2) scale(1.045 1)" font-size="27.4" text-anchor="middle">2.5</text>
<text transform="translate(149.90 568.2) scale(1.045 1)" font-size="27.4" text-anchor="middle">5</text>
<text transform="translate(195.40 568.2) scale(1.045 1)" font-size="27.4" text-anchor="middle">7.5</text>
<text transform="translate(240.90 568.2) scale(1.045 1)" font-size="27.4" text-anchor="middle">10</text>
<text transform="translate(286.40 568.2) scale(1.045 1)" font-size="27.4" text-anchor="middle">12.5</text>
<text transform="translate(331.90 568.2) scale(1.045 1)" font-size="27.4" text-anchor="middle">15</text>
<text transform="translate(377.40 568.2) scale(1.045 1)" font-size="27.4" text-anchor="middle">17.5</text>
<rect x="479.83" y="509.8" width="8.72" height="9.60" fill="#d0ffff"/>
<rect x="488.45" y="509.8" width="8.72" height="9.60" fill="#b8ffff"/>
<rect x="497.08" y="509.8" width="8.72" height="9.60" fill="#a0ffff"/>
<rect x="505.70" y="509.8" width="8.72" height="9.60" fill="#88ffff"/>
<rect x="514.33" y="509.8" width="8.72" height="9.60" fill="#70f8ff"/>
<rect x="522.95" y="509.8" width="8.72" height="9.60" fill="#58e0ff"/>
<rect x="531.58" y="509.8" width="8.72" height="9.60" fill="#40c0f8"/>
<rect x="540.20" y="509.8" width="8.72" height="9.60" fill="#30b0f8"/>
<rect x="548.83" y="509.8" width="8.72" height="9.60" fill="#2098f8"/>
<rect x="557.45" y="509.8" width="8.72" height="9.60" fill="#1080f8"/>
<rect x="566.08" y="509.8" width="8.72" height="9.60" fill="#1068f0"/>
<rect x="574.70" y="509.8" width="8.72" height="9.60" fill="#0848f0"/>
<rect x="583.33" y="509.8" width="8.72" height="9.60" fill="#0018f0"/>
<rect x="591.95" y="509.8" width="8.72" height="9.60" fill="#0000e8"/>
<rect x="600.58" y="509.8" width="8.72" height="9.60" fill="#0000c8"/>
<rect x="609.20" y="509.8" width="8.72" height="9.60" fill="#0000b0"/>
<rect x="617.83" y="509.8" width="8.72" height="9.60" fill="#000098"/>
<rect x="626.45" y="509.8" width="8.72" height="9.60" fill="#000080"/>
<rect x="635.08" y="509.8" width="8.72" height="9.60" fill="#000058"/>
<rect x="643.70" y="509.8" width="8.72" height="9.60" fill="#e80000"/>
<rect x="652.33" y="509.8" width="8.72" height="9.60" fill="#ff1000"/>
<rect x="660.95" y="509.8" width="8.72" height="9.60" fill="#ff2800"/>
<rect x="669.58" y="509.8" width="8.72" height="9.60" fill="#ff4800"/>
<rect x="678.20" y="509.8" width="8.72" height="9.60" fill="#ff6000"/>
<rect x="686.83" y="509.8" width="8.72" height="9.60" fill="#ff7800"/>
<rect x="695.45" y="509.8" width="8.72" height="9.60" fill="#ff8808"/>
<rect x="704.08" y="509.8" width="8.72" height="9.60" fill="#ff9810"/>
<rect x="712.70" y="509.8" width="8.72" height="9.60" fill="#ffa820"/>
<rect x="721.33" y="509.8" width="8.72" height="9.60" fill="#ffb828"/>
<rect x="729.95" y="509.8" width="8.72" height="9.60" fill="#ffc830"/>
<rect x="738.58" y="509.8" width="8.72" height="9.60" fill="#ffe040"/>
<rect x="747.20" y="509.8" width="8.72" height="9.60" fill="#fff850"/>
<rect x="755.83" y="509.8" width="8.72" height="9.60" fill="#ffff60"/>
<rect x="764.45" y="509.8" width="8.72" height="9.60" fill="#ffff70"/>
<rect x="773.08" y="509.8" width="8.72" height="9.60" fill="#ffff88"/>
<rect x="781.70" y="509.8" width="8.72" height="9.60" fill="#ffffa0"/>
<rect x="790.33" y="509.8" width="8.72" height="9.60" fill="#ffffb8"/>
<rect x="798.95" y="509.8" width="8.72" height="9.60" fill="#ffffd0"/>
<path d="M479.83 509.8V519.4M488.45 509.8V519.4M497.08 509.8V519.4M505.70 509.8V519.4M514.33 509.8V519.4M522.95 509.8V519.4M531.58 509.8V519.4M540.20 509.8V519.4M548.83 509.8V519.4M557.45 509.8V519.4M566.08 509.8V519.4M574.70 509.8V519.4M583.33 509.8V519.4M591.95 509.8V519.4M600.58 509.8V519.4M609.20 509.8V519.4M617.83 509.8V519.4M626.45 509.8V519.4M635.08 509.8V519.4M643.70 509.8V519.4M652.33 509.8V519.4M660.95 509.8V519.4M669.58 509.8V519.4M678.20 509.8V519.4M686.83 509.8V519.4M695.45 509.8V519.4M704.08 509.8V519.4M712.70 509.8V519.4M721.33 509.8V519.4M729.95 509.8V519.4M738.58 509.8V519.4M747.20 509.8V519.4M755.83 509.8V519.4M764.45 509.8V519.4M773.08 509.8V519.4M781.70 509.8V519.4M790.33 509.8V519.4M798.95 509.8V519.4M807.58 509.8V519.4" stroke="#000" stroke-width="1.5" fill="none"/>
<path d="M479.82500000000005 509.40000000000003L471.02500000000003 514.6L479.82500000000005 519.8Z" fill="#e0ffff" stroke="#000" stroke-width="1.9" stroke-linejoin="miter"/>
<path d="M807.575 509.40000000000003L817.1750000000001 514.6L807.575 519.8Z" fill="#ffffe8" stroke="#000" stroke-width="1.9" stroke-linejoin="miter"/>
<path d="M479.12500000000006 509.8H808.2750000000001M479.12500000000006 519.4H808.2750000000001" stroke="#000" stroke-width="1.5" fill="none"/>
<path d="M479.03 519.4L480.63 519.4L479.83 527.0Z" fill="#000" stroke="#000" stroke-width="0.3"/>
<path d="M487.65 519.4L489.25 519.4L488.45 527.0Z" fill="#000" stroke="#000" stroke-width="0.3"/>
<path d="M496.28 519.4L497.88 519.4L497.08 527.0Z" fill="#000" stroke="#000" stroke-width="0.3"/>
<path d="M505.70 519.4V534.0" stroke="#000" stroke-width="1.7"/>
<path d="M513.53 519.4L515.12 519.4L514.33 527.0Z" fill="#000" stroke="#000" stroke-width="0.3"/>
<path d="M522.15 519.4L523.75 519.4L522.95 527.0Z" fill="#000" stroke="#000" stroke-width="0.3"/>
<path d="M530.78 519.4L532.38 519.4L531.58 527.0Z" fill="#000" stroke="#000" stroke-width="0.3"/>
<path d="M539.40 519.4L541.00 519.4L540.20 527.0Z" fill="#000" stroke="#000" stroke-width="0.3"/>
<path d="M548.03 519.4L549.62 519.4L548.83 527.0Z" fill="#000" stroke="#000" stroke-width="0.3"/>
<path d="M556.65 519.4L558.25 519.4L557.45 527.0Z" fill="#000" stroke="#000" stroke-width="0.3"/>
<path d="M565.28 519.4L566.88 519.4L566.08 527.0Z" fill="#000" stroke="#000" stroke-width="0.3"/>
<path d="M574.70 519.4V534.0" stroke="#000" stroke-width="1.7"/>
<path d="M582.53 519.4L584.12 519.4L583.33 527.0Z" fill="#000" stroke="#000" stroke-width="0.3"/>
<path d="M591.15 519.4L592.75 519.4L591.95 527.0Z" fill="#000" stroke="#000" stroke-width="0.3"/>
<path d="M599.78 519.4L601.38 519.4L600.58 527.0Z" fill="#000" stroke="#000" stroke-width="0.3"/>
<path d="M608.40 519.4L610.00 519.4L609.20 527.0Z" fill="#000" stroke="#000" stroke-width="0.3"/>
<path d="M617.03 519.4L618.62 519.4L617.83 527.0Z" fill="#000" stroke="#000" stroke-width="0.3"/>
<path d="M625.65 519.4L627.25 519.4L626.45 527.0Z" fill="#000" stroke="#000" stroke-width="0.3"/>
<path d="M634.28 519.4L635.88 519.4L635.08 527.0Z" fill="#000" stroke="#000" stroke-width="0.3"/>
<path d="M643.70 519.4V534.0" stroke="#000" stroke-width="1.7"/>
<path d="M651.53 519.4L653.12 519.4L652.33 527.0Z" fill="#000" stroke="#000" stroke-width="0.3"/>
<path d="M660.15 519.4L661.75 519.4L660.95 527.0Z" fill="#000" stroke="#000" stroke-width="0.3"/>
<path d="M668.78 519.4L670.38 519.4L669.58 527.0Z" fill="#000" stroke="#000" stroke-width="0.3"/>
<path d="M677.40 519.4L679.00 519.4L678.20 527.0Z" fill="#000" stroke="#000" stroke-width="0.3"/>
<path d="M686.03 519.4L687.62 519.4L686.83 527.0Z" fill="#000" stroke="#000" stroke-width="0.3"/>
<path d="M694.65 519.4L696.25 519.4L695.45 527.0Z" fill="#000" stroke="#000" stroke-width="0.3"/>
<path d="M703.28 519.4L704.88 519.4L704.08 527.0Z" fill="#000" stroke="#000" stroke-width="0.3"/>
<path d="M712.70 519.4V534.0" stroke="#000" stroke-width="1.7"/>
<path d="M720.53 519.4L722.12 519.4L721.33 527.0Z" fill="#000" stroke="#000" stroke-width="0.3"/>
<path d="M729.15 519.4L730.75 519.4L729.95 527.0Z" fill="#000" stroke="#000" stroke-width="0.3"/>
<path d="M737.78 519.4L739.38 519.4L738.58 527.0Z" fill="#000" stroke="#000" stroke-width="0.3"/>
<path d="M746.40 519.4L748.00 519.4L747.20 527.0Z" fill="#000" stroke="#000" stroke-width="0.3"/>
<path d="M755.03 519.4L756.62 519.4L755.83 527.0Z" fill="#000" stroke="#000" stroke-width="0.3"/>
<path d="M763.65 519.4L765.25 519.4L764.45 527.0Z" fill="#000" stroke="#000" stroke-width="0.3"/>
<path d="M772.28 519.4L773.88 519.4L773.08 527.0Z" fill="#000" stroke="#000" stroke-width="0.3"/>
<path d="M781.70 519.4V534.0" stroke="#000" stroke-width="1.7"/>
<path d="M789.53 519.4L791.12 519.4L790.33 527.0Z" fill="#000" stroke="#000" stroke-width="0.3"/>
<path d="M798.15 519.4L799.75 519.4L798.95 527.0Z" fill="#000" stroke="#000" stroke-width="0.3"/>
<path d="M806.78 519.4L808.38 519.4L807.58 527.0Z" fill="#000" stroke="#000" stroke-width="0.3"/>
<text transform="translate(505.70 568.2) scale(1.045 1)" font-size="27.4" text-anchor="middle">−8</text>
<text transform="translate(574.70 568.2) scale(1.045 1)" font-size="27.4" text-anchor="middle">−4</text>
<text transform="translate(643.70 568.2) scale(1.045 1)" font-size="27.4" text-anchor="middle">0</text>
<text transform="translate(712.70 568.2) scale(1.045 1)" font-size="27.4" text-anchor="middle">4</text>
<text transform="translate(781.70 568.2) scale(1.045 1)" font-size="27.4" text-anchor="middle">8</text>
</svg></body></html>
